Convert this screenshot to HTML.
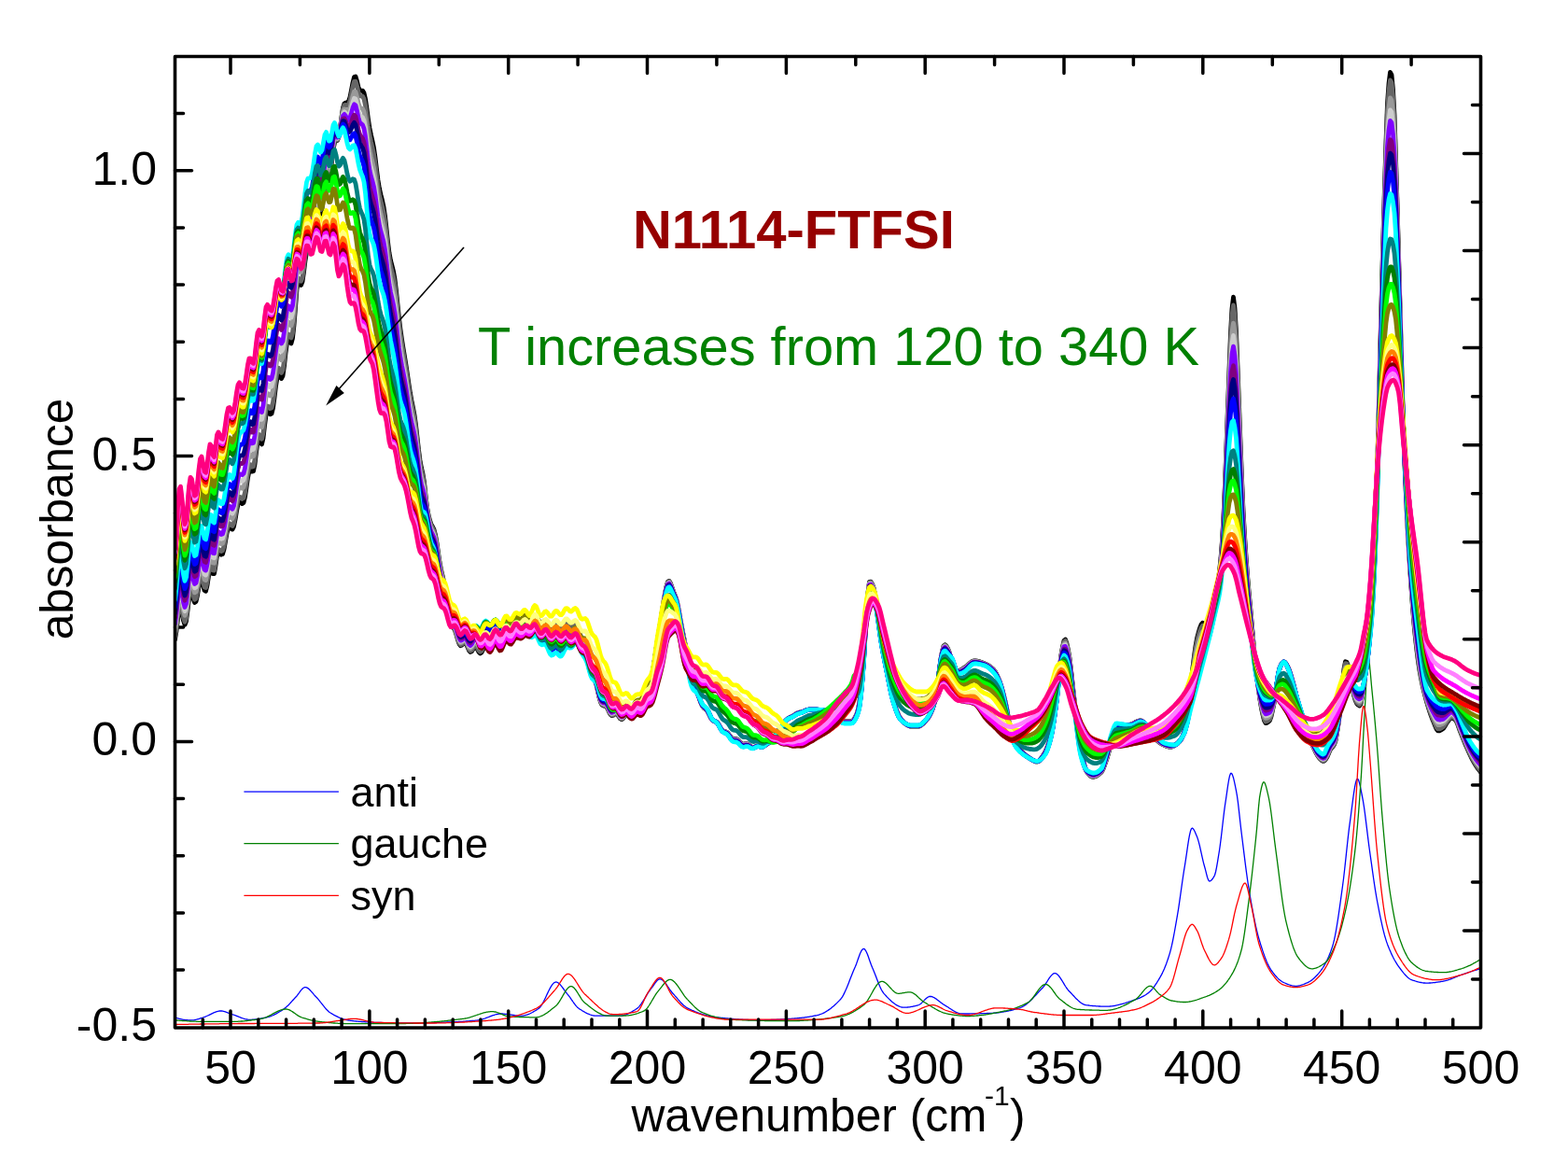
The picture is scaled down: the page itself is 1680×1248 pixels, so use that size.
<!DOCTYPE html>
<html><head><meta charset="utf-8"><title>N1114-FTFSI absorbance</title>
<style>
html,body{margin:0;padding:0;background:#fff;}
body{width:1680px;height:1248px;overflow:hidden;}
svg{display:block;}
text{font-family:'Liberation Sans', Arial, Helvetica, sans-serif;}
</style></head>
<body>
<svg width="1680" height="1248" viewBox="0 0 1680 1248">
<rect x="0" y="0" width="1680" height="1248" fill="#fff"/>
<defs><clipPath id="cp"><rect x="187.5" y="60.5" width="1399.0" height="1040.5"/></clipPath></defs>
<path d="M187.5,1039.0H196.5M187.5,977.9H196.5M187.5,916.7H196.5M187.5,855.6H196.5M187.5,794.4H205.5M187.5,733.2H196.5M187.5,672.1H196.5M187.5,610.9H196.5M187.5,549.8H196.5M187.5,488.6H205.5M187.5,427.4H196.5M187.5,366.3H196.5M187.5,305.1H196.5M187.5,244.0H196.5M187.5,182.8H205.5M187.5,121.6H196.5" fill="none" stroke="#000" stroke-width="3.5" stroke-linecap="round"/>
<g clip-path="url(#cp)">
<g fill="none" stroke-width="1.3" stroke-linejoin="round">
<polyline stroke="#0000ff" points="187.5,1089.8 188.5,1090.2 189.5,1090.6 190.5,1090.9 191.5,1091.2 192.5,1091.5 193.5,1091.7 194.5,1091.9 195.5,1092.1 196.5,1092.3 197.5,1092.4 198.5,1092.6 199.5,1092.7 200.5,1092.7 201.5,1092.8 202.5,1092.8 203.5,1092.9 204.5,1092.9 205.5,1092.9 206.5,1092.9 207.5,1092.8 208.5,1092.6 209.5,1092.4 210.5,1092.2 211.5,1091.9 212.5,1091.6 213.5,1091.3 214.5,1090.9 215.5,1090.6 216.5,1090.3 217.5,1090.0 218.5,1089.6 219.5,1089.3 220.5,1088.9 221.5,1088.5 222.5,1088.0 223.5,1087.6 224.5,1087.1 225.5,1086.6 226.5,1086.1 227.5,1085.6 228.5,1085.1 229.5,1084.7 230.5,1084.3 231.5,1083.9 232.5,1083.6 233.5,1083.4 234.5,1083.2 235.5,1083.0 236.5,1083.0 237.5,1083.0 238.5,1083.2 239.5,1083.4 240.5,1083.6 241.5,1083.9 242.5,1084.3 243.5,1084.7 244.5,1085.1 245.5,1085.4 246.5,1085.8 247.5,1086.2 248.5,1086.5 249.5,1086.9 250.5,1087.2 251.5,1087.5 252.5,1087.9 253.5,1088.3 254.5,1088.7 255.5,1089.1 256.5,1089.5 257.5,1089.9 258.5,1090.3 259.5,1090.7 260.5,1091.0 261.5,1091.3 262.5,1091.6 263.5,1091.8 264.5,1092.0 265.5,1092.2 266.5,1092.3 267.5,1092.3 268.5,1092.3 269.5,1092.3 270.5,1092.2 271.5,1092.1 272.5,1092.1 273.5,1092.0 274.5,1091.8 275.5,1091.7 276.5,1091.6 277.5,1091.4 278.5,1091.3 279.5,1091.1 280.5,1090.9 281.5,1090.7 282.5,1090.5 283.5,1090.3 284.5,1090.1 285.5,1089.9 286.5,1089.7 287.5,1089.4 288.5,1089.1 289.5,1088.8 290.5,1088.4 291.5,1088.0 292.5,1087.6 293.5,1087.1 294.5,1086.7 295.5,1086.1 296.5,1085.6 297.5,1085.0 298.5,1084.4 299.5,1083.8 300.5,1083.2 301.5,1082.6 302.5,1081.9 303.5,1081.2 304.5,1080.6 305.5,1079.8 306.5,1079.0 307.5,1078.1 308.5,1077.2 309.5,1076.2 310.5,1075.1 311.5,1074.0 312.5,1072.9 313.5,1071.8 314.5,1070.7 315.5,1069.6 316.5,1068.5 317.5,1067.5 318.5,1066.3 319.5,1064.9 320.5,1063.6 321.5,1062.2 322.5,1060.9 323.5,1059.7 324.5,1058.7 325.5,1058.0 326.5,1057.7 327.5,1057.6 328.5,1057.9 329.5,1058.4 330.5,1059.1 331.5,1060.0 332.5,1061.0 333.5,1062.1 334.5,1063.2 335.5,1064.4 336.5,1065.6 337.5,1066.7 338.5,1067.8 339.5,1068.8 340.5,1069.9 341.5,1071.1 342.5,1072.3 343.5,1073.6 344.5,1074.8 345.5,1076.1 346.5,1077.4 347.5,1078.6 348.5,1079.8 349.5,1081.0 350.5,1082.1 351.5,1083.0 352.5,1083.9 353.5,1084.7 354.5,1085.3 355.5,1085.9 356.5,1086.5 357.5,1087.1 358.5,1087.6 359.5,1088.2 360.5,1088.7 361.5,1089.2 362.5,1089.7 363.5,1090.1 364.5,1090.5 365.5,1090.9 366.5,1091.3 367.5,1091.6 368.5,1092.0 369.5,1092.2 370.5,1092.5 371.5,1092.7 372.5,1092.9 373.5,1093.0 374.5,1093.1 375.5,1093.3 376.5,1093.4 377.5,1093.5 378.5,1093.6 379.5,1093.8 380.5,1093.9 381.5,1094.0 382.5,1094.1 383.5,1094.2 384.5,1094.3 385.5,1094.4 386.5,1094.4 387.5,1094.5 388.5,1094.6 389.5,1094.7 390.5,1094.7 391.5,1094.8 392.5,1094.9 393.5,1094.9 394.5,1095.0 395.5,1095.1 396.5,1095.1 397.5,1095.2 398.5,1095.2 399.5,1095.2 400.5,1095.3 401.5,1095.3 402.5,1095.4 403.5,1095.4 404.5,1095.4 405.5,1095.5 406.5,1095.5 407.5,1095.5 408.5,1095.5 409.5,1095.6 410.5,1095.6 411.5,1095.6 412.5,1095.7 413.5,1095.7 414.5,1095.7 415.5,1095.7 416.5,1095.8 417.5,1095.8 418.5,1095.8 419.5,1095.8 420.5,1095.8 421.5,1095.9 422.5,1095.9 423.5,1095.9 424.5,1095.9 425.5,1095.9 426.5,1095.9 427.5,1096.0 428.5,1096.0 429.5,1096.0 430.5,1096.0 431.5,1096.0 432.5,1096.0 433.5,1096.0 434.5,1096.0 435.5,1096.0 436.5,1096.0 437.5,1096.0 438.5,1096.0 439.5,1096.0 440.5,1096.0 441.5,1096.0 442.5,1096.0 443.5,1095.9 444.5,1095.9 445.5,1095.9 446.5,1095.9 447.5,1095.9 448.5,1095.9 449.5,1095.9 450.5,1095.8 451.5,1095.8 452.5,1095.8 453.5,1095.8 454.5,1095.8 455.5,1095.7 456.5,1095.7 457.5,1095.7 458.5,1095.7 459.5,1095.6 460.5,1095.6 461.5,1095.6 462.5,1095.6 463.5,1095.5 464.5,1095.5 465.5,1095.5 466.5,1095.4 467.5,1095.4 468.5,1095.4 469.5,1095.3 470.5,1095.3 471.5,1095.3 472.5,1095.3 473.5,1095.2 474.5,1095.2 475.5,1095.2 476.5,1095.1 477.5,1095.1 478.5,1095.1 479.5,1095.0 480.5,1095.0 481.5,1094.9 482.5,1094.9 483.5,1094.9 484.5,1094.8 485.5,1094.8 486.5,1094.7 487.5,1094.7 488.5,1094.7 489.5,1094.6 490.5,1094.6 491.5,1094.5 492.5,1094.5 493.5,1094.4 494.5,1094.3 495.5,1094.3 496.5,1094.2 497.5,1094.2 498.5,1094.1 499.5,1094.0 500.5,1093.9 501.5,1093.9 502.5,1093.8 503.5,1093.7 504.5,1093.6 505.5,1093.5 506.5,1093.4 507.5,1093.4 508.5,1093.3 509.5,1093.2 510.5,1093.1 511.5,1093.0 512.5,1092.8 513.5,1092.7 514.5,1092.5 515.5,1092.2 516.5,1092.0 517.5,1091.7 518.5,1091.3 519.5,1091.0 520.5,1090.6 521.5,1090.2 522.5,1089.9 523.5,1089.5 524.5,1089.1 525.5,1088.7 526.5,1088.3 527.5,1087.9 528.5,1087.6 529.5,1087.3 530.5,1087.0 531.5,1086.7 532.5,1086.5 533.5,1086.3 534.5,1086.1 535.5,1086.0 536.5,1086.0 537.5,1086.0 538.5,1086.0 539.5,1086.1 540.5,1086.2 541.5,1086.3 542.5,1086.4 543.5,1086.5 544.5,1086.6 545.5,1086.8 546.5,1086.9 547.5,1087.1 548.5,1087.2 549.5,1087.4 550.5,1087.5 551.5,1087.7 552.5,1087.8 553.5,1087.9 554.5,1088.0 555.5,1088.1 556.5,1088.1 557.5,1088.2 558.5,1088.2 559.5,1088.2 560.5,1088.1 561.5,1087.9 562.5,1087.7 563.5,1087.5 564.5,1087.2 565.5,1086.8 566.5,1086.4 567.5,1086.0 568.5,1085.5 569.5,1085.0 570.5,1084.5 571.5,1083.9 572.5,1083.3 573.5,1082.7 574.5,1082.1 575.5,1081.5 576.5,1080.8 577.5,1080.1 578.5,1079.2 579.5,1077.9 580.5,1076.4 581.5,1074.6 582.5,1072.8 583.5,1070.8 584.5,1068.7 585.5,1066.5 586.5,1064.4 587.5,1062.3 588.5,1060.3 589.5,1058.4 590.5,1056.7 591.5,1055.2 592.5,1053.9 593.5,1052.9 594.5,1052.3 595.5,1052.0 596.5,1052.1 597.5,1052.5 598.5,1053.2 599.5,1054.0 600.5,1055.1 601.5,1056.3 602.5,1057.6 603.5,1059.0 604.5,1060.4 605.5,1061.8 606.5,1063.1 607.5,1064.4 608.5,1065.6 609.5,1066.9 610.5,1068.2 611.5,1069.6 612.5,1071.1 613.5,1072.5 614.5,1074.0 615.5,1075.3 616.5,1076.6 617.5,1077.9 618.5,1078.9 619.5,1079.8 620.5,1080.6 621.5,1081.2 622.5,1081.8 623.5,1082.5 624.5,1083.1 625.5,1083.6 626.5,1084.2 627.5,1084.8 628.5,1085.3 629.5,1085.8 630.5,1086.2 631.5,1086.6 632.5,1087.0 633.5,1087.3 634.5,1087.6 635.5,1087.8 636.5,1088.0 637.5,1088.1 638.5,1088.2 639.5,1088.2 640.5,1088.2 641.5,1088.2 642.5,1088.2 643.5,1088.2 644.5,1088.2 645.5,1088.2 646.5,1088.2 647.5,1088.2 648.5,1088.2 649.5,1088.2 650.5,1088.2 651.5,1088.2 652.5,1088.2 653.5,1088.2 654.5,1088.2 655.5,1088.2 656.5,1088.2 657.5,1088.2 658.5,1088.2 659.5,1088.2 660.5,1088.2 661.5,1088.2 662.5,1088.2 663.5,1088.2 664.5,1088.2 665.5,1088.1 666.5,1088.0 667.5,1087.8 668.5,1087.5 669.5,1087.2 670.5,1086.9 671.5,1086.5 672.5,1086.1 673.5,1085.6 674.5,1085.2 675.5,1084.6 676.5,1084.1 677.5,1083.5 678.5,1082.9 679.5,1082.3 680.5,1081.7 681.5,1081.0 682.5,1080.4 683.5,1079.6 684.5,1078.6 685.5,1077.4 686.5,1076.1 687.5,1074.7 688.5,1073.2 689.5,1071.6 690.5,1070.0 691.5,1068.3 692.5,1066.7 693.5,1065.0 694.5,1063.4 695.5,1061.9 696.5,1060.5 697.5,1059.2 698.5,1057.9 699.5,1056.5 700.5,1055.1 701.5,1053.6 702.5,1052.3 703.5,1051.0 704.5,1050.0 705.5,1049.3 706.5,1048.9 707.5,1048.8 708.5,1049.1 709.5,1049.7 710.5,1050.5 711.5,1051.5 712.5,1052.7 713.5,1054.0 714.5,1055.4 715.5,1056.9 716.5,1058.3 717.5,1059.8 718.5,1061.2 719.5,1062.5 720.5,1063.8 721.5,1064.8 722.5,1065.9 723.5,1067.1 724.5,1068.2 725.5,1069.4 726.5,1070.6 727.5,1071.7 728.5,1072.9 729.5,1074.0 730.5,1075.0 731.5,1076.0 732.5,1077.0 733.5,1077.8 734.5,1078.6 735.5,1079.3 736.5,1079.9 737.5,1080.4 738.5,1080.9 739.5,1081.3 740.5,1081.8 741.5,1082.3 742.5,1082.7 743.5,1083.1 744.5,1083.6 745.5,1084.0 746.5,1084.4 747.5,1084.8 748.5,1085.1 749.5,1085.5 750.5,1085.8 751.5,1086.2 752.5,1086.5 753.5,1086.8 754.5,1087.1 755.5,1087.4 756.5,1087.6 757.5,1087.9 758.5,1088.1 759.5,1088.4 760.5,1088.6 761.5,1088.8 762.5,1089.0 763.5,1089.1 764.5,1089.3 765.5,1089.5 766.5,1089.6 767.5,1089.7 768.5,1089.8 769.5,1089.9 770.5,1090.1 771.5,1090.2 772.5,1090.3 773.5,1090.4 774.5,1090.5 775.5,1090.6 776.5,1090.7 777.5,1090.8 778.5,1090.9 779.5,1091.0 780.5,1091.1 781.5,1091.2 782.5,1091.3 783.5,1091.4 784.5,1091.4 785.5,1091.5 786.5,1091.6 787.5,1091.7 788.5,1091.8 789.5,1091.8 790.5,1091.9 791.5,1092.0 792.5,1092.1 793.5,1092.1 794.5,1092.2 795.5,1092.2 796.5,1092.3 797.5,1092.4 798.5,1092.4 799.5,1092.5 800.5,1092.5 801.5,1092.5 802.5,1092.6 803.5,1092.6 804.5,1092.6 805.5,1092.7 806.5,1092.7 807.5,1092.7 808.5,1092.7 809.5,1092.8 810.5,1092.8 811.5,1092.8 812.5,1092.8 813.5,1092.8 814.5,1092.8 815.5,1092.8 816.5,1092.8 817.5,1092.8 818.5,1092.8 819.5,1092.7 820.5,1092.7 821.5,1092.7 822.5,1092.7 823.5,1092.6 824.5,1092.6 825.5,1092.6 826.5,1092.5 827.5,1092.5 828.5,1092.4 829.5,1092.4 830.5,1092.3 831.5,1092.3 832.5,1092.2 833.5,1092.2 834.5,1092.1 835.5,1092.1 836.5,1092.0 837.5,1092.0 838.5,1091.9 839.5,1091.8 840.5,1091.8 841.5,1091.7 842.5,1091.6 843.5,1091.6 844.5,1091.5 845.5,1091.5 846.5,1091.4 847.5,1091.3 848.5,1091.2 849.5,1091.2 850.5,1091.1 851.5,1091.0 852.5,1090.9 853.5,1090.8 854.5,1090.7 855.5,1090.6 856.5,1090.5 857.5,1090.4 858.5,1090.3 859.5,1090.2 860.5,1090.1 861.5,1090.0 862.5,1089.8 863.5,1089.7 864.5,1089.6 865.5,1089.4 866.5,1089.3 867.5,1089.1 868.5,1088.9 869.5,1088.8 870.5,1088.6 871.5,1088.4 872.5,1088.2 873.5,1088.0 874.5,1087.8 875.5,1087.6 876.5,1087.3 877.5,1087.1 878.5,1086.7 879.5,1086.4 880.5,1086.0 881.5,1085.6 882.5,1085.1 883.5,1084.6 884.5,1084.0 885.5,1083.4 886.5,1082.8 887.5,1082.1 888.5,1081.4 889.5,1080.7 890.5,1079.9 891.5,1079.1 892.5,1078.3 893.5,1077.4 894.5,1076.5 895.5,1075.6 896.5,1074.6 897.5,1073.6 898.5,1072.6 899.5,1071.6 900.5,1070.5 901.5,1069.3 902.5,1067.8 903.5,1066.1 904.5,1064.1 905.5,1062.0 906.5,1059.8 907.5,1057.4 908.5,1054.9 909.5,1052.4 910.5,1049.8 911.5,1047.3 912.5,1044.7 913.5,1042.2 914.5,1039.8 915.5,1037.5 916.5,1035.3 917.5,1032.7 918.5,1029.9 919.5,1027.0 920.5,1024.2 921.5,1021.6 922.5,1019.4 923.5,1017.7 924.5,1016.6 925.5,1016.3 926.5,1016.9 927.5,1018.3 928.5,1020.2 929.5,1022.6 930.5,1025.3 931.5,1028.2 932.5,1031.0 933.5,1033.7 934.5,1036.2 935.5,1038.5 936.5,1040.9 937.5,1043.4 938.5,1046.0 939.5,1048.7 940.5,1051.3 941.5,1053.8 942.5,1056.2 943.5,1058.4 944.5,1060.5 945.5,1062.2 946.5,1063.7 947.5,1064.9 948.5,1065.9 949.5,1067.0 950.5,1068.1 951.5,1069.1 952.5,1070.1 953.5,1071.1 954.5,1072.0 955.5,1072.9 956.5,1073.7 957.5,1074.5 958.5,1075.3 959.5,1076.0 960.5,1076.6 961.5,1077.2 962.5,1077.7 963.5,1078.1 964.5,1078.5 965.5,1078.8 966.5,1079.0 967.5,1079.1 968.5,1079.2 969.5,1079.2 970.5,1079.2 971.5,1079.1 972.5,1079.0 973.5,1078.9 974.5,1078.8 975.5,1078.6 976.5,1078.4 977.5,1078.3 978.5,1078.0 979.5,1077.8 980.5,1077.6 981.5,1077.4 982.5,1077.1 983.5,1076.8 984.5,1076.5 985.5,1076.0 986.5,1075.3 987.5,1074.4 988.5,1073.4 989.5,1072.4 990.5,1071.4 991.5,1070.3 992.5,1069.4 993.5,1068.6 994.5,1068.0 995.5,1067.5 996.5,1067.4 997.5,1067.5 998.5,1067.7 999.5,1068.1 1000.5,1068.5 1001.5,1069.1 1002.5,1069.7 1003.5,1070.4 1004.5,1071.2 1005.5,1072.0 1006.5,1072.8 1007.5,1073.6 1008.5,1074.3 1009.5,1075.1 1010.5,1075.8 1011.5,1076.4 1012.5,1077.0 1013.5,1077.6 1014.5,1078.2 1015.5,1078.8 1016.5,1079.5 1017.5,1080.2 1018.5,1080.8 1019.5,1081.5 1020.5,1082.1 1021.5,1082.7 1022.5,1083.3 1023.5,1083.9 1024.5,1084.4 1025.5,1084.8 1026.5,1085.2 1027.5,1085.5 1028.5,1085.8 1029.5,1085.9 1030.5,1086.0 1031.5,1086.0 1032.5,1086.0 1033.5,1086.0 1034.5,1086.0 1035.5,1086.0 1036.5,1086.0 1037.5,1086.0 1038.5,1086.0 1039.5,1085.9 1040.5,1085.9 1041.5,1085.9 1042.5,1085.9 1043.5,1085.9 1044.5,1085.9 1045.5,1085.8 1046.5,1085.8 1047.5,1085.8 1048.5,1085.8 1049.5,1085.8 1050.5,1085.7 1051.5,1085.7 1052.5,1085.7 1053.5,1085.7 1054.5,1085.6 1055.5,1085.6 1056.5,1085.6 1057.5,1085.5 1058.5,1085.5 1059.5,1085.5 1060.5,1085.4 1061.5,1085.4 1062.5,1085.4 1063.5,1085.3 1064.5,1085.2 1065.5,1085.2 1066.5,1085.1 1067.5,1085.0 1068.5,1084.9 1069.5,1084.8 1070.5,1084.7 1071.5,1084.5 1072.5,1084.4 1073.5,1084.2 1074.5,1084.1 1075.5,1083.9 1076.5,1083.7 1077.5,1083.6 1078.5,1083.4 1079.5,1083.2 1080.5,1083.0 1081.5,1082.7 1082.5,1082.5 1083.5,1082.3 1084.5,1082.0 1085.5,1081.8 1086.5,1081.5 1087.5,1081.2 1088.5,1081.0 1089.5,1080.7 1090.5,1080.4 1091.5,1080.1 1092.5,1079.8 1093.5,1079.5 1094.5,1079.0 1095.5,1078.5 1096.5,1078.0 1097.5,1077.3 1098.5,1076.6 1099.5,1075.9 1100.5,1075.1 1101.5,1074.2 1102.5,1073.4 1103.5,1072.4 1104.5,1071.5 1105.5,1070.5 1106.5,1069.5 1107.5,1068.4 1108.5,1067.3 1109.5,1066.3 1110.5,1065.2 1111.5,1064.1 1112.5,1063.0 1113.5,1061.9 1114.5,1060.8 1115.5,1059.8 1116.5,1058.7 1117.5,1057.7 1118.5,1056.5 1119.5,1055.1 1120.5,1053.6 1121.5,1052.1 1122.5,1050.5 1123.5,1048.9 1124.5,1047.4 1125.5,1046.1 1126.5,1044.9 1127.5,1043.9 1128.5,1043.1 1129.5,1042.7 1130.5,1042.6 1131.5,1042.9 1132.5,1043.5 1133.5,1044.4 1134.5,1045.5 1135.5,1046.8 1136.5,1048.3 1137.5,1049.9 1138.5,1051.5 1139.5,1053.2 1140.5,1054.9 1141.5,1056.5 1142.5,1058.0 1143.5,1059.4 1144.5,1060.7 1145.5,1061.7 1146.5,1062.7 1147.5,1063.8 1148.5,1064.9 1149.5,1066.0 1150.5,1067.0 1151.5,1068.1 1152.5,1069.2 1153.5,1070.2 1154.5,1071.1 1155.5,1072.1 1156.5,1072.9 1157.5,1073.7 1158.5,1074.5 1159.5,1075.1 1160.5,1075.7 1161.5,1076.1 1162.5,1076.5 1163.5,1076.7 1164.5,1076.8 1165.5,1076.9 1166.5,1077.0 1167.5,1077.2 1168.5,1077.3 1169.5,1077.4 1170.5,1077.5 1171.5,1077.6 1172.5,1077.6 1173.5,1077.7 1174.5,1077.8 1175.5,1077.9 1176.5,1077.9 1177.5,1078.0 1178.5,1078.0 1179.5,1078.1 1180.5,1078.1 1181.5,1078.1 1182.5,1078.2 1183.5,1078.2 1184.5,1078.2 1185.5,1078.2 1186.5,1078.2 1187.5,1078.1 1188.5,1078.1 1189.5,1078.0 1190.5,1077.9 1191.5,1077.8 1192.5,1077.6 1193.5,1077.5 1194.5,1077.3 1195.5,1077.1 1196.5,1076.9 1197.5,1076.7 1198.5,1076.4 1199.5,1076.2 1200.5,1075.9 1201.5,1075.6 1202.5,1075.4 1203.5,1075.1 1204.5,1074.8 1205.5,1074.5 1206.5,1074.1 1207.5,1073.8 1208.5,1073.5 1209.5,1073.1 1210.5,1072.8 1211.5,1072.5 1212.5,1072.1 1213.5,1071.8 1214.5,1071.4 1215.5,1071.1 1216.5,1070.8 1217.5,1070.4 1218.5,1070.1 1219.5,1069.7 1220.5,1069.3 1221.5,1068.8 1222.5,1068.4 1223.5,1067.9 1224.5,1067.4 1225.5,1066.9 1226.5,1066.3 1227.5,1065.7 1228.5,1065.0 1229.5,1064.3 1230.5,1063.6 1231.5,1062.7 1232.5,1061.8 1233.5,1060.7 1234.5,1059.6 1235.5,1058.3 1236.5,1057.0 1237.5,1055.6 1238.5,1054.1 1239.5,1052.6 1240.5,1051.0 1241.5,1049.4 1242.5,1047.7 1243.5,1045.9 1244.5,1044.1 1245.5,1042.1 1246.5,1039.9 1247.5,1037.7 1248.5,1035.2 1249.5,1032.7 1250.5,1029.9 1251.5,1027.0 1252.5,1023.9 1253.5,1020.6 1254.5,1016.9 1255.5,1012.7 1256.5,1008.0 1257.5,1002.9 1258.5,997.5 1259.5,991.9 1260.5,986.2 1261.5,980.4 1262.5,974.3 1263.5,967.7 1264.5,960.7 1265.5,953.5 1266.5,946.4 1267.5,939.5 1268.5,932.9 1269.5,926.8 1270.5,920.4 1271.5,913.6 1272.5,906.7 1273.5,900.2 1274.5,894.6 1275.5,890.3 1276.5,887.7 1277.5,887.1 1278.5,887.9 1279.5,889.5 1280.5,891.5 1281.5,893.9 1282.5,896.3 1283.5,899.1 1284.5,902.6 1285.5,906.7 1286.5,911.1 1287.5,915.6 1288.5,920.1 1289.5,924.3 1290.5,928.0 1291.5,931.7 1292.5,935.7 1293.5,939.5 1294.5,942.4 1295.5,943.9 1296.5,943.9 1297.5,943.3 1298.5,942.3 1299.5,941.0 1300.5,939.4 1301.5,937.5 1302.5,934.0 1303.5,929.1 1304.5,923.3 1305.5,917.1 1306.5,911.0 1307.5,903.9 1308.5,895.9 1309.5,887.2 1310.5,878.5 1311.5,870.1 1312.5,862.6 1313.5,856.1 1314.5,849.2 1315.5,842.2 1316.5,836.0 1317.5,831.2 1318.5,828.5 1319.5,828.3 1320.5,830.1 1321.5,833.2 1322.5,837.4 1323.5,842.2 1324.5,847.2 1325.5,852.8 1326.5,860.2 1327.5,868.9 1328.5,878.0 1329.5,886.9 1330.5,895.0 1331.5,903.0 1332.5,911.1 1333.5,919.2 1334.5,927.1 1335.5,934.7 1336.5,942.0 1337.5,948.7 1338.5,954.8 1339.5,960.8 1340.5,966.6 1341.5,972.2 1342.5,977.6 1343.5,982.7 1344.5,987.7 1345.5,992.3 1346.5,996.7 1347.5,1000.7 1348.5,1004.4 1349.5,1007.8 1350.5,1011.1 1351.5,1014.3 1352.5,1017.4 1353.5,1020.4 1354.5,1023.3 1355.5,1026.0 1356.5,1028.5 1357.5,1030.9 1358.5,1033.1 1359.5,1035.1 1360.5,1036.9 1361.5,1038.6 1362.5,1040.0 1363.5,1041.4 1364.5,1042.7 1365.5,1044.0 1366.5,1045.2 1367.5,1046.3 1368.5,1047.4 1369.5,1048.4 1370.5,1049.3 1371.5,1050.1 1372.5,1050.8 1373.5,1051.5 1374.5,1052.1 1375.5,1052.5 1376.5,1053.0 1377.5,1053.4 1378.5,1053.9 1379.5,1054.3 1380.5,1054.7 1381.5,1055.0 1382.5,1055.3 1383.5,1055.6 1384.5,1055.9 1385.5,1056.1 1386.5,1056.2 1387.5,1056.3 1388.5,1056.3 1389.5,1056.3 1390.5,1056.1 1391.5,1056.0 1392.5,1055.8 1393.5,1055.5 1394.5,1055.2 1395.5,1054.8 1396.5,1054.5 1397.5,1054.1 1398.5,1053.6 1399.5,1053.2 1400.5,1052.8 1401.5,1052.3 1402.5,1051.8 1403.5,1051.2 1404.5,1050.6 1405.5,1049.9 1406.5,1049.1 1407.5,1048.2 1408.5,1047.3 1409.5,1046.3 1410.5,1045.3 1411.5,1044.2 1412.5,1043.1 1413.5,1041.9 1414.5,1040.7 1415.5,1039.4 1416.5,1038.0 1417.5,1036.5 1418.5,1034.9 1419.5,1033.2 1420.5,1031.3 1421.5,1029.4 1422.5,1027.2 1423.5,1025.0 1424.5,1022.5 1425.5,1019.9 1426.5,1017.1 1427.5,1014.2 1428.5,1010.9 1429.5,1006.9 1430.5,1002.2 1431.5,996.8 1432.5,990.9 1433.5,984.6 1434.5,977.8 1435.5,970.8 1436.5,963.7 1437.5,956.4 1438.5,949.2 1439.5,941.5 1440.5,932.8 1441.5,923.6 1442.5,914.1 1443.5,904.7 1444.5,895.6 1445.5,887.2 1446.5,879.8 1447.5,872.4 1448.5,864.7 1449.5,856.9 1450.5,849.7 1451.5,843.4 1452.5,838.4 1453.5,835.2 1454.5,834.2 1455.5,835.5 1456.5,838.6 1457.5,842.9 1458.5,847.9 1459.5,853.0 1460.5,858.3 1461.5,864.7 1462.5,871.9 1463.5,879.8 1464.5,887.9 1465.5,896.1 1466.5,904.1 1467.5,911.5 1468.5,918.6 1469.5,925.7 1470.5,932.9 1471.5,940.0 1472.5,946.8 1473.5,953.3 1474.5,959.4 1475.5,965.0 1476.5,970.2 1477.5,975.3 1478.5,980.3 1479.5,985.1 1480.5,989.7 1481.5,994.1 1482.5,998.2 1483.5,1002.0 1484.5,1005.4 1485.5,1008.6 1486.5,1011.4 1487.5,1014.0 1488.5,1016.5 1489.5,1018.8 1490.5,1021.1 1491.5,1023.2 1492.5,1025.3 1493.5,1027.2 1494.5,1029.0 1495.5,1030.7 1496.5,1032.3 1497.5,1033.9 1498.5,1035.3 1499.5,1036.7 1500.5,1038.0 1501.5,1039.3 1502.5,1040.6 1503.5,1041.9 1504.5,1043.1 1505.5,1044.2 1506.5,1045.3 1507.5,1046.3 1508.5,1047.2 1509.5,1048.0 1510.5,1048.7 1511.5,1049.3 1512.5,1049.7 1513.5,1050.1 1514.5,1050.4 1515.5,1050.7 1516.5,1051.0 1517.5,1051.3 1518.5,1051.6 1519.5,1051.9 1520.5,1052.1 1521.5,1052.3 1522.5,1052.5 1523.5,1052.7 1524.5,1052.8 1525.5,1053.0 1526.5,1053.0 1527.5,1053.1 1528.5,1053.1 1529.5,1053.1 1530.5,1053.1 1531.5,1053.0 1532.5,1053.0 1533.5,1052.9 1534.5,1052.8 1535.5,1052.7 1536.5,1052.6 1537.5,1052.5 1538.5,1052.3 1539.5,1052.2 1540.5,1052.1 1541.5,1051.9 1542.5,1051.8 1543.5,1051.6 1544.5,1051.4 1545.5,1051.3 1546.5,1051.1 1547.5,1050.9 1548.5,1050.7 1549.5,1050.4 1550.5,1050.2 1551.5,1049.9 1552.5,1049.5 1553.5,1049.2 1554.5,1048.8 1555.5,1048.4 1556.5,1048.0 1557.5,1047.6 1558.5,1047.1 1559.5,1046.7 1560.5,1046.3 1561.5,1045.9 1562.5,1045.5 1563.5,1045.1 1564.5,1044.7 1565.5,1044.4 1566.5,1044.0 1567.5,1043.7 1568.5,1043.3 1569.5,1043.0 1570.5,1042.7 1571.5,1042.3 1572.5,1042.0 1573.5,1041.7 1574.5,1041.3 1575.5,1041.0 1576.5,1040.7 1577.5,1040.4 1578.5,1040.0 1579.5,1039.7 1580.5,1039.4 1581.5,1039.1 1582.5,1038.8 1583.5,1038.4 1584.5,1038.1 1585.5,1037.8 1586.5,1037.5"/>
<polyline stroke="#008000" points="187.5,1092.9 188.5,1093.0 189.5,1093.0 190.5,1093.1 191.5,1093.2 192.5,1093.3 193.5,1093.3 194.5,1093.4 195.5,1093.5 196.5,1093.5 197.5,1093.6 198.5,1093.7 199.5,1093.7 200.5,1093.8 201.5,1093.9 202.5,1093.9 203.5,1094.0 204.5,1094.0 205.5,1094.1 206.5,1094.1 207.5,1094.2 208.5,1094.2 209.5,1094.2 210.5,1094.3 211.5,1094.3 212.5,1094.3 213.5,1094.4 214.5,1094.4 215.5,1094.4 216.5,1094.4 217.5,1094.4 218.5,1094.4 219.5,1094.4 220.5,1094.4 221.5,1094.4 222.5,1094.4 223.5,1094.4 224.5,1094.4 225.5,1094.4 226.5,1094.4 227.5,1094.4 228.5,1094.4 229.5,1094.4 230.5,1094.4 231.5,1094.4 232.5,1094.4 233.5,1094.4 234.5,1094.4 235.5,1094.4 236.5,1094.4 237.5,1094.4 238.5,1094.4 239.5,1094.4 240.5,1094.4 241.5,1094.4 242.5,1094.4 243.5,1094.4 244.5,1094.4 245.5,1094.4 246.5,1094.4 247.5,1094.4 248.5,1094.4 249.5,1094.4 250.5,1094.4 251.5,1094.4 252.5,1094.3 253.5,1094.3 254.5,1094.3 255.5,1094.2 256.5,1094.2 257.5,1094.1 258.5,1094.0 259.5,1094.0 260.5,1093.9 261.5,1093.8 262.5,1093.7 263.5,1093.6 264.5,1093.5 265.5,1093.4 266.5,1093.2 267.5,1093.1 268.5,1093.0 269.5,1092.9 270.5,1092.7 271.5,1092.6 272.5,1092.5 273.5,1092.3 274.5,1092.2 275.5,1092.0 276.5,1091.9 277.5,1091.7 278.5,1091.5 279.5,1091.4 280.5,1091.2 281.5,1091.0 282.5,1090.7 283.5,1090.4 284.5,1090.0 285.5,1089.6 286.5,1089.1 287.5,1088.6 288.5,1088.1 289.5,1087.6 290.5,1087.1 291.5,1086.5 292.5,1085.9 293.5,1085.4 294.5,1084.9 295.5,1084.3 296.5,1083.8 297.5,1083.3 298.5,1082.9 299.5,1082.5 300.5,1082.1 301.5,1081.8 302.5,1081.5 303.5,1081.3 304.5,1081.1 305.5,1081.0 306.5,1081.0 307.5,1081.1 308.5,1081.4 309.5,1081.7 310.5,1082.2 311.5,1082.7 312.5,1083.3 313.5,1083.9 314.5,1084.6 315.5,1085.3 316.5,1086.0 317.5,1086.8 318.5,1087.4 319.5,1088.1 320.5,1088.7 321.5,1089.2 322.5,1089.6 323.5,1090.0 324.5,1090.3 325.5,1090.6 326.5,1090.9 327.5,1091.2 328.5,1091.5 329.5,1091.8 330.5,1092.1 331.5,1092.4 332.5,1092.6 333.5,1092.9 334.5,1093.1 335.5,1093.3 336.5,1093.6 337.5,1093.7 338.5,1093.9 339.5,1094.1 340.5,1094.2 341.5,1094.4 342.5,1094.5 343.5,1094.6 344.5,1094.7 345.5,1094.8 346.5,1094.9 347.5,1095.0 348.5,1095.1 349.5,1095.2 350.5,1095.3 351.5,1095.4 352.5,1095.5 353.5,1095.6 354.5,1095.7 355.5,1095.8 356.5,1095.9 357.5,1096.0 358.5,1096.0 359.5,1096.1 360.5,1096.2 361.5,1096.2 362.5,1096.3 363.5,1096.3 364.5,1096.4 365.5,1096.4 366.5,1096.5 367.5,1096.5 368.5,1096.5 369.5,1096.6 370.5,1096.6 371.5,1096.6 372.5,1096.6 373.5,1096.6 374.5,1096.6 375.5,1096.6 376.5,1096.6 377.5,1096.6 378.5,1096.6 379.5,1096.6 380.5,1096.6 381.5,1096.6 382.5,1096.6 383.5,1096.6 384.5,1096.6 385.5,1096.6 386.5,1096.6 387.5,1096.6 388.5,1096.6 389.5,1096.6 390.5,1096.6 391.5,1096.6 392.5,1096.6 393.5,1096.6 394.5,1096.6 395.5,1096.6 396.5,1096.6 397.5,1096.6 398.5,1096.6 399.5,1096.6 400.5,1096.6 401.5,1096.6 402.5,1096.6 403.5,1096.6 404.5,1096.6 405.5,1096.6 406.5,1096.6 407.5,1096.6 408.5,1096.6 409.5,1096.6 410.5,1096.6 411.5,1096.6 412.5,1096.6 413.5,1096.5 414.5,1096.5 415.5,1096.5 416.5,1096.5 417.5,1096.5 418.5,1096.5 419.5,1096.5 420.5,1096.5 421.5,1096.5 422.5,1096.5 423.5,1096.5 424.5,1096.5 425.5,1096.5 426.5,1096.5 427.5,1096.5 428.5,1096.5 429.5,1096.5 430.5,1096.5 431.5,1096.5 432.5,1096.5 433.5,1096.5 434.5,1096.5 435.5,1096.4 436.5,1096.4 437.5,1096.4 438.5,1096.4 439.5,1096.3 440.5,1096.3 441.5,1096.3 442.5,1096.2 443.5,1096.2 444.5,1096.2 445.5,1096.1 446.5,1096.1 447.5,1096.0 448.5,1096.0 449.5,1095.9 450.5,1095.8 451.5,1095.8 452.5,1095.7 453.5,1095.7 454.5,1095.6 455.5,1095.5 456.5,1095.5 457.5,1095.4 458.5,1095.3 459.5,1095.2 460.5,1095.2 461.5,1095.1 462.5,1095.0 463.5,1094.9 464.5,1094.8 465.5,1094.7 466.5,1094.6 467.5,1094.6 468.5,1094.5 469.5,1094.4 470.5,1094.3 471.5,1094.2 472.5,1094.1 473.5,1094.0 474.5,1093.9 475.5,1093.8 476.5,1093.7 477.5,1093.6 478.5,1093.5 479.5,1093.3 480.5,1093.2 481.5,1093.1 482.5,1093.0 483.5,1092.9 484.5,1092.8 485.5,1092.7 486.5,1092.5 487.5,1092.4 488.5,1092.3 489.5,1092.2 490.5,1092.1 491.5,1091.9 492.5,1091.8 493.5,1091.7 494.5,1091.6 495.5,1091.4 496.5,1091.3 497.5,1091.2 498.5,1091.0 499.5,1090.8 500.5,1090.6 501.5,1090.3 502.5,1090.1 503.5,1089.8 504.5,1089.5 505.5,1089.2 506.5,1088.9 507.5,1088.5 508.5,1088.2 509.5,1087.8 510.5,1087.5 511.5,1087.1 512.5,1086.8 513.5,1086.5 514.5,1086.1 515.5,1085.8 516.5,1085.5 517.5,1085.2 518.5,1084.9 519.5,1084.7 520.5,1084.5 521.5,1084.2 522.5,1084.1 523.5,1083.9 524.5,1083.8 525.5,1083.7 526.5,1083.6 527.5,1083.6 528.5,1083.6 529.5,1083.8 530.5,1084.0 531.5,1084.2 532.5,1084.5 533.5,1084.9 534.5,1085.2 535.5,1085.6 536.5,1086.1 537.5,1086.5 538.5,1086.9 539.5,1087.3 540.5,1087.7 541.5,1088.1 542.5,1088.4 543.5,1088.6 544.5,1088.8 545.5,1089.0 546.5,1089.0 547.5,1089.1 548.5,1089.1 549.5,1089.2 550.5,1089.2 551.5,1089.3 552.5,1089.3 553.5,1089.4 554.5,1089.4 555.5,1089.4 556.5,1089.5 557.5,1089.5 558.5,1089.5 559.5,1089.6 560.5,1089.6 561.5,1089.6 562.5,1089.7 563.5,1089.7 564.5,1089.7 565.5,1089.7 566.5,1089.7 567.5,1089.8 568.5,1089.8 569.5,1089.8 570.5,1089.8 571.5,1089.8 572.5,1089.8 573.5,1089.8 574.5,1089.8 575.5,1089.7 576.5,1089.6 577.5,1089.3 578.5,1089.0 579.5,1088.7 580.5,1088.2 581.5,1087.8 582.5,1087.2 583.5,1086.6 584.5,1086.0 585.5,1085.4 586.5,1084.7 587.5,1083.9 588.5,1083.2 589.5,1082.4 590.5,1081.6 591.5,1080.8 592.5,1080.0 593.5,1079.2 594.5,1078.4 595.5,1077.6 596.5,1076.7 597.5,1075.5 598.5,1074.2 599.5,1072.7 600.5,1071.0 601.5,1069.3 602.5,1067.6 603.5,1065.8 604.5,1064.1 605.5,1062.4 606.5,1060.9 607.5,1059.6 608.5,1058.4 609.5,1057.5 610.5,1056.9 611.5,1056.6 612.5,1056.7 613.5,1057.1 614.5,1057.8 615.5,1058.8 616.5,1060.0 617.5,1061.4 618.5,1062.9 619.5,1064.5 620.5,1066.1 621.5,1067.7 622.5,1069.3 623.5,1070.8 624.5,1072.1 625.5,1073.3 626.5,1074.2 627.5,1075.0 628.5,1075.8 629.5,1076.6 630.5,1077.4 631.5,1078.2 632.5,1079.0 633.5,1079.8 634.5,1080.5 635.5,1081.3 636.5,1082.0 637.5,1082.7 638.5,1083.4 639.5,1084.0 640.5,1084.6 641.5,1085.2 642.5,1085.7 643.5,1086.2 644.5,1086.7 645.5,1087.1 646.5,1087.4 647.5,1087.7 648.5,1087.9 649.5,1088.1 650.5,1088.2 651.5,1088.2 652.5,1088.2 653.5,1088.2 654.5,1088.2 655.5,1088.2 656.5,1088.2 657.5,1088.2 658.5,1088.2 659.5,1088.2 660.5,1088.1 661.5,1088.1 662.5,1088.1 663.5,1088.1 664.5,1088.1 665.5,1088.1 666.5,1088.1 667.5,1088.0 668.5,1088.0 669.5,1088.0 670.5,1088.0 671.5,1087.9 672.5,1087.9 673.5,1087.8 674.5,1087.6 675.5,1087.5 676.5,1087.3 677.5,1087.1 678.5,1086.9 679.5,1086.6 680.5,1086.4 681.5,1086.1 682.5,1085.8 683.5,1085.5 684.5,1085.1 685.5,1084.7 686.5,1084.4 687.5,1084.0 688.5,1083.6 689.5,1083.1 690.5,1082.6 691.5,1081.9 692.5,1081.0 693.5,1079.8 694.5,1078.5 695.5,1077.0 696.5,1075.4 697.5,1073.8 698.5,1072.0 699.5,1070.3 700.5,1068.6 701.5,1067.0 702.5,1065.4 703.5,1063.9 704.5,1062.6 705.5,1061.4 706.5,1060.2 707.5,1058.9 708.5,1057.6 709.5,1056.3 710.5,1055.0 711.5,1053.8 712.5,1052.7 713.5,1051.7 714.5,1050.8 715.5,1050.1 716.5,1049.7 717.5,1049.4 718.5,1049.4 719.5,1049.7 720.5,1050.2 721.5,1050.9 722.5,1051.8 723.5,1052.9 724.5,1054.0 725.5,1055.3 726.5,1056.7 727.5,1058.2 728.5,1059.7 729.5,1061.2 730.5,1062.7 731.5,1064.2 732.5,1065.7 733.5,1067.1 734.5,1068.4 735.5,1069.5 736.5,1070.6 737.5,1071.6 738.5,1072.7 739.5,1073.7 740.5,1074.8 741.5,1075.8 742.5,1076.9 743.5,1077.9 744.5,1078.9 745.5,1079.8 746.5,1080.7 747.5,1081.6 748.5,1082.3 749.5,1083.0 750.5,1083.7 751.5,1084.2 752.5,1084.6 753.5,1085.0 754.5,1085.4 755.5,1085.8 756.5,1086.2 757.5,1086.6 758.5,1086.9 759.5,1087.3 760.5,1087.6 761.5,1088.0 762.5,1088.3 763.5,1088.6 764.5,1088.9 765.5,1089.2 766.5,1089.5 767.5,1089.7 768.5,1090.0 769.5,1090.2 770.5,1090.5 771.5,1090.7 772.5,1090.9 773.5,1091.1 774.5,1091.3 775.5,1091.4 776.5,1091.6 777.5,1091.7 778.5,1091.8 779.5,1091.9 780.5,1092.0 781.5,1092.1 782.5,1092.2 783.5,1092.2 784.5,1092.3 785.5,1092.3 786.5,1092.4 787.5,1092.4 788.5,1092.5 789.5,1092.5 790.5,1092.5 791.5,1092.6 792.5,1092.6 793.5,1092.7 794.5,1092.7 795.5,1092.8 796.5,1092.8 797.5,1092.8 798.5,1092.9 799.5,1092.9 800.5,1092.9 801.5,1093.0 802.5,1093.0 803.5,1093.0 804.5,1093.1 805.5,1093.1 806.5,1093.1 807.5,1093.2 808.5,1093.2 809.5,1093.2 810.5,1093.2 811.5,1093.3 812.5,1093.3 813.5,1093.3 814.5,1093.3 815.5,1093.4 816.5,1093.4 817.5,1093.4 818.5,1093.4 819.5,1093.5 820.5,1093.5 821.5,1093.5 822.5,1093.5 823.5,1093.5 824.5,1093.5 825.5,1093.6 826.5,1093.6 827.5,1093.6 828.5,1093.6 829.5,1093.6 830.5,1093.6 831.5,1093.6 832.5,1093.6 833.5,1093.7 834.5,1093.7 835.5,1093.7 836.5,1093.7 837.5,1093.7 838.5,1093.7 839.5,1093.7 840.5,1093.7 841.5,1093.7 842.5,1093.7 843.5,1093.7 844.5,1093.7 845.5,1093.7 846.5,1093.7 847.5,1093.7 848.5,1093.7 849.5,1093.7 850.5,1093.6 851.5,1093.6 852.5,1093.6 853.5,1093.6 854.5,1093.5 855.5,1093.5 856.5,1093.5 857.5,1093.4 858.5,1093.4 859.5,1093.3 860.5,1093.3 861.5,1093.2 862.5,1093.2 863.5,1093.1 864.5,1093.1 865.5,1093.0 866.5,1092.9 867.5,1092.9 868.5,1092.8 869.5,1092.7 870.5,1092.6 871.5,1092.6 872.5,1092.5 873.5,1092.4 874.5,1092.3 875.5,1092.2 876.5,1092.1 877.5,1092.0 878.5,1091.9 879.5,1091.8 880.5,1091.7 881.5,1091.6 882.5,1091.5 883.5,1091.3 884.5,1091.2 885.5,1091.1 886.5,1091.0 887.5,1090.9 888.5,1090.7 889.5,1090.6 890.5,1090.5 891.5,1090.3 892.5,1090.2 893.5,1090.1 894.5,1089.9 895.5,1089.8 896.5,1089.6 897.5,1089.5 898.5,1089.3 899.5,1089.2 900.5,1089.0 901.5,1088.8 902.5,1088.6 903.5,1088.4 904.5,1088.1 905.5,1087.8 906.5,1087.4 907.5,1087.1 908.5,1086.7 909.5,1086.3 910.5,1085.8 911.5,1085.3 912.5,1084.8 913.5,1084.3 914.5,1083.8 915.5,1083.2 916.5,1082.6 917.5,1082.0 918.5,1081.4 919.5,1080.7 920.5,1080.1 921.5,1079.4 922.5,1078.7 923.5,1078.0 924.5,1077.3 925.5,1076.5 926.5,1075.7 927.5,1074.5 928.5,1073.2 929.5,1071.8 930.5,1070.2 931.5,1068.5 932.5,1066.8 933.5,1065.0 934.5,1063.2 935.5,1061.4 936.5,1059.7 937.5,1058.1 938.5,1056.5 939.5,1055.1 940.5,1053.9 941.5,1052.9 942.5,1052.1 943.5,1051.6 944.5,1051.3 945.5,1051.4 946.5,1051.6 947.5,1052.1 948.5,1052.8 949.5,1053.6 950.5,1054.5 951.5,1055.5 952.5,1056.6 953.5,1057.7 954.5,1058.8 955.5,1059.9 956.5,1060.9 957.5,1061.8 958.5,1062.7 959.5,1063.4 960.5,1063.9 961.5,1064.2 962.5,1064.3 963.5,1064.3 964.5,1064.2 965.5,1064.1 966.5,1063.9 967.5,1063.7 968.5,1063.6 969.5,1063.4 970.5,1063.2 971.5,1063.1 972.5,1062.9 973.5,1062.8 974.5,1062.8 975.5,1062.8 976.5,1063.1 977.5,1063.4 978.5,1064.0 979.5,1064.6 980.5,1065.3 981.5,1066.1 982.5,1067.0 983.5,1067.9 984.5,1068.9 985.5,1069.8 986.5,1070.7 987.5,1071.6 988.5,1072.4 989.5,1073.1 990.5,1073.7 991.5,1074.3 992.5,1074.9 993.5,1075.5 994.5,1076.2 995.5,1076.8 996.5,1077.4 997.5,1078.0 998.5,1078.6 999.5,1079.2 1000.5,1079.8 1001.5,1080.4 1002.5,1081.0 1003.5,1081.5 1004.5,1082.1 1005.5,1082.6 1006.5,1083.1 1007.5,1083.5 1008.5,1084.0 1009.5,1084.4 1010.5,1084.8 1011.5,1085.1 1012.5,1085.4 1013.5,1085.7 1014.5,1085.9 1015.5,1086.1 1016.5,1086.3 1017.5,1086.5 1018.5,1086.6 1019.5,1086.8 1020.5,1087.0 1021.5,1087.1 1022.5,1087.3 1023.5,1087.4 1024.5,1087.6 1025.5,1087.7 1026.5,1087.8 1027.5,1087.9 1028.5,1088.1 1029.5,1088.2 1030.5,1088.2 1031.5,1088.3 1032.5,1088.4 1033.5,1088.4 1034.5,1088.5 1035.5,1088.5 1036.5,1088.5 1037.5,1088.5 1038.5,1088.5 1039.5,1088.5 1040.5,1088.4 1041.5,1088.4 1042.5,1088.3 1043.5,1088.3 1044.5,1088.2 1045.5,1088.1 1046.5,1088.0 1047.5,1088.0 1048.5,1087.9 1049.5,1087.7 1050.5,1087.6 1051.5,1087.5 1052.5,1087.4 1053.5,1087.3 1054.5,1087.1 1055.5,1087.0 1056.5,1086.8 1057.5,1086.7 1058.5,1086.5 1059.5,1086.3 1060.5,1086.2 1061.5,1086.0 1062.5,1085.8 1063.5,1085.6 1064.5,1085.4 1065.5,1085.2 1066.5,1085.1 1067.5,1084.9 1068.5,1084.7 1069.5,1084.5 1070.5,1084.3 1071.5,1084.0 1072.5,1083.8 1073.5,1083.6 1074.5,1083.4 1075.5,1083.2 1076.5,1083.0 1077.5,1082.8 1078.5,1082.6 1079.5,1082.3 1080.5,1082.1 1081.5,1081.8 1082.5,1081.6 1083.5,1081.3 1084.5,1081.0 1085.5,1080.7 1086.5,1080.4 1087.5,1080.0 1088.5,1079.7 1089.5,1079.3 1090.5,1078.9 1091.5,1078.5 1092.5,1078.1 1093.5,1077.7 1094.5,1077.3 1095.5,1076.8 1096.5,1076.4 1097.5,1075.9 1098.5,1075.4 1099.5,1074.9 1100.5,1074.3 1101.5,1073.8 1102.5,1073.2 1103.5,1072.4 1104.5,1071.4 1105.5,1070.3 1106.5,1069.0 1107.5,1067.7 1108.5,1066.3 1109.5,1064.9 1110.5,1063.5 1111.5,1062.1 1112.5,1060.7 1113.5,1059.4 1114.5,1058.2 1115.5,1057.1 1116.5,1056.1 1117.5,1055.4 1118.5,1054.8 1119.5,1054.5 1120.5,1054.4 1121.5,1054.6 1122.5,1055.1 1123.5,1055.8 1124.5,1056.7 1125.5,1057.7 1126.5,1058.9 1127.5,1060.2 1128.5,1061.6 1129.5,1063.0 1130.5,1064.4 1131.5,1065.8 1132.5,1067.1 1133.5,1068.3 1134.5,1069.4 1135.5,1070.3 1136.5,1071.0 1137.5,1071.8 1138.5,1072.6 1139.5,1073.4 1140.5,1074.1 1141.5,1074.9 1142.5,1075.7 1143.5,1076.4 1144.5,1077.1 1145.5,1077.8 1146.5,1078.4 1147.5,1079.0 1148.5,1079.5 1149.5,1080.0 1150.5,1080.4 1151.5,1080.7 1152.5,1081.0 1153.5,1081.2 1154.5,1081.3 1155.5,1081.4 1156.5,1081.4 1157.5,1081.5 1158.5,1081.6 1159.5,1081.6 1160.5,1081.7 1161.5,1081.7 1162.5,1081.8 1163.5,1081.8 1164.5,1081.9 1165.5,1081.9 1166.5,1081.9 1167.5,1082.0 1168.5,1082.0 1169.5,1082.0 1170.5,1082.1 1171.5,1082.1 1172.5,1082.1 1173.5,1082.2 1174.5,1082.2 1175.5,1082.2 1176.5,1082.2 1177.5,1082.2 1178.5,1082.3 1179.5,1082.3 1180.5,1082.3 1181.5,1082.3 1182.5,1082.3 1183.5,1082.3 1184.5,1082.3 1185.5,1082.3 1186.5,1082.3 1187.5,1082.2 1188.5,1082.1 1189.5,1082.0 1190.5,1081.9 1191.5,1081.7 1192.5,1081.5 1193.5,1081.2 1194.5,1081.0 1195.5,1080.7 1196.5,1080.3 1197.5,1080.0 1198.5,1079.6 1199.5,1079.3 1200.5,1078.9 1201.5,1078.4 1202.5,1078.0 1203.5,1077.5 1204.5,1077.1 1205.5,1076.6 1206.5,1076.1 1207.5,1075.6 1208.5,1075.1 1209.5,1074.6 1210.5,1074.0 1211.5,1073.5 1212.5,1072.9 1213.5,1072.4 1214.5,1071.8 1215.5,1071.3 1216.5,1070.7 1217.5,1070.1 1218.5,1069.2 1219.5,1068.3 1220.5,1067.2 1221.5,1066.0 1222.5,1064.8 1223.5,1063.5 1224.5,1062.3 1225.5,1061.1 1226.5,1059.9 1227.5,1058.9 1228.5,1058.0 1229.5,1057.3 1230.5,1056.7 1231.5,1056.4 1232.5,1056.3 1233.5,1056.5 1234.5,1057.1 1235.5,1057.9 1236.5,1058.8 1237.5,1059.9 1238.5,1061.1 1239.5,1062.3 1240.5,1063.4 1241.5,1064.4 1242.5,1065.2 1243.5,1065.9 1244.5,1066.5 1245.5,1067.2 1246.5,1067.8 1247.5,1068.4 1248.5,1069.0 1249.5,1069.6 1250.5,1070.1 1251.5,1070.6 1252.5,1071.1 1253.5,1071.4 1254.5,1071.8 1255.5,1072.0 1256.5,1072.2 1257.5,1072.4 1258.5,1072.5 1259.5,1072.7 1260.5,1072.8 1261.5,1073.0 1262.5,1073.1 1263.5,1073.2 1264.5,1073.3 1265.5,1073.4 1266.5,1073.4 1267.5,1073.5 1268.5,1073.5 1269.5,1073.5 1270.5,1073.5 1271.5,1073.4 1272.5,1073.3 1273.5,1073.2 1274.5,1073.0 1275.5,1072.8 1276.5,1072.6 1277.5,1072.4 1278.5,1072.1 1279.5,1071.9 1280.5,1071.6 1281.5,1071.3 1282.5,1071.0 1283.5,1070.6 1284.5,1070.3 1285.5,1069.9 1286.5,1069.6 1287.5,1069.2 1288.5,1068.9 1289.5,1068.5 1290.5,1068.2 1291.5,1067.9 1292.5,1067.5 1293.5,1067.1 1294.5,1066.7 1295.5,1066.3 1296.5,1065.8 1297.5,1065.4 1298.5,1064.9 1299.5,1064.4 1300.5,1063.9 1301.5,1063.3 1302.5,1062.7 1303.5,1062.1 1304.5,1061.4 1305.5,1060.8 1306.5,1060.1 1307.5,1059.3 1308.5,1058.4 1309.5,1057.5 1310.5,1056.5 1311.5,1055.4 1312.5,1054.3 1313.5,1053.1 1314.5,1051.8 1315.5,1050.5 1316.5,1049.0 1317.5,1047.6 1318.5,1046.0 1319.5,1044.4 1320.5,1042.7 1321.5,1040.9 1322.5,1038.9 1323.5,1036.8 1324.5,1034.5 1325.5,1032.0 1326.5,1029.4 1327.5,1026.4 1328.5,1023.3 1329.5,1019.8 1330.5,1016.0 1331.5,1011.2 1332.5,1005.4 1333.5,998.9 1334.5,991.8 1335.5,984.3 1336.5,976.6 1337.5,968.8 1338.5,961.1 1339.5,953.1 1340.5,944.7 1341.5,936.0 1342.5,927.0 1343.5,917.7 1344.5,908.2 1345.5,898.6 1346.5,888.4 1347.5,876.4 1348.5,864.4 1349.5,854.7 1350.5,848.8 1351.5,844.0 1352.5,840.1 1353.5,837.9 1354.5,837.8 1355.5,839.6 1356.5,842.6 1357.5,846.6 1358.5,850.9 1359.5,855.4 1360.5,860.8 1361.5,867.5 1362.5,875.0 1363.5,883.1 1364.5,891.5 1365.5,899.8 1366.5,907.7 1367.5,915.1 1368.5,922.6 1369.5,930.4 1370.5,938.3 1371.5,946.1 1372.5,953.8 1373.5,961.3 1374.5,968.3 1375.5,974.7 1376.5,980.4 1377.5,985.3 1378.5,989.6 1379.5,993.6 1380.5,997.5 1381.5,1001.3 1382.5,1004.9 1383.5,1008.2 1384.5,1011.4 1385.5,1014.4 1386.5,1017.1 1387.5,1019.5 1388.5,1021.7 1389.5,1023.6 1390.5,1025.2 1391.5,1026.5 1392.5,1027.8 1393.5,1029.1 1394.5,1030.3 1395.5,1031.4 1396.5,1032.5 1397.5,1033.5 1398.5,1034.4 1399.5,1035.3 1400.5,1036.0 1401.5,1036.6 1402.5,1037.1 1403.5,1037.5 1404.5,1037.7 1405.5,1037.8 1406.5,1037.8 1407.5,1037.6 1408.5,1037.4 1409.5,1037.2 1410.5,1036.8 1411.5,1036.4 1412.5,1036.0 1413.5,1035.5 1414.5,1034.9 1415.5,1034.3 1416.5,1033.7 1417.5,1033.0 1418.5,1032.3 1419.5,1031.6 1420.5,1030.8 1421.5,1029.8 1422.5,1028.5 1423.5,1027.1 1424.5,1025.4 1425.5,1023.6 1426.5,1021.6 1427.5,1019.5 1428.5,1017.3 1429.5,1015.1 1430.5,1012.8 1431.5,1010.5 1432.5,1007.9 1433.5,1005.1 1434.5,1002.2 1435.5,999.0 1436.5,995.7 1437.5,992.2 1438.5,988.4 1439.5,984.5 1440.5,980.4 1441.5,976.1 1442.5,971.5 1443.5,966.6 1444.5,961.4 1445.5,955.8 1446.5,949.8 1447.5,943.4 1448.5,936.7 1449.5,929.5 1450.5,921.9 1451.5,913.9 1452.5,905.1 1453.5,895.0 1454.5,883.8 1455.5,871.6 1456.5,858.4 1457.5,844.5 1458.5,829.9 1459.5,812.6 1460.5,793.3 1461.5,774.1 1462.5,756.6 1463.5,737.4 1464.5,718.9 1465.5,706.8 1466.5,706.0 1467.5,712.7 1468.5,723.3 1469.5,734.8 1470.5,744.9 1471.5,755.0 1472.5,765.6 1473.5,776.6 1474.5,788.1 1475.5,800.0 1476.5,813.0 1477.5,827.1 1478.5,841.6 1479.5,855.8 1480.5,868.9 1481.5,880.7 1482.5,892.2 1483.5,903.5 1484.5,914.4 1485.5,924.7 1486.5,934.2 1487.5,942.8 1488.5,950.4 1489.5,957.1 1490.5,963.5 1491.5,969.6 1492.5,975.4 1493.5,980.8 1494.5,985.9 1495.5,990.6 1496.5,994.9 1497.5,998.8 1498.5,1002.2 1499.5,1005.3 1500.5,1008.1 1501.5,1010.8 1502.5,1013.4 1503.5,1015.9 1504.5,1018.2 1505.5,1020.4 1506.5,1022.4 1507.5,1024.3 1508.5,1026.1 1509.5,1027.6 1510.5,1029.0 1511.5,1030.2 1512.5,1031.2 1513.5,1032.1 1514.5,1033.0 1515.5,1033.8 1516.5,1034.6 1517.5,1035.4 1518.5,1036.1 1519.5,1036.8 1520.5,1037.4 1521.5,1038.0 1522.5,1038.5 1523.5,1039.0 1524.5,1039.4 1525.5,1039.7 1526.5,1040.0 1527.5,1040.3 1528.5,1040.4 1529.5,1040.5 1530.5,1040.7 1531.5,1040.8 1532.5,1040.9 1533.5,1041.0 1534.5,1041.1 1535.5,1041.2 1536.5,1041.3 1537.5,1041.3 1538.5,1041.4 1539.5,1041.5 1540.5,1041.5 1541.5,1041.6 1542.5,1041.6 1543.5,1041.6 1544.5,1041.7 1545.5,1041.7 1546.5,1041.7 1547.5,1041.7 1548.5,1041.7 1549.5,1041.6 1550.5,1041.5 1551.5,1041.4 1552.5,1041.2 1553.5,1041.0 1554.5,1040.8 1555.5,1040.6 1556.5,1040.3 1557.5,1040.1 1558.5,1039.8 1559.5,1039.5 1560.5,1039.3 1561.5,1039.0 1562.5,1038.7 1563.5,1038.4 1564.5,1038.1 1565.5,1037.8 1566.5,1037.5 1567.5,1037.1 1568.5,1036.8 1569.5,1036.4 1570.5,1036.0 1571.5,1035.6 1572.5,1035.2 1573.5,1034.7 1574.5,1034.3 1575.5,1033.8 1576.5,1033.3 1577.5,1032.8 1578.5,1032.2 1579.5,1031.7 1580.5,1031.1 1581.5,1030.5 1582.5,1030.0 1583.5,1029.4 1584.5,1028.8 1585.5,1028.1 1586.5,1027.5"/>
<polyline stroke="#ff0000" points="187.5,1097.5 188.5,1097.5 189.5,1097.5 190.5,1097.4 191.5,1097.4 192.5,1097.4 193.5,1097.4 194.5,1097.4 195.5,1097.4 196.5,1097.3 197.5,1097.3 198.5,1097.3 199.5,1097.3 200.5,1097.3 201.5,1097.3 202.5,1097.2 203.5,1097.2 204.5,1097.2 205.5,1097.2 206.5,1097.2 207.5,1097.2 208.5,1097.1 209.5,1097.1 210.5,1097.1 211.5,1097.1 212.5,1097.1 213.5,1097.1 214.5,1097.0 215.5,1097.0 216.5,1097.0 217.5,1097.0 218.5,1097.0 219.5,1097.0 220.5,1096.9 221.5,1096.9 222.5,1096.9 223.5,1096.9 224.5,1096.9 225.5,1096.9 226.5,1096.9 227.5,1096.8 228.5,1096.8 229.5,1096.8 230.5,1096.8 231.5,1096.8 232.5,1096.8 233.5,1096.8 234.5,1096.8 235.5,1096.7 236.5,1096.7 237.5,1096.7 238.5,1096.7 239.5,1096.7 240.5,1096.7 241.5,1096.7 242.5,1096.7 243.5,1096.7 244.5,1096.6 245.5,1096.6 246.5,1096.6 247.5,1096.6 248.5,1096.6 249.5,1096.6 250.5,1096.6 251.5,1096.6 252.5,1096.6 253.5,1096.6 254.5,1096.6 255.5,1096.5 256.5,1096.5 257.5,1096.5 258.5,1096.5 259.5,1096.5 260.5,1096.5 261.5,1096.5 262.5,1096.5 263.5,1096.5 264.5,1096.5 265.5,1096.5 266.5,1096.5 267.5,1096.5 268.5,1096.5 269.5,1096.5 270.5,1096.5 271.5,1096.5 272.5,1096.5 273.5,1096.4 274.5,1096.4 275.5,1096.4 276.5,1096.4 277.5,1096.4 278.5,1096.4 279.5,1096.4 280.5,1096.4 281.5,1096.4 282.5,1096.4 283.5,1096.4 284.5,1096.4 285.5,1096.4 286.5,1096.4 287.5,1096.4 288.5,1096.4 289.5,1096.4 290.5,1096.4 291.5,1096.4 292.5,1096.4 293.5,1096.4 294.5,1096.4 295.5,1096.4 296.5,1096.4 297.5,1096.4 298.5,1096.4 299.5,1096.4 300.5,1096.4 301.5,1096.3 302.5,1096.3 303.5,1096.3 304.5,1096.3 305.5,1096.3 306.5,1096.3 307.5,1096.3 308.5,1096.3 309.5,1096.3 310.5,1096.3 311.5,1096.3 312.5,1096.3 313.5,1096.3 314.5,1096.3 315.5,1096.3 316.5,1096.3 317.5,1096.3 318.5,1096.3 319.5,1096.2 320.5,1096.2 321.5,1096.2 322.5,1096.2 323.5,1096.2 324.5,1096.2 325.5,1096.2 326.5,1096.2 327.5,1096.2 328.5,1096.2 329.5,1096.2 330.5,1096.1 331.5,1096.1 332.5,1096.1 333.5,1096.1 334.5,1096.1 335.5,1096.1 336.5,1096.1 337.5,1096.1 338.5,1096.0 339.5,1096.0 340.5,1096.0 341.5,1096.0 342.5,1096.0 343.5,1095.9 344.5,1095.9 345.5,1095.8 346.5,1095.7 347.5,1095.6 348.5,1095.5 349.5,1095.4 350.5,1095.2 351.5,1095.1 352.5,1094.9 353.5,1094.8 354.5,1094.6 355.5,1094.5 356.5,1094.3 357.5,1094.1 358.5,1094.0 359.5,1093.8 360.5,1093.7 361.5,1093.6 362.5,1093.4 363.5,1093.3 364.5,1093.1 365.5,1093.0 366.5,1092.8 367.5,1092.6 368.5,1092.5 369.5,1092.3 370.5,1092.1 371.5,1092.0 372.5,1091.8 373.5,1091.7 374.5,1091.6 375.5,1091.5 376.5,1091.4 377.5,1091.3 378.5,1091.3 379.5,1091.3 380.5,1091.3 381.5,1091.4 382.5,1091.5 383.5,1091.6 384.5,1091.8 385.5,1092.0 386.5,1092.2 387.5,1092.4 388.5,1092.6 389.5,1092.8 390.5,1093.1 391.5,1093.3 392.5,1093.6 393.5,1093.8 394.5,1094.0 395.5,1094.3 396.5,1094.5 397.5,1094.7 398.5,1094.9 399.5,1095.0 400.5,1095.2 401.5,1095.3 402.5,1095.3 403.5,1095.4 404.5,1095.4 405.5,1095.4 406.5,1095.5 407.5,1095.5 408.5,1095.5 409.5,1095.5 410.5,1095.5 411.5,1095.6 412.5,1095.6 413.5,1095.6 414.5,1095.6 415.5,1095.6 416.5,1095.7 417.5,1095.7 418.5,1095.7 419.5,1095.7 420.5,1095.7 421.5,1095.7 422.5,1095.7 423.5,1095.8 424.5,1095.8 425.5,1095.8 426.5,1095.8 427.5,1095.8 428.5,1095.8 429.5,1095.8 430.5,1095.8 431.5,1095.9 432.5,1095.9 433.5,1095.9 434.5,1095.9 435.5,1095.9 436.5,1095.9 437.5,1095.9 438.5,1095.9 439.5,1095.9 440.5,1095.9 441.5,1095.9 442.5,1095.9 443.5,1096.0 444.5,1096.0 445.5,1096.0 446.5,1096.0 447.5,1096.0 448.5,1096.0 449.5,1096.0 450.5,1096.0 451.5,1096.0 452.5,1096.0 453.5,1096.0 454.5,1096.0 455.5,1096.0 456.5,1096.0 457.5,1096.0 458.5,1096.0 459.5,1096.0 460.5,1096.0 461.5,1096.0 462.5,1096.0 463.5,1096.0 464.5,1096.0 465.5,1096.0 466.5,1096.0 467.5,1096.0 468.5,1095.9 469.5,1095.9 470.5,1095.9 471.5,1095.9 472.5,1095.9 473.5,1095.9 474.5,1095.8 475.5,1095.8 476.5,1095.8 477.5,1095.8 478.5,1095.7 479.5,1095.7 480.5,1095.7 481.5,1095.6 482.5,1095.6 483.5,1095.6 484.5,1095.5 485.5,1095.5 486.5,1095.5 487.5,1095.4 488.5,1095.4 489.5,1095.3 490.5,1095.3 491.5,1095.2 492.5,1095.2 493.5,1095.2 494.5,1095.1 495.5,1095.1 496.5,1095.0 497.5,1095.0 498.5,1094.9 499.5,1094.8 500.5,1094.8 501.5,1094.7 502.5,1094.7 503.5,1094.6 504.5,1094.6 505.5,1094.5 506.5,1094.4 507.5,1094.4 508.5,1094.3 509.5,1094.2 510.5,1094.2 511.5,1094.1 512.5,1094.0 513.5,1094.0 514.5,1093.9 515.5,1093.8 516.5,1093.8 517.5,1093.7 518.5,1093.6 519.5,1093.5 520.5,1093.5 521.5,1093.4 522.5,1093.3 523.5,1093.2 524.5,1093.1 525.5,1093.1 526.5,1093.0 527.5,1092.9 528.5,1092.8 529.5,1092.7 530.5,1092.6 531.5,1092.5 532.5,1092.4 533.5,1092.3 534.5,1092.1 535.5,1092.0 536.5,1091.8 537.5,1091.7 538.5,1091.5 539.5,1091.3 540.5,1091.2 541.5,1091.0 542.5,1090.8 543.5,1090.6 544.5,1090.4 545.5,1090.1 546.5,1089.9 547.5,1089.7 548.5,1089.4 549.5,1089.2 550.5,1088.9 551.5,1088.6 552.5,1088.4 553.5,1088.1 554.5,1087.8 555.5,1087.5 556.5,1087.2 557.5,1086.9 558.5,1086.5 559.5,1086.2 560.5,1085.9 561.5,1085.5 562.5,1085.2 563.5,1084.8 564.5,1084.4 565.5,1084.0 566.5,1083.7 567.5,1083.3 568.5,1082.9 569.5,1082.5 570.5,1082.0 571.5,1081.6 572.5,1081.2 573.5,1080.7 574.5,1080.3 575.5,1079.7 576.5,1079.1 577.5,1078.4 578.5,1077.7 579.5,1076.8 580.5,1075.9 581.5,1075.0 582.5,1074.0 583.5,1073.0 584.5,1071.9 585.5,1070.9 586.5,1069.7 587.5,1068.6 588.5,1067.4 589.5,1066.3 590.5,1065.1 591.5,1064.0 592.5,1062.8 593.5,1061.7 594.5,1060.6 595.5,1059.4 596.5,1058.1 597.5,1056.7 598.5,1055.1 599.5,1053.5 600.5,1051.9 601.5,1050.3 602.5,1048.7 603.5,1047.3 604.5,1046.0 605.5,1044.9 606.5,1044.1 607.5,1043.5 608.5,1043.3 609.5,1043.4 610.5,1043.8 611.5,1044.5 612.5,1045.3 613.5,1046.4 614.5,1047.6 615.5,1048.9 616.5,1050.4 617.5,1052.0 618.5,1053.5 619.5,1055.2 620.5,1056.8 621.5,1058.4 622.5,1059.9 623.5,1061.4 624.5,1062.7 625.5,1063.9 626.5,1064.9 627.5,1065.8 628.5,1066.8 629.5,1067.7 630.5,1068.6 631.5,1069.6 632.5,1070.6 633.5,1071.5 634.5,1072.5 635.5,1073.4 636.5,1074.4 637.5,1075.3 638.5,1076.2 639.5,1077.1 640.5,1078.0 641.5,1078.9 642.5,1079.7 643.5,1080.5 644.5,1081.2 645.5,1082.0 646.5,1082.7 647.5,1083.3 648.5,1083.9 649.5,1084.4 650.5,1084.9 651.5,1085.4 652.5,1085.8 653.5,1086.1 654.5,1086.3 655.5,1086.5 656.5,1086.7 657.5,1086.7 658.5,1086.7 659.5,1086.7 660.5,1086.7 661.5,1086.6 662.5,1086.6 663.5,1086.5 664.5,1086.5 665.5,1086.4 666.5,1086.3 667.5,1086.2 668.5,1086.1 669.5,1086.0 670.5,1085.9 671.5,1085.7 672.5,1085.6 673.5,1085.4 674.5,1085.3 675.5,1085.1 676.5,1084.9 677.5,1084.7 678.5,1084.5 679.5,1084.3 680.5,1084.0 681.5,1083.8 682.5,1083.5 683.5,1083.0 684.5,1081.9 685.5,1080.6 686.5,1078.9 687.5,1077.0 688.5,1075.0 689.5,1072.8 690.5,1070.6 691.5,1068.4 692.5,1066.4 693.5,1064.5 694.5,1062.7 695.5,1061.3 696.5,1059.7 697.5,1058.1 698.5,1056.5 699.5,1054.8 700.5,1053.3 701.5,1051.8 702.5,1050.5 703.5,1049.3 704.5,1048.4 705.5,1047.7 706.5,1047.3 707.5,1047.4 708.5,1047.8 709.5,1048.6 710.5,1049.7 711.5,1051.1 712.5,1052.7 713.5,1054.5 714.5,1056.3 715.5,1058.3 716.5,1060.2 717.5,1062.1 718.5,1063.8 719.5,1065.4 720.5,1066.8 721.5,1068.0 722.5,1069.1 723.5,1070.2 724.5,1071.3 725.5,1072.4 726.5,1073.5 727.5,1074.5 728.5,1075.5 729.5,1076.5 730.5,1077.4 731.5,1078.2 732.5,1079.0 733.5,1079.7 734.5,1080.3 735.5,1080.9 736.5,1081.3 737.5,1081.8 738.5,1082.2 739.5,1082.6 740.5,1082.9 741.5,1083.3 742.5,1083.7 743.5,1084.1 744.5,1084.5 745.5,1084.8 746.5,1085.2 747.5,1085.5 748.5,1085.9 749.5,1086.2 750.5,1086.5 751.5,1086.8 752.5,1087.2 753.5,1087.5 754.5,1087.8 755.5,1088.0 756.5,1088.3 757.5,1088.6 758.5,1088.9 759.5,1089.1 760.5,1089.4 761.5,1089.6 762.5,1089.8 763.5,1090.0 764.5,1090.2 765.5,1090.4 766.5,1090.6 767.5,1090.8 768.5,1091.0 769.5,1091.1 770.5,1091.3 771.5,1091.4 772.5,1091.6 773.5,1091.7 774.5,1091.8 775.5,1091.9 776.5,1092.0 777.5,1092.0 778.5,1092.1 779.5,1092.1 780.5,1092.2 781.5,1092.2 782.5,1092.2 783.5,1092.2 784.5,1092.2 785.5,1092.2 786.5,1092.2 787.5,1092.2 788.5,1092.2 789.5,1092.2 790.5,1092.2 791.5,1092.2 792.5,1092.2 793.5,1092.2 794.5,1092.2 795.5,1092.2 796.5,1092.2 797.5,1092.2 798.5,1092.2 799.5,1092.2 800.5,1092.2 801.5,1092.2 802.5,1092.2 803.5,1092.2 804.5,1092.2 805.5,1092.2 806.5,1092.2 807.5,1092.2 808.5,1092.2 809.5,1092.2 810.5,1092.2 811.5,1092.2 812.5,1092.2 813.5,1092.2 814.5,1092.2 815.5,1092.2 816.5,1092.2 817.5,1092.2 818.5,1092.2 819.5,1092.2 820.5,1092.2 821.5,1092.2 822.5,1092.2 823.5,1092.2 824.5,1092.2 825.5,1092.2 826.5,1092.2 827.5,1092.2 828.5,1092.2 829.5,1092.2 830.5,1092.2 831.5,1092.2 832.5,1092.2 833.5,1092.2 834.5,1092.2 835.5,1092.2 836.5,1092.2 837.5,1092.2 838.5,1092.2 839.5,1092.2 840.5,1092.2 841.5,1092.2 842.5,1092.2 843.5,1092.2 844.5,1092.2 845.5,1092.2 846.5,1092.2 847.5,1092.2 848.5,1092.2 849.5,1092.2 850.5,1092.2 851.5,1092.2 852.5,1092.2 853.5,1092.2 854.5,1092.2 855.5,1092.2 856.5,1092.2 857.5,1092.2 858.5,1092.2 859.5,1092.2 860.5,1092.2 861.5,1092.2 862.5,1092.2 863.5,1092.2 864.5,1092.2 865.5,1092.2 866.5,1092.2 867.5,1092.2 868.5,1092.2 869.5,1092.2 870.5,1092.2 871.5,1092.2 872.5,1092.2 873.5,1092.2 874.5,1092.2 875.5,1092.2 876.5,1092.2 877.5,1092.2 878.5,1092.1 879.5,1092.1 880.5,1092.0 881.5,1091.9 882.5,1091.8 883.5,1091.6 884.5,1091.5 885.5,1091.3 886.5,1091.2 887.5,1091.0 888.5,1090.8 889.5,1090.6 890.5,1090.4 891.5,1090.1 892.5,1089.9 893.5,1089.7 894.5,1089.4 895.5,1089.1 896.5,1088.9 897.5,1088.6 898.5,1088.3 899.5,1088.1 900.5,1087.8 901.5,1087.5 902.5,1087.2 903.5,1086.9 904.5,1086.6 905.5,1086.3 906.5,1086.1 907.5,1085.8 908.5,1085.4 909.5,1085.0 910.5,1084.6 911.5,1084.1 912.5,1083.5 913.5,1083.0 914.5,1082.4 915.5,1081.8 916.5,1081.2 917.5,1080.5 918.5,1079.9 919.5,1079.2 920.5,1078.6 921.5,1077.9 922.5,1077.3 923.5,1076.6 924.5,1076.0 925.5,1075.4 926.5,1074.8 927.5,1074.2 928.5,1073.7 929.5,1073.2 930.5,1072.8 931.5,1072.4 932.5,1072.0 933.5,1071.7 934.5,1071.5 935.5,1071.3 936.5,1071.2 937.5,1071.1 938.5,1071.1 939.5,1071.2 940.5,1071.4 941.5,1071.7 942.5,1072.0 943.5,1072.3 944.5,1072.7 945.5,1073.1 946.5,1073.6 947.5,1074.1 948.5,1074.5 949.5,1075.0 950.5,1075.5 951.5,1076.0 952.5,1076.4 953.5,1076.8 954.5,1077.3 955.5,1077.8 956.5,1078.3 957.5,1078.9 958.5,1079.5 959.5,1080.2 960.5,1080.8 961.5,1081.4 962.5,1082.0 963.5,1082.6 964.5,1083.2 965.5,1083.7 966.5,1084.2 967.5,1084.6 968.5,1084.9 969.5,1085.2 970.5,1085.3 971.5,1085.4 972.5,1085.4 973.5,1085.3 974.5,1085.2 975.5,1085.0 976.5,1084.7 977.5,1084.4 978.5,1084.1 979.5,1083.7 980.5,1083.3 981.5,1082.9 982.5,1082.5 983.5,1082.0 984.5,1081.6 985.5,1081.1 986.5,1080.7 987.5,1080.2 988.5,1079.7 989.5,1079.3 990.5,1078.9 991.5,1078.5 992.5,1078.1 993.5,1077.8 994.5,1077.5 995.5,1077.2 996.5,1077.0 997.5,1076.8 998.5,1076.7 999.5,1076.7 1000.5,1076.7 1001.5,1076.9 1002.5,1077.2 1003.5,1077.5 1004.5,1077.9 1005.5,1078.3 1006.5,1078.8 1007.5,1079.4 1008.5,1079.9 1009.5,1080.4 1010.5,1081.0 1011.5,1081.5 1012.5,1082.0 1013.5,1082.4 1014.5,1082.7 1015.5,1083.0 1016.5,1083.3 1017.5,1083.6 1018.5,1083.9 1019.5,1084.2 1020.5,1084.5 1021.5,1084.8 1022.5,1085.1 1023.5,1085.4 1024.5,1085.6 1025.5,1085.9 1026.5,1086.1 1027.5,1086.4 1028.5,1086.6 1029.5,1086.8 1030.5,1086.9 1031.5,1087.1 1032.5,1087.2 1033.5,1087.3 1034.5,1087.4 1035.5,1087.5 1036.5,1087.5 1037.5,1087.5 1038.5,1087.4 1039.5,1087.3 1040.5,1087.2 1041.5,1087.0 1042.5,1086.8 1043.5,1086.6 1044.5,1086.3 1045.5,1086.0 1046.5,1085.7 1047.5,1085.3 1048.5,1085.0 1049.5,1084.6 1050.5,1084.3 1051.5,1083.9 1052.5,1083.5 1053.5,1083.2 1054.5,1082.8 1055.5,1082.4 1056.5,1082.1 1057.5,1081.8 1058.5,1081.4 1059.5,1081.1 1060.5,1080.9 1061.5,1080.6 1062.5,1080.4 1063.5,1080.2 1064.5,1080.0 1065.5,1079.9 1066.5,1079.8 1067.5,1079.8 1068.5,1079.8 1069.5,1079.8 1070.5,1079.8 1071.5,1079.8 1072.5,1079.9 1073.5,1079.9 1074.5,1079.9 1075.5,1080.0 1076.5,1080.0 1077.5,1080.1 1078.5,1080.1 1079.5,1080.2 1080.5,1080.3 1081.5,1080.3 1082.5,1080.4 1083.5,1080.5 1084.5,1080.6 1085.5,1080.7 1086.5,1080.7 1087.5,1080.8 1088.5,1080.9 1089.5,1081.0 1090.5,1081.1 1091.5,1081.2 1092.5,1081.3 1093.5,1081.4 1094.5,1081.6 1095.5,1081.7 1096.5,1081.9 1097.5,1082.1 1098.5,1082.4 1099.5,1082.6 1100.5,1082.8 1101.5,1083.1 1102.5,1083.3 1103.5,1083.5 1104.5,1083.8 1105.5,1084.0 1106.5,1084.2 1107.5,1084.3 1108.5,1084.5 1109.5,1084.6 1110.5,1084.7 1111.5,1084.9 1112.5,1085.0 1113.5,1085.2 1114.5,1085.3 1115.5,1085.5 1116.5,1085.6 1117.5,1085.7 1118.5,1085.9 1119.5,1086.0 1120.5,1086.1 1121.5,1086.2 1122.5,1086.4 1123.5,1086.5 1124.5,1086.6 1125.5,1086.7 1126.5,1086.8 1127.5,1086.9 1128.5,1087.0 1129.5,1087.1 1130.5,1087.2 1131.5,1087.2 1132.5,1087.3 1133.5,1087.4 1134.5,1087.4 1135.5,1087.4 1136.5,1087.5 1137.5,1087.5 1138.5,1087.5 1139.5,1087.5 1140.5,1087.5 1141.5,1087.5 1142.5,1087.5 1143.5,1087.5 1144.5,1087.5 1145.5,1087.5 1146.5,1087.5 1147.5,1087.5 1148.5,1087.5 1149.5,1087.5 1150.5,1087.5 1151.5,1087.5 1152.5,1087.5 1153.5,1087.5 1154.5,1087.5 1155.5,1087.5 1156.5,1087.5 1157.5,1087.5 1158.5,1087.5 1159.5,1087.5 1160.5,1087.5 1161.5,1087.5 1162.5,1087.5 1163.5,1087.5 1164.5,1087.5 1165.5,1087.5 1166.5,1087.5 1167.5,1087.5 1168.5,1087.5 1169.5,1087.5 1170.5,1087.5 1171.5,1087.5 1172.5,1087.4 1173.5,1087.4 1174.5,1087.3 1175.5,1087.2 1176.5,1087.2 1177.5,1087.1 1178.5,1086.9 1179.5,1086.8 1180.5,1086.7 1181.5,1086.6 1182.5,1086.4 1183.5,1086.3 1184.5,1086.1 1185.5,1086.0 1186.5,1085.9 1187.5,1085.7 1188.5,1085.6 1189.5,1085.5 1190.5,1085.3 1191.5,1085.2 1192.5,1085.1 1193.5,1085.0 1194.5,1084.9 1195.5,1084.7 1196.5,1084.6 1197.5,1084.5 1198.5,1084.4 1199.5,1084.2 1200.5,1084.1 1201.5,1084.0 1202.5,1083.9 1203.5,1083.7 1204.5,1083.6 1205.5,1083.4 1206.5,1083.3 1207.5,1083.1 1208.5,1083.0 1209.5,1082.8 1210.5,1082.6 1211.5,1082.4 1212.5,1082.2 1213.5,1082.0 1214.5,1081.8 1215.5,1081.6 1216.5,1081.4 1217.5,1081.1 1218.5,1080.8 1219.5,1080.5 1220.5,1080.2 1221.5,1079.8 1222.5,1079.4 1223.5,1079.0 1224.5,1078.5 1225.5,1078.1 1226.5,1077.6 1227.5,1077.2 1228.5,1076.7 1229.5,1076.2 1230.5,1075.7 1231.5,1075.2 1232.5,1074.7 1233.5,1074.2 1234.5,1073.6 1235.5,1073.1 1236.5,1072.5 1237.5,1071.9 1238.5,1071.3 1239.5,1070.6 1240.5,1069.9 1241.5,1069.2 1242.5,1068.5 1243.5,1067.7 1244.5,1067.0 1245.5,1066.2 1246.5,1065.4 1247.5,1064.6 1248.5,1063.6 1249.5,1062.7 1250.5,1061.6 1251.5,1060.4 1252.5,1059.1 1253.5,1057.6 1254.5,1055.8 1255.5,1053.3 1256.5,1050.4 1257.5,1047.2 1258.5,1043.6 1259.5,1039.9 1260.5,1036.0 1261.5,1032.2 1262.5,1028.4 1263.5,1024.9 1264.5,1021.5 1265.5,1017.9 1266.5,1014.1 1267.5,1010.4 1268.5,1006.7 1269.5,1003.3 1270.5,1000.2 1271.5,997.8 1272.5,995.9 1273.5,994.1 1274.5,992.5 1275.5,991.2 1276.5,990.4 1277.5,990.2 1278.5,990.8 1279.5,991.9 1280.5,993.4 1281.5,995.1 1282.5,996.8 1283.5,998.8 1284.5,1001.2 1285.5,1004.1 1286.5,1007.1 1287.5,1010.2 1288.5,1013.1 1289.5,1015.8 1290.5,1018.0 1291.5,1020.0 1292.5,1022.0 1293.5,1024.1 1294.5,1026.1 1295.5,1028.0 1296.5,1029.7 1297.5,1031.2 1298.5,1032.4 1299.5,1033.3 1300.5,1033.7 1301.5,1033.8 1302.5,1033.4 1303.5,1032.7 1304.5,1031.8 1305.5,1030.7 1306.5,1029.4 1307.5,1028.1 1308.5,1026.6 1309.5,1025.1 1310.5,1023.3 1311.5,1021.1 1312.5,1018.5 1313.5,1015.8 1314.5,1012.8 1315.5,1009.6 1316.5,1006.4 1317.5,1002.9 1318.5,998.9 1319.5,994.3 1320.5,989.5 1321.5,984.5 1322.5,979.7 1323.5,975.3 1324.5,971.3 1325.5,967.9 1326.5,964.4 1327.5,960.8 1328.5,957.3 1329.5,954.0 1330.5,951.1 1331.5,948.8 1332.5,947.0 1333.5,946.1 1334.5,946.2 1335.5,948.0 1336.5,951.2 1337.5,955.3 1338.5,960.0 1339.5,964.8 1340.5,969.4 1341.5,973.9 1342.5,979.0 1343.5,984.5 1344.5,990.1 1345.5,995.7 1346.5,1001.0 1347.5,1005.7 1348.5,1009.7 1349.5,1013.0 1350.5,1016.1 1351.5,1019.1 1352.5,1022.0 1353.5,1024.7 1354.5,1027.3 1355.5,1029.8 1356.5,1032.0 1357.5,1034.2 1358.5,1036.2 1359.5,1038.0 1360.5,1039.7 1361.5,1041.3 1362.5,1042.7 1363.5,1044.1 1364.5,1045.4 1365.5,1046.7 1366.5,1048.0 1367.5,1049.2 1368.5,1050.3 1369.5,1051.3 1370.5,1052.2 1371.5,1053.0 1372.5,1053.8 1373.5,1054.4 1374.5,1054.8 1375.5,1055.2 1376.5,1055.5 1377.5,1055.8 1378.5,1056.1 1379.5,1056.3 1380.5,1056.6 1381.5,1056.8 1382.5,1057.0 1383.5,1057.2 1384.5,1057.3 1385.5,1057.5 1386.5,1057.5 1387.5,1057.6 1388.5,1057.6 1389.5,1057.6 1390.5,1057.5 1391.5,1057.4 1392.5,1057.3 1393.5,1057.1 1394.5,1056.9 1395.5,1056.7 1396.5,1056.4 1397.5,1056.2 1398.5,1055.9 1399.5,1055.6 1400.5,1055.3 1401.5,1055.0 1402.5,1054.6 1403.5,1054.2 1404.5,1053.6 1405.5,1053.0 1406.5,1052.3 1407.5,1051.5 1408.5,1050.7 1409.5,1049.8 1410.5,1048.8 1411.5,1047.8 1412.5,1046.8 1413.5,1045.7 1414.5,1044.6 1415.5,1043.5 1416.5,1042.2 1417.5,1040.9 1418.5,1039.4 1419.5,1037.9 1420.5,1036.2 1421.5,1034.5 1422.5,1032.6 1423.5,1030.6 1424.5,1028.6 1425.5,1026.4 1426.5,1024.2 1427.5,1021.8 1428.5,1019.4 1429.5,1016.7 1430.5,1013.9 1431.5,1010.8 1432.5,1007.6 1433.5,1004.1 1434.5,1000.4 1435.5,996.5 1436.5,992.3 1437.5,987.9 1438.5,983.2 1439.5,978.2 1440.5,973.0 1441.5,967.4 1442.5,961.1 1443.5,954.0 1444.5,946.2 1445.5,937.6 1446.5,928.5 1447.5,918.7 1448.5,908.5 1449.5,897.7 1450.5,886.5 1451.5,874.9 1452.5,861.7 1453.5,845.5 1454.5,827.9 1455.5,810.8 1456.5,796.0 1457.5,784.4 1458.5,772.9 1459.5,762.9 1460.5,756.9 1461.5,756.6 1462.5,760.8 1463.5,767.7 1464.5,775.9 1465.5,784.6 1466.5,796.2 1467.5,808.8 1468.5,821.3 1469.5,834.8 1470.5,848.7 1471.5,862.8 1472.5,876.6 1473.5,889.7 1474.5,901.7 1475.5,912.2 1476.5,921.8 1477.5,931.2 1478.5,940.3 1479.5,949.1 1480.5,957.4 1481.5,965.2 1482.5,972.3 1483.5,978.8 1484.5,984.6 1485.5,989.4 1486.5,993.4 1487.5,997.1 1488.5,1000.5 1489.5,1003.8 1490.5,1006.8 1491.5,1009.5 1492.5,1012.2 1493.5,1014.6 1494.5,1016.9 1495.5,1019.0 1496.5,1021.0 1497.5,1022.8 1498.5,1024.6 1499.5,1026.2 1500.5,1027.8 1501.5,1029.4 1502.5,1031.0 1503.5,1032.5 1504.5,1033.9 1505.5,1035.3 1506.5,1036.6 1507.5,1037.9 1508.5,1039.1 1509.5,1040.2 1510.5,1041.2 1511.5,1042.1 1512.5,1042.9 1513.5,1043.5 1514.5,1044.1 1515.5,1044.5 1516.5,1044.9 1517.5,1045.3 1518.5,1045.6 1519.5,1046.0 1520.5,1046.3 1521.5,1046.7 1522.5,1047.0 1523.5,1047.3 1524.5,1047.5 1525.5,1047.8 1526.5,1048.1 1527.5,1048.3 1528.5,1048.5 1529.5,1048.7 1530.5,1048.9 1531.5,1049.1 1532.5,1049.2 1533.5,1049.4 1534.5,1049.5 1535.5,1049.6 1536.5,1049.6 1537.5,1049.7 1538.5,1049.7 1539.5,1049.7 1540.5,1049.7 1541.5,1049.6 1542.5,1049.6 1543.5,1049.5 1544.5,1049.4 1545.5,1049.2 1546.5,1049.1 1547.5,1048.9 1548.5,1048.7 1549.5,1048.5 1550.5,1048.3 1551.5,1048.1 1552.5,1047.9 1553.5,1047.6 1554.5,1047.4 1555.5,1047.1 1556.5,1046.9 1557.5,1046.6 1558.5,1046.3 1559.5,1046.0 1560.5,1045.8 1561.5,1045.5 1562.5,1045.2 1563.5,1044.9 1564.5,1044.6 1565.5,1044.4 1566.5,1044.1 1567.5,1043.8 1568.5,1043.5 1569.5,1043.2 1570.5,1042.8 1571.5,1042.5 1572.5,1042.1 1573.5,1041.7 1574.5,1041.3 1575.5,1041.0 1576.5,1040.5 1577.5,1040.1 1578.5,1039.7 1579.5,1039.3 1580.5,1038.8 1581.5,1038.4 1582.5,1037.9 1583.5,1037.4 1584.5,1037.0 1585.5,1036.5 1586.5,1036.0"/>
</g>
<g fill="none" stroke-width="4.8" stroke-linejoin="round" stroke-linecap="round">
<polyline stroke="#000000" points="187.5,685.2 189.0,676.0 190.5,663.1 192.0,653.1 193.5,650.8 195.0,656.3 196.5,664.8 198.0,669.3 199.5,665.5 201.0,654.1 202.5,641.6 204.0,634.7 205.5,635.7 207.0,641.2 208.5,645.5 210.0,644.5 211.5,637.9 213.0,628.8 214.5,622.3 216.0,621.5 217.5,626.6 219.0,632.5 220.5,633.3 222.0,627.1 223.5,617.4 225.0,610.0 226.5,609.6 228.0,614.6 229.5,614.7 231.0,606.0 232.5,595.7 234.0,592.2 235.5,592.7 237.0,594.2 238.5,593.5 240.0,588.6 241.5,580.2 243.0,571.5 244.5,565.8 246.0,564.6 247.5,566.2 249.0,567.1 250.5,564.1 252.0,556.8 253.5,547.5 255.0,540.0 256.5,537.0 258.0,537.8 259.5,539.6 261.0,538.5 262.5,532.5 264.0,522.6 265.5,512.0 267.0,504.5 268.5,502.9 270.0,505.2 271.5,504.8 273.0,497.4 274.5,484.9 276.0,474.2 277.5,470.9 279.0,474.2 280.5,476.0 282.0,469.5 283.5,456.3 285.0,444.9 286.5,441.1 288.0,441.8 289.5,443.8 291.0,443.1 292.5,437.1 294.0,426.3 295.5,414.0 297.0,404.4 298.5,400.6 300.0,402.9 301.5,405.6 303.0,402.7 304.5,392.2 306.0,378.5 307.5,367.7 309.0,364.1 310.5,366.3 312.0,367.9 313.5,362.3 315.0,348.4 316.5,330.1 318.0,309.7 319.5,302.1 321.0,303.7 322.5,305.5 324.0,301.9 325.5,291.7 327.0,279.3 328.5,270.3 330.0,267.4 331.5,268.9 333.0,270.0 334.5,266.1 336.0,256.4 337.5,244.0 339.0,233.6 340.5,228.9 342.0,229.5 343.5,229.4 345.0,223.0 346.5,210.5 348.0,197.6 349.5,190.2 351.0,189.6 352.5,190.3 354.0,185.2 355.5,173.3 357.0,160.3 358.5,152.7 360.0,150.8 361.5,150.4 363.0,146.5 364.5,137.0 366.0,125.0 367.5,115.3 369.0,110.8 370.5,110.0 372.0,110.3 373.5,108.8 375.0,104.0 376.5,96.4 378.0,88.5 379.5,82.6 381.0,82.0 382.5,87.0 384.0,93.3 385.5,97.0 387.0,97.1 388.5,97.1 390.0,99.6 391.5,106.1 393.0,116.4 394.5,127.6 396.0,137.2 397.5,144.6 399.0,151.1 400.5,158.3 402.0,168.6 403.5,181.2 405.0,193.1 406.5,202.1 408.0,208.6 409.5,214.4 411.0,221.4 412.5,231.1 414.0,244.3 415.5,258.7 417.0,270.7 418.5,278.9 420.0,284.7 421.5,290.6 423.0,299.0 424.5,311.2 426.0,325.9 427.5,340.4 429.0,352.8 430.5,363.4 432.0,372.8 433.5,381.8 435.0,391.1 436.5,401.2 438.0,411.4 439.5,421.0 441.0,429.3 442.5,436.4 444.0,444.4 445.5,455.1 447.0,468.2 448.5,481.8 450.0,493.1 451.5,501.1 453.0,507.6 454.5,516.4 456.0,530.6 457.5,543.1 459.0,551.4 460.5,557.4 462.0,561.7 463.5,564.3 465.0,567.4 466.5,573.0 468.0,581.6 469.5,592.1 471.0,602.0 472.5,610.0 474.0,616.3 475.5,622.9 477.0,631.7 478.5,642.8 480.0,655.6 481.5,665.4 483.0,670.3 484.5,672.0 486.0,672.8 487.5,675.3 489.0,680.1 490.5,685.4 492.0,689.7 493.5,691.7 495.0,691.0 496.5,689.2 498.0,688.3 499.5,689.8 501.0,693.3 502.5,696.9 504.0,698.5 505.5,697.6 507.0,695.3 508.5,693.4 510.0,693.5 511.5,695.7 513.0,698.5 514.5,700.0 516.0,699.0 517.5,695.9 519.0,692.6 520.5,691.2 522.0,692.3 523.5,694.6 525.0,696.0 526.5,695.3 528.0,692.6 529.5,689.6 531.0,688.1 532.5,688.9 534.0,690.9 535.5,692.3 537.0,691.7 538.5,689.0 540.0,685.6 541.5,683.5 543.0,683.4 544.5,684.9 546.0,686.2 547.5,685.7 549.0,682.9 550.5,679.2 552.0,676.3 553.5,675.4 555.0,676.2 556.5,677.3 558.0,676.8 559.5,674.1 561.0,670.0 562.5,666.2 564.0,664.3 565.5,664.7 567.0,666.0 568.5,666.1 570.0,664.4 571.5,661.5 573.0,659.4 574.5,659.5 576.0,661.9 577.5,665.3 579.0,667.8 580.5,668.1 582.0,666.5 583.5,664.6 585.0,664.2 586.5,665.7 588.0,668.3 589.5,670.4 591.0,670.6 592.5,669.0 594.0,666.8 595.5,665.8 597.0,666.6 598.5,668.9 600.0,671.1 601.5,671.5 603.0,669.9 604.5,667.3 606.0,665.6 607.5,665.9 609.0,668.0 610.5,670.5 612.0,671.7 613.5,671.0 615.0,669.4 616.5,668.7 618.0,670.0 619.5,673.5 621.0,677.9 622.5,682.2 624.0,685.3 625.5,687.4 627.0,689.8 628.5,694.3 630.0,701.0 631.5,708.6 633.0,715.4 634.5,720.6 636.0,724.4 637.5,728.0 639.0,733.3 640.5,740.2 642.0,747.0 643.5,752.1 645.0,755.1 646.5,756.1 648.0,756.2 649.5,757.0 651.0,759.3 652.5,762.6 654.0,765.5 655.5,766.7 657.0,766.3 658.5,765.1 660.0,764.5 661.5,765.5 663.0,767.6 664.5,769.8 666.0,770.7 667.5,769.7 669.0,767.8 670.5,766.2 672.0,766.0 673.5,767.2 675.0,768.7 676.5,769.4 678.0,768.4 679.5,766.3 681.0,764.1 682.5,762.5 684.0,761.9 685.5,761.5 687.0,760.1 688.5,757.0 690.0,752.5 691.5,747.5 693.0,742.7 694.5,738.7 696.0,734.9 697.5,730.2 699.0,723.7 700.5,714.3 702.0,703.1 703.5,691.8 705.0,682.0 706.5,673.5 708.0,664.0 709.5,654.0 711.0,644.6 712.5,635.9 714.0,628.2 715.5,623.3 717.0,622.4 718.5,625.0 720.0,629.2 721.5,633.5 723.0,637.4 724.5,641.4 726.0,647.4 727.5,655.2 729.0,663.8 730.5,671.9 732.0,679.5 733.5,686.9 735.0,694.5 736.5,702.4 738.0,710.1 739.5,717.7 741.0,724.7 742.5,730.1 744.0,734.1 745.5,737.5 747.0,741.1 748.5,745.5 750.0,750.2 751.5,754.4 753.0,757.2 754.5,758.8 756.0,759.8 757.5,761.3 759.0,763.7 760.5,766.8 762.0,769.6 763.5,771.6 765.0,772.4 766.5,772.8 768.0,773.6 769.5,775.3 771.0,777.9 772.5,780.5 774.0,782.4 775.5,783.3 777.0,783.7 778.5,784.2 780.0,785.4 781.5,787.4 783.0,789.5 784.5,791.0 786.0,791.7 787.5,791.7 789.0,791.7 790.5,792.4 792.0,793.8 793.5,795.4 795.0,796.7 796.5,797.2 798.0,797.0 799.5,796.8 801.0,797.0 802.5,798.0 804.0,799.3 805.5,800.3 807.0,800.6 808.5,800.2 810.0,799.5 811.5,799.0 813.0,799.1 814.5,799.5 816.0,799.9 817.5,799.7 819.0,798.9 820.5,797.9 822.0,796.9 823.5,796.0 825.0,795.1 826.5,794.0 828.0,792.4 829.5,790.2 831.0,787.9 832.5,785.5 834.0,783.1 835.5,780.8 837.0,778.7 838.5,776.6 840.0,774.4 841.5,772.5 843.0,770.9 844.5,769.6 846.0,768.7 847.5,768.0 849.0,767.2 850.5,766.3 852.0,765.3 853.5,764.3 855.0,763.6 856.5,763.2 858.0,762.9 859.5,762.5 861.0,762.0 862.5,761.3 864.0,760.7 865.5,760.3 867.0,760.1 868.5,760.1 870.0,760.1 871.5,760.1 873.0,760.2 874.5,760.2 876.0,760.4 877.5,760.6 879.0,760.9 880.5,761.1 882.0,761.5 883.5,762.0 885.0,762.7 886.5,763.4 888.0,764.1 889.5,764.9 891.0,765.7 892.5,766.4 894.0,767.4 895.5,768.5 897.0,769.6 898.5,770.7 900.0,771.6 901.5,772.4 903.0,772.8 904.5,772.9 906.0,772.9 907.5,772.9 909.0,772.9 910.5,772.9 912.0,772.9 913.5,772.2 915.0,770.5 916.5,767.9 918.0,764.8 919.5,759.6 921.0,751.2 922.5,740.8 924.0,724.8 925.5,704.0 927.0,675.6 928.5,653.3 930.0,634.9 931.5,623.4 933.0,623.1 934.5,625.7 936.0,629.6 937.5,636.7 939.0,647.4 940.5,658.2 942.0,669.9 943.5,681.4 945.0,690.9 946.5,699.4 948.0,707.3 949.5,714.9 951.0,722.4 952.5,730.0 954.0,737.4 955.5,744.2 957.0,749.9 958.5,754.7 960.0,759.2 961.5,763.3 963.0,766.7 964.5,769.3 966.0,771.1 967.5,772.8 969.0,774.3 970.5,775.6 972.0,776.7 973.5,777.5 975.0,778.0 976.5,778.1 978.0,778.1 979.5,778.1 981.0,778.1 982.5,778.1 984.0,778.1 985.5,777.8 987.0,776.9 988.5,775.7 990.0,774.2 991.5,772.6 993.0,770.9 994.5,768.9 996.0,766.4 997.5,763.4 999.0,759.8 1000.5,755.4 1002.0,748.6 1003.5,739.8 1005.0,730.0 1006.5,717.4 1008.0,705.9 1009.5,697.9 1011.0,692.0 1012.5,690.7 1014.0,692.2 1015.5,694.7 1017.0,698.3 1018.5,703.6 1020.0,707.8 1021.5,711.8 1023.0,715.4 1024.5,717.9 1026.0,718.8 1027.5,718.5 1029.0,717.9 1030.5,717.0 1032.0,716.0 1033.5,715.0 1035.0,714.0 1036.5,712.8 1038.0,711.4 1039.5,710.1 1041.0,708.9 1042.5,708.1 1044.0,707.8 1045.5,707.9 1047.0,708.1 1048.5,708.5 1050.0,708.9 1051.5,709.5 1053.0,710.1 1054.5,710.7 1056.0,711.3 1057.5,712.0 1059.0,712.8 1060.5,713.8 1062.0,715.0 1063.5,716.3 1065.0,717.8 1066.5,719.9 1068.0,722.7 1069.5,726.1 1071.0,729.9 1072.5,734.3 1074.0,739.4 1075.5,745.2 1077.0,751.4 1078.5,758.1 1080.0,766.8 1081.5,776.3 1083.0,784.3 1084.5,789.1 1086.0,792.4 1087.5,795.2 1089.0,797.6 1090.5,799.6 1092.0,801.5 1093.5,803.3 1095.0,805.0 1096.5,806.6 1098.0,808.0 1099.5,809.4 1101.0,810.6 1102.5,811.6 1104.0,812.6 1105.5,813.7 1107.0,814.7 1108.5,815.4 1110.0,815.9 1111.5,816.0 1113.0,815.2 1114.5,813.7 1116.0,811.6 1117.5,809.3 1119.0,806.8 1120.5,804.0 1122.0,800.5 1123.5,796.4 1125.0,791.5 1126.5,785.8 1128.0,778.0 1129.5,768.4 1131.0,757.5 1132.5,745.6 1134.0,729.9 1135.5,713.5 1137.0,701.3 1138.5,692.8 1140.0,686.4 1141.5,685.1 1143.0,689.4 1144.5,696.5 1146.0,705.0 1147.5,717.3 1149.0,731.5 1150.5,745.3 1152.0,757.1 1153.5,768.8 1155.0,779.9 1156.5,790.3 1158.0,799.3 1159.5,807.7 1161.0,815.7 1162.5,822.2 1164.0,826.1 1165.5,828.2 1167.0,830.0 1168.5,831.4 1170.0,832.1 1171.5,832.3 1173.0,832.0 1174.5,831.4 1176.0,830.5 1177.5,829.4 1179.0,828.2 1180.5,826.7 1182.0,823.7 1183.5,819.7 1185.0,815.5 1186.5,810.9 1188.0,805.7 1189.5,800.4 1191.0,795.6 1192.5,791.0 1194.0,786.4 1195.5,782.5 1197.0,780.4 1198.5,779.6 1200.0,778.9 1201.5,778.4 1203.0,778.0 1204.5,777.7 1206.0,777.4 1207.5,777.1 1209.0,776.8 1210.5,776.4 1212.0,775.9 1213.5,775.3 1215.0,774.5 1216.5,773.7 1218.0,773.0 1219.5,772.4 1221.0,772.0 1222.5,772.0 1224.0,772.7 1225.5,774.2 1227.0,776.1 1228.5,778.5 1230.0,781.0 1231.5,783.5 1233.0,785.8 1234.5,787.8 1236.0,789.4 1237.5,791.0 1239.0,792.5 1240.5,794.0 1242.0,795.3 1243.5,796.3 1245.0,797.2 1246.5,797.9 1248.0,798.6 1249.5,799.2 1251.0,799.7 1252.5,800.1 1254.0,800.2 1255.5,800.0 1257.0,799.4 1258.5,798.6 1260.0,797.6 1261.5,796.4 1263.0,795.0 1264.5,793.5 1266.0,791.1 1267.5,787.7 1269.0,783.3 1270.5,778.0 1272.0,771.8 1273.5,760.5 1275.0,743.8 1276.5,727.3 1278.0,714.7 1279.5,702.6 1281.0,691.9 1282.5,683.6 1284.0,678.0 1285.5,672.9 1287.0,669.1 1288.5,667.2 1290.0,667.9 1291.5,670.3 1293.0,673.0 1294.5,675.0 1296.0,674.3 1297.5,668.9 1299.0,660.7 1300.5,651.9 1302.0,643.7 1303.5,634.2 1305.0,623.6 1306.5,612.2 1308.0,598.1 1309.5,578.4 1311.0,552.7 1312.5,517.1 1314.0,476.5 1315.5,436.2 1317.0,396.7 1318.5,356.9 1320.0,330.5 1321.5,318.2 1323.0,330.1 1324.5,355.6 1326.0,393.4 1327.5,432.8 1329.0,473.0 1330.5,512.2 1332.0,546.8 1333.5,573.5 1335.0,596.3 1336.5,616.2 1338.0,633.1 1339.5,649.0 1341.0,665.8 1342.5,683.2 1344.0,699.2 1345.5,713.6 1347.0,727.1 1348.5,738.9 1350.0,749.7 1351.5,758.7 1353.0,765.7 1354.5,771.9 1356.0,774.6 1357.5,774.3 1359.0,773.3 1360.5,771.8 1362.0,767.4 1363.5,760.8 1365.0,753.6 1366.5,744.3 1368.0,733.0 1369.5,722.5 1371.0,716.0 1372.5,712.6 1374.0,710.1 1375.5,709.0 1377.0,709.9 1378.5,712.1 1380.0,714.9 1381.5,718.4 1383.0,723.0 1384.5,728.2 1386.0,733.6 1387.5,739.9 1389.0,746.2 1390.5,751.9 1392.0,757.2 1393.5,762.3 1395.0,767.2 1396.5,771.9 1398.0,776.5 1399.5,780.8 1401.0,785.0 1402.5,789.0 1404.0,792.9 1405.5,796.6 1407.0,800.1 1408.5,803.3 1410.0,806.4 1411.5,809.2 1413.0,811.4 1414.5,813.1 1416.0,814.6 1417.5,815.4 1419.0,815.1 1420.5,813.2 1422.0,810.7 1423.5,807.2 1425.0,803.6 1426.5,801.5 1428.0,799.9 1429.5,797.7 1431.0,793.4 1432.5,785.2 1434.0,775.4 1435.5,763.6 1437.0,749.6 1438.5,731.5 1440.0,716.3 1441.5,708.8 1443.0,709.2 1444.5,713.3 1446.0,719.2 1447.5,728.4 1449.0,737.9 1450.5,744.6 1452.0,749.8 1453.5,753.4 1455.0,755.1 1456.5,756.1 1458.0,754.3 1459.5,746.0 1461.0,735.0 1462.5,724.8 1464.0,714.5 1465.5,702.5 1467.0,686.8 1468.5,666.4 1470.0,644.3 1471.5,618.9 1473.0,584.5 1474.5,538.8 1476.0,487.9 1477.5,430.0 1479.0,366.2 1480.5,307.5 1482.0,251.8 1483.5,200.2 1485.0,152.6 1486.5,110.6 1488.0,89.6 1489.5,77.3 1491.0,80.1 1492.5,95.7 1494.0,122.7 1495.5,169.1 1497.0,217.7 1498.5,272.4 1500.0,327.5 1501.5,383.7 1503.0,439.0 1504.5,483.7 1506.0,520.7 1507.5,553.1 1509.0,581.0 1510.5,606.1 1512.0,629.2 1513.5,650.2 1515.0,668.5 1516.5,683.8 1518.0,697.1 1519.5,708.6 1521.0,718.4 1522.5,726.5 1524.0,733.7 1525.5,740.1 1527.0,746.0 1528.5,751.5 1530.0,756.7 1531.5,761.5 1533.0,766.0 1534.5,770.0 1536.0,773.6 1537.5,777.3 1539.0,780.8 1540.5,782.9 1542.0,782.9 1543.5,782.3 1545.0,781.4 1546.5,780.3 1548.0,778.2 1549.5,775.5 1551.0,773.2 1552.5,771.2 1554.0,769.4 1555.5,769.0 1557.0,769.6 1558.5,770.5 1560.0,772.1 1561.5,775.3 1563.0,779.5 1564.5,783.7 1566.0,787.3 1567.5,791.0 1569.0,794.8 1570.5,798.5 1572.0,801.9 1573.5,805.2 1575.0,808.5 1576.5,811.6 1578.0,814.6 1579.5,817.3 1581.0,819.7 1582.5,822.0 1584.0,824.1 1586.5,827.3"/>
<polyline stroke="#666666" points="187.5,682.4 189.0,672.8 190.5,659.6 192.0,649.4 193.5,647.1 195.0,652.8 196.5,661.5 198.0,666.2 199.5,662.3 201.0,650.8 202.5,638.1 204.0,631.1 205.5,632.2 207.0,637.8 208.5,642.2 210.0,641.2 211.5,634.4 213.0,625.2 214.5,618.5 216.0,617.6 217.5,622.8 219.0,628.8 220.5,629.6 222.0,623.3 223.5,613.5 225.0,606.1 226.5,605.7 228.0,610.9 229.5,611.1 231.0,602.3 232.5,592.0 234.0,588.4 235.5,589.0 237.0,590.6 238.5,589.9 240.0,585.0 241.5,576.6 243.0,567.8 244.5,562.1 246.0,560.8 247.5,562.5 249.0,563.4 250.5,560.4 252.0,552.8 253.5,543.2 255.0,535.4 256.5,532.2 258.0,532.8 259.5,534.4 261.0,533.3 262.5,527.3 264.0,517.4 265.5,506.8 267.0,499.3 268.5,497.8 270.0,500.2 271.5,499.8 273.0,492.2 274.5,479.6 276.0,468.8 277.5,465.4 279.0,468.6 280.5,470.3 282.0,463.6 283.5,450.3 285.0,438.8 286.5,434.9 288.0,435.6 289.5,437.6 291.0,436.8 292.5,430.8 294.0,420.0 295.5,407.7 297.0,398.1 298.5,394.3 300.0,396.6 301.5,399.4 303.0,396.4 304.5,386.0 306.0,372.3 307.5,361.6 309.0,358.0 310.5,360.3 312.0,361.9 313.5,356.5 315.0,342.7 316.5,324.8 318.0,305.1 319.5,297.8 321.0,299.4 322.5,301.1 324.0,297.3 325.5,286.9 327.0,274.4 328.5,265.3 330.0,262.4 331.5,263.7 333.0,264.7 334.5,260.8 336.0,251.0 337.5,238.7 339.0,228.5 340.5,223.9 342.0,224.8 343.5,224.9 345.0,218.8 346.5,206.6 348.0,194.0 349.5,186.9 351.0,186.7 352.5,187.6 354.0,182.9 355.5,171.3 357.0,158.5 358.5,151.3 360.0,149.8 361.5,149.9 363.0,146.4 364.5,137.5 366.0,125.9 367.5,116.7 369.0,112.7 370.5,112.4 372.0,113.2 373.5,112.1 375.0,107.7 376.5,100.6 378.0,93.0 379.5,87.4 381.0,87.1 382.5,92.3 384.0,98.8 385.5,102.6 387.0,103.0 388.5,103.2 390.0,106.0 391.5,112.9 393.0,123.5 394.5,135.1 396.0,144.8 397.5,152.0 399.0,158.3 400.5,165.3 402.0,175.3 403.5,187.8 405.0,199.7 406.5,208.7 408.0,215.2 409.5,220.9 411.0,227.7 412.5,237.2 414.0,250.2 415.5,264.4 417.0,276.3 418.5,284.6 420.0,290.5 421.5,296.5 423.0,305.0 424.5,317.0 426.0,331.6 427.5,345.8 429.0,357.9 430.5,368.1 432.0,377.1 433.5,385.9 435.0,395.2 436.5,405.3 438.0,415.5 439.5,425.0 441.0,433.1 442.5,440.1 444.0,447.9 445.5,458.3 447.0,471.3 448.5,484.8 450.0,496.2 451.5,504.1 453.0,510.3 454.5,518.5 456.0,532.1 457.5,544.3 459.0,552.6 460.5,558.7 462.0,563.0 463.5,565.7 465.0,568.8 466.5,574.4 468.0,583.0 469.5,593.5 471.0,603.5 472.5,611.3 474.0,617.4 475.5,623.7 477.0,632.3 478.5,643.0 480.0,655.3 481.5,664.9 483.0,669.7 484.5,671.4 486.0,672.1 487.5,674.5 489.0,679.2 490.5,684.5 492.0,688.8 493.5,690.7 495.0,690.1 496.5,688.3 498.0,687.5 499.5,688.9 501.0,692.3 502.5,695.8 504.0,697.3 505.5,696.4 507.0,693.9 508.5,691.9 510.0,692.0 511.5,694.1 513.0,696.8 514.5,698.3 516.0,697.3 517.5,694.1 519.0,690.9 520.5,689.5 522.0,690.5 523.5,692.8 525.0,694.3 526.5,693.6 528.0,690.9 529.5,688.0 531.0,686.5 532.5,687.3 534.0,689.3 535.5,690.8 537.0,690.3 538.5,687.6 540.0,684.3 541.5,682.2 543.0,682.2 544.5,683.7 546.0,685.1 547.5,684.7 549.0,682.1 550.5,678.4 552.0,675.7 553.5,674.9 555.0,675.9 556.5,677.1 558.0,676.8 559.5,674.2 561.0,670.3 562.5,666.7 564.0,665.0 565.5,665.5 567.0,666.9 568.5,667.2 570.0,665.6 571.5,662.9 573.0,660.8 574.5,660.9 576.0,663.3 577.5,666.8 579.0,669.3 580.5,669.6 582.0,668.1 583.5,666.3 585.0,665.9 586.5,667.5 588.0,670.3 589.5,672.4 591.0,672.7 592.5,671.2 594.0,669.0 595.5,668.0 597.0,668.9 598.5,671.1 600.0,673.2 601.5,673.6 603.0,671.9 604.5,669.3 606.0,667.6 607.5,667.8 609.0,669.7 610.5,672.0 612.0,673.2 613.5,672.5 615.0,670.8 616.5,670.0 618.0,671.3 619.5,674.6 621.0,678.9 622.5,683.2 624.0,686.4 625.5,688.5 627.0,690.8 628.5,695.3 630.0,701.8 631.5,709.3 633.0,716.0 634.5,721.0 636.0,724.7 637.5,728.1 639.0,733.2 640.5,740.0 642.0,746.6 643.5,751.6 645.0,754.6 646.5,755.6 648.0,755.7 649.5,756.5 651.0,758.8 652.5,762.1 654.0,764.9 655.5,766.2 657.0,765.8 658.5,764.6 660.0,764.0 661.5,764.9 663.0,767.1 664.5,769.3 666.0,770.2 667.5,769.4 669.0,767.4 670.5,765.8 672.0,765.6 673.5,766.8 675.0,768.4 676.5,769.1 678.0,768.1 679.5,766.0 681.0,763.8 682.5,762.3 684.0,761.6 685.5,761.2 687.0,759.8 688.5,756.7 690.0,752.2 691.5,747.2 693.0,742.4 694.5,738.4 696.0,734.6 697.5,730.0 699.0,723.5 700.5,714.2 702.0,703.0 703.5,691.9 705.0,682.2 706.5,673.7 708.0,664.3 709.5,654.2 711.0,644.9 712.5,636.3 714.0,628.6 715.5,623.8 717.0,622.8 718.5,625.4 720.0,629.6 721.5,633.8 723.0,637.6 724.5,641.6 726.0,647.7 727.5,655.5 729.0,664.1 730.5,672.2 732.0,679.9 733.5,687.4 735.0,695.1 736.5,703.1 738.0,710.9 739.5,718.6 741.0,725.4 742.5,730.7 744.0,734.5 745.5,737.7 747.0,741.2 748.5,745.5 750.0,750.2 751.5,754.3 753.0,757.1 754.5,758.6 756.0,759.7 757.5,761.2 759.0,763.6 760.5,766.7 762.0,769.6 763.5,771.5 765.0,772.4 766.5,772.8 768.0,773.6 769.5,775.4 771.0,777.9 772.5,780.6 774.0,782.5 775.5,783.4 777.0,783.8 778.5,784.3 780.0,785.6 781.5,787.6 783.0,789.7 784.5,791.2 786.0,791.9 787.5,791.9 789.0,791.9 790.5,792.6 792.0,794.0 793.5,795.7 795.0,797.0 796.5,797.4 798.0,797.2 799.5,797.0 801.0,797.2 802.5,798.1 804.0,799.4 805.5,800.4 807.0,800.7 808.5,800.2 810.0,799.5 811.5,799.0 813.0,799.1 814.5,799.6 816.0,799.9 817.5,799.7 819.0,798.9 820.5,797.8 822.0,796.9 823.5,796.0 825.0,795.1 826.5,794.0 828.0,792.4 829.5,790.2 831.0,787.9 832.5,785.4 834.0,783.0 835.5,780.9 837.0,778.7 838.5,776.6 840.0,774.4 841.5,772.5 843.0,770.9 844.5,769.6 846.0,768.7 847.5,768.0 849.0,767.3 850.5,766.4 852.0,765.3 853.5,764.4 855.0,763.7 856.5,763.3 858.0,762.9 859.5,762.5 861.0,762.0 862.5,761.4 864.0,760.8 865.5,760.3 867.0,760.1 868.5,760.1 870.0,760.1 871.5,760.1 873.0,760.2 874.5,760.2 876.0,760.4 877.5,760.6 879.0,760.8 880.5,761.1 882.0,761.5 883.5,762.0 885.0,762.6 886.5,763.2 888.0,764.0 889.5,764.7 891.0,765.5 892.5,766.3 894.0,767.2 895.5,768.3 897.0,769.5 898.5,770.6 900.0,771.6 901.5,772.4 903.0,772.9 904.5,773.0 906.0,773.0 907.5,773.0 909.0,773.0 910.5,773.0 912.0,773.0 913.5,772.4 915.0,770.6 916.5,768.1 918.0,765.0 919.5,759.8 921.0,751.7 922.5,741.1 924.0,725.0 925.5,704.3 927.0,675.9 928.5,653.7 930.0,635.4 931.5,623.9 933.0,623.6 934.5,626.2 936.0,630.0 937.5,637.1 939.0,647.8 940.5,658.6 942.0,670.2 943.5,681.7 945.0,691.1 946.5,699.6 948.0,707.5 949.5,715.0 951.0,722.5 952.5,730.1 954.0,737.6 955.5,744.4 957.0,750.0 958.5,754.8 960.0,759.4 961.5,763.4 963.0,766.8 964.5,769.4 966.0,771.1 967.5,772.8 969.0,774.3 970.5,775.6 972.0,776.7 973.5,777.5 975.0,777.9 976.5,778.0 978.0,778.0 979.5,778.0 981.0,778.0 982.5,778.0 984.0,778.0 985.5,777.7 987.0,776.9 988.5,775.6 990.0,774.1 991.5,772.5 993.0,770.9 994.5,768.8 996.0,766.3 997.5,763.3 999.0,759.7 1000.5,755.4 1002.0,748.6 1003.5,739.7 1005.0,730.0 1006.5,717.5 1008.0,706.0 1009.5,698.2 1011.0,692.4 1012.5,691.1 1014.0,692.6 1015.5,695.1 1017.0,698.6 1018.5,703.6 1020.0,707.6 1021.5,711.6 1023.0,715.3 1024.5,718.0 1026.0,719.0 1027.5,718.8 1029.0,718.1 1030.5,717.3 1032.0,716.3 1033.5,715.3 1035.0,714.3 1036.5,713.1 1038.0,711.7 1039.5,710.3 1041.0,709.1 1042.5,708.3 1044.0,708.0 1045.5,708.1 1047.0,708.3 1048.5,708.7 1050.0,709.1 1051.5,709.6 1053.0,710.2 1054.5,710.8 1056.0,711.4 1057.5,712.1 1059.0,713.0 1060.5,714.0 1062.0,715.1 1063.5,716.5 1065.0,718.0 1066.5,720.1 1068.0,722.9 1069.5,726.3 1071.0,730.0 1072.5,734.3 1074.0,739.5 1075.5,745.4 1077.0,751.6 1078.5,758.4 1080.0,767.1 1081.5,776.4 1083.0,784.5 1084.5,789.3 1086.0,792.6 1087.5,795.4 1089.0,797.8 1090.5,799.9 1092.0,801.7 1093.5,803.4 1095.0,805.1 1096.5,806.7 1098.0,808.1 1099.5,809.4 1101.0,810.6 1102.5,811.7 1104.0,812.7 1105.5,813.7 1107.0,814.6 1108.5,815.4 1110.0,815.9 1111.5,815.9 1113.0,815.2 1114.5,813.7 1116.0,811.7 1117.5,809.4 1119.0,807.0 1120.5,804.2 1122.0,800.8 1123.5,796.6 1125.0,791.7 1126.5,785.9 1128.0,778.1 1129.5,768.5 1131.0,757.6 1132.5,745.8 1134.0,730.2 1135.5,714.0 1137.0,702.0 1138.5,693.7 1140.0,687.5 1141.5,686.3 1143.0,690.6 1144.5,697.6 1146.0,706.0 1147.5,718.2 1149.0,732.3 1150.5,746.0 1152.0,757.8 1153.5,769.5 1155.0,780.7 1156.5,791.1 1158.0,800.0 1159.5,808.2 1161.0,815.9 1162.5,822.2 1164.0,826.0 1165.5,828.1 1167.0,829.8 1168.5,831.1 1170.0,831.8 1171.5,832.0 1173.0,831.7 1174.5,831.1 1176.0,830.3 1177.5,829.2 1179.0,827.9 1180.5,826.4 1182.0,823.4 1183.5,819.3 1185.0,815.0 1186.5,810.3 1188.0,805.1 1189.5,799.8 1191.0,795.0 1192.5,790.4 1194.0,785.8 1195.5,782.0 1197.0,780.0 1198.5,779.3 1200.0,778.7 1201.5,778.2 1203.0,777.9 1204.5,777.6 1206.0,777.3 1207.5,777.1 1209.0,776.8 1210.5,776.4 1212.0,776.0 1213.5,775.4 1215.0,774.7 1216.5,773.9 1218.0,773.1 1219.5,772.5 1221.0,772.1 1222.5,772.1 1224.0,772.8 1225.5,774.1 1227.0,776.1 1228.5,778.3 1230.0,780.8 1231.5,783.2 1233.0,785.5 1234.5,787.5 1236.0,789.0 1237.5,790.6 1239.0,792.2 1240.5,793.7 1242.0,795.0 1243.5,796.1 1245.0,797.0 1246.5,797.7 1248.0,798.4 1249.5,799.0 1251.0,799.5 1252.5,799.9 1254.0,800.0 1255.5,799.8 1257.0,799.3 1258.5,798.6 1260.0,797.6 1261.5,796.4 1263.0,795.0 1264.5,793.4 1266.0,791.1 1267.5,787.8 1269.0,783.5 1270.5,778.2 1272.0,772.0 1273.5,761.1 1275.0,745.1 1276.5,729.3 1278.0,717.1 1279.5,705.5 1281.0,695.1 1282.5,687.0 1284.0,681.4 1285.5,676.3 1287.0,672.3 1288.5,670.2 1290.0,670.4 1291.5,672.3 1293.0,674.4 1294.5,675.9 1296.0,674.8 1297.5,669.4 1299.0,661.3 1300.5,652.7 1302.0,644.5 1303.5,635.3 1305.0,625.0 1306.5,613.8 1308.0,600.0 1309.5,580.5 1311.0,555.0 1312.5,520.0 1314.0,480.0 1315.5,440.5 1317.0,402.0 1318.5,363.8 1320.0,338.6 1321.5,327.0 1323.0,338.6 1324.5,363.2 1326.0,400.0 1327.5,438.6 1329.0,478.0 1330.5,516.2 1332.0,550.0 1333.5,576.2 1335.0,598.6 1336.5,618.2 1338.0,634.9 1339.5,650.6 1341.0,667.2 1342.5,684.2 1344.0,700.0 1345.5,714.2 1347.0,727.3 1348.5,738.6 1350.0,749.0 1351.5,757.7 1353.0,764.4 1354.5,770.4 1356.0,773.0 1357.5,772.7 1359.0,771.8 1360.5,770.4 1362.0,766.2 1363.5,759.9 1365.0,753.0 1366.5,744.1 1368.0,732.9 1369.5,722.5 1371.0,716.0 1372.5,712.6 1374.0,710.1 1375.5,709.0 1377.0,709.9 1378.5,712.2 1380.0,715.0 1381.5,718.5 1383.0,723.1 1384.5,728.3 1386.0,733.7 1387.5,739.9 1389.0,746.2 1390.5,751.8 1392.0,757.1 1393.5,762.1 1395.0,767.0 1396.5,771.8 1398.0,776.3 1399.5,780.6 1401.0,784.7 1402.5,788.8 1404.0,792.6 1405.5,796.3 1407.0,799.8 1408.5,803.0 1410.0,806.0 1411.5,808.8 1413.0,811.0 1414.5,812.7 1416.0,814.1 1417.5,814.9 1419.0,814.5 1420.5,812.5 1422.0,810.0 1423.5,806.6 1425.0,803.0 1426.5,800.9 1428.0,799.2 1429.5,797.0 1431.0,792.7 1432.5,784.7 1434.0,775.0 1435.5,763.6 1437.0,750.0 1438.5,732.6 1440.0,718.0 1441.5,710.7 1443.0,710.9 1444.5,714.6 1446.0,719.9 1447.5,728.5 1449.0,737.5 1450.5,743.8 1452.0,748.8 1453.5,752.3 1455.0,754.0 1456.5,754.9 1458.0,753.2 1459.5,745.4 1461.0,734.9 1462.5,724.8 1464.0,714.6 1465.5,702.6 1467.0,687.1 1468.5,667.2 1470.0,645.3 1471.5,620.0 1473.0,585.8 1474.5,540.6 1476.0,490.0 1477.5,432.4 1479.0,369.6 1480.5,311.3 1482.0,256.4 1483.5,205.5 1485.0,158.7 1486.5,118.2 1488.0,97.9 1489.5,86.0 1491.0,88.7 1492.5,103.7 1494.0,129.7 1495.5,174.5 1497.0,222.2 1498.5,275.8 1500.0,330.0 1501.5,385.2 1503.0,439.4 1504.5,483.3 1506.0,520.1 1507.5,552.1 1509.0,580.0 1510.5,605.0 1512.0,627.9 1513.5,648.6 1515.0,666.6 1516.5,681.8 1518.0,695.0 1519.5,706.6 1521.0,716.5 1522.5,724.9 1524.0,732.4 1525.5,739.1 1527.0,745.1 1528.5,750.6 1530.0,755.7 1531.5,760.4 1533.0,764.6 1534.5,768.5 1536.0,772.0 1537.5,775.5 1539.0,778.9 1540.5,780.8 1542.0,780.9 1543.5,780.4 1545.0,779.6 1546.5,778.6 1548.0,776.6 1549.5,774.2 1551.0,772.0 1552.5,770.1 1554.0,768.4 1555.5,768.0 1557.0,768.6 1558.5,769.6 1560.0,771.3 1561.5,774.5 1563.0,778.6 1564.5,782.8 1566.0,786.4 1567.5,790.1 1569.0,793.9 1570.5,797.5 1572.0,801.0 1573.5,804.3 1575.0,807.5 1576.5,810.6 1578.0,813.5 1579.5,816.2 1581.0,818.6 1582.5,820.8 1584.0,822.9 1586.5,826.0"/>
<polyline stroke="#999999" points="187.5,676.3 189.0,666.1 190.5,652.1 192.0,641.2 193.5,638.9 195.0,645.0 196.5,654.3 198.0,659.4 199.5,655.5 201.0,643.6 202.5,630.5 204.0,623.3 205.5,624.4 207.0,630.3 208.5,634.9 210.0,634.0 211.5,626.9 213.0,617.2 214.5,610.2 216.0,609.3 217.5,614.5 219.0,620.8 220.5,621.6 222.0,615.2 223.5,605.1 225.0,597.6 226.5,597.4 228.0,602.9 229.5,603.2 231.0,594.2 232.5,583.8 234.0,580.2 235.5,581.0 237.0,582.7 238.5,582.2 240.0,577.2 241.5,568.7 243.0,559.7 244.5,554.0 246.0,552.8 247.5,554.5 249.0,555.6 250.5,552.3 252.0,544.1 253.5,533.9 255.0,525.6 256.5,521.8 258.0,522.0 259.5,523.2 261.0,522.0 262.5,516.1 264.0,506.2 265.5,495.6 267.0,488.2 268.5,486.7 270.0,489.2 271.5,488.8 273.0,481.1 274.5,468.3 276.0,457.1 277.5,453.4 279.0,456.4 280.5,457.8 282.0,450.9 283.5,437.2 285.0,425.5 286.5,421.5 288.0,422.2 289.5,424.1 291.0,423.3 292.5,417.2 294.0,406.3 295.5,394.0 297.0,384.5 298.5,380.7 300.0,383.0 301.5,385.8 303.0,382.9 304.5,372.7 306.0,359.1 307.5,348.4 309.0,344.8 310.5,347.2 312.0,349.0 313.5,343.8 315.0,330.4 316.5,313.2 318.0,295.1 319.5,288.6 321.0,290.1 322.5,291.4 324.0,287.3 325.5,276.6 327.0,263.8 328.5,254.5 330.0,251.3 331.5,252.5 333.0,253.2 334.5,249.1 336.0,239.4 337.5,227.2 339.0,217.3 340.5,213.3 342.0,214.7 343.5,215.4 345.0,209.8 346.5,198.3 348.0,186.3 349.5,179.9 351.0,180.4 352.5,182.0 354.0,177.8 355.5,166.8 357.0,154.7 358.5,148.2 360.0,147.7 361.5,148.8 363.0,146.4 364.5,138.5 366.0,128.0 367.5,119.8 369.0,116.9 370.5,117.7 372.0,119.4 373.5,119.3 375.0,115.8 376.5,109.5 378.0,102.7 379.5,98.0 381.0,98.3 382.5,103.8 384.0,110.6 385.5,114.9 387.0,115.8 388.5,116.5 390.0,119.8 391.5,127.4 393.0,139.1 394.5,151.4 396.0,161.1 397.5,168.1 399.0,173.8 400.5,180.3 402.0,190.0 403.5,202.1 405.0,213.9 406.5,223.1 408.0,229.5 409.5,235.0 411.0,241.4 412.5,250.4 414.0,262.9 415.5,276.7 417.0,288.5 418.5,297.0 420.0,303.1 421.5,309.4 423.0,317.9 424.5,329.7 426.0,343.9 427.5,357.6 429.0,369.0 430.5,378.4 432.0,386.6 433.5,394.9 435.0,404.0 436.5,414.3 438.0,424.5 439.5,433.8 441.0,441.5 442.5,448.1 444.0,455.4 445.5,465.4 447.0,478.0 448.5,491.3 450.0,502.9 451.5,510.7 453.0,516.1 454.5,523.2 456.0,535.2 457.5,546.7 459.0,555.1 460.5,561.5 462.0,565.9 463.5,568.6 465.0,571.8 466.5,577.4 468.0,586.2 469.5,596.7 471.0,606.6 472.5,614.1 474.0,619.9 475.5,625.6 477.0,633.4 478.5,643.3 480.0,654.8 481.5,663.8 483.0,668.4 484.5,669.9 486.0,670.5 487.5,672.7 489.0,677.1 490.5,682.3 492.0,686.7 493.5,688.7 495.0,688.2 496.5,686.4 498.0,685.6 499.5,686.9 501.0,690.2 502.5,693.4 504.0,694.8 505.5,693.6 507.0,690.9 508.5,688.7 510.0,688.6 511.5,690.5 513.0,693.2 514.5,694.5 516.0,693.4 517.5,690.3 519.0,687.0 520.5,685.7 522.0,686.8 523.5,689.1 525.0,690.6 526.5,689.9 528.0,687.3 529.5,684.4 531.0,683.0 532.5,683.8 534.0,686.0 535.5,687.6 537.0,687.1 538.5,684.6 540.0,681.3 541.5,679.3 543.0,679.5 544.5,681.2 546.0,682.7 547.5,682.5 549.0,680.1 550.5,676.8 552.0,674.3 553.5,673.9 555.0,675.2 556.5,676.8 558.0,676.8 559.5,674.6 561.0,671.0 562.5,667.8 564.0,666.5 565.5,667.3 567.0,669.0 568.5,669.6 570.0,668.3 571.5,665.7 573.0,663.8 574.5,664.0 576.0,666.4 577.5,669.9 579.0,672.5 580.5,672.9 582.0,671.6 583.5,670.0 585.0,669.8 586.5,671.6 588.0,674.5 589.5,676.8 591.0,677.3 592.5,675.9 594.0,673.8 595.5,672.8 597.0,673.7 598.5,675.9 600.0,677.8 601.5,678.1 603.0,676.3 604.5,673.6 606.0,671.8 607.5,671.7 609.0,673.4 610.5,675.5 612.0,676.4 613.5,675.6 615.0,673.8 616.5,672.9 618.0,674.1 619.5,677.2 621.0,681.3 622.5,685.5 624.0,688.6 625.5,690.7 627.0,693.1 628.5,697.3 630.0,703.6 631.5,710.8 633.0,717.2 634.5,722.0 636.0,725.3 637.5,728.4 639.0,733.0 640.5,739.3 642.0,745.7 643.5,750.6 645.0,753.6 646.5,754.5 648.0,754.6 649.5,755.3 651.0,757.6 652.5,760.9 654.0,763.7 655.5,765.0 657.0,764.6 658.5,763.4 660.0,762.8 661.5,763.8 663.0,766.0 664.5,768.3 666.0,769.3 667.5,768.5 669.0,766.6 670.5,765.1 672.0,764.9 673.5,766.1 675.0,767.7 676.5,768.4 678.0,767.5 679.5,765.4 681.0,763.2 682.5,761.7 684.0,761.0 685.5,760.6 687.0,759.2 688.5,756.1 690.0,751.6 691.5,746.6 693.0,741.8 694.5,737.8 696.0,734.1 697.5,729.4 699.0,723.0 700.5,713.9 702.0,703.0 703.5,692.1 705.0,682.6 706.5,674.2 708.0,664.8 709.5,654.8 711.0,645.5 712.5,637.0 714.0,629.4 715.5,624.7 717.0,623.8 718.5,626.3 720.0,630.3 721.5,634.4 723.0,638.1 724.5,642.1 726.0,648.2 727.5,656.1 729.0,664.8 730.5,673.0 732.0,680.7 733.5,688.4 735.0,696.3 736.5,704.5 738.0,712.6 739.5,720.4 741.0,726.9 742.5,731.9 744.0,735.3 745.5,738.2 747.0,741.4 748.5,745.5 750.0,750.0 751.5,754.0 753.0,756.7 754.5,758.3 756.0,759.3 757.5,760.9 759.0,763.3 760.5,766.5 762.0,769.4 763.5,771.4 765.0,772.4 766.5,772.8 768.0,773.7 769.5,775.5 771.0,778.1 772.5,780.7 774.0,782.7 775.5,783.7 777.0,784.0 778.5,784.6 780.0,785.9 781.5,787.9 783.0,790.1 784.5,791.6 786.0,792.3 787.5,792.3 789.0,792.4 790.5,793.1 792.0,794.5 793.5,796.2 795.0,797.4 796.5,797.9 798.0,797.7 799.5,797.4 801.0,797.6 802.5,798.5 804.0,799.7 805.5,800.6 807.0,800.9 808.5,800.4 810.0,799.6 811.5,799.1 813.0,799.2 814.5,799.7 816.0,800.0 817.5,799.7 819.0,798.9 820.5,797.8 822.0,796.8 823.5,795.9 825.0,795.1 826.5,794.0 828.0,792.4 829.5,790.2 831.0,787.8 832.5,785.4 834.0,783.0 835.5,780.9 837.0,778.8 838.5,776.6 840.0,774.4 841.5,772.5 843.0,770.9 844.5,769.6 846.0,768.8 847.5,768.1 849.0,767.4 850.5,766.5 852.0,765.5 853.5,764.5 855.0,763.8 856.5,763.4 858.0,763.0 859.5,762.6 861.0,762.1 862.5,761.4 864.0,760.8 865.5,760.4 867.0,760.1 868.5,760.1 870.0,760.1 871.5,760.1 873.0,760.1 874.5,760.2 876.0,760.3 877.5,760.5 879.0,760.8 880.5,761.0 882.0,761.3 883.5,761.8 885.0,762.3 886.5,762.9 888.0,763.6 889.5,764.4 891.0,765.1 892.5,765.9 894.0,766.8 895.5,767.9 897.0,769.1 898.5,770.3 900.0,771.5 901.5,772.5 903.0,773.2 904.5,773.3 906.0,773.3 907.5,773.3 909.0,773.3 910.5,773.3 912.0,773.3 913.5,772.7 915.0,771.0 916.5,768.5 918.0,765.4 919.5,760.4 921.0,752.5 922.5,741.6 924.0,725.5 925.5,705.0 927.0,676.7 928.5,654.5 930.0,636.3 931.5,625.0 933.0,624.6 934.5,627.2 936.0,630.9 937.5,638.0 939.0,648.6 940.5,659.3 942.0,670.8 943.5,682.1 945.0,691.6 946.5,700.0 948.0,707.8 949.5,715.4 951.0,722.8 952.5,730.4 954.0,737.9 955.5,744.7 957.0,750.3 958.5,755.1 960.0,759.6 961.5,763.6 963.0,767.0 964.5,769.5 966.0,771.3 967.5,772.8 969.0,774.3 970.5,775.5 972.0,776.6 973.5,777.3 975.0,777.8 976.5,777.8 978.0,777.8 979.5,777.8 981.0,777.8 982.5,777.8 984.0,777.8 985.5,777.5 987.0,776.7 988.5,775.5 990.0,774.0 991.5,772.4 993.0,770.7 994.5,768.7 996.0,766.2 997.5,763.2 999.0,759.6 1000.5,755.2 1002.0,748.4 1003.5,739.7 1005.0,730.0 1006.5,717.6 1008.0,706.3 1009.5,698.8 1011.0,693.2 1012.5,692.0 1014.0,693.5 1015.5,695.9 1017.0,699.1 1018.5,703.5 1020.0,707.2 1021.5,711.2 1023.0,715.1 1024.5,718.1 1026.0,719.4 1027.5,719.3 1029.0,718.7 1030.5,717.8 1032.0,716.9 1033.5,716.0 1035.0,715.0 1036.5,713.7 1038.0,712.3 1039.5,710.9 1041.0,709.6 1042.5,708.8 1044.0,708.5 1045.5,708.5 1047.0,708.8 1048.5,709.1 1050.0,709.5 1051.5,710.0 1053.0,710.6 1054.5,711.1 1056.0,711.7 1057.5,712.5 1059.0,713.3 1060.5,714.4 1062.0,715.6 1063.5,716.9 1065.0,718.5 1066.5,720.5 1068.0,723.2 1069.5,726.5 1071.0,730.2 1072.5,734.5 1074.0,739.8 1075.5,745.8 1077.0,752.2 1078.5,759.0 1080.0,767.6 1081.5,776.8 1083.0,784.7 1084.5,789.6 1086.0,793.0 1087.5,795.9 1089.0,798.3 1090.5,800.3 1092.0,802.1 1093.5,803.8 1095.0,805.4 1096.5,806.9 1098.0,808.3 1099.5,809.6 1101.0,810.7 1102.5,811.7 1104.0,812.7 1105.5,813.7 1107.0,814.6 1108.5,815.3 1110.0,815.8 1111.5,815.9 1113.0,815.2 1114.5,813.8 1116.0,811.9 1117.5,809.7 1119.0,807.4 1120.5,804.7 1122.0,801.3 1123.5,797.0 1125.0,792.1 1126.5,786.3 1128.0,778.5 1129.5,768.7 1131.0,757.9 1132.5,746.2 1134.0,731.0 1135.5,715.2 1137.0,703.5 1138.5,695.5 1140.0,689.7 1141.5,689.0 1143.0,693.2 1144.5,699.8 1146.0,708.1 1147.5,720.2 1149.0,734.0 1150.5,747.5 1152.0,759.2 1153.5,771.0 1155.0,782.4 1156.5,792.8 1158.0,801.5 1159.5,809.2 1161.0,816.5 1162.5,822.3 1164.0,825.8 1165.5,827.7 1167.0,829.3 1168.5,830.5 1170.0,831.2 1171.5,831.4 1173.0,831.1 1174.5,830.6 1176.0,829.7 1177.5,828.7 1179.0,827.4 1180.5,825.8 1182.0,822.7 1183.5,818.4 1185.0,813.9 1186.5,809.1 1188.0,803.7 1189.5,798.4 1191.0,793.6 1192.5,789.0 1194.0,784.5 1195.5,780.9 1197.0,779.2 1198.5,778.6 1200.0,778.2 1201.5,777.8 1203.0,777.6 1204.5,777.4 1206.0,777.2 1207.5,777.0 1209.0,776.8 1210.5,776.5 1212.0,776.2 1213.5,775.6 1215.0,774.9 1216.5,774.1 1218.0,773.3 1219.5,772.7 1221.0,772.3 1222.5,772.2 1224.0,772.8 1225.5,774.1 1227.0,775.9 1228.5,778.0 1230.0,780.3 1231.5,782.6 1233.0,784.8 1234.5,786.7 1236.0,788.3 1237.5,789.9 1239.0,791.5 1240.5,793.0 1242.0,794.4 1243.5,795.7 1245.0,796.6 1246.5,797.4 1248.0,798.1 1249.5,798.7 1251.0,799.2 1252.5,799.5 1254.0,799.6 1255.5,799.5 1257.0,799.1 1258.5,798.5 1260.0,797.5 1261.5,796.4 1263.0,795.0 1264.5,793.4 1266.0,791.0 1267.5,787.8 1269.0,783.8 1270.5,778.6 1272.0,772.5 1273.5,762.3 1275.0,747.8 1276.5,733.5 1278.0,722.4 1279.5,711.7 1281.0,702.1 1282.5,694.4 1284.0,688.7 1285.5,683.5 1287.0,679.3 1288.5,676.6 1290.0,675.9 1291.5,676.5 1293.0,677.5 1294.5,677.8 1296.0,675.9 1297.5,670.4 1299.0,662.6 1300.5,654.3 1302.0,646.4 1303.5,637.7 1305.0,628.0 1306.5,617.4 1308.0,604.2 1309.5,585.1 1311.0,559.9 1312.5,526.4 1314.0,487.7 1315.5,449.9 1317.0,413.5 1318.5,378.9 1320.0,356.2 1321.5,346.1 1323.0,357.1 1324.5,379.7 1326.0,414.3 1327.5,451.0 1329.0,488.7 1330.5,525.0 1332.0,556.9 1333.5,582.1 1335.0,603.7 1336.5,622.5 1338.0,638.8 1339.5,654.2 1341.0,670.3 1342.5,686.5 1344.0,701.8 1345.5,715.5 1347.0,727.6 1348.5,738.1 1350.0,747.6 1351.5,755.4 1353.0,761.6 1354.5,767.1 1356.0,769.4 1357.5,769.2 1359.0,768.4 1360.5,767.2 1362.0,763.6 1363.5,758.0 1365.0,751.7 1366.5,743.5 1368.0,732.8 1369.5,722.5 1371.0,716.0 1372.5,712.6 1374.0,710.1 1375.5,709.0 1377.0,709.9 1378.5,712.3 1380.0,715.2 1381.5,718.7 1383.0,723.4 1384.5,728.5 1386.0,733.9 1387.5,739.9 1389.0,746.0 1390.5,751.5 1392.0,756.7 1393.5,761.8 1395.0,766.7 1396.5,771.4 1398.0,775.9 1399.5,780.2 1401.0,784.2 1402.5,788.2 1404.0,792.0 1405.5,795.7 1407.0,799.1 1408.5,802.2 1410.0,805.2 1411.5,808.0 1413.0,810.1 1414.5,811.7 1416.0,813.1 1417.5,813.9 1419.0,813.4 1420.5,811.2 1422.0,808.5 1423.5,805.1 1425.0,801.8 1426.5,799.7 1428.0,797.9 1429.5,795.5 1431.0,791.2 1432.5,783.4 1434.0,774.2 1435.5,763.4 1437.0,750.8 1438.5,735.0 1440.0,721.7 1441.5,714.9 1443.0,714.6 1444.5,717.3 1446.0,721.6 1447.5,728.8 1449.0,736.5 1450.5,742.1 1452.0,746.6 1453.5,749.9 1455.0,751.5 1456.5,752.3 1458.0,750.8 1459.5,744.2 1461.0,734.5 1462.5,724.8 1464.0,714.8 1465.5,702.8 1467.0,687.8 1468.5,668.8 1470.0,647.6 1471.5,622.4 1473.0,588.6 1474.5,544.7 1476.0,494.5 1477.5,437.7 1479.0,376.8 1480.5,319.7 1482.0,266.2 1483.5,216.9 1485.0,171.9 1486.5,134.8 1488.0,115.8 1489.5,104.8 1491.0,107.2 1492.5,121.2 1494.0,144.9 1495.5,186.3 1497.0,232.0 1498.5,283.0 1500.0,335.3 1501.5,388.6 1503.0,440.1 1504.5,482.6 1506.0,518.6 1507.5,550.1 1509.0,577.8 1510.5,602.6 1512.0,625.2 1513.5,645.1 1515.0,662.5 1516.5,677.3 1518.0,690.4 1519.5,702.0 1521.0,712.4 1522.5,721.5 1524.0,729.6 1525.5,736.8 1527.0,743.2 1528.5,748.7 1530.0,753.4 1531.5,757.8 1533.0,761.7 1534.5,765.3 1536.0,768.5 1537.5,771.7 1539.0,774.6 1540.5,776.5 1542.0,776.6 1543.5,776.3 1545.0,775.8 1546.5,775.0 1548.0,773.3 1549.5,771.2 1551.0,769.3 1552.5,767.6 1554.0,766.2 1555.5,765.9 1557.0,766.5 1558.5,767.7 1560.0,769.5 1561.5,772.7 1563.0,776.7 1564.5,780.8 1566.0,784.5 1567.5,788.2 1569.0,791.9 1570.5,795.6 1572.0,799.0 1573.5,802.3 1575.0,805.5 1576.5,808.5 1578.0,811.3 1579.5,813.8 1581.0,816.1 1582.5,818.3 1584.0,820.3 1586.5,823.2"/>
<polyline stroke="#cccccc" points="187.5,672.1 189.0,661.4 190.5,646.9 192.0,635.5 193.5,633.2 195.0,639.7 196.5,649.4 198.0,654.7 199.5,650.8 201.0,638.6 202.5,625.2 204.0,617.9 205.5,619.1 207.0,625.1 208.5,629.9 210.0,629.0 211.5,621.7 213.0,611.7 214.5,604.5 216.0,603.5 217.5,608.8 219.0,615.2 220.5,616.1 222.0,609.5 223.5,599.3 225.0,591.8 226.5,591.6 228.0,597.3 229.5,597.7 231.0,588.7 232.5,578.1 234.0,574.6 235.5,575.4 237.0,577.3 238.5,576.8 240.0,571.8 241.5,563.2 243.0,554.2 244.5,548.3 246.0,547.2 247.5,549.0 249.0,550.1 250.5,546.8 252.0,538.1 253.5,527.4 255.0,518.7 256.5,514.6 258.0,514.6 259.5,515.5 261.0,514.2 262.5,508.4 264.0,498.4 265.5,487.9 267.0,480.5 268.5,479.1 270.0,481.6 271.5,481.3 273.0,473.5 274.5,460.4 276.0,449.0 277.5,445.1 279.0,447.9 280.5,449.2 282.0,442.0 283.5,428.2 285.0,416.4 286.5,412.3 288.0,412.8 289.5,414.7 291.0,413.9 292.5,407.8 294.0,396.9 295.5,384.6 297.0,375.0 298.5,371.2 300.0,373.6 301.5,376.4 303.0,373.6 304.5,363.4 306.0,349.9 307.5,339.2 309.0,335.7 310.5,338.1 312.0,340.0 313.5,335.0 315.0,321.9 316.5,305.2 318.0,288.2 319.5,282.2 321.0,283.7 322.5,284.8 324.0,280.3 325.5,269.4 327.0,256.4 328.5,247.0 330.0,243.7 331.5,244.6 333.0,245.2 334.5,241.0 336.0,231.3 337.5,219.2 339.0,209.6 340.5,205.9 342.0,207.6 343.5,208.7 345.0,203.6 346.5,192.5 348.0,181.0 349.5,175.1 351.0,176.0 352.5,178.1 354.0,174.3 355.5,163.8 357.0,152.1 358.5,146.1 360.0,146.2 361.5,148.0 363.0,146.3 364.5,139.2 366.0,129.4 367.5,122.0 369.0,119.8 370.5,121.3 372.0,123.8 373.5,124.3 375.0,121.4 376.5,115.7 378.0,109.5 379.5,105.3 381.0,106.0 382.5,111.8 384.0,118.8 385.5,123.4 387.0,124.7 388.5,125.7 390.0,129.3 391.5,137.5 393.0,149.8 394.5,162.6 396.0,172.5 397.5,179.2 399.0,184.5 400.5,190.8 402.0,200.1 403.5,212.0 405.0,223.8 406.5,233.0 408.0,239.4 409.5,244.7 411.0,250.8 412.5,259.5 414.0,271.7 415.5,285.2 417.0,297.0 418.5,305.6 420.0,311.8 421.5,318.3 423.0,326.8 424.5,338.5 426.0,352.4 427.5,365.8 429.0,376.7 430.5,385.4 432.0,393.1 433.5,401.1 435.0,410.2 436.5,420.5 438.0,430.8 439.5,440.0 441.0,447.4 442.5,453.6 444.0,460.6 445.5,470.3 447.0,482.6 448.5,495.8 450.0,507.5 451.5,515.2 453.0,520.1 454.5,526.4 456.0,537.4 457.5,548.4 459.0,556.9 460.5,563.4 462.0,567.9 463.5,570.7 465.0,573.9 466.5,579.6 468.0,588.3 469.5,598.9 471.0,608.7 472.5,616.1 474.0,621.6 475.5,626.9 477.0,634.2 478.5,643.6 480.0,654.5 481.5,663.0 483.0,667.5 484.5,668.9 486.0,669.4 487.5,671.5 489.0,675.8 490.5,680.9 492.0,685.2 493.5,687.3 495.0,686.8 496.5,685.1 498.0,684.2 499.5,685.6 501.0,688.7 502.5,691.8 504.0,693.0 505.5,691.7 507.0,688.9 508.5,686.5 510.0,686.2 511.5,688.1 513.0,690.7 514.5,691.9 516.0,690.8 517.5,687.6 519.0,684.4 520.5,683.1 522.0,684.2 523.5,686.5 525.0,688.0 526.5,687.3 528.0,684.7 529.5,681.9 531.0,680.6 532.5,681.5 534.0,683.7 535.5,685.3 537.0,684.9 538.5,682.4 540.0,679.3 541.5,677.4 543.0,677.6 544.5,679.4 546.0,681.1 547.5,681.0 549.0,678.8 550.5,675.7 552.0,673.4 553.5,673.2 555.0,674.8 556.5,676.5 558.0,676.8 559.5,674.8 561.0,671.5 562.5,668.5 564.0,667.5 565.5,668.6 567.0,670.5 568.5,671.3 570.0,670.1 571.5,667.7 573.0,665.9 574.5,666.1 576.0,668.6 577.5,672.1 579.0,674.7 580.5,675.2 582.0,674.0 583.5,672.5 585.0,672.5 586.5,674.4 588.0,677.4 589.5,679.9 591.0,680.4 592.5,679.1 594.0,677.1 595.5,676.2 597.0,677.0 598.5,679.1 600.0,681.0 601.5,681.2 603.0,679.4 604.5,676.6 606.0,674.7 607.5,674.5 609.0,676.0 610.5,677.8 612.0,678.6 613.5,677.7 615.0,675.9 616.5,675.0 618.0,676.0 619.5,679.0 621.0,682.9 622.5,687.1 624.0,690.2 625.5,692.3 627.0,694.7 628.5,698.8 630.0,704.8 631.5,711.8 633.0,718.0 634.5,722.6 636.0,725.7 637.5,728.5 639.0,732.9 640.5,738.9 642.0,745.0 643.5,750.0 645.0,752.9 646.5,753.8 648.0,753.9 649.5,754.6 651.0,756.8 652.5,760.0 654.0,762.9 655.5,764.2 657.0,763.8 658.5,762.6 660.0,762.0 661.5,763.0 663.0,765.3 664.5,767.6 666.0,768.7 667.5,767.9 669.0,766.1 670.5,764.6 672.0,764.4 673.5,765.6 675.0,767.2 676.5,767.9 678.0,767.0 679.5,765.0 681.0,762.8 682.5,761.2 684.0,760.6 685.5,760.2 687.0,758.7 688.5,755.7 690.0,751.2 691.5,746.1 693.0,741.4 694.5,737.4 696.0,733.7 697.5,729.1 699.0,722.7 700.5,713.7 702.0,702.9 703.5,692.2 705.0,682.9 706.5,674.6 708.0,665.2 709.5,655.2 711.0,645.9 712.5,637.5 714.0,630.0 715.5,625.4 717.0,624.4 718.5,626.9 720.0,630.8 721.5,634.8 723.0,638.4 724.5,642.4 726.0,648.5 727.5,656.5 729.0,665.3 730.5,673.5 732.0,681.3 733.5,689.1 735.0,697.2 736.5,705.5 738.0,713.8 739.5,721.6 741.0,728.0 742.5,732.7 744.0,735.9 745.5,738.6 747.0,741.6 748.5,745.5 750.0,749.8 751.5,753.8 753.0,756.5 754.5,758.0 756.0,759.1 757.5,760.7 759.0,763.2 760.5,766.3 762.0,769.3 763.5,771.4 765.0,772.3 766.5,772.8 768.0,773.7 769.5,775.6 771.0,778.2 772.5,780.9 774.0,782.8 775.5,783.8 777.0,784.2 778.5,784.8 780.0,786.1 781.5,788.2 783.0,790.3 784.5,791.9 786.0,792.6 787.5,792.6 789.0,792.7 790.5,793.4 792.0,794.9 793.5,796.5 795.0,797.8 796.5,798.2 798.0,797.9 799.5,797.6 801.0,797.8 802.5,798.7 804.0,799.9 805.5,800.8 807.0,801.0 808.5,800.5 810.0,799.7 811.5,799.2 813.0,799.3 814.5,799.7 816.0,800.0 817.5,799.8 819.0,798.9 820.5,797.8 822.0,796.8 823.5,795.9 825.0,795.1 826.5,794.0 828.0,792.4 829.5,790.3 831.0,787.8 832.5,785.4 834.0,783.0 835.5,780.9 837.0,778.8 838.5,776.6 840.0,774.4 841.5,772.5 843.0,770.9 844.5,769.7 846.0,768.8 847.5,768.2 849.0,767.5 850.5,766.6 852.0,765.6 853.5,764.7 855.0,763.9 856.5,763.5 858.0,763.1 859.5,762.7 861.0,762.1 862.5,761.5 864.0,760.8 865.5,760.4 867.0,760.1 868.5,760.1 870.0,760.1 871.5,760.1 873.0,760.1 874.5,760.2 876.0,760.3 877.5,760.5 879.0,760.7 880.5,760.9 882.0,761.2 883.5,761.7 885.0,762.2 886.5,762.7 888.0,763.4 889.5,764.1 891.0,764.9 892.5,765.6 894.0,766.5 895.5,767.6 897.0,768.8 898.5,770.1 900.0,771.5 901.5,772.6 903.0,773.4 904.5,773.5 906.0,773.5 907.5,773.5 909.0,773.5 910.5,773.5 912.0,773.5 913.5,772.9 915.0,771.2 916.5,768.7 918.0,765.6 919.5,760.8 921.0,753.1 922.5,742.0 924.0,725.8 925.5,705.5 927.0,677.2 928.5,655.1 930.0,637.0 931.5,625.7 933.0,625.4 934.5,627.9 936.0,631.6 937.5,638.6 939.0,649.2 940.5,659.8 942.0,671.3 943.5,682.5 945.0,691.8 946.5,700.3 948.0,708.1 949.5,715.6 951.0,723.0 952.5,730.7 954.0,738.1 955.5,744.9 957.0,750.5 958.5,755.3 960.0,759.8 961.5,763.8 963.0,767.2 964.5,769.7 966.0,771.3 967.5,772.9 969.0,774.3 970.5,775.5 972.0,776.5 973.5,777.2 975.0,777.7 976.5,777.7 978.0,777.7 979.5,777.7 981.0,777.7 982.5,777.7 984.0,777.7 985.5,777.4 987.0,776.6 988.5,775.4 990.0,773.9 991.5,772.3 993.0,770.6 994.5,768.5 996.0,766.0 997.5,763.0 999.0,759.5 1000.5,755.1 1002.0,748.3 1003.5,739.6 1005.0,730.0 1006.5,717.7 1008.0,706.5 1009.5,699.2 1011.0,693.8 1012.5,692.7 1014.0,694.1 1015.5,696.5 1017.0,699.5 1018.5,703.5 1020.0,706.9 1021.5,710.8 1023.0,714.9 1024.5,718.2 1026.0,719.7 1027.5,719.6 1029.0,719.0 1030.5,718.2 1032.0,717.3 1033.5,716.4 1035.0,715.4 1036.5,714.1 1038.0,712.7 1039.5,711.2 1041.0,710.0 1042.5,709.1 1044.0,708.8 1045.5,708.9 1047.0,709.1 1048.5,709.4 1050.0,709.8 1051.5,710.3 1053.0,710.8 1054.5,711.3 1056.0,711.9 1057.5,712.7 1059.0,713.6 1060.5,714.6 1062.0,715.8 1063.5,717.2 1065.0,718.8 1066.5,720.8 1068.0,723.5 1069.5,726.7 1071.0,730.3 1072.5,734.7 1074.0,740.0 1075.5,746.1 1077.0,752.6 1078.5,759.4 1080.0,768.0 1081.5,777.1 1083.0,784.9 1084.5,789.8 1086.0,793.3 1087.5,796.2 1089.0,798.6 1090.5,800.6 1092.0,802.4 1093.5,804.1 1095.0,805.7 1096.5,807.1 1098.0,808.4 1099.5,809.7 1101.0,810.8 1102.5,811.8 1104.0,812.7 1105.5,813.7 1107.0,814.6 1108.5,815.3 1110.0,815.7 1111.5,815.8 1113.0,815.2 1114.5,813.8 1116.0,812.0 1117.5,809.9 1119.0,807.7 1120.5,805.0 1122.0,801.6 1123.5,797.4 1125.0,792.4 1126.5,786.6 1128.0,778.7 1129.5,768.9 1131.0,758.0 1132.5,746.4 1134.0,731.5 1135.5,716.1 1137.0,704.6 1138.5,696.7 1140.0,691.3 1141.5,690.8 1143.0,694.9 1144.5,701.3 1146.0,709.6 1147.5,721.5 1149.0,735.2 1150.5,748.5 1152.0,760.2 1153.5,772.1 1155.0,783.6 1156.5,794.1 1158.0,802.6 1159.5,810.0 1161.0,816.8 1162.5,822.4 1164.0,825.7 1165.5,827.5 1167.0,829.0 1168.5,830.1 1170.0,830.8 1171.5,830.9 1173.0,830.7 1174.5,830.2 1176.0,829.3 1177.5,828.3 1179.0,827.0 1180.5,825.5 1182.0,822.2 1183.5,817.8 1185.0,813.2 1186.5,808.3 1188.0,802.8 1189.5,797.4 1191.0,792.6 1192.5,788.1 1194.0,783.6 1195.5,780.2 1197.0,778.7 1198.5,778.2 1200.0,777.8 1201.5,777.5 1203.0,777.3 1204.5,777.2 1206.0,777.1 1207.5,776.9 1209.0,776.8 1210.5,776.6 1212.0,776.3 1213.5,775.8 1215.0,775.1 1216.5,774.3 1218.0,773.5 1219.5,772.8 1221.0,772.4 1222.5,772.3 1224.0,772.9 1225.5,774.1 1227.0,775.8 1228.5,777.8 1230.0,780.0 1231.5,782.2 1233.0,784.3 1234.5,786.2 1236.0,787.7 1237.5,789.3 1239.0,791.0 1240.5,792.6 1242.0,794.0 1243.5,795.3 1245.0,796.3 1246.5,797.2 1248.0,797.8 1249.5,798.4 1251.0,798.9 1252.5,799.2 1254.0,799.4 1255.5,799.3 1257.0,799.0 1258.5,798.4 1260.0,797.5 1261.5,796.4 1263.0,794.9 1264.5,793.3 1266.0,791.0 1267.5,787.9 1269.0,784.0 1270.5,778.9 1272.0,772.9 1273.5,763.2 1275.0,749.7 1276.5,736.5 1278.0,726.0 1279.5,716.0 1281.0,706.9 1282.5,699.4 1284.0,693.8 1285.5,688.5 1287.0,684.1 1288.5,681.0 1290.0,679.7 1291.5,679.5 1293.0,679.6 1294.5,679.1 1296.0,676.7 1297.5,671.1 1299.0,663.5 1300.5,655.5 1302.0,647.7 1303.5,639.3 1305.0,630.0 1306.5,619.8 1308.0,607.1 1309.5,588.3 1311.0,563.4 1312.5,530.7 1314.0,493.0 1315.5,456.4 1317.0,421.4 1318.5,389.3 1320.0,368.4 1321.5,359.4 1323.0,369.8 1324.5,391.1 1326.0,424.3 1327.5,459.5 1329.0,496.2 1330.5,531.0 1332.0,561.7 1333.5,586.2 1335.0,607.1 1336.5,625.5 1338.0,641.5 1339.5,656.7 1341.0,672.3 1342.5,688.1 1344.0,703.1 1345.5,716.3 1347.0,727.8 1348.5,737.7 1350.0,746.5 1351.5,753.9 1353.0,759.7 1354.5,764.8 1356.0,767.0 1357.5,766.7 1359.0,766.1 1360.5,765.0 1362.0,761.9 1363.5,756.7 1365.0,750.7 1366.5,743.1 1368.0,732.7 1369.5,722.5 1371.0,716.0 1372.5,712.6 1374.0,710.1 1375.5,709.0 1377.0,709.9 1378.5,712.3 1380.0,715.3 1381.5,718.9 1383.0,723.5 1384.5,728.7 1386.0,734.0 1387.5,739.9 1389.0,745.9 1390.5,751.4 1392.0,756.5 1393.5,761.5 1395.0,766.4 1396.5,771.1 1398.0,775.6 1399.5,779.8 1401.0,783.9 1402.5,787.8 1404.0,791.6 1405.5,795.2 1407.0,798.6 1408.5,801.7 1410.0,804.6 1411.5,807.4 1413.0,809.4 1414.5,811.0 1416.0,812.4 1417.5,813.1 1419.0,812.6 1420.5,810.2 1422.0,807.4 1423.5,804.2 1425.0,800.9 1426.5,798.8 1428.0,796.9 1429.5,794.5 1431.0,790.1 1432.5,782.6 1434.0,773.6 1435.5,763.3 1437.0,751.4 1438.5,736.6 1440.0,724.3 1441.5,717.8 1443.0,717.1 1444.5,719.2 1446.0,722.7 1447.5,728.9 1449.0,735.8 1450.5,740.9 1452.0,745.0 1453.5,748.3 1455.0,749.8 1456.5,750.5 1458.0,749.2 1459.5,743.4 1461.0,734.3 1462.5,724.8 1464.0,714.9 1465.5,703.0 1467.0,688.3 1468.5,669.9 1470.0,649.2 1471.5,624.1 1473.0,590.5 1474.5,547.5 1476.0,497.6 1477.5,441.4 1479.0,381.8 1480.5,325.5 1482.0,273.0 1483.5,224.8 1485.0,181.1 1486.5,146.3 1488.0,128.3 1489.5,117.8 1491.0,120.1 1492.5,133.3 1494.0,155.4 1495.5,194.4 1497.0,238.8 1498.5,288.0 1500.0,339.0 1501.5,391.0 1503.0,440.6 1504.5,482.1 1506.0,517.6 1507.5,548.8 1509.0,576.3 1510.5,601.0 1512.0,623.2 1513.5,642.7 1515.0,659.7 1516.5,674.2 1518.0,687.1 1519.5,698.9 1521.0,709.5 1522.5,719.1 1524.0,727.6 1525.5,735.3 1527.0,741.9 1528.5,747.3 1530.0,751.9 1531.5,756.0 1533.0,759.7 1534.5,763.1 1536.0,766.0 1537.5,769.0 1539.0,771.7 1540.5,773.4 1542.0,773.7 1543.5,773.5 1545.0,773.1 1546.5,772.4 1548.0,771.0 1549.5,769.1 1551.0,767.4 1552.5,765.9 1554.0,764.6 1555.5,764.4 1557.0,765.1 1558.5,766.4 1560.0,768.3 1561.5,771.4 1563.0,775.3 1564.5,779.4 1566.0,783.1 1567.5,786.9 1569.0,790.5 1570.5,794.2 1572.0,797.7 1573.5,800.9 1575.0,804.0 1576.5,807.0 1578.0,809.7 1579.5,812.2 1581.0,814.5 1582.5,816.6 1584.0,818.5 1586.5,821.3"/>
<polyline stroke="#8000ff" points="187.5,668.3 189.0,657.2 190.5,642.2 192.0,630.5 193.5,628.2 195.0,634.9 196.5,645.0 198.0,650.5 199.5,646.6 201.0,634.2 202.5,620.5 204.0,613.1 205.5,614.3 207.0,620.5 208.5,625.5 210.0,624.5 211.5,617.0 213.0,606.8 214.5,599.4 216.0,598.3 217.5,603.8 219.0,610.2 220.5,611.1 222.0,604.5 223.5,594.2 225.0,586.6 226.5,586.5 228.0,592.4 229.5,592.8 231.0,583.7 232.5,573.1 234.0,569.6 235.5,570.5 237.0,572.5 238.5,572.0 240.0,567.0 241.5,558.3 243.0,549.2 244.5,543.3 246.0,542.2 247.5,544.1 249.0,545.3 250.5,541.8 252.0,532.8 253.5,521.7 255.0,512.7 256.5,508.3 258.0,507.9 259.5,508.6 261.0,507.3 262.5,501.4 264.0,491.5 265.5,481.0 267.0,473.6 268.5,472.2 270.0,474.9 271.5,474.5 273.0,466.6 274.5,453.4 276.0,441.8 277.5,437.7 279.0,440.4 280.5,441.5 282.0,434.2 283.5,420.2 285.0,408.2 286.5,404.0 288.0,404.6 289.5,406.4 291.0,405.5 292.5,399.4 294.0,388.5 295.5,376.2 297.0,366.6 298.5,362.8 300.0,365.2 301.5,368.0 303.0,365.3 304.5,355.2 306.0,341.7 307.5,331.1 309.0,327.6 310.5,330.1 312.0,332.1 313.5,327.2 315.0,314.4 316.5,298.0 318.0,282.1 319.5,276.6 321.0,278.0 322.5,278.9 324.0,274.1 325.5,263.0 327.0,249.9 328.5,240.3 330.0,236.9 331.5,237.7 333.0,238.1 334.5,233.8 336.0,224.1 337.5,212.2 339.0,202.8 340.5,199.3 342.0,201.4 343.5,202.8 345.0,198.1 346.5,187.4 348.0,176.3 349.5,170.7 351.0,172.1 352.5,174.6 354.0,171.2 355.5,161.0 357.0,149.8 358.5,144.3 360.0,144.8 361.5,147.2 363.0,146.3 364.5,139.9 366.0,130.7 367.5,123.9 369.0,122.4 370.5,124.5 372.0,127.6 373.5,128.7 375.0,126.3 376.5,121.2 378.0,115.5 379.5,111.8 381.0,112.9 382.5,118.9 384.0,126.1 385.5,130.9 387.0,132.6 388.5,133.9 390.0,137.8 391.5,146.5 393.0,159.4 394.5,172.6 396.0,182.5 397.5,189.0 399.0,194.1 400.5,200.0 402.0,209.1 403.5,220.9 405.0,232.6 406.5,241.8 408.0,248.2 409.5,253.3 411.0,259.2 412.5,267.7 414.0,279.5 415.5,292.7 417.0,304.5 418.5,313.2 420.0,319.6 421.5,326.2 423.0,334.8 424.5,346.4 426.0,360.0 427.5,373.0 429.0,383.5 430.5,391.7 432.0,398.9 433.5,406.6 435.0,415.6 436.5,426.0 438.0,436.3 439.5,445.4 441.0,452.5 442.5,458.5 444.0,465.2 445.5,474.6 447.0,486.7 448.5,499.8 450.0,511.7 451.5,519.3 453.0,523.7 454.5,529.3 456.0,539.4 457.5,549.9 459.0,558.4 460.5,565.1 462.0,569.7 463.5,572.5 465.0,575.7 466.5,581.4 468.0,590.2 469.5,600.9 471.0,610.6 472.5,617.8 474.0,623.1 475.5,628.1 477.0,634.9 478.5,643.8 480.0,654.2 481.5,662.4 483.0,666.7 484.5,668.0 486.0,668.5 487.5,670.4 489.0,674.5 490.5,679.6 492.0,683.9 493.5,686.1 495.0,685.6 496.5,683.9 498.0,683.1 499.5,684.4 501.0,687.4 502.5,690.4 504.0,691.5 505.5,690.0 507.0,687.0 508.5,684.6 510.0,684.2 511.5,685.9 513.0,688.4 514.5,689.6 516.0,688.4 517.5,685.2 519.0,682.0 520.5,680.7 522.0,681.8 523.5,684.2 525.0,685.7 526.5,685.0 528.0,682.5 529.5,679.7 531.0,678.4 532.5,679.4 534.0,681.6 535.5,683.3 537.0,683.0 538.5,680.6 540.0,677.5 541.5,675.6 543.0,675.9 544.5,677.8 546.0,679.6 547.5,679.7 549.0,677.6 550.5,674.6 552.0,672.6 553.5,672.5 555.0,674.3 556.5,676.3 558.0,676.8 559.5,675.1 561.0,672.0 562.5,669.2 564.0,668.4 565.5,669.7 567.0,671.8 568.5,672.7 570.0,671.7 571.5,669.5 573.0,667.7 574.5,668.0 576.0,670.5 577.5,674.0 579.0,676.6 580.5,677.2 582.0,676.1 583.5,674.8 585.0,674.9 586.5,677.0 588.0,680.0 589.5,682.6 591.0,683.2 592.5,682.0 594.0,680.1 595.5,679.1 597.0,680.0 598.5,682.0 600.0,683.9 601.5,684.0 603.0,682.1 604.5,679.3 606.0,677.2 607.5,676.9 609.0,678.2 610.5,679.9 612.0,680.6 613.5,679.6 615.0,677.8 616.5,676.8 618.0,677.7 619.5,680.5 621.0,684.4 622.5,688.5 624.0,691.6 625.5,693.7 627.0,696.1 628.5,700.0 630.0,705.9 631.5,712.8 633.0,718.8 634.5,723.2 636.0,726.1 637.5,728.7 639.0,732.8 640.5,738.5 642.0,744.5 643.5,749.3 645.0,752.2 646.5,753.1 648.0,753.2 649.5,753.9 651.0,756.1 652.5,759.3 654.0,762.1 655.5,763.4 657.0,763.0 658.5,761.8 660.0,761.3 661.5,762.3 663.0,764.6 664.5,767.0 666.0,768.1 667.5,767.4 669.0,765.6 670.5,764.1 672.0,763.9 673.5,765.2 675.0,766.8 676.5,767.5 678.0,766.6 679.5,764.6 681.0,762.4 682.5,760.9 684.0,760.2 685.5,759.8 687.0,758.4 688.5,755.3 690.0,750.8 691.5,745.8 693.0,741.0 694.5,737.0 696.0,733.3 697.5,728.8 699.0,722.4 700.5,713.5 702.0,702.9 703.5,692.4 705.0,683.1 706.5,674.9 708.0,665.6 709.5,655.5 711.0,646.3 712.5,638.0 714.0,630.6 715.5,625.9 717.0,625.0 718.5,627.4 720.0,631.3 721.5,635.2 723.0,638.7 724.5,642.6 726.0,648.8 727.5,656.9 729.0,665.7 730.5,674.0 732.0,681.9 733.5,689.8 735.0,697.9 736.5,706.4 738.0,714.9 739.5,722.7 741.0,728.9 742.5,733.4 744.0,736.5 745.5,738.9 747.0,741.7 748.5,745.5 750.0,749.7 751.5,753.6 753.0,756.3 754.5,757.8 756.0,758.9 757.5,760.5 759.0,763.0 760.5,766.2 762.0,769.2 763.5,771.3 765.0,772.3 766.5,772.8 768.0,773.8 769.5,775.6 771.0,778.3 772.5,781.0 774.0,782.9 775.5,783.9 777.0,784.4 778.5,785.0 780.0,786.3 781.5,788.4 783.0,790.6 784.5,792.2 786.0,792.9 787.5,792.9 789.0,793.0 790.5,793.8 792.0,795.2 793.5,796.8 795.0,798.0 796.5,798.5 798.0,798.2 799.5,797.9 801.0,798.1 802.5,798.9 804.0,800.0 805.5,800.9 807.0,801.1 808.5,800.6 810.0,799.8 811.5,799.3 813.0,799.3 814.5,799.8 816.0,800.1 817.5,799.8 819.0,798.9 820.5,797.8 822.0,796.7 823.5,795.8 825.0,795.1 826.5,794.1 828.0,792.5 829.5,790.3 831.0,787.8 832.5,785.3 834.0,783.0 835.5,780.9 837.0,778.8 838.5,776.6 840.0,774.4 841.5,772.5 843.0,770.9 844.5,769.7 846.0,768.9 847.5,768.3 849.0,767.6 850.5,766.7 852.0,765.7 853.5,764.7 855.0,764.0 856.5,763.6 858.0,763.2 859.5,762.8 861.0,762.2 862.5,761.5 864.0,760.9 865.5,760.4 867.0,760.1 868.5,760.1 870.0,760.1 871.5,760.1 873.0,760.1 874.5,760.2 876.0,760.3 877.5,760.5 879.0,760.7 880.5,760.9 882.0,761.2 883.5,761.6 885.0,762.0 886.5,762.5 888.0,763.2 889.5,763.9 891.0,764.6 892.5,765.4 894.0,766.3 895.5,767.4 897.0,768.5 898.5,770.0 900.0,771.5 901.5,772.7 903.0,773.5 904.5,773.7 906.0,773.7 907.5,773.7 909.0,773.7 910.5,773.7 912.0,773.7 913.5,773.1 915.0,771.5 916.5,769.0 918.0,765.8 919.5,761.1 921.0,753.7 922.5,742.4 924.0,726.1 925.5,705.9 927.0,677.6 928.5,655.6 930.0,637.6 931.5,626.4 933.0,626.0 934.5,628.5 936.0,632.1 937.5,639.1 939.0,649.7 940.5,660.3 942.0,671.7 943.5,682.8 945.0,692.1 946.5,700.5 948.0,708.3 949.5,715.8 951.0,723.2 952.5,730.8 954.0,738.3 955.5,745.1 957.0,750.7 958.5,755.5 960.0,760.0 961.5,764.0 963.0,767.3 964.5,769.8 966.0,771.4 967.5,772.9 969.0,774.3 970.5,775.5 972.0,776.4 973.5,777.2 975.0,777.6 976.5,777.6 978.0,777.6 979.5,777.6 981.0,777.6 982.5,777.6 984.0,777.6 985.5,777.3 987.0,776.5 988.5,775.3 990.0,773.8 991.5,772.2 993.0,770.5 994.5,768.4 996.0,766.0 997.5,762.9 999.0,759.4 1000.5,755.0 1002.0,748.3 1003.5,739.6 1005.0,730.0 1006.5,717.8 1008.0,706.7 1009.5,699.6 1011.0,694.4 1012.5,693.3 1014.0,694.7 1015.5,697.0 1017.0,699.8 1018.5,703.5 1020.0,706.7 1021.5,710.5 1023.0,714.8 1024.5,718.3 1026.0,720.0 1027.5,719.9 1029.0,719.4 1030.5,718.6 1032.0,717.7 1033.5,716.8 1035.0,715.8 1036.5,714.5 1038.0,713.0 1039.5,711.5 1041.0,710.3 1042.5,709.4 1044.0,709.1 1045.5,709.1 1047.0,709.3 1048.5,709.6 1050.0,710.0 1051.5,710.5 1053.0,711.0 1054.5,711.5 1056.0,712.1 1057.5,712.9 1059.0,713.8 1060.5,714.9 1062.0,716.1 1063.5,717.5 1065.0,719.1 1066.5,721.1 1068.0,723.7 1069.5,726.9 1071.0,730.5 1072.5,734.8 1074.0,740.2 1075.5,746.4 1077.0,753.0 1078.5,759.8 1080.0,768.3 1081.5,777.3 1083.0,785.1 1084.5,790.0 1086.0,793.6 1087.5,796.6 1089.0,798.9 1090.5,800.9 1092.0,802.7 1093.5,804.3 1095.0,805.9 1096.5,807.3 1098.0,808.6 1099.5,809.7 1101.0,810.8 1102.5,811.8 1104.0,812.8 1105.5,813.7 1107.0,814.6 1108.5,815.3 1110.0,815.7 1111.5,815.7 1113.0,815.1 1114.5,813.9 1116.0,812.1 1117.5,810.1 1119.0,807.9 1120.5,805.3 1122.0,801.9 1123.5,797.6 1125.0,792.7 1126.5,786.8 1128.0,778.8 1129.5,769.1 1131.0,758.2 1132.5,746.7 1134.0,731.9 1135.5,716.8 1137.0,705.6 1138.5,697.8 1140.0,692.7 1141.5,692.5 1143.0,696.5 1144.5,702.6 1146.0,710.9 1147.5,722.7 1149.0,736.2 1150.5,749.5 1152.0,761.1 1153.5,773.0 1155.0,784.7 1156.5,795.1 1158.0,803.5 1159.5,810.6 1161.0,817.2 1162.5,822.4 1164.0,825.6 1165.5,827.3 1167.0,828.7 1168.5,829.7 1170.0,830.4 1171.5,830.6 1173.0,830.3 1174.5,829.8 1176.0,829.0 1177.5,828.0 1179.0,826.7 1180.5,825.1 1182.0,821.8 1183.5,817.2 1185.0,812.5 1186.5,807.5 1188.0,802.0 1189.5,796.6 1191.0,791.8 1192.5,787.3 1194.0,782.8 1195.5,779.6 1197.0,778.2 1198.5,777.8 1200.0,777.5 1201.5,777.3 1203.0,777.1 1204.5,777.1 1206.0,777.0 1207.5,776.9 1209.0,776.8 1210.5,776.6 1212.0,776.4 1213.5,775.9 1215.0,775.2 1216.5,774.4 1218.0,773.6 1219.5,772.9 1221.0,772.5 1222.5,772.4 1224.0,772.9 1225.5,774.1 1227.0,775.7 1228.5,777.6 1230.0,779.7 1231.5,781.9 1233.0,783.9 1234.5,785.7 1236.0,787.2 1237.5,788.9 1239.0,790.5 1240.5,792.2 1242.0,793.7 1243.5,795.0 1245.0,796.1 1246.5,797.0 1248.0,797.6 1249.5,798.2 1251.0,798.6 1252.5,799.0 1254.0,799.2 1255.5,799.1 1257.0,798.9 1258.5,798.4 1260.0,797.5 1261.5,796.4 1263.0,794.9 1264.5,793.2 1266.0,791.0 1267.5,788.0 1269.0,784.2 1270.5,779.2 1272.0,773.2 1273.5,763.9 1275.0,751.4 1276.5,739.1 1278.0,729.3 1279.5,719.8 1281.0,711.2 1282.5,704.0 1284.0,698.3 1285.5,693.0 1287.0,688.4 1288.5,685.0 1290.0,683.1 1291.5,682.1 1293.0,681.4 1294.5,680.2 1296.0,677.4 1297.5,671.7 1299.0,664.3 1300.5,656.5 1302.0,648.9 1303.5,640.7 1305.0,631.9 1306.5,622.0 1308.0,609.6 1309.5,591.2 1311.0,566.4 1312.5,534.6 1314.0,497.7 1315.5,462.2 1317.0,428.5 1318.5,398.6 1320.0,379.2 1321.5,371.1 1323.0,381.2 1324.5,401.3 1326.0,433.1 1327.5,467.2 1329.0,502.8 1330.5,536.4 1332.0,565.9 1333.5,589.8 1335.0,610.2 1336.5,628.1 1338.0,643.9 1339.5,658.9 1341.0,674.2 1342.5,689.6 1344.0,704.2 1345.5,717.1 1347.0,728.0 1348.5,737.4 1350.0,745.6 1351.5,752.5 1353.0,758.0 1354.5,762.7 1356.0,764.8 1357.5,764.6 1359.0,764.0 1360.5,763.1 1362.0,760.3 1363.5,755.5 1365.0,749.9 1366.5,742.8 1368.0,732.7 1369.5,722.5 1371.0,716.0 1372.5,712.6 1374.0,710.1 1375.5,709.0 1377.0,709.9 1378.5,712.4 1380.0,715.4 1381.5,719.0 1383.0,723.7 1384.5,728.8 1386.0,734.2 1387.5,739.9 1389.0,745.8 1390.5,751.2 1392.0,756.3 1393.5,761.3 1395.0,766.1 1396.5,770.8 1398.0,775.3 1399.5,779.6 1401.0,783.6 1402.5,787.5 1404.0,791.2 1405.5,794.8 1407.0,798.2 1408.5,801.2 1410.0,804.1 1411.5,806.8 1413.0,808.9 1414.5,810.4 1416.0,811.7 1417.5,812.4 1419.0,811.9 1420.5,809.4 1422.0,806.4 1423.5,803.3 1425.0,800.2 1426.5,798.0 1428.0,796.1 1429.5,793.5 1431.0,789.2 1432.5,781.8 1434.0,773.1 1435.5,763.3 1437.0,751.8 1438.5,738.0 1440.0,726.6 1441.5,720.4 1443.0,719.4 1444.5,720.9 1446.0,723.7 1447.5,729.1 1449.0,735.2 1450.5,739.9 1452.0,743.7 1453.5,746.8 1455.0,748.3 1456.5,748.9 1458.0,747.8 1459.5,742.6 1461.0,734.1 1462.5,724.8 1464.0,715.0 1465.5,703.2 1467.0,688.7 1468.5,670.9 1470.0,650.6 1471.5,625.6 1473.0,592.3 1474.5,549.9 1476.0,500.3 1477.5,444.6 1479.0,386.3 1480.5,330.6 1482.0,279.1 1483.5,231.8 1485.0,189.3 1486.5,156.6 1488.0,139.3 1489.5,129.4 1491.0,131.5 1492.5,144.0 1494.0,164.8 1495.5,201.7 1497.0,244.8 1498.5,292.4 1500.0,342.3 1501.5,393.1 1503.0,441.1 1504.5,481.7 1506.0,516.7 1507.5,547.5 1509.0,574.9 1510.5,599.6 1512.0,621.5 1513.5,640.6 1515.0,657.2 1516.5,671.5 1518.0,684.3 1519.5,696.1 1521.0,707.0 1522.5,716.9 1524.0,725.9 1525.5,733.9 1527.0,740.7 1528.5,746.1 1530.0,750.5 1531.5,754.4 1533.0,757.9 1534.5,761.1 1536.0,763.8 1537.5,766.6 1539.0,769.1 1540.5,770.7 1542.0,771.0 1543.5,771.0 1545.0,770.7 1546.5,770.2 1548.0,769.0 1549.5,767.3 1551.0,765.8 1552.5,764.4 1554.0,763.2 1555.5,763.0 1557.0,763.8 1558.5,765.3 1560.0,767.2 1561.5,770.3 1563.0,774.1 1564.5,778.1 1566.0,781.9 1567.5,785.7 1569.0,789.3 1570.5,793.0 1572.0,796.5 1573.5,799.7 1575.0,802.8 1576.5,805.6 1578.0,808.3 1579.5,810.7 1581.0,813.0 1582.5,815.0 1584.0,816.9 1586.5,819.6"/>
<polyline stroke="#800080" points="187.5,661.7 189.0,649.9 190.5,634.1 192.0,621.7 193.5,619.4 195.0,626.6 196.5,637.3 198.0,643.2 199.5,639.2 201.0,626.4 202.5,612.3 204.0,604.7 205.5,606.0 207.0,612.5 208.5,617.7 210.0,616.7 211.5,608.9 213.0,598.3 214.5,590.6 216.0,589.3 217.5,594.9 219.0,601.6 220.5,602.5 222.0,595.7 223.5,585.2 225.0,577.4 226.5,577.5 228.0,583.7 229.5,584.3 231.0,575.1 232.5,564.2 234.0,560.8 235.5,561.9 237.0,564.0 238.5,563.6 240.0,558.6 241.5,549.7 243.0,540.5 244.5,534.6 246.0,533.5 247.5,535.5 249.0,536.8 250.5,533.2 252.0,523.5 253.5,511.7 255.0,502.0 256.5,497.1 258.0,496.3 259.5,496.5 261.0,495.1 262.5,489.4 264.0,479.5 265.5,468.9 267.0,461.6 268.5,460.3 270.0,463.1 271.5,462.7 273.0,454.7 274.5,441.1 276.0,429.2 277.5,424.9 279.0,427.2 280.5,428.1 282.0,420.4 283.5,406.1 285.0,393.9 286.5,389.6 288.0,390.1 289.5,391.9 291.0,390.9 292.5,384.8 294.0,373.8 295.5,361.5 297.0,351.9 298.5,348.1 300.0,350.5 301.5,353.4 303.0,350.8 304.5,340.8 306.0,327.4 307.5,316.8 309.0,313.4 310.5,316.0 312.0,318.1 313.5,313.5 315.0,301.2 316.5,285.6 318.0,271.4 319.5,266.6 321.0,268.0 322.5,268.5 324.0,263.3 325.5,251.9 327.0,238.5 328.5,228.7 330.0,225.0 331.5,225.6 333.0,225.7 334.5,221.3 336.0,211.5 337.5,199.8 339.0,190.8 340.5,187.8 342.0,190.5 343.5,192.5 345.0,188.4 346.5,178.4 348.0,168.0 349.5,163.2 351.0,165.3 352.5,168.5 354.0,165.8 355.5,156.3 357.0,145.7 358.5,141.0 360.0,142.5 361.5,146.0 363.0,146.2 364.5,141.0 366.0,132.9 367.5,127.2 369.0,126.9 370.5,130.1 372.0,134.3 373.5,136.4 375.0,135.0 376.5,130.8 378.0,126.0 379.5,123.2 381.0,124.9 382.5,131.3 384.0,138.8 385.5,144.1 387.0,146.4 388.5,148.3 390.0,152.6 391.5,162.1 393.0,176.1 394.5,190.1 396.0,200.1 397.5,206.3 399.0,210.8 400.5,216.2 402.0,224.9 403.5,236.3 405.0,247.9 406.5,257.2 408.0,263.6 409.5,268.5 411.0,273.9 412.5,281.9 414.0,293.1 415.5,306.0 417.0,317.7 418.5,326.6 420.0,333.2 421.5,340.0 423.0,348.6 424.5,360.0 426.0,373.2 427.5,385.7 429.0,395.4 430.5,402.7 432.0,409.0 433.5,416.2 435.0,425.2 436.5,435.6 438.0,446.0 439.5,454.9 441.0,461.6 442.5,467.0 444.0,473.3 445.5,482.3 447.0,493.9 448.5,506.8 450.0,518.9 451.5,526.3 453.0,530.0 454.5,534.3 456.0,542.8 457.5,552.5 459.0,561.1 460.5,568.0 462.0,572.8 463.5,575.7 465.0,579.0 466.5,584.7 468.0,593.6 469.5,604.3 471.0,613.9 472.5,620.9 474.0,625.7 475.5,630.1 477.0,636.1 478.5,644.2 480.0,653.6 481.5,661.2 483.0,665.3 484.5,666.5 486.0,666.8 487.5,668.5 489.0,672.4 490.5,677.3 492.0,681.7 493.5,683.9 495.0,683.5 496.5,681.9 498.0,681.0 499.5,682.2 501.0,685.1 502.5,687.9 504.0,688.7 505.5,687.0 507.0,683.8 508.5,681.1 510.0,680.5 511.5,682.1 513.0,684.5 514.5,685.6 516.0,684.3 517.5,681.1 519.0,677.9 520.5,676.6 522.0,677.8 523.5,680.1 525.0,681.6 526.5,681.1 528.0,678.6 529.5,675.8 531.0,674.6 532.5,675.7 534.0,678.0 535.5,679.8 537.0,679.6 538.5,677.3 540.0,674.3 541.5,672.6 543.0,673.0 544.5,675.1 546.0,677.0 547.5,677.3 549.0,675.6 550.5,672.9 552.0,671.1 553.5,671.4 555.0,673.6 556.5,676.0 558.0,676.8 559.5,675.4 561.0,672.7 562.5,670.4 564.0,670.0 565.5,671.6 567.0,674.0 568.5,675.3 570.0,674.6 571.5,672.6 573.0,671.0 574.5,671.3 576.0,673.8 577.5,677.3 579.0,680.0 580.5,680.7 582.0,679.8 583.5,678.8 585.0,679.1 586.5,681.4 588.0,684.6 589.5,687.3 591.0,688.1 592.5,687.0 594.0,685.2 595.5,684.3 597.0,685.1 598.5,687.1 600.0,688.9 601.5,688.9 603.0,686.9 604.5,683.9 606.0,681.7 607.5,681.2 609.0,682.2 610.5,683.6 612.0,684.0 613.5,683.0 615.0,681.1 616.5,679.9 618.0,680.6 619.5,683.3 621.0,686.9 622.5,690.9 624.0,694.0 625.5,696.2 627.0,698.5 628.5,702.3 630.0,707.9 631.5,714.4 633.0,720.1 634.5,724.2 636.0,726.7 637.5,729.0 639.0,732.5 640.5,737.8 642.0,743.5 643.5,748.3 645.0,751.1 646.5,752.0 648.0,752.0 649.5,752.7 651.0,754.8 652.5,758.0 654.0,760.8 655.5,762.1 657.0,761.7 658.5,760.5 660.0,760.0 661.5,761.0 663.0,763.4 664.5,765.9 666.0,767.1 667.5,766.5 669.0,764.8 670.5,763.3 672.0,763.2 673.5,764.4 675.0,766.1 676.5,766.8 678.0,765.9 679.5,763.9 681.0,761.8 682.5,760.2 684.0,759.6 685.5,759.1 687.0,757.7 688.5,754.6 690.0,750.1 691.5,745.1 693.0,740.3 694.5,736.4 696.0,732.7 697.5,728.2 699.0,722.0 700.5,713.2 702.0,702.8 703.5,692.6 705.0,683.5 706.5,675.5 708.0,666.2 709.5,656.1 711.0,647.0 712.5,638.7 714.0,631.5 715.5,627.0 717.0,626.0 718.5,628.3 720.0,632.0 721.5,635.8 723.0,639.2 724.5,643.1 726.0,649.3 727.5,657.5 729.0,666.5 730.5,674.9 732.0,682.8 733.5,690.8 735.0,699.2 736.5,708.0 738.0,716.7 739.5,724.6 741.0,730.6 742.5,734.7 744.0,737.4 745.5,739.4 747.0,742.0 748.5,745.5 750.0,749.5 751.5,753.3 753.0,755.9 754.5,757.4 756.0,758.5 757.5,760.1 759.0,762.7 760.5,766.0 762.0,769.1 763.5,771.2 765.0,772.3 766.5,772.9 768.0,773.8 769.5,775.7 771.0,778.4 772.5,781.1 774.0,783.2 775.5,784.2 777.0,784.6 778.5,785.3 780.0,786.7 781.5,788.8 783.0,791.0 784.5,792.6 786.0,793.3 787.5,793.4 789.0,793.6 790.5,794.3 792.0,795.7 793.5,797.4 795.0,798.6 796.5,798.9 798.0,798.7 799.5,798.3 801.0,798.5 802.5,799.2 804.0,800.3 805.5,801.2 807.0,801.3 808.5,800.7 810.0,799.9 811.5,799.4 813.0,799.4 814.5,799.9 816.0,800.2 817.5,799.9 819.0,799.0 820.5,797.7 822.0,796.6 823.5,795.7 825.0,795.0 826.5,794.1 828.0,792.5 829.5,790.3 831.0,787.8 832.5,785.3 834.0,783.0 835.5,780.9 837.0,778.8 838.5,776.6 840.0,774.4 841.5,772.5 843.0,770.9 844.5,769.8 846.0,769.0 847.5,768.4 849.0,767.7 850.5,766.9 852.0,765.9 853.5,764.9 855.0,764.2 856.5,763.7 858.0,763.3 859.5,762.9 861.0,762.3 862.5,761.6 864.0,760.9 865.5,760.4 867.0,760.2 868.5,760.1 870.0,760.1 871.5,760.1 873.0,760.1 874.5,760.1 876.0,760.2 877.5,760.4 879.0,760.6 880.5,760.8 882.0,761.0 883.5,761.4 885.0,761.7 886.5,762.2 888.0,762.8 889.5,763.5 891.0,764.2 892.5,765.0 894.0,765.9 895.5,766.9 897.0,768.1 898.5,769.7 900.0,771.4 901.5,772.9 903.0,773.8 904.5,774.0 906.0,774.0 907.5,774.0 909.0,774.0 910.5,774.0 912.0,774.0 913.5,773.5 915.0,771.8 916.5,769.4 918.0,766.2 919.5,761.7 921.0,754.6 922.5,743.0 924.0,726.6 925.5,706.7 927.0,678.4 928.5,656.5 930.0,638.7 931.5,627.6 933.0,627.2 934.5,629.6 936.0,633.1 937.5,640.1 939.0,650.5 940.5,661.1 942.0,672.3 943.5,683.3 945.0,692.6 946.5,700.9 948.0,708.7 949.5,716.1 951.0,723.5 952.5,731.2 954.0,738.7 955.5,745.4 957.0,751.0 958.5,755.8 960.0,760.3 961.5,764.2 963.0,767.5 964.5,769.9 966.0,771.5 967.5,773.0 969.0,774.3 970.5,775.4 972.0,776.3 973.5,777.0 975.0,777.4 976.5,777.5 978.0,777.5 979.5,777.5 981.0,777.5 982.5,777.5 984.0,777.5 985.5,777.2 987.0,776.3 988.5,775.1 990.0,773.6 991.5,772.0 993.0,770.3 994.5,768.3 996.0,765.8 997.5,762.8 999.0,759.2 1000.5,754.9 1002.0,748.1 1003.5,739.5 1005.0,730.0 1006.5,717.9 1008.0,707.0 1009.5,700.3 1011.0,695.3 1012.5,694.3 1014.0,695.7 1015.5,697.9 1017.0,700.3 1018.5,703.4 1020.0,706.2 1021.5,710.0 1023.0,714.6 1024.5,718.5 1026.0,720.5 1027.5,720.4 1029.0,719.9 1030.5,719.2 1032.0,718.4 1033.5,717.6 1035.0,716.5 1036.5,715.1 1038.0,713.6 1039.5,712.1 1041.0,710.8 1042.5,709.9 1044.0,709.6 1045.5,709.6 1047.0,709.8 1048.5,710.1 1050.0,710.5 1051.5,710.9 1053.0,711.4 1054.5,711.9 1056.0,712.4 1057.5,713.2 1059.0,714.1 1060.5,715.3 1062.0,716.5 1063.5,718.0 1065.0,719.6 1066.5,721.5 1068.0,724.1 1069.5,727.2 1071.0,730.7 1072.5,735.0 1074.0,740.5 1075.5,746.8 1077.0,753.6 1078.5,760.5 1080.0,768.9 1081.5,777.7 1083.0,785.4 1084.5,790.4 1086.0,794.1 1087.5,797.1 1089.0,799.5 1090.5,801.4 1092.0,803.2 1093.5,804.8 1095.0,806.2 1096.5,807.6 1098.0,808.8 1099.5,809.9 1101.0,810.9 1102.5,811.9 1104.0,812.8 1105.5,813.7 1107.0,814.5 1108.5,815.2 1110.0,815.6 1111.5,815.7 1113.0,815.1 1114.5,813.9 1116.0,812.3 1117.5,810.4 1119.0,808.3 1120.5,805.8 1122.0,802.4 1123.5,798.1 1125.0,793.1 1126.5,787.2 1128.0,779.2 1129.5,769.3 1131.0,758.5 1132.5,747.1 1134.0,732.7 1135.5,718.1 1137.0,707.2 1138.5,699.8 1140.0,695.1 1141.5,695.3 1143.0,699.2 1144.5,705.0 1146.0,713.2 1147.5,724.8 1149.0,738.1 1150.5,751.1 1152.0,762.7 1153.5,774.7 1155.0,786.5 1156.5,797.0 1158.0,805.1 1159.5,811.7 1161.0,817.8 1162.5,822.5 1164.0,825.4 1165.5,826.9 1167.0,828.2 1168.5,829.1 1170.0,829.7 1171.5,829.9 1173.0,829.7 1174.5,829.2 1176.0,828.4 1177.5,827.4 1179.0,826.1 1180.5,824.5 1182.0,821.1 1183.5,816.3 1185.0,811.3 1186.5,806.2 1188.0,800.6 1189.5,795.1 1191.0,790.3 1192.5,785.8 1194.0,781.5 1195.5,778.4 1197.0,777.4 1198.5,777.1 1200.0,776.9 1201.5,776.8 1203.0,776.8 1204.5,776.8 1206.0,776.8 1207.5,776.8 1209.0,776.8 1210.5,776.7 1212.0,776.5 1213.5,776.1 1215.0,775.5 1216.5,774.7 1218.0,773.9 1219.5,773.2 1221.0,772.7 1222.5,772.5 1224.0,773.0 1225.5,774.0 1227.0,775.5 1228.5,777.3 1230.0,779.2 1231.5,781.2 1233.0,783.2 1234.5,784.9 1236.0,786.4 1237.5,788.0 1239.0,789.8 1240.5,791.5 1242.0,793.1 1243.5,794.5 1245.0,795.7 1246.5,796.6 1248.0,797.2 1249.5,797.8 1251.0,798.2 1252.5,798.6 1254.0,798.8 1255.5,798.8 1257.0,798.6 1258.5,798.3 1260.0,797.5 1261.5,796.4 1263.0,794.9 1264.5,793.2 1266.0,790.9 1267.5,788.1 1269.0,784.5 1270.5,779.7 1272.0,773.8 1273.5,765.3 1275.0,754.3 1276.5,743.7 1278.0,735.0 1279.5,726.5 1281.0,718.7 1282.5,711.9 1284.0,706.2 1285.5,700.8 1287.0,695.9 1288.5,691.9 1290.0,689.0 1291.5,686.8 1293.0,684.7 1294.5,682.2 1296.0,678.6 1297.5,672.8 1299.0,665.7 1300.5,658.3 1302.0,650.9 1303.5,643.3 1305.0,635.1 1306.5,625.9 1308.0,614.1 1309.5,596.2 1311.0,571.7 1312.5,541.4 1314.0,505.9 1315.5,472.3 1317.0,440.9 1318.5,414.9 1320.0,398.1 1321.5,391.7 1323.0,401.1 1324.5,419.0 1326.0,448.5 1327.5,480.5 1329.0,514.3 1330.5,545.9 1332.0,573.4 1333.5,596.1 1335.0,615.6 1336.5,632.7 1338.0,648.1 1339.5,662.7 1341.0,677.5 1342.5,692.0 1344.0,706.1 1345.5,718.5 1347.0,728.4 1348.5,736.8 1350.0,744.1 1351.5,750.0 1353.0,755.0 1354.5,759.2 1356.0,761.0 1357.5,760.8 1359.0,760.4 1360.5,759.7 1362.0,757.5 1363.5,753.4 1365.0,748.5 1366.5,742.1 1368.0,732.5 1369.5,722.5 1371.0,716.0 1372.5,712.6 1374.0,710.1 1375.5,709.0 1377.0,710.0 1378.5,712.5 1380.0,715.5 1381.5,719.2 1383.0,723.9 1384.5,729.1 1386.0,734.4 1387.5,739.9 1389.0,745.6 1390.5,750.9 1392.0,756.0 1393.5,760.9 1395.0,765.7 1396.5,770.4 1398.0,774.9 1399.5,779.1 1401.0,783.1 1402.5,786.9 1404.0,790.6 1405.5,794.1 1407.0,797.4 1408.5,800.4 1410.0,803.3 1411.5,805.9 1413.0,807.9 1414.5,809.3 1416.0,810.6 1417.5,811.3 1419.0,810.6 1420.5,807.9 1422.0,804.8 1423.5,801.8 1425.0,798.9 1426.5,796.7 1428.0,794.6 1429.5,791.9 1431.0,787.5 1432.5,780.5 1434.0,772.2 1435.5,763.1 1437.0,752.7 1438.5,740.6 1440.0,730.6 1441.5,724.9 1443.0,723.3 1444.5,723.9 1446.0,725.4 1447.5,729.3 1449.0,734.2 1450.5,738.1 1452.0,741.3 1453.5,744.2 1455.0,745.6 1456.5,746.1 1458.0,745.2 1459.5,741.3 1461.0,733.7 1462.5,724.8 1464.0,715.2 1465.5,703.4 1467.0,689.4 1468.5,672.6 1470.0,653.0 1471.5,628.2 1473.0,595.3 1474.5,554.3 1476.0,505.1 1477.5,450.4 1479.0,394.1 1480.5,339.6 1482.0,289.7 1483.5,244.1 1485.0,203.5 1486.5,174.4 1488.0,158.7 1489.5,149.6 1491.0,151.5 1492.5,162.8 1494.0,181.2 1495.5,214.4 1497.0,255.4 1498.5,300.2 1500.0,348.1 1501.5,396.7 1503.0,441.9 1504.5,480.9 1506.0,515.1 1507.5,545.4 1509.0,572.6 1510.5,597.1 1512.0,618.5 1513.5,636.9 1515.0,652.9 1516.5,666.7 1518.0,679.3 1519.5,691.2 1521.0,702.6 1522.5,713.2 1524.0,722.9 1525.5,731.4 1527.0,738.6 1528.5,744.0 1530.0,748.0 1531.5,751.6 1533.0,754.8 1534.5,757.6 1536.0,760.0 1537.5,762.4 1539.0,764.6 1540.5,766.0 1542.0,766.4 1543.5,766.6 1545.0,766.6 1546.5,766.3 1548.0,765.4 1549.5,764.1 1551.0,762.9 1552.5,761.7 1554.0,760.8 1555.5,760.7 1557.0,761.6 1558.5,763.3 1560.0,765.4 1561.5,768.3 1563.0,772.0 1564.5,776.0 1566.0,779.8 1567.5,783.6 1569.0,787.2 1570.5,790.8 1572.0,794.3 1573.5,797.6 1575.0,800.6 1576.5,803.3 1578.0,805.8 1579.5,808.2 1581.0,810.3 1582.5,812.3 1584.0,814.1 1586.5,816.6"/>
<polyline stroke="#000080" points="187.5,657.0 189.0,644.7 190.5,628.3 192.0,615.5 193.5,613.1 195.0,620.7 196.5,631.8 198.0,638.0 199.5,633.9 201.0,620.9 202.5,606.5 204.0,598.7 205.5,600.1 207.0,606.7 208.5,612.2 210.0,611.2 211.5,603.1 213.0,592.2 214.5,584.2 216.0,582.9 217.5,588.6 219.0,595.4 220.5,596.3 222.0,589.4 223.5,578.7 225.0,570.9 226.5,571.1 228.0,577.5 229.5,578.2 231.0,568.9 232.5,557.9 234.0,554.5 235.5,555.7 237.0,558.0 238.5,557.7 240.0,552.6 241.5,543.6 243.0,534.3 244.5,528.3 246.0,527.3 247.5,529.4 249.0,530.7 250.5,527.0 252.0,516.8 253.5,504.5 255.0,494.4 256.5,489.1 258.0,488.0 259.5,487.9 261.0,486.5 262.5,480.7 264.0,470.8 265.5,460.3 267.0,453.0 268.5,451.8 270.0,454.7 271.5,454.3 273.0,446.1 274.5,432.4 276.0,420.3 277.5,415.7 279.0,417.8 280.5,418.5 282.0,410.6 283.5,396.0 285.0,383.7 286.5,379.3 288.0,379.7 289.5,381.5 291.0,380.5 292.5,374.3 294.0,363.3 295.5,351.0 297.0,341.4 298.5,337.6 300.0,340.0 301.5,343.0 303.0,340.4 304.5,330.5 306.0,317.2 307.5,306.7 309.0,303.2 310.5,305.9 312.0,308.2 313.5,303.8 315.0,291.7 316.5,276.6 318.0,263.7 319.5,259.5 321.0,260.9 322.5,261.1 324.0,255.6 325.5,243.9 327.0,230.3 328.5,220.3 330.0,216.5 331.5,216.9 333.0,216.9 334.5,212.3 336.0,202.5 337.5,191.0 339.0,182.2 340.5,179.6 342.0,182.7 343.5,185.2 345.0,181.5 346.5,172.0 348.0,162.1 349.5,157.8 351.0,160.4 352.5,164.1 354.0,161.9 355.5,152.9 357.0,142.8 358.5,138.6 360.0,140.8 361.5,145.1 363.0,146.1 364.5,141.7 366.0,134.4 367.5,129.6 369.0,130.1 370.5,134.2 372.0,139.1 373.5,141.9 375.0,141.2 376.5,137.6 378.0,133.5 379.5,131.3 381.0,133.5 382.5,140.2 384.0,147.9 385.5,153.5 387.0,156.2 388.5,158.5 390.0,163.2 391.5,173.3 393.0,188.1 394.5,202.6 396.0,212.7 397.5,218.6 399.0,222.7 400.5,227.8 402.0,236.2 403.5,247.3 405.0,258.8 406.5,268.2 408.0,274.6 409.5,279.3 411.0,284.5 412.5,292.0 414.0,302.9 415.5,315.4 417.0,327.1 418.5,336.1 420.0,342.9 421.5,349.9 423.0,358.6 424.5,369.8 426.0,382.7 427.5,394.8 429.0,404.0 430.5,410.6 432.0,416.3 433.5,423.1 435.0,432.0 436.5,442.5 438.0,453.0 439.5,461.6 441.0,468.0 442.5,473.2 444.0,479.1 445.5,487.7 447.0,499.0 448.5,511.9 450.0,524.0 451.5,531.4 453.0,534.4 454.5,537.9 456.0,545.2 457.5,554.4 459.0,563.0 460.5,570.2 462.0,575.0 463.5,578.0 465.0,581.3 466.5,587.1 468.0,596.0 469.5,606.8 471.0,616.3 472.5,623.1 474.0,627.6 475.5,631.6 477.0,636.9 478.5,644.4 480.0,653.2 481.5,660.4 483.0,664.2 484.5,665.4 486.0,665.6 487.5,667.1 489.0,670.8 490.5,675.7 492.0,680.1 493.5,682.3 495.0,682.0 496.5,680.4 498.0,679.6 499.5,680.7 501.0,683.4 502.5,686.1 504.0,686.8 505.5,684.9 507.0,681.5 508.5,678.6 510.0,677.9 511.5,679.4 513.0,681.7 514.5,682.7 516.0,681.3 517.5,678.1 519.0,675.0 520.5,673.7 522.0,674.9 523.5,677.2 525.0,678.8 526.5,678.2 528.0,675.8 529.5,673.1 531.0,671.9 532.5,673.0 534.0,675.4 535.5,677.3 537.0,677.2 538.5,674.9 540.0,672.1 541.5,670.4 543.0,671.0 544.5,673.1 546.0,675.2 547.5,675.7 549.0,674.1 550.5,671.6 552.0,670.1 553.5,670.7 555.0,673.1 556.5,675.7 558.0,676.8 559.5,675.7 561.0,673.2 562.5,671.2 564.0,671.1 565.5,673.0 567.0,675.7 568.5,677.2 570.0,676.7 571.5,674.8 573.0,673.3 574.5,673.7 576.0,676.2 577.5,679.7 579.0,682.5 580.5,683.3 582.0,682.5 583.5,681.6 585.0,682.1 586.5,684.5 588.0,687.9 589.5,690.6 591.0,691.6 592.5,690.6 594.0,688.9 595.5,688.1 597.0,688.8 598.5,690.8 600.0,692.4 601.5,692.4 603.0,690.3 604.5,687.3 606.0,685.0 607.5,684.3 609.0,685.1 610.5,686.3 612.0,686.5 613.5,685.4 615.0,683.4 616.5,682.2 618.0,682.8 619.5,685.2 621.0,688.7 622.5,692.6 624.0,695.7 625.5,697.9 627.0,700.2 628.5,703.8 630.0,709.3 631.5,715.6 633.0,721.1 634.5,724.9 636.0,727.2 637.5,729.1 639.0,732.4 640.5,737.3 642.0,742.8 643.5,747.5 645.0,750.3 646.5,751.2 648.0,751.2 649.5,751.8 651.0,753.9 652.5,757.1 654.0,759.9 655.5,761.2 657.0,760.8 658.5,759.6 660.0,759.1 661.5,760.2 663.0,762.6 664.5,765.1 666.0,766.4 667.5,765.9 669.0,764.2 670.5,762.7 672.0,762.6 673.5,763.9 675.0,765.5 676.5,766.3 678.0,765.4 679.5,763.4 681.0,761.3 682.5,759.8 684.0,759.1 685.5,758.7 687.0,757.2 688.5,754.1 690.0,749.7 691.5,744.6 693.0,739.9 694.5,735.9 696.0,732.3 697.5,727.8 699.0,721.6 700.5,713.0 702.0,702.8 703.5,692.7 705.0,683.8 706.5,675.8 708.0,666.6 709.5,656.6 711.0,647.4 712.5,639.3 714.0,632.1 715.5,627.7 717.0,626.7 718.5,629.0 720.0,632.6 721.5,636.3 723.0,639.6 724.5,643.5 726.0,649.7 727.5,658.0 729.0,667.0 730.5,675.5 732.0,683.5 733.5,691.6 735.0,700.2 736.5,709.2 738.0,718.1 739.5,726.0 741.0,731.8 742.5,735.6 744.0,738.0 745.5,739.8 747.0,742.2 748.5,745.5 750.0,749.4 751.5,753.1 753.0,755.7 754.5,757.2 756.0,758.3 757.5,759.9 759.0,762.5 760.5,765.8 762.0,768.9 763.5,771.1 765.0,772.2 766.5,772.9 768.0,773.9 769.5,775.8 771.0,778.5 772.5,781.3 774.0,783.3 775.5,784.4 777.0,784.8 778.5,785.5 780.0,786.9 781.5,789.0 783.0,791.3 784.5,792.9 786.0,793.7 787.5,793.8 789.0,793.9 790.5,794.7 792.0,796.1 793.5,797.7 795.0,798.9 796.5,799.3 798.0,799.0 799.5,798.6 801.0,798.7 802.5,799.5 804.0,800.6 805.5,801.3 807.0,801.4 808.5,800.8 810.0,800.0 811.5,799.5 813.0,799.5 814.5,799.9 816.0,800.2 817.5,799.9 819.0,799.0 820.5,797.7 822.0,796.5 823.5,795.7 825.0,795.0 826.5,794.1 828.0,792.5 829.5,790.3 831.0,787.7 832.5,785.3 834.0,783.0 835.5,780.9 837.0,778.8 838.5,776.6 840.0,774.4 841.5,772.5 843.0,771.0 844.5,769.8 846.0,769.0 847.5,768.4 849.0,767.8 850.5,767.0 852.0,766.0 853.5,765.0 855.0,764.3 856.5,763.8 858.0,763.4 859.5,763.0 861.0,762.3 862.5,761.6 864.0,760.9 865.5,760.4 867.0,760.2 868.5,760.1 870.0,760.1 871.5,760.1 873.0,760.1 874.5,760.1 876.0,760.2 877.5,760.4 879.0,760.5 880.5,760.7 882.0,760.9 883.5,761.2 885.0,761.6 886.5,762.0 888.0,762.5 889.5,763.2 891.0,763.9 892.5,764.7 894.0,765.6 895.5,766.6 897.0,767.8 898.5,769.5 900.0,771.3 901.5,773.0 903.0,774.0 904.5,774.3 906.0,774.3 907.5,774.3 909.0,774.3 910.5,774.3 912.0,774.3 913.5,773.7 915.0,772.1 916.5,769.7 918.0,766.5 919.5,762.2 921.0,755.3 922.5,743.5 924.0,727.0 925.5,707.2 927.0,679.0 928.5,657.1 930.0,639.4 931.5,628.4 933.0,628.0 934.5,630.4 936.0,633.9 937.5,640.7 939.0,651.2 940.5,661.6 942.0,672.8 943.5,683.7 945.0,692.9 946.5,701.2 948.0,708.9 949.5,716.4 951.0,723.8 952.5,731.4 954.0,738.9 955.5,745.7 957.0,751.3 958.5,756.0 960.0,760.5 961.5,764.4 963.0,767.7 964.5,770.1 966.0,771.6 967.5,773.0 969.0,774.3 970.5,775.4 972.0,776.3 973.5,776.9 975.0,777.3 976.5,777.4 978.0,777.4 979.5,777.4 981.0,777.4 982.5,777.4 984.0,777.4 985.5,777.0 987.0,776.2 988.5,775.0 990.0,773.5 991.5,771.9 993.0,770.2 994.5,768.2 996.0,765.7 997.5,762.7 999.0,759.1 1000.5,754.7 1002.0,748.0 1003.5,739.4 1005.0,730.0 1006.5,718.0 1008.0,707.3 1009.5,700.7 1011.0,696.0 1012.5,695.0 1014.0,696.4 1015.5,698.5 1017.0,700.7 1018.5,703.4 1020.0,705.9 1021.5,709.7 1023.0,714.4 1024.5,718.6 1026.0,720.8 1027.5,720.8 1029.0,720.3 1030.5,719.7 1032.0,718.9 1033.5,718.1 1035.0,717.0 1036.5,715.6 1038.0,714.0 1039.5,712.5 1041.0,711.2 1042.5,710.3 1044.0,709.9 1045.5,710.0 1047.0,710.2 1048.5,710.4 1050.0,710.8 1051.5,711.2 1053.0,711.6 1054.5,712.1 1056.0,712.7 1057.5,713.4 1059.0,714.4 1060.5,715.5 1062.0,716.9 1063.5,718.3 1065.0,719.9 1066.5,721.9 1068.0,724.4 1069.5,727.4 1071.0,730.8 1072.5,735.1 1074.0,740.7 1075.5,747.2 1077.0,754.0 1078.5,761.0 1080.0,769.3 1081.5,778.0 1083.0,785.6 1084.5,790.7 1086.0,794.4 1087.5,797.5 1089.0,799.9 1090.5,801.8 1092.0,803.5 1093.5,805.1 1095.0,806.5 1096.5,807.8 1098.0,808.9 1099.5,810.0 1101.0,811.0 1102.5,811.9 1104.0,812.8 1105.5,813.7 1107.0,814.5 1108.5,815.1 1110.0,815.5 1111.5,815.6 1113.0,815.1 1114.5,814.0 1116.0,812.5 1117.5,810.6 1119.0,808.6 1120.5,806.2 1122.0,802.8 1123.5,798.5 1125.0,793.4 1126.5,787.5 1128.0,779.4 1129.5,769.5 1131.0,758.7 1132.5,747.3 1134.0,733.3 1135.5,719.0 1137.0,708.4 1138.5,701.1 1140.0,696.8 1141.5,697.4 1143.0,701.2 1144.5,706.7 1146.0,714.8 1147.5,726.3 1149.0,739.4 1150.5,752.3 1152.0,763.8 1153.5,775.8 1155.0,787.8 1156.5,798.4 1158.0,806.3 1159.5,812.5 1161.0,818.2 1162.5,822.6 1164.0,825.3 1165.5,826.6 1167.0,827.8 1168.5,828.7 1170.0,829.2 1171.5,829.4 1173.0,829.3 1174.5,828.8 1176.0,828.0 1177.5,827.0 1179.0,825.7 1180.5,824.1 1182.0,820.5 1183.5,815.6 1185.0,810.5 1186.5,805.3 1188.0,799.6 1189.5,794.0 1191.0,789.2 1192.5,784.8 1194.0,780.5 1195.5,777.6 1197.0,776.8 1198.5,776.6 1200.0,776.5 1201.5,776.5 1203.0,776.6 1204.5,776.6 1206.0,776.7 1207.5,776.8 1209.0,776.8 1210.5,776.8 1212.0,776.6 1213.5,776.3 1215.0,775.7 1216.5,774.9 1218.0,774.0 1219.5,773.3 1221.0,772.8 1222.5,772.7 1224.0,773.1 1225.5,774.0 1227.0,775.4 1228.5,777.1 1230.0,778.9 1231.5,780.8 1233.0,782.6 1234.5,784.3 1236.0,785.8 1237.5,787.4 1239.0,789.2 1240.5,791.0 1242.0,792.6 1243.5,794.2 1245.0,795.4 1246.5,796.3 1248.0,797.0 1249.5,797.5 1251.0,797.9 1252.5,798.3 1254.0,798.5 1255.5,798.6 1257.0,798.5 1258.5,798.2 1260.0,797.5 1261.5,796.4 1263.0,794.9 1264.5,793.1 1266.0,790.8 1267.5,788.1 1269.0,784.7 1270.5,780.0 1272.0,774.2 1273.5,766.2 1275.0,756.4 1276.5,746.9 1278.0,739.0 1279.5,731.3 1281.0,724.0 1282.5,717.5 1284.0,711.9 1285.5,706.4 1287.0,701.3 1288.5,696.8 1290.0,693.2 1291.5,690.1 1293.0,687.0 1294.5,683.7 1296.0,679.4 1297.5,673.6 1299.0,666.7 1300.5,659.5 1302.0,652.3 1303.5,645.1 1305.0,637.4 1306.5,628.6 1308.0,617.4 1309.5,599.7 1311.0,575.5 1312.5,546.3 1314.0,511.8 1315.5,479.6 1317.0,449.7 1318.5,426.5 1320.0,411.6 1321.5,406.5 1323.0,415.2 1324.5,431.7 1326.0,459.6 1327.5,490.1 1329.0,522.6 1330.5,552.6 1332.0,578.7 1333.5,600.6 1335.0,619.5 1336.5,636.0 1338.0,651.0 1339.5,665.5 1341.0,679.8 1342.5,693.8 1344.0,707.5 1345.5,719.4 1347.0,728.7 1348.5,736.4 1350.0,743.0 1351.5,748.3 1353.0,752.8 1354.5,756.6 1356.0,758.2 1357.5,758.1 1359.0,757.8 1360.5,757.3 1362.0,755.5 1363.5,752.0 1365.0,747.5 1366.5,741.7 1368.0,732.5 1369.5,722.5 1371.0,716.0 1372.5,712.7 1374.0,710.1 1375.5,709.0 1377.0,710.0 1378.5,712.5 1380.0,715.6 1381.5,719.4 1383.0,724.1 1384.5,729.3 1386.0,734.5 1387.5,739.9 1389.0,745.5 1390.5,750.7 1392.0,755.7 1393.5,760.6 1395.0,765.4 1396.5,770.1 1398.0,774.5 1399.5,778.7 1401.0,782.7 1402.5,786.5 1404.0,790.1 1405.5,793.6 1407.0,796.9 1408.5,799.9 1410.0,802.6 1411.5,805.2 1413.0,807.1 1414.5,808.6 1416.0,809.8 1417.5,810.4 1419.0,809.8 1420.5,806.8 1422.0,803.6 1423.5,800.7 1425.0,798.0 1426.5,795.8 1428.0,793.5 1429.5,790.7 1431.0,786.4 1432.5,779.5 1434.0,771.5 1435.5,763.0 1437.0,753.3 1438.5,742.4 1440.0,733.4 1441.5,728.2 1443.0,726.2 1444.5,726.0 1446.0,726.7 1447.5,729.5 1449.0,733.4 1450.5,736.8 1452.0,739.7 1453.5,742.3 1455.0,743.7 1456.5,744.0 1458.0,743.4 1459.5,740.4 1461.0,733.4 1462.5,724.7 1464.0,715.4 1465.5,703.6 1467.0,689.9 1468.5,673.8 1470.0,654.8 1471.5,630.0 1473.0,597.4 1474.5,557.4 1476.0,508.6 1477.5,454.4 1479.0,399.7 1480.5,346.0 1482.0,297.3 1483.5,252.9 1485.0,213.7 1486.5,187.2 1488.0,172.5 1489.5,164.1 1491.0,165.8 1492.5,176.2 1494.0,192.9 1495.5,223.4 1497.0,262.9 1498.5,305.7 1500.0,352.2 1501.5,399.3 1503.0,442.5 1504.5,480.4 1506.0,514.0 1507.5,543.8 1509.0,570.9 1510.5,595.3 1512.0,616.4 1513.5,634.2 1515.0,649.7 1516.5,663.3 1518.0,675.7 1519.5,687.7 1521.0,699.5 1522.5,710.5 1524.0,720.7 1525.5,729.7 1527.0,737.1 1528.5,742.6 1530.0,746.3 1531.5,749.6 1533.0,752.5 1534.5,755.1 1536.0,757.3 1537.5,759.4 1539.0,761.3 1540.5,762.6 1542.0,763.2 1543.5,763.5 1545.0,763.6 1546.5,763.5 1548.0,762.9 1549.5,761.8 1551.0,760.8 1552.5,759.8 1554.0,759.0 1555.5,759.0 1557.0,760.0 1558.5,761.8 1560.0,764.0 1561.5,766.9 1563.0,770.5 1564.5,774.4 1566.0,778.3 1567.5,782.1 1569.0,785.7 1570.5,789.3 1572.0,792.8 1573.5,796.1 1575.0,799.0 1576.5,801.6 1578.0,804.1 1579.5,806.4 1581.0,808.5 1582.5,810.4 1584.0,812.1 1586.5,814.4"/>
<polyline stroke="#0000ff" points="187.5,650.4 189.0,637.5 190.5,620.2 192.0,606.7 193.5,604.3 195.0,612.4 196.5,624.1 198.0,630.6 199.5,626.6 201.0,613.1 202.5,598.3 204.0,590.3 205.5,591.8 207.0,598.7 208.5,604.4 210.0,603.4 211.5,595.0 213.0,583.6 214.5,575.3 216.0,573.9 217.5,579.7 219.0,586.7 220.5,587.7 222.0,580.6 223.5,569.7 225.0,561.8 226.5,562.1 228.0,568.9 229.5,569.7 231.0,560.2 232.5,549.1 234.0,545.7 235.5,547.1 237.0,549.5 238.5,549.3 240.0,544.1 241.5,535.1 243.0,525.6 244.5,519.6 246.0,518.6 247.5,520.8 249.0,522.3 250.5,518.3 252.0,507.5 253.5,494.5 255.0,483.8 256.5,478.0 258.0,476.4 259.5,475.9 261.0,474.3 262.5,468.6 264.0,458.7 265.5,448.2 267.0,441.0 268.5,439.9 270.0,442.9 271.5,442.5 273.0,434.2 274.5,420.1 276.0,407.7 277.5,402.8 279.0,404.7 280.5,405.0 282.0,396.9 283.5,382.0 285.0,369.4 286.5,364.9 288.0,365.2 289.5,366.9 291.0,365.9 292.5,359.7 294.0,348.7 295.5,336.3 297.0,326.6 298.5,322.9 300.0,325.3 301.5,328.3 303.0,325.8 304.5,316.1 306.0,302.9 307.5,292.4 309.0,289.1 310.5,291.8 312.0,294.2 313.5,290.1 315.0,278.5 316.5,264.2 318.0,253.0 319.5,249.6 321.0,250.9 322.5,250.7 324.0,244.8 325.5,232.7 327.0,218.8 328.5,208.7 330.0,204.7 331.5,204.8 333.0,204.5 334.5,199.7 336.0,190.0 337.5,178.6 339.0,170.3 340.5,168.1 342.0,171.7 343.5,174.9 345.0,171.9 346.5,163.0 348.0,153.8 349.5,150.2 351.0,153.6 352.5,158.0 354.0,156.5 355.5,148.1 357.0,138.8 358.5,135.4 360.0,138.5 361.5,143.9 363.0,146.1 364.5,142.8 366.0,136.7 367.5,132.9 369.0,134.6 370.5,139.8 372.0,145.8 373.5,149.7 375.0,149.9 376.5,147.2 378.0,144.0 379.5,142.7 381.0,145.5 382.5,152.6 384.0,160.6 385.5,166.7 387.0,170.0 388.5,172.8 390.0,178.0 391.5,189.0 393.0,204.8 394.5,220.1 396.0,230.3 397.5,235.9 399.0,239.4 400.5,244.0 402.0,251.9 403.5,262.8 405.0,274.2 406.5,283.6 408.0,290.0 409.5,294.4 411.0,299.2 412.5,306.2 414.0,316.5 415.5,328.6 417.0,340.2 418.5,349.5 420.0,356.5 421.5,363.7 423.0,372.5 424.5,383.5 426.0,396.0 427.5,407.5 429.0,415.9 430.5,421.6 432.0,426.4 433.5,432.8 435.0,441.5 436.5,452.2 438.0,462.7 439.5,471.1 441.0,477.1 442.5,481.7 444.0,487.2 445.5,495.3 447.0,506.2 448.5,518.9 450.0,531.3 451.5,538.4 453.0,540.7 454.5,543.0 456.0,548.6 457.5,557.0 459.0,565.7 460.5,573.1 462.0,578.1 463.5,581.2 465.0,584.6 466.5,590.4 468.0,599.4 469.5,610.2 471.0,619.7 472.5,626.1 474.0,630.2 475.5,633.6 477.0,638.2 478.5,644.8 480.0,652.7 481.5,659.2 483.0,662.8 484.5,663.8 486.0,663.9 487.5,665.2 489.0,668.7 490.5,673.4 492.0,677.8 493.5,680.1 495.0,679.9 496.5,678.4 498.0,677.5 499.5,678.6 501.0,681.1 502.5,683.6 504.0,684.1 505.5,681.9 507.0,678.3 508.5,675.2 510.0,674.3 511.5,675.6 513.0,677.8 514.5,678.7 516.0,677.2 517.5,673.9 519.0,670.8 520.5,669.6 522.0,670.8 523.5,673.2 525.0,674.7 526.5,674.2 528.0,671.9 529.5,669.2 531.0,668.1 532.5,669.3 534.0,671.8 535.5,673.8 537.0,673.8 538.5,671.7 540.0,668.9 541.5,667.4 543.0,668.1 544.5,670.3 546.0,672.6 547.5,673.3 549.0,672.0 550.5,669.8 552.0,668.6 553.5,669.6 555.0,672.3 556.5,675.3 558.0,676.8 559.5,676.1 561.0,674.0 562.5,672.4 564.0,672.7 565.5,675.0 567.0,677.9 568.5,679.7 570.0,679.5 571.5,677.9 573.0,676.5 574.5,677.0 576.0,679.5 577.5,683.1 579.0,685.9 580.5,686.8 582.0,686.2 583.5,685.6 585.0,686.3 586.5,688.9 588.0,692.4 589.5,695.4 591.0,696.5 592.5,695.7 594.0,694.1 595.5,693.3 597.0,694.0 598.5,695.9 600.0,697.4 601.5,697.2 603.0,695.0 604.5,691.9 606.0,689.5 607.5,688.5 609.0,689.0 610.5,689.9 612.0,690.0 613.5,688.8 615.0,686.7 616.5,685.3 618.0,685.7 619.5,688.0 621.0,691.3 622.5,695.1 624.0,698.1 625.5,700.4 627.0,702.7 628.5,706.1 630.0,711.2 631.5,717.2 633.0,722.4 634.5,725.9 636.0,727.8 637.5,729.4 639.0,732.1 640.5,736.6 642.0,741.9 643.5,746.4 645.0,749.2 646.5,750.0 648.0,750.1 649.5,750.7 651.0,752.7 652.5,755.8 654.0,758.6 655.5,759.9 657.0,759.5 658.5,758.3 660.0,757.8 661.5,758.9 663.0,761.4 664.5,764.0 666.0,765.4 667.5,765.0 669.0,763.4 670.5,761.9 672.0,761.8 673.5,763.1 675.0,764.8 676.5,765.6 678.0,764.7 679.5,762.7 681.0,760.6 682.5,759.1 684.0,758.5 685.5,758.0 687.0,756.6 688.5,753.5 690.0,749.0 691.5,744.0 693.0,739.2 694.5,735.3 696.0,731.7 697.5,727.2 699.0,721.1 700.5,712.7 702.0,702.7 703.5,692.9 705.0,684.2 706.5,676.4 708.0,667.2 709.5,657.2 711.0,648.1 712.5,640.1 714.0,633.1 715.5,628.7 717.0,627.7 718.5,629.9 720.0,633.4 721.5,636.9 723.0,640.1 724.5,643.9 726.0,650.2 727.5,658.6 729.0,667.8 730.5,676.3 732.0,684.4 733.5,692.7 735.0,701.5 736.5,710.7 738.0,720.0 739.5,728.0 741.0,733.4 742.5,736.9 744.0,738.9 745.5,740.4 747.0,742.4 748.5,745.5 750.0,749.2 751.5,752.7 753.0,755.3 754.5,756.8 756.0,757.9 757.5,759.6 759.0,762.2 760.5,765.6 762.0,768.8 763.5,771.0 765.0,772.2 766.5,772.9 768.0,774.0 769.5,776.0 771.0,778.7 772.5,781.5 774.0,783.5 775.5,784.6 777.0,785.1 778.5,785.8 780.0,787.2 781.5,789.4 783.0,791.7 784.5,793.4 786.0,794.1 787.5,794.3 789.0,794.4 790.5,795.2 792.0,796.6 793.5,798.3 795.0,799.4 796.5,799.8 798.0,799.5 799.5,799.1 801.0,799.1 802.5,799.8 804.0,800.9 805.5,801.6 807.0,801.6 808.5,800.9 810.0,800.1 811.5,799.6 813.0,799.6 814.5,800.0 816.0,800.3 817.5,800.0 819.0,799.0 820.5,797.7 822.0,796.5 823.5,795.6 825.0,795.0 826.5,794.1 828.0,792.6 829.5,790.3 831.0,787.7 832.5,785.2 834.0,783.0 835.5,780.9 837.0,778.8 838.5,776.6 840.0,774.4 841.5,772.5 843.0,771.0 844.5,769.8 846.0,769.1 847.5,768.5 849.0,767.9 850.5,767.1 852.0,766.1 853.5,765.2 855.0,764.5 856.5,764.0 858.0,763.6 859.5,763.1 861.0,762.4 862.5,761.7 864.0,761.0 865.5,760.5 867.0,760.2 868.5,760.1 870.0,760.1 871.5,760.1 873.0,760.1 874.5,760.1 876.0,760.2 877.5,760.3 879.0,760.5 880.5,760.6 882.0,760.8 883.5,761.0 885.0,761.3 886.5,761.6 888.0,762.1 889.5,762.8 891.0,763.5 892.5,764.3 894.0,765.2 895.5,766.2 897.0,767.4 898.5,769.2 900.0,771.2 901.5,773.1 903.0,774.3 904.5,774.6 906.0,774.6 907.5,774.6 909.0,774.6 910.5,774.6 912.0,774.6 913.5,774.1 915.0,772.5 916.5,770.1 918.0,766.9 919.5,762.7 921.0,756.2 922.5,744.1 924.0,727.5 925.5,707.9 927.0,679.8 928.5,658.0 930.0,640.4 931.5,629.5 933.0,629.2 934.5,631.5 936.0,634.9 937.5,641.7 939.0,652.1 940.5,662.4 942.0,673.4 943.5,684.2 945.0,693.3 946.5,701.6 948.0,709.3 949.5,716.7 951.0,724.1 952.5,731.7 954.0,739.2 955.5,746.0 957.0,751.6 958.5,756.3 960.0,760.8 961.5,764.7 963.0,767.9 964.5,770.3 966.0,771.8 967.5,773.1 969.0,774.3 970.5,775.3 972.0,776.2 973.5,776.8 975.0,777.1 976.5,777.2 978.0,777.2 979.5,777.2 981.0,777.2 982.5,777.2 984.0,777.2 985.5,776.9 987.0,776.0 988.5,774.8 990.0,773.3 991.5,771.7 993.0,770.0 994.5,768.0 996.0,765.5 997.5,762.5 999.0,758.9 1000.5,754.6 1002.0,747.9 1003.5,739.3 1005.0,730.0 1006.5,718.1 1008.0,707.6 1009.5,701.4 1011.0,696.9 1012.5,696.0 1014.0,697.4 1015.5,699.4 1017.0,701.3 1018.5,703.3 1020.0,705.5 1021.5,709.2 1023.0,714.2 1024.5,718.8 1026.0,721.3 1027.5,721.3 1029.0,720.9 1030.5,720.3 1032.0,719.6 1033.5,718.8 1035.0,717.7 1036.5,716.2 1038.0,714.6 1039.5,713.1 1041.0,711.7 1042.5,710.8 1044.0,710.4 1045.5,710.5 1047.0,710.6 1048.5,710.9 1050.0,711.2 1051.5,711.6 1053.0,712.0 1054.5,712.5 1056.0,713.0 1057.5,713.8 1059.0,714.8 1060.5,715.9 1062.0,717.3 1063.5,718.8 1065.0,720.4 1066.5,722.4 1068.0,724.8 1069.5,727.7 1071.0,731.0 1072.5,735.3 1074.0,741.0 1075.5,747.6 1077.0,754.6 1078.5,761.6 1080.0,769.8 1081.5,778.4 1083.0,786.0 1084.5,791.0 1086.0,794.9 1087.5,798.0 1089.0,800.4 1090.5,802.3 1092.0,804.0 1093.5,805.5 1095.0,806.8 1096.5,808.1 1098.0,809.1 1099.5,810.1 1101.0,811.1 1102.5,812.0 1104.0,812.9 1105.5,813.7 1107.0,814.5 1108.5,815.0 1110.0,815.4 1111.5,815.5 1113.0,815.1 1114.5,814.1 1116.0,812.7 1117.5,810.9 1119.0,809.0 1120.5,806.7 1122.0,803.3 1123.5,799.0 1125.0,793.9 1126.5,787.9 1128.0,779.7 1129.5,769.8 1131.0,758.9 1132.5,747.7 1134.0,734.1 1135.5,720.3 1137.0,710.1 1138.5,703.1 1140.0,699.2 1141.5,700.2 1143.0,703.9 1144.5,709.0 1146.0,717.1 1147.5,728.4 1149.0,741.2 1150.5,753.9 1152.0,765.3 1153.5,777.5 1155.0,789.7 1156.5,800.3 1158.0,807.9 1159.5,813.7 1161.0,818.8 1162.5,822.7 1164.0,825.1 1165.5,826.3 1167.0,827.3 1168.5,828.0 1170.0,828.5 1171.5,828.7 1173.0,828.6 1174.5,828.2 1176.0,827.4 1177.5,826.4 1179.0,825.1 1180.5,823.5 1182.0,819.8 1183.5,814.6 1185.0,809.3 1186.5,804.0 1188.0,798.2 1189.5,792.5 1191.0,787.7 1192.5,783.3 1194.0,779.1 1195.5,776.5 1197.0,776.0 1198.5,775.9 1200.0,776.0 1201.5,776.1 1203.0,776.2 1204.5,776.4 1206.0,776.5 1207.5,776.7 1209.0,776.8 1210.5,776.9 1212.0,776.8 1213.5,776.5 1215.0,775.9 1216.5,775.1 1218.0,774.3 1219.5,773.5 1221.0,773.0 1222.5,772.8 1224.0,773.2 1225.5,774.0 1227.0,775.2 1228.5,776.7 1230.0,778.4 1231.5,780.2 1233.0,781.9 1234.5,783.5 1236.0,784.9 1237.5,786.6 1239.0,788.4 1240.5,790.3 1242.0,792.0 1243.5,793.6 1245.0,795.0 1246.5,796.0 1248.0,796.6 1249.5,797.1 1251.0,797.5 1252.5,797.8 1254.0,798.1 1255.5,798.2 1257.0,798.2 1258.5,798.1 1260.0,797.5 1261.5,796.4 1263.0,794.8 1264.5,793.0 1266.0,790.8 1267.5,788.2 1269.0,785.1 1270.5,780.5 1272.0,774.7 1273.5,767.6 1275.0,759.4 1276.5,751.5 1278.0,744.7 1279.5,738.0 1281.0,731.5 1282.5,725.4 1284.0,719.8 1285.5,714.2 1287.0,708.8 1288.5,703.7 1290.0,699.1 1291.5,694.7 1293.0,690.3 1294.5,685.7 1296.0,680.6 1297.5,674.7 1299.0,668.1 1300.5,661.3 1302.0,654.4 1303.5,647.6 1305.0,640.6 1306.5,632.4 1308.0,621.9 1309.5,604.7 1311.0,580.8 1312.5,553.1 1314.0,520.0 1315.5,489.7 1317.0,462.1 1318.5,442.7 1320.0,430.6 1321.5,427.0 1323.0,435.1 1324.5,449.5 1326.0,475.0 1327.5,503.4 1329.0,534.2 1330.5,562.0 1332.0,586.1 1333.5,606.9 1335.0,624.8 1336.5,640.7 1338.0,655.2 1339.5,669.3 1341.0,683.0 1342.5,696.3 1344.0,709.4 1345.5,720.8 1347.0,729.0 1348.5,735.8 1350.0,741.4 1351.5,745.9 1353.0,749.8 1354.5,753.0 1356.0,754.4 1357.5,754.3 1359.0,754.2 1360.5,753.9 1362.0,752.7 1363.5,749.9 1365.0,746.0 1366.5,741.1 1368.0,732.3 1369.5,722.6 1371.0,716.0 1372.5,712.7 1374.0,710.1 1375.5,709.0 1377.0,710.0 1378.5,712.6 1380.0,715.8 1381.5,719.6 1383.0,724.3 1384.5,729.6 1386.0,734.8 1387.5,740.0 1389.0,745.3 1390.5,750.4 1392.0,755.4 1393.5,760.2 1395.0,765.0 1396.5,769.6 1398.0,774.1 1399.5,778.3 1401.0,782.1 1402.5,785.9 1404.0,789.5 1405.5,792.9 1407.0,796.1 1408.5,799.0 1410.0,801.8 1411.5,804.3 1413.0,806.1 1414.5,807.5 1416.0,808.7 1417.5,809.3 1419.0,808.5 1420.5,805.3 1422.0,801.9 1423.5,799.2 1425.0,796.7 1426.5,794.4 1428.0,792.0 1429.5,789.1 1431.0,784.7 1432.5,778.2 1434.0,770.6 1435.5,762.9 1437.0,754.2 1438.5,744.9 1440.0,737.4 1441.5,732.7 1443.0,730.1 1444.5,728.9 1446.0,728.5 1447.5,729.8 1449.0,732.4 1450.5,735.0 1452.0,737.3 1453.5,739.8 1455.0,741.0 1456.5,741.2 1458.0,740.9 1459.5,739.1 1461.0,733.0 1462.5,724.7 1464.0,715.6 1465.5,703.9 1467.0,690.7 1468.5,675.5 1470.0,657.2 1471.5,632.6 1473.0,600.5 1474.5,561.7 1476.0,513.4 1477.5,460.1 1479.0,407.5 1480.5,355.0 1482.0,307.9 1483.5,265.1 1485.0,227.9 1486.5,205.1 1488.0,191.8 1489.5,184.3 1491.0,185.8 1492.5,195.0 1494.0,209.3 1495.5,236.1 1497.0,273.5 1498.5,313.5 1500.0,357.9 1501.5,403.0 1503.0,443.3 1504.5,479.6 1506.0,512.4 1507.5,541.7 1509.0,568.6 1510.5,592.8 1512.0,613.4 1513.5,630.5 1515.0,645.4 1516.5,658.5 1518.0,670.7 1519.5,682.9 1521.0,695.0 1522.5,706.8 1524.0,717.7 1525.5,727.2 1527.0,735.0 1528.5,740.5 1530.0,743.9 1531.5,746.8 1533.0,749.4 1534.5,751.6 1536.0,753.5 1537.5,755.2 1539.0,756.8 1540.5,757.9 1542.0,758.6 1543.5,759.1 1545.0,759.4 1546.5,759.6 1548.0,759.3 1549.5,758.6 1551.0,757.9 1552.5,757.2 1554.0,756.6 1555.5,756.6 1557.0,757.8 1558.5,759.8 1560.0,762.1 1561.5,764.9 1563.0,768.4 1564.5,772.3 1566.0,776.2 1567.5,780.0 1569.0,783.6 1570.5,787.2 1572.0,790.7 1573.5,793.9 1575.0,796.7 1576.5,799.2 1578.0,801.6 1579.5,803.8 1581.0,805.9 1582.5,807.7 1584.0,809.3 1586.5,811.4"/>
<polyline stroke="#00ffff" points="187.5,642.8 189.0,629.1 190.5,610.9 192.0,596.6 193.5,594.2 195.0,602.9 196.5,615.3 198.0,622.3 199.5,618.2 201.0,604.3 202.5,588.9 204.0,580.8 205.5,582.3 207.0,589.5 208.5,595.5 210.0,594.5 211.5,585.8 213.0,573.8 214.5,565.2 216.0,563.6 217.5,569.6 219.0,576.8 220.5,577.8 222.0,570.6 223.5,559.4 225.0,551.4 226.5,551.9 228.0,559.0 229.5,560.0 231.0,550.4 232.5,539.0 234.0,535.7 235.5,537.2 237.0,539.8 238.5,539.7 240.0,534.5 241.5,525.3 243.0,515.7 244.5,509.6 246.0,508.6 247.5,511.0 249.0,512.6 250.5,508.4 252.0,496.8 253.5,483.1 255.0,471.6 256.5,465.2 258.0,463.2 259.5,462.1 261.0,460.5 262.5,454.8 264.0,444.9 265.5,434.4 267.0,427.3 268.5,426.3 270.0,429.4 271.5,429.1 273.0,420.5 274.5,406.1 276.0,393.3 277.5,388.1 279.0,389.7 280.5,389.7 282.0,381.1 283.5,365.9 285.0,353.1 286.5,348.4 288.0,348.7 289.5,350.3 291.0,349.2 292.5,342.9 294.0,331.9 295.5,319.4 297.0,309.8 298.5,306.1 300.0,308.6 301.5,311.6 303.0,309.2 304.5,299.6 306.0,286.5 307.5,276.1 309.0,272.8 310.5,275.7 312.0,278.3 313.5,274.5 315.0,263.4 316.5,249.9 318.0,240.7 319.5,238.3 321.0,239.4 322.5,238.9 324.0,232.4 325.5,220.0 327.0,205.8 328.5,195.3 330.0,191.1 331.5,190.9 333.0,190.3 334.5,185.4 336.0,175.6 337.5,164.5 339.0,156.6 340.5,155.0 342.0,159.2 343.5,163.1 345.0,160.8 346.5,152.7 348.0,144.3 349.5,141.6 351.0,145.8 352.5,151.1 354.0,150.3 355.5,142.7 357.0,134.1 358.5,131.6 360.0,135.8 361.5,142.4 363.0,146.0 364.5,144.1 366.0,139.2 367.5,136.7 369.0,139.7 370.5,146.3 372.0,153.5 373.5,158.5 375.0,159.9 376.5,158.2 378.0,156.0 379.5,155.7 381.0,159.2 382.5,166.8 384.0,175.2 385.5,181.7 387.0,185.8 388.5,189.2 390.0,195.0 391.5,206.9 393.0,223.9 394.5,240.1 396.0,250.4 397.5,255.7 399.0,258.5 400.5,262.6 402.0,270.0 403.5,280.4 405.0,291.7 406.5,301.2 408.0,307.6 409.5,311.7 411.0,316.0 412.5,322.5 414.0,332.1 415.5,343.7 417.0,355.3 418.5,364.7 420.0,372.0 421.5,379.5 423.0,388.3 424.5,399.1 426.0,411.1 427.5,422.0 429.0,429.6 430.5,434.2 432.0,438.1 433.5,443.8 435.0,452.4 436.5,463.2 438.0,473.8 439.5,482.0 441.0,487.4 442.5,491.5 444.0,496.5 445.5,504.0 447.0,514.4 448.5,526.9 450.0,539.5 451.5,546.5 453.0,547.8 454.5,548.7 456.0,552.5 457.5,560.0 459.0,568.8 460.5,576.5 462.0,581.7 463.5,584.8 465.0,588.3 466.5,594.2 468.0,603.2 469.5,614.1 471.0,623.5 472.5,629.6 474.0,633.2 475.5,635.9 477.0,639.5 478.5,645.2 480.0,652.0 481.5,657.9 483.0,661.2 484.5,662.0 486.0,662.0 487.5,663.0 489.0,666.2 490.5,670.8 492.0,675.2 493.5,677.6 495.0,677.5 496.5,676.1 498.0,675.2 499.5,676.1 501.0,678.5 502.5,680.7 504.0,680.9 505.5,678.5 507.0,674.6 508.5,671.3 510.0,670.1 511.5,671.3 513.0,673.4 514.5,674.1 516.0,672.5 517.5,669.2 519.0,666.1 520.5,665.0 522.0,666.2 523.5,668.5 525.0,670.1 526.5,669.7 528.0,667.4 529.5,664.8 531.0,663.8 532.5,665.1 534.0,667.7 535.5,669.8 537.0,669.9 538.5,667.9 540.0,665.3 541.5,663.9 543.0,664.7 544.5,667.2 546.0,669.7 547.5,670.6 549.0,669.6 550.5,667.8 552.0,667.0 553.5,668.3 555.0,671.5 556.5,674.9 558.0,676.8 559.5,676.5 561.0,674.9 562.5,673.7 564.0,674.5 565.5,677.2 567.0,680.5 568.5,682.7 570.0,682.8 571.5,681.4 573.0,680.2 574.5,680.7 576.0,683.3 577.5,686.9 579.0,689.8 580.5,690.8 582.0,690.5 583.5,690.1 585.0,691.1 586.5,693.9 588.0,697.7 589.5,700.8 591.0,702.1 592.5,701.5 594.0,700.0 595.5,699.2 597.0,699.9 598.5,701.7 600.0,703.1 601.5,702.8 603.0,700.4 604.5,697.2 606.0,694.6 607.5,693.4 609.0,693.6 610.5,694.1 612.0,693.9 613.5,692.6 615.0,690.5 616.5,688.9 618.0,689.1 619.5,691.1 621.0,694.2 622.5,697.9 624.0,700.9 625.5,703.2 627.0,705.5 628.5,708.6 630.0,713.4 631.5,719.1 633.0,724.0 634.5,727.1 636.0,728.6 637.5,729.7 639.0,731.9 640.5,735.8 642.0,740.8 643.5,745.2 645.0,747.9 646.5,748.7 648.0,748.7 649.5,749.3 651.0,751.3 652.5,754.3 654.0,757.1 655.5,758.4 657.0,758.1 658.5,756.9 660.0,756.4 661.5,757.5 663.0,760.1 664.5,762.8 666.0,764.2 667.5,763.9 669.0,762.4 670.5,761.0 672.0,760.9 673.5,762.2 675.0,763.9 676.5,764.7 678.0,763.9 679.5,762.0 681.0,759.9 682.5,758.4 684.0,757.7 685.5,757.3 687.0,755.8 688.5,752.7 690.0,748.2 691.5,743.2 693.0,738.5 694.5,734.6 696.0,731.0 697.5,726.6 699.0,720.6 700.5,712.3 702.0,702.6 703.5,693.1 705.0,684.7 706.5,677.0 708.0,667.9 709.5,657.9 711.0,648.9 712.5,641.0 714.0,634.1 715.5,629.8 717.0,628.9 718.5,631.0 720.0,634.3 721.5,637.6 723.0,640.7 724.5,644.5 726.0,650.9 727.5,659.3 729.0,668.7 730.5,677.3 732.0,685.5 733.5,694.0 735.0,703.0 736.5,712.5 738.0,722.1 739.5,730.2 741.0,735.3 742.5,738.4 744.0,740.0 745.5,741.0 747.0,742.7 748.5,745.4 750.0,748.9 751.5,752.4 753.0,754.9 754.5,756.3 756.0,757.5 757.5,759.2 759.0,761.9 760.5,765.4 762.0,768.6 763.5,770.9 765.0,772.2 766.5,772.9 768.0,774.1 769.5,776.1 771.0,778.9 772.5,781.7 774.0,783.7 775.5,784.9 777.0,785.4 778.5,786.1 780.0,787.6 781.5,789.8 783.0,792.2 784.5,793.9 786.0,794.7 787.5,794.8 789.0,795.0 790.5,795.8 792.0,797.3 793.5,798.9 795.0,800.0 796.5,800.3 798.0,800.0 799.5,799.6 801.0,799.6 802.5,800.2 804.0,801.2 805.5,801.8 807.0,801.8 808.5,801.1 810.0,800.2 811.5,799.7 813.0,799.7 814.5,800.1 816.0,800.4 817.5,800.1 819.0,799.0 820.5,797.6 822.0,796.3 823.5,795.5 825.0,794.9 826.5,794.1 828.0,792.6 829.5,790.3 831.0,787.7 832.5,785.2 834.0,783.0 835.5,780.9 837.0,778.8 838.5,776.6 840.0,774.4 841.5,772.5 843.0,771.0 844.5,769.9 846.0,769.2 847.5,768.7 849.0,768.1 850.5,767.3 852.0,766.3 853.5,765.4 855.0,764.7 856.5,764.2 858.0,763.7 859.5,763.2 861.0,762.5 862.5,761.8 864.0,761.0 865.5,760.5 867.0,760.2 868.5,760.1 870.0,760.1 871.5,760.1 873.0,760.1 874.5,760.1 876.0,760.1 877.5,760.2 879.0,760.4 880.5,760.5 882.0,760.7 883.5,760.8 885.0,761.0 886.5,761.3 888.0,761.7 889.5,762.3 891.0,763.0 892.5,763.8 894.0,764.7 895.5,765.7 897.0,766.9 898.5,768.9 900.0,771.2 901.5,773.3 903.0,774.7 904.5,775.0 906.0,775.0 907.5,775.0 909.0,775.0 910.5,775.0 912.0,775.0 913.5,774.5 915.0,772.9 916.5,770.5 918.0,767.3 919.5,763.4 921.0,757.3 922.5,744.8 924.0,728.2 925.5,708.8 927.0,680.7 928.5,659.0 930.0,641.6 931.5,630.9 933.0,630.5 934.5,632.7 936.0,636.0 937.5,642.7 939.0,653.1 940.5,663.3 942.0,674.2 943.5,684.8 945.0,693.9 946.5,702.1 948.0,709.7 949.5,717.1 951.0,724.5 952.5,732.1 954.0,739.6 955.5,746.4 957.0,752.0 958.5,756.7 960.0,761.1 961.5,765.0 963.0,768.2 964.5,770.5 966.0,771.9 967.5,773.2 969.0,774.3 970.5,775.3 972.0,776.0 973.5,776.6 975.0,776.9 976.5,777.0 978.0,777.0 979.5,777.0 981.0,777.0 982.5,777.0 984.0,777.0 985.5,776.7 987.0,775.9 988.5,774.6 990.0,773.1 991.5,771.5 993.0,769.8 994.5,767.8 996.0,765.3 997.5,762.3 999.0,758.7 1000.5,754.4 1002.0,747.8 1003.5,739.3 1005.0,730.0 1006.5,718.2 1008.0,708.0 1009.5,702.1 1011.0,698.0 1012.5,697.1 1014.0,698.5 1015.5,700.4 1017.0,701.9 1018.5,703.3 1020.0,705.0 1021.5,708.6 1023.0,713.9 1024.5,719.0 1026.0,721.8 1027.5,721.9 1029.0,721.5 1030.5,721.0 1032.0,720.4 1033.5,719.6 1035.0,718.5 1036.5,717.0 1038.0,715.3 1039.5,713.7 1041.0,712.3 1042.5,711.4 1044.0,711.0 1045.5,711.0 1047.0,711.2 1048.5,711.4 1050.0,711.7 1051.5,712.0 1053.0,712.4 1054.5,712.9 1056.0,713.4 1057.5,714.1 1059.0,715.2 1060.5,716.4 1062.0,717.8 1063.5,719.3 1065.0,721.0 1066.5,722.9 1068.0,725.2 1069.5,728.0 1071.0,731.3 1072.5,735.6 1074.0,741.4 1075.5,748.2 1077.0,755.3 1078.5,762.4 1080.0,770.5 1081.5,778.9 1083.0,786.3 1084.5,791.5 1086.0,795.4 1087.5,798.6 1089.0,801.0 1090.5,802.9 1092.0,804.5 1093.5,806.0 1095.0,807.2 1096.5,808.4 1098.0,809.4 1099.5,810.3 1101.0,811.2 1102.5,812.1 1104.0,812.9 1105.5,813.7 1107.0,814.4 1108.5,815.0 1110.0,815.3 1111.5,815.4 1113.0,815.0 1114.5,814.2 1116.0,812.9 1117.5,811.3 1119.0,809.5 1120.5,807.3 1122.0,803.9 1123.5,799.6 1125.0,794.4 1126.5,788.4 1128.0,780.1 1129.5,770.1 1131.0,759.2 1132.5,748.2 1134.0,735.0 1135.5,721.7 1137.0,712.0 1138.5,705.3 1140.0,702.0 1141.5,703.5 1143.0,707.1 1144.5,711.7 1146.0,719.8 1147.5,730.8 1149.0,743.3 1150.5,755.8 1152.0,767.1 1153.5,779.4 1155.0,791.8 1156.5,802.5 1158.0,809.7 1159.5,815.0 1161.0,819.4 1162.5,822.8 1164.0,824.8 1165.5,825.8 1167.0,826.7 1168.5,827.3 1170.0,827.8 1171.5,828.0 1173.0,827.9 1174.5,827.5 1176.0,826.8 1177.5,825.7 1179.0,824.5 1180.5,822.8 1182.0,818.9 1183.5,813.5 1185.0,808.0 1186.5,802.5 1188.0,796.5 1189.5,790.8 1191.0,786.0 1192.5,781.6 1194.0,777.6 1195.5,775.2 1197.0,775.0 1198.5,775.1 1200.0,775.3 1201.5,775.5 1203.0,775.8 1204.5,776.1 1206.0,776.4 1207.5,776.6 1209.0,776.8 1210.5,777.0 1212.0,777.0 1213.5,776.8 1215.0,776.2 1216.5,775.4 1218.0,774.6 1219.5,773.8 1221.0,773.2 1222.5,773.0 1224.0,773.3 1225.5,774.0 1227.0,775.0 1228.5,776.3 1230.0,777.9 1231.5,779.4 1233.0,781.0 1234.5,782.5 1236.0,784.0 1237.5,785.7 1239.0,787.5 1240.5,789.5 1242.0,791.3 1243.5,793.1 1245.0,794.5 1246.5,795.6 1248.0,796.2 1249.5,796.6 1251.0,797.0 1252.5,797.4 1254.0,797.6 1255.5,797.9 1257.0,798.0 1258.5,798.0 1260.0,797.4 1261.5,796.4 1263.0,794.8 1264.5,792.9 1266.0,790.7 1267.5,788.3 1269.0,785.4 1270.5,781.0 1272.0,775.4 1273.5,769.1 1275.0,762.7 1276.5,756.7 1278.0,751.2 1279.5,745.7 1281.0,740.1 1282.5,734.5 1284.0,728.8 1285.5,723.1 1287.0,717.4 1288.5,711.6 1290.0,705.8 1291.5,700.0 1293.0,694.0 1294.5,688.0 1296.0,682.0 1297.5,675.9 1299.0,669.7 1300.5,663.3 1302.0,656.7 1303.5,650.5 1305.0,644.3 1306.5,636.8 1308.0,627.0 1309.5,610.4 1311.0,586.9 1312.5,560.9 1314.0,529.4 1315.5,501.2 1317.0,476.2 1318.5,461.3 1320.0,452.2 1321.5,450.6 1323.0,457.8 1324.5,469.8 1326.0,492.7 1327.5,518.7 1329.0,547.4 1330.5,572.8 1332.0,594.6 1333.5,614.1 1335.0,631.0 1336.5,645.9 1338.0,660.0 1339.5,673.7 1341.0,686.7 1342.5,699.1 1344.0,711.7 1345.5,722.3 1347.0,729.5 1348.5,735.1 1350.0,739.6 1351.5,743.1 1353.0,746.4 1354.5,749.0 1356.0,750.0 1357.5,750.0 1359.0,750.0 1360.5,750.0 1362.0,749.6 1363.5,747.5 1365.0,744.4 1366.5,740.4 1368.0,732.2 1369.5,722.6 1371.0,716.0 1372.5,712.7 1374.0,710.1 1375.5,709.0 1377.0,710.0 1378.5,712.8 1380.0,716.0 1381.5,719.8 1383.0,724.6 1384.5,729.9 1386.0,735.0 1387.5,740.0 1389.0,745.1 1390.5,750.1 1392.0,755.0 1393.5,759.8 1395.0,764.5 1396.5,769.1 1398.0,773.6 1399.5,777.7 1401.0,781.5 1402.5,785.2 1404.0,788.8 1405.5,792.1 1407.0,795.2 1408.5,798.1 1410.0,800.8 1411.5,803.2 1413.0,805.0 1414.5,806.3 1416.0,807.4 1417.5,808.0 1419.0,807.1 1420.5,803.6 1422.0,800.0 1423.5,797.4 1425.0,795.2 1426.5,792.9 1428.0,790.4 1429.5,787.2 1431.0,782.9 1432.5,776.6 1434.0,769.6 1435.5,762.7 1437.0,755.2 1438.5,747.8 1440.0,742.0 1441.5,737.9 1443.0,734.6 1444.5,732.3 1446.0,730.5 1447.5,730.1 1449.0,731.2 1450.5,732.9 1452.0,734.6 1453.5,736.8 1455.0,738.0 1456.5,738.0 1458.0,738.0 1459.5,737.6 1461.0,732.6 1462.5,724.7 1464.0,715.8 1465.5,704.2 1467.0,691.5 1468.5,677.5 1470.0,660.0 1471.5,635.6 1473.0,603.9 1474.5,566.7 1476.0,518.9 1477.5,466.7 1479.0,416.4 1480.5,365.3 1482.0,320.0 1483.5,279.2 1485.0,244.2 1486.5,225.5 1488.0,213.9 1489.5,207.5 1491.0,208.7 1492.5,216.5 1494.0,228.0 1495.5,250.6 1497.0,285.5 1498.5,322.4 1500.0,364.5 1501.5,407.2 1503.0,444.2 1504.5,478.8 1506.0,510.6 1507.5,539.2 1509.0,565.9 1510.5,589.9 1512.0,610.0 1513.5,626.3 1515.0,640.4 1516.5,653.0 1518.0,665.0 1519.5,677.3 1521.0,690.0 1522.5,702.5 1524.0,714.2 1525.5,724.4 1527.0,732.6 1528.5,738.1 1530.0,741.1 1531.5,743.6 1533.0,745.8 1534.5,747.6 1536.0,749.2 1537.5,750.5 1539.0,751.5 1540.5,752.5 1542.0,753.3 1543.5,754.1 1545.0,754.7 1546.5,755.1 1548.0,755.2 1549.5,755.0 1551.0,754.6 1552.5,754.1 1554.0,753.8 1555.5,754.0 1557.0,755.3 1558.5,757.5 1560.0,760.0 1561.5,762.6 1563.0,766.0 1564.5,769.8 1566.0,773.8 1567.5,777.6 1569.0,781.1 1570.5,784.8 1572.0,788.3 1573.5,791.5 1575.0,794.2 1576.5,796.5 1578.0,798.8 1579.5,800.9 1581.0,802.9 1582.5,804.6 1584.0,806.1 1586.5,808.0"/>
<polyline stroke="#008080" points="187.5,630.6 189.0,615.6 190.5,595.8 192.0,580.3 193.5,577.9 195.0,587.4 196.5,601.0 198.0,608.7 199.5,604.5 201.0,589.9 202.5,573.7 204.0,565.2 205.5,566.8 207.0,574.5 208.5,581.1 210.0,580.0 211.5,570.7 213.0,558.0 214.5,548.6 216.0,546.9 217.5,553.2 219.0,560.7 220.5,561.8 222.0,554.3 223.5,542.6 225.0,534.4 226.5,535.2 228.0,542.9 229.5,544.2 231.0,534.3 232.5,522.6 234.0,519.4 235.5,521.2 237.0,524.1 238.5,524.2 240.0,518.9 241.5,509.4 243.0,499.5 244.5,493.3 246.0,492.5 247.5,495.1 249.0,496.8 250.5,493.1 252.0,482.6 253.5,469.8 255.0,459.4 256.5,454.2 258.0,453.5 259.5,453.8 261.0,452.7 262.5,447.2 264.0,437.3 265.5,426.8 267.0,419.7 268.5,419.0 270.0,422.4 271.5,422.4 273.0,414.2 274.5,400.1 276.0,387.7 277.5,383.1 279.0,385.5 280.5,386.3 282.0,378.4 283.5,363.7 285.0,351.4 286.5,347.3 288.0,348.1 289.5,350.2 291.0,349.7 292.5,343.9 294.0,333.3 295.5,321.2 297.0,312.0 298.5,308.6 300.0,311.3 301.5,314.7 303.0,312.6 304.5,303.3 306.0,290.5 307.5,280.4 309.0,277.3 310.5,280.4 312.0,283.2 313.5,279.5 315.0,268.5 316.5,255.1 318.0,246.1 319.5,244.1 321.0,245.9 322.5,246.2 324.0,240.9 325.5,229.7 327.0,216.7 328.5,207.4 330.0,204.4 331.5,205.6 333.0,206.5 334.5,203.1 336.0,194.7 337.5,184.9 339.0,178.1 340.5,177.6 342.0,182.8 343.5,187.6 345.0,186.1 346.5,178.7 348.0,170.7 349.5,168.2 351.0,172.4 352.5,177.7 354.0,177.1 355.5,169.8 357.0,161.9 358.5,160.4 360.0,165.8 361.5,173.6 363.0,178.1 364.5,176.8 366.0,172.0 367.5,169.3 369.0,172.0 370.5,178.4 372.0,186.1 373.5,191.9 375.0,194.2 376.5,193.3 378.0,191.7 379.5,192.2 381.0,196.7 382.5,205.7 384.0,215.8 385.5,223.2 387.0,227.4 388.5,230.4 390.0,235.4 391.5,245.7 393.0,260.4 394.5,274.5 396.0,283.7 397.5,288.3 399.0,290.9 400.5,295.2 402.0,302.8 403.5,312.5 405.0,322.5 406.5,330.8 408.0,336.7 409.5,340.8 411.0,345.3 412.5,352.0 414.0,361.7 415.5,373.3 417.0,384.1 418.5,392.4 420.0,398.3 421.5,404.2 423.0,411.7 424.5,421.5 426.0,432.8 427.5,443.0 429.0,450.1 430.5,454.1 432.0,457.4 433.5,462.4 435.0,470.2 436.5,480.0 438.0,489.4 439.5,496.2 441.0,500.2 442.5,503.0 444.0,507.0 445.5,513.8 447.0,523.4 448.5,534.6 450.0,545.3 451.5,551.2 453.0,552.7 454.5,554.2 456.0,558.4 457.5,565.7 459.0,574.1 460.5,581.2 462.0,585.5 463.5,587.9 465.0,590.5 466.5,595.5 468.0,603.5 469.5,613.1 471.0,621.3 472.5,626.5 474.0,629.4 475.5,631.5 477.0,634.9 478.5,640.4 480.0,647.2 481.5,653.0 483.0,656.4 484.5,657.5 486.0,657.6 487.5,658.9 489.0,662.2 490.5,667.0 492.0,671.4 493.5,673.7 495.0,673.6 496.5,672.1 498.0,671.3 499.5,672.3 501.0,675.0 502.5,677.5 504.0,678.2 505.5,676.4 507.0,673.2 508.5,670.9 510.0,670.8 511.5,672.3 513.0,674.5 514.5,675.3 516.0,673.7 517.5,670.4 519.0,667.2 520.5,666.0 522.0,666.8 523.5,668.7 525.0,670.0 526.5,669.6 528.0,667.3 529.5,664.8 531.0,664.0 532.5,665.5 534.0,668.2 535.5,670.4 537.0,670.4 538.5,668.3 540.0,665.7 541.5,664.2 543.0,664.9 544.5,667.2 546.0,669.5 547.5,670.1 549.0,668.7 550.5,666.3 552.0,664.9 553.5,665.7 555.0,668.2 556.5,671.1 558.0,672.4 559.5,671.7 561.0,669.6 562.5,668.3 564.0,669.0 565.5,671.8 567.0,675.3 568.5,677.7 570.0,678.0 571.5,676.8 573.0,675.7 574.5,676.3 576.0,678.8 577.5,682.3 579.0,685.1 580.5,685.9 582.0,685.2 583.5,684.4 585.0,684.9 586.5,687.4 588.0,690.9 589.5,693.7 591.0,694.8 592.5,693.8 594.0,692.1 595.5,691.3 597.0,692.1 598.5,694.1 600.0,696.0 601.5,696.1 603.0,694.2 604.5,691.5 606.0,689.6 607.5,689.2 609.0,690.3 610.5,691.7 612.0,692.1 613.5,691.0 615.0,688.9 616.5,687.5 618.0,688.1 619.5,690.5 621.0,693.9 622.5,697.2 624.0,699.3 625.5,700.3 627.0,701.7 628.5,704.5 630.0,709.1 631.5,714.7 633.0,719.6 634.5,722.6 636.0,724.0 637.5,725.1 639.0,727.4 640.5,731.5 642.0,736.6 643.5,741.2 645.0,744.1 646.5,745.2 648.0,745.7 649.5,747.1 651.0,749.9 652.5,753.8 654.0,757.4 655.5,759.3 657.0,759.3 658.5,758.6 660.0,758.4 661.5,759.6 663.0,761.9 664.5,764.2 666.0,765.3 667.5,764.6 669.0,762.9 670.5,761.5 672.0,761.4 673.5,762.7 675.0,764.1 676.5,764.5 678.0,763.2 679.5,760.6 681.0,758.1 682.5,756.4 684.0,755.8 685.5,755.6 687.0,754.4 688.5,751.5 690.0,747.2 691.5,742.4 693.0,738.1 694.5,734.5 696.0,731.1 697.5,726.9 699.0,721.1 700.5,713.4 702.0,704.5 703.5,695.8 705.0,688.1 706.5,681.3 708.0,673.2 709.5,664.2 711.0,655.9 712.5,648.5 714.0,642.1 715.5,638.2 717.0,637.4 718.5,639.4 720.0,642.3 721.5,645.1 723.0,647.6 724.5,651.3 726.0,657.7 727.5,666.2 729.0,675.2 730.5,683.0 732.0,689.9 733.5,696.5 735.0,703.4 736.5,710.7 738.0,718.3 739.5,724.9 741.0,729.3 742.5,731.8 744.0,733.0 745.5,733.7 747.0,735.1 748.5,737.5 750.0,740.7 751.5,743.6 753.0,745.5 754.5,746.4 756.0,746.9 757.5,748.1 759.0,750.3 760.5,753.3 762.0,756.2 763.5,758.2 765.0,759.1 766.5,759.6 768.0,760.5 769.5,762.4 771.0,765.1 772.5,767.9 774.0,770.0 775.5,771.4 777.0,772.2 778.5,773.3 780.0,775.0 781.5,777.3 783.0,779.6 784.5,781.4 786.0,782.2 787.5,782.4 789.0,782.7 790.5,783.7 792.0,785.4 793.5,787.3 795.0,788.8 796.5,789.6 798.0,789.6 799.5,789.6 801.0,790.1 802.5,791.3 804.0,792.8 805.5,794.0 807.0,794.5 808.5,794.3 810.0,794.0 811.5,794.0 813.0,794.5 814.5,795.4 816.0,796.2 817.5,796.4 819.0,795.9 820.5,795.1 822.0,794.5 823.5,794.3 825.0,794.5 826.5,794.6 828.0,794.0 829.5,792.8 831.0,791.3 832.5,789.7 834.0,788.4 835.5,787.2 837.0,785.9 838.5,784.4 840.0,782.7 841.5,781.1 843.0,779.7 844.5,778.6 846.0,777.8 847.5,777.1 849.0,776.3 850.5,775.2 852.0,774.0 853.5,772.8 855.0,771.9 856.5,771.2 858.0,770.6 859.5,770.0 861.0,769.2 862.5,768.4 864.0,767.6 865.5,766.9 867.0,766.4 868.5,766.1 870.0,765.8 871.5,765.4 873.0,765.0 874.5,764.5 876.0,764.0 877.5,763.6 879.0,763.2 880.5,762.7 882.0,762.1 883.5,761.6 885.0,761.0 886.5,760.5 888.0,760.1 889.5,759.7 891.0,759.4 892.5,759.1 894.0,758.8 895.5,758.6 897.0,758.5 898.5,758.8 900.0,759.2 901.5,759.5 903.0,759.4 904.5,758.8 906.0,758.0 907.5,757.1 909.0,756.3 910.5,755.3 912.0,754.0 913.5,751.8 915.0,748.5 916.5,746.6 918.0,744.4 919.5,741.7 921.0,736.9 922.5,727.2 924.0,713.7 925.5,696.2 927.0,671.8 928.5,653.7 930.0,639.4 931.5,630.3 933.0,629.7 934.5,631.7 936.0,634.7 937.5,640.3 939.0,649.1 940.5,658.4 942.0,668.1 943.5,677.9 945.0,687.0 946.5,695.4 948.0,702.8 949.5,709.5 951.0,716.0 952.5,722.5 954.0,728.8 955.5,734.5 957.0,739.3 958.5,743.5 960.0,747.5 961.5,751.0 963.0,754.1 964.5,756.5 966.0,758.2 967.5,759.7 969.0,761.0 970.5,762.1 972.0,763.1 973.5,763.9 975.0,764.5 976.5,764.9 978.0,765.1 979.5,765.4 981.0,765.5 982.5,765.6 984.0,765.6 985.5,765.4 987.0,764.8 988.5,764.0 990.0,763.0 991.5,761.9 993.0,760.7 994.5,759.0 996.0,757.0 997.5,754.5 999.0,751.5 1000.5,748.1 1002.0,742.8 1003.5,736.2 1005.0,729.0 1006.5,720.1 1008.0,712.1 1009.5,707.1 1011.0,703.5 1012.5,702.8 1014.0,704.1 1015.5,706.1 1017.0,707.8 1018.5,709.4 1020.0,711.3 1021.5,714.6 1023.0,719.0 1024.5,723.2 1026.0,725.7 1027.5,726.2 1029.0,726.3 1030.5,726.2 1032.0,725.9 1033.5,725.4 1035.0,724.6 1036.5,723.3 1038.0,722.0 1039.5,720.6 1041.0,719.4 1042.5,718.6 1044.0,718.3 1045.5,718.5 1047.0,719.0 1048.5,719.7 1050.0,720.4 1051.5,721.1 1053.0,721.7 1054.5,722.2 1056.0,722.8 1057.5,723.5 1059.0,724.4 1060.5,725.5 1062.0,726.7 1063.5,728.2 1065.0,729.8 1066.5,731.7 1068.0,733.9 1069.5,736.5 1071.0,739.4 1072.5,743.1 1074.0,747.9 1075.5,753.4 1077.0,759.2 1078.5,764.8 1080.0,771.1 1081.5,777.6 1083.0,783.3 1084.5,787.5 1086.0,790.7 1087.5,793.1 1089.0,794.9 1090.5,796.3 1092.0,797.5 1093.5,798.6 1095.0,799.5 1096.5,800.3 1098.0,801.0 1099.5,801.5 1101.0,801.9 1102.5,802.3 1104.0,802.5 1105.5,802.7 1107.0,802.9 1108.5,802.8 1110.0,802.6 1111.5,802.1 1113.0,801.1 1114.5,799.8 1116.0,798.1 1117.5,795.9 1119.0,793.4 1120.5,790.5 1122.0,786.8 1123.5,782.2 1125.0,776.9 1126.5,770.9 1128.0,763.6 1129.5,755.1 1131.0,746.0 1132.5,737.3 1134.0,727.7 1135.5,718.2 1137.0,711.4 1138.5,707.2 1140.0,705.8 1141.5,707.8 1143.0,711.9 1144.5,717.2 1146.0,725.0 1147.5,734.7 1149.0,745.0 1150.5,755.4 1152.0,765.0 1153.5,775.1 1155.0,785.0 1156.5,793.5 1158.0,799.5 1159.5,803.9 1161.0,807.8 1162.5,810.8 1164.0,812.8 1165.5,814.1 1167.0,815.2 1168.5,816.2 1170.0,816.9 1171.5,817.4 1173.0,817.7 1174.5,817.6 1176.0,817.3 1177.5,816.8 1179.0,816.1 1180.5,814.9 1182.0,812.3 1183.5,808.5 1185.0,804.7 1186.5,800.9 1188.0,796.8 1189.5,792.8 1191.0,789.4 1192.5,786.3 1194.0,783.4 1195.5,781.6 1197.0,781.3 1198.5,781.1 1200.0,781.0 1201.5,780.9 1203.0,780.9 1204.5,780.8 1206.0,780.7 1207.5,780.6 1209.0,780.5 1210.5,780.4 1212.0,780.2 1213.5,779.7 1215.0,779.1 1216.5,778.3 1218.0,777.4 1219.5,776.7 1221.0,776.1 1222.5,775.8 1224.0,775.9 1225.5,776.3 1227.0,776.9 1228.5,777.8 1230.0,778.7 1231.5,779.8 1233.0,780.8 1234.5,781.8 1236.0,782.7 1237.5,783.8 1239.0,785.0 1240.5,786.3 1242.0,787.5 1243.5,788.6 1245.0,789.4 1246.5,790.0 1248.0,790.3 1249.5,790.3 1251.0,790.3 1252.5,790.1 1254.0,789.8 1255.5,789.3 1257.0,788.8 1258.5,788.2 1260.0,787.2 1261.5,785.7 1263.0,783.7 1264.5,781.3 1266.0,778.7 1267.5,775.8 1269.0,772.6 1270.5,768.2 1272.0,763.0 1273.5,757.4 1275.0,751.6 1276.5,745.9 1278.0,740.5 1279.5,735.1 1281.0,729.6 1282.5,724.1 1284.0,718.6 1285.5,713.0 1287.0,707.4 1288.5,701.8 1290.0,696.1 1291.5,690.4 1293.0,684.7 1294.5,678.9 1296.0,673.2 1297.5,667.4 1299.0,661.5 1300.5,655.3 1302.0,648.9 1303.5,642.7 1305.0,636.4 1306.5,629.2 1308.0,620.2 1309.5,606.4 1311.0,587.5 1312.5,566.6 1314.0,542.3 1315.5,520.7 1317.0,501.6 1318.5,490.5 1320.0,483.9 1321.5,482.8 1323.0,488.3 1324.5,497.5 1326.0,515.1 1327.5,535.6 1329.0,558.2 1330.5,579.3 1332.0,598.3 1333.5,615.7 1335.0,631.7 1336.5,646.4 1338.0,660.0 1339.5,673.0 1341.0,685.3 1342.5,696.8 1344.0,708.0 1345.5,717.5 1347.0,724.3 1348.5,729.9 1350.0,734.3 1351.5,737.9 1353.0,741.1 1354.5,743.8 1356.0,745.2 1357.5,745.9 1359.0,746.6 1360.5,747.2 1362.0,747.3 1363.5,746.2 1365.0,744.1 1366.5,741.5 1368.0,736.0 1369.5,729.5 1371.0,725.1 1372.5,723.0 1374.0,721.5 1375.5,721.2 1377.0,722.3 1378.5,724.7 1380.0,727.4 1381.5,730.5 1383.0,734.4 1384.5,738.6 1386.0,742.8 1387.5,746.8 1389.0,751.0 1390.5,755.0 1392.0,759.0 1393.5,763.0 1395.0,766.9 1396.5,770.7 1398.0,774.4 1399.5,777.7 1401.0,780.7 1402.5,783.6 1404.0,786.3 1405.5,788.8 1407.0,791.0 1408.5,793.0 1410.0,794.7 1411.5,796.2 1413.0,797.2 1414.5,797.9 1416.0,798.2 1417.5,798.1 1419.0,796.8 1420.5,793.7 1422.0,790.5 1423.5,787.9 1425.0,785.4 1426.5,782.7 1428.0,779.8 1429.5,776.5 1431.0,772.2 1432.5,766.4 1434.0,760.0 1435.5,753.7 1437.0,747.2 1438.5,740.8 1440.0,735.4 1441.5,731.4 1443.0,728.4 1444.5,726.7 1446.0,725.4 1447.5,725.1 1449.0,725.8 1450.5,726.8 1452.0,727.6 1453.5,728.5 1455.0,728.5 1456.5,727.4 1458.0,725.9 1459.5,723.8 1461.0,718.4 1462.5,710.7 1464.0,701.9 1465.5,690.5 1467.0,677.5 1468.5,662.5 1470.0,644.1 1471.5,619.0 1473.0,587.2 1474.5,551.8 1476.0,508.9 1477.5,464.0 1479.0,422.4 1480.5,381.2 1482.0,345.1 1483.5,313.0 1485.0,285.6 1486.5,270.2 1488.0,261.1 1489.5,256.0 1491.0,256.5 1492.5,262.2 1494.0,271.0 1495.5,287.7 1497.0,314.6 1498.5,343.9 1500.0,377.5 1501.5,412.8 1503.0,444.9 1504.5,474.9 1506.0,503.3 1507.5,529.4 1509.0,553.8 1510.5,575.9 1512.0,594.7 1513.5,610.5 1515.0,624.7 1516.5,637.7 1518.0,650.0 1519.5,662.5 1521.0,675.0 1522.5,687.0 1524.0,698.4 1525.5,708.6 1527.0,717.3 1528.5,723.7 1530.0,728.1 1531.5,731.6 1533.0,734.7 1534.5,737.4 1536.0,739.9 1537.5,742.3 1539.0,744.8 1540.5,747.2 1542.0,749.2 1543.5,750.3 1545.0,750.9 1546.5,751.3 1548.0,751.4 1549.5,751.3 1551.0,751.2 1552.5,751.1 1554.0,751.2 1555.5,751.6 1557.0,752.8 1558.5,754.6 1560.0,756.6 1561.5,758.7 1563.0,761.2 1564.5,764.0 1566.0,767.0 1567.5,769.7 1569.0,772.3 1570.5,775.0 1572.0,777.5 1573.5,779.8 1575.0,781.8 1576.5,783.6 1578.0,785.2 1579.5,786.8 1581.0,788.3 1582.5,789.6 1584.0,790.7 1586.5,792.1"/>
<polyline stroke="#008000" points="187.5,623.1 189.0,607.3 190.5,586.6 192.0,570.3 193.5,567.8 195.0,577.9 196.5,592.2 198.0,600.3 199.5,596.1 201.0,581.1 202.5,564.3 204.0,555.6 205.5,557.3 207.0,565.3 208.5,572.2 210.0,571.1 211.5,561.4 213.0,548.2 214.5,538.5 216.0,536.7 217.5,543.0 219.0,550.8 220.5,551.9 222.0,544.2 223.5,532.3 225.0,524.0 226.5,525.0 228.0,533.1 229.5,534.5 231.0,524.4 232.5,512.6 234.0,509.3 235.5,511.3 237.0,514.5 238.5,514.6 240.0,509.3 241.5,499.7 243.0,489.6 244.5,483.3 246.0,482.5 247.5,485.2 249.0,487.1 250.5,483.7 252.0,473.8 253.5,461.7 255.0,451.9 256.5,447.5 258.0,447.5 259.5,448.7 261.0,448.0 262.5,442.5 264.0,432.6 265.5,422.1 267.0,415.0 268.5,414.5 270.0,418.1 271.5,418.3 273.0,410.3 274.5,396.4 276.0,384.3 277.5,380.1 279.0,382.9 280.5,384.2 282.0,376.6 283.5,362.3 285.0,350.3 286.5,346.6 288.0,347.7 289.5,350.2 291.0,350.0 292.5,344.4 294.0,334.1 295.5,322.3 297.0,313.3 298.5,310.2 300.0,313.0 301.5,316.6 303.0,314.7 304.5,305.6 306.0,292.9 307.5,283.0 309.0,280.1 310.5,283.3 312.0,286.2 313.5,282.6 315.0,271.6 316.5,258.3 318.0,249.5 319.5,247.6 321.0,249.8 322.5,250.7 324.0,246.1 325.5,235.7 327.0,223.5 328.5,214.9 330.0,212.6 331.5,214.6 333.0,216.4 334.5,213.9 336.0,206.5 337.5,197.4 339.0,191.4 340.5,191.5 342.0,197.4 343.5,202.7 345.0,201.7 346.5,194.7 348.0,187.0 349.5,184.6 351.0,188.8 352.5,194.1 354.0,193.6 355.5,186.6 357.0,179.0 358.5,178.2 360.0,184.3 361.5,192.7 363.0,197.8 364.5,197.0 366.0,192.3 367.5,189.4 369.0,191.8 370.5,198.2 372.0,206.2 373.5,212.5 375.0,215.3 376.5,215.0 378.0,213.7 379.5,214.7 381.0,219.8 382.5,229.7 384.0,240.7 385.5,248.7 387.0,253.0 388.5,255.8 390.0,260.3 391.5,269.6 393.0,282.8 394.5,295.7 396.0,304.1 397.5,308.4 399.0,310.9 400.5,315.3 402.0,323.1 403.5,332.3 405.0,341.4 406.5,348.9 408.0,354.5 409.5,358.7 411.0,363.4 412.5,370.1 414.0,380.0 415.5,391.4 417.0,401.9 418.5,409.5 420.0,414.5 421.5,419.4 423.0,426.1 424.5,435.3 426.0,446.1 427.5,455.9 429.0,462.7 430.5,466.4 432.0,469.3 433.5,473.9 435.0,481.2 436.5,490.4 438.0,499.0 439.5,505.0 441.0,508.1 442.5,510.0 444.0,513.4 445.5,519.8 447.0,529.0 448.5,539.4 450.0,548.9 451.5,554.1 453.0,555.8 454.5,557.6 456.0,562.0 457.5,569.3 459.0,577.4 460.5,584.0 462.0,587.9 463.5,589.8 465.0,591.9 466.5,596.3 468.0,603.7 469.5,612.5 471.0,620.0 472.5,624.7 474.0,627.0 475.5,628.8 477.0,632.0 478.5,637.5 480.0,644.2 481.5,650.0 483.0,653.5 484.5,654.6 486.0,654.9 487.5,656.3 489.0,659.8 490.5,664.6 492.0,669.0 493.5,671.4 495.0,671.1 496.5,669.6 498.0,668.8 499.5,670.0 501.0,672.8 502.5,675.6 504.0,676.6 505.5,675.1 507.0,672.4 508.5,670.7 510.0,671.2 511.5,672.9 513.0,675.2 514.5,676.0 516.0,674.4 517.5,671.1 519.0,667.9 520.5,666.6 522.0,667.2 523.5,668.9 525.0,670.0 526.5,669.5 528.0,667.2 529.5,664.8 531.0,664.1 532.5,665.7 534.0,668.6 535.5,670.7 537.0,670.7 538.5,668.6 540.0,666.0 541.5,664.4 543.0,665.0 544.5,667.2 546.0,669.4 547.5,669.8 549.0,668.1 550.5,665.4 552.0,663.6 553.5,664.0 555.0,666.2 556.5,668.7 558.0,669.7 559.5,668.7 561.0,666.4 562.5,664.9 564.0,665.6 565.5,668.5 567.0,672.1 568.5,674.6 570.0,675.0 571.5,674.0 573.0,673.0 574.5,673.6 576.0,676.1 577.5,679.5 579.0,682.2 580.5,682.9 582.0,682.0 583.5,680.9 585.0,681.1 586.5,683.4 588.0,686.7 589.5,689.4 591.0,690.2 592.5,689.1 594.0,687.3 595.5,686.4 597.0,687.3 598.5,689.5 600.0,691.5 601.5,691.9 603.0,690.4 604.5,688.1 606.0,686.4 607.5,686.6 609.0,688.3 610.5,690.2 612.0,691.0 613.5,690.0 615.0,688.0 616.5,686.7 618.0,687.4 619.5,690.2 621.0,693.8 622.5,696.8 624.0,698.3 625.5,698.6 627.0,699.4 628.5,701.9 630.0,706.5 631.5,712.0 633.0,716.8 634.5,719.8 636.0,721.1 637.5,722.3 639.0,724.6 640.5,728.8 642.0,734.0 643.5,738.7 645.0,741.7 646.5,743.1 648.0,743.9 649.5,745.7 651.0,749.1 652.5,753.5 654.0,757.5 655.5,759.8 657.0,760.1 658.5,759.6 660.0,759.6 661.5,760.9 663.0,763.0 664.5,765.0 666.0,765.9 667.5,765.1 669.0,763.3 670.5,761.8 672.0,761.7 673.5,762.9 675.0,764.2 676.5,764.4 678.0,762.7 679.5,759.8 681.0,756.9 682.5,755.2 684.0,754.7 685.5,754.5 687.0,753.5 688.5,750.8 690.0,746.6 691.5,741.9 693.0,737.8 694.5,734.4 696.0,731.2 697.5,727.2 699.0,721.5 700.5,714.1 702.0,705.7 703.5,697.4 705.0,690.2 706.5,683.9 708.0,676.5 709.5,668.0 711.0,660.2 712.5,653.1 714.0,647.0 715.5,643.3 717.0,642.6 718.5,644.5 720.0,647.3 721.5,649.8 723.0,651.9 724.5,655.5 726.0,661.9 727.5,670.4 729.0,679.2 730.5,686.5 732.0,692.6 733.5,698.1 735.0,703.6 736.5,709.6 738.0,716.0 739.5,721.7 741.0,725.6 742.5,727.8 744.0,728.7 745.5,729.2 747.0,730.4 748.5,732.6 750.0,735.6 751.5,738.2 753.0,739.8 754.5,740.3 756.0,740.4 757.5,741.3 759.0,743.2 760.5,745.9 762.0,748.6 763.5,750.3 765.0,751.1 766.5,751.4 768.0,752.2 769.5,754.0 771.0,756.6 772.5,759.4 774.0,761.6 775.5,763.0 777.0,764.1 778.5,765.4 780.0,767.2 781.5,769.5 783.0,771.9 784.5,773.7 786.0,774.5 787.5,774.8 789.0,775.2 790.5,776.3 792.0,778.1 793.5,780.2 795.0,781.9 796.5,782.9 798.0,783.3 799.5,783.5 801.0,784.3 802.5,785.8 804.0,787.6 805.5,789.1 807.0,790.0 808.5,790.2 810.0,790.1 811.5,790.4 813.0,791.3 814.5,792.5 816.0,793.6 817.5,794.1 819.0,794.0 820.5,793.6 822.0,793.4 823.5,793.6 825.0,794.3 826.5,794.8 828.0,794.9 829.5,794.4 831.0,793.5 832.5,792.5 834.0,791.7 835.5,791.0 837.0,790.3 838.5,789.2 840.0,787.8 841.5,786.3 843.0,785.0 844.5,783.9 846.0,783.1 847.5,782.3 849.0,781.4 850.5,780.1 852.0,778.8 853.5,777.4 855.0,776.3 856.5,775.5 858.0,774.8 859.5,774.2 861.0,773.4 862.5,772.5 864.0,771.6 865.5,770.9 867.0,770.3 868.5,769.8 870.0,769.3 871.5,768.7 873.0,768.0 874.5,767.2 876.0,766.4 877.5,765.7 879.0,764.9 880.5,764.0 882.0,763.0 883.5,762.1 885.0,761.1 886.5,760.1 888.0,759.1 889.5,758.1 891.0,757.1 892.5,756.1 894.0,755.2 895.5,754.3 897.0,753.4 898.5,752.6 900.0,751.9 901.5,751.0 903.0,750.1 904.5,748.8 906.0,747.5 907.5,746.2 909.0,744.8 910.5,743.1 912.0,741.1 913.5,737.9 915.0,733.4 916.5,731.9 918.0,730.3 919.5,728.3 921.0,724.3 922.5,716.3 924.0,704.8 925.5,688.5 927.0,666.4 928.5,650.4 930.0,638.0 931.5,630.0 933.0,629.3 934.5,631.1 936.0,634.0 937.5,638.9 939.0,646.7 940.5,655.3 942.0,664.4 943.5,673.7 945.0,682.8 946.5,691.3 948.0,698.6 949.5,704.9 951.0,710.8 952.5,716.6 954.0,722.1 955.5,727.2 957.0,731.5 958.5,735.4 960.0,739.1 961.5,742.5 963.0,745.4 964.5,747.8 966.0,749.7 967.5,751.4 969.0,752.8 970.5,754.0 972.0,755.1 973.5,756.0 975.0,756.8 976.5,757.4 978.0,757.9 979.5,758.2 981.0,758.5 982.5,758.6 984.0,758.6 985.5,758.4 987.0,758.0 988.5,757.4 990.0,756.7 991.5,755.9 993.0,755.0 994.5,753.6 996.0,751.9 997.5,749.7 999.0,747.1 1000.5,744.2 1002.0,739.8 1003.5,734.3 1005.0,728.3 1006.5,721.2 1008.0,714.6 1009.5,710.1 1011.0,706.9 1012.5,706.3 1014.0,707.6 1015.5,709.6 1017.0,711.5 1018.5,713.2 1020.0,715.2 1021.5,718.3 1023.0,722.1 1024.5,725.8 1026.0,728.1 1027.5,728.8 1029.0,729.2 1030.5,729.4 1032.0,729.3 1033.5,729.0 1035.0,728.3 1036.5,727.3 1038.0,726.1 1039.5,724.9 1041.0,723.8 1042.5,723.1 1044.0,722.8 1045.5,723.1 1047.0,723.8 1048.5,724.7 1050.0,725.8 1051.5,726.7 1053.0,727.4 1054.5,728.0 1056.0,728.5 1057.5,729.2 1059.0,730.1 1060.5,731.1 1062.0,732.2 1063.5,733.6 1065.0,735.3 1066.5,737.1 1068.0,739.3 1069.5,741.7 1071.0,744.5 1072.5,747.7 1074.0,751.9 1075.5,756.6 1077.0,761.5 1078.5,766.3 1080.0,771.5 1081.5,776.8 1083.0,781.5 1084.5,785.0 1086.0,787.7 1087.5,789.7 1089.0,791.1 1090.5,792.2 1092.0,793.2 1093.5,794.1 1095.0,794.8 1096.5,795.4 1098.0,795.8 1099.5,796.1 1101.0,796.2 1102.5,796.2 1104.0,796.1 1105.5,796.0 1107.0,795.8 1108.5,795.4 1110.0,794.7 1111.5,793.8 1113.0,792.6 1114.5,790.9 1116.0,788.9 1117.5,786.4 1119.0,783.5 1120.5,780.2 1122.0,776.3 1123.5,771.6 1125.0,766.1 1126.5,760.2 1128.0,753.4 1129.5,745.8 1131.0,737.9 1132.5,730.6 1134.0,723.1 1135.5,716.0 1137.0,711.0 1138.5,708.3 1140.0,708.1 1141.5,710.5 1143.0,714.9 1144.5,720.6 1146.0,728.2 1147.5,737.0 1149.0,746.1 1150.5,755.2 1152.0,763.7 1153.5,772.4 1155.0,780.8 1156.5,788.0 1158.0,793.1 1159.5,797.2 1161.0,800.6 1162.5,803.4 1164.0,805.5 1165.5,806.9 1167.0,808.2 1168.5,809.4 1170.0,810.3 1171.5,810.9 1173.0,811.3 1174.5,811.5 1176.0,811.5 1177.5,811.3 1179.0,810.9 1180.5,810.1 1182.0,808.2 1183.5,805.5 1185.0,802.7 1186.5,799.9 1188.0,796.9 1189.5,794.0 1191.0,791.5 1192.5,789.2 1194.0,787.0 1195.5,785.5 1197.0,785.1 1198.5,784.8 1200.0,784.5 1201.5,784.2 1203.0,784.0 1204.5,783.7 1206.0,783.4 1207.5,783.1 1209.0,782.8 1210.5,782.5 1212.0,782.1 1213.5,781.6 1215.0,780.8 1216.5,780.0 1218.0,779.2 1219.5,778.4 1221.0,777.9 1222.5,777.5 1224.0,777.5 1225.5,777.7 1227.0,778.1 1228.5,778.6 1230.0,779.3 1231.5,780.0 1233.0,780.6 1234.5,781.3 1236.0,781.9 1237.5,782.7 1239.0,783.5 1240.5,784.3 1242.0,785.1 1243.5,785.8 1245.0,786.3 1246.5,786.6 1248.0,786.7 1249.5,786.5 1251.0,786.1 1252.5,785.6 1254.0,784.9 1255.5,784.1 1257.0,783.2 1258.5,782.2 1260.0,780.8 1261.5,779.1 1263.0,776.8 1264.5,774.2 1266.0,771.3 1267.5,768.1 1269.0,764.6 1270.5,760.3 1272.0,755.4 1273.5,750.2 1275.0,744.7 1276.5,739.2 1278.0,733.9 1279.5,728.5 1281.0,723.1 1282.5,717.7 1284.0,712.3 1285.5,706.8 1287.0,701.2 1288.5,695.7 1290.0,690.1 1291.5,684.5 1293.0,678.9 1294.5,673.4 1296.0,667.8 1297.5,662.2 1299.0,656.4 1300.5,650.4 1302.0,644.1 1303.5,637.9 1305.0,631.6 1306.5,624.5 1308.0,616.0 1309.5,603.9 1311.0,587.9 1312.5,570.1 1314.0,550.2 1315.5,532.6 1317.0,517.2 1318.5,508.5 1320.0,503.5 1321.5,502.6 1323.0,507.1 1324.5,514.6 1326.0,529.0 1327.5,546.0 1329.0,564.9 1330.5,583.3 1332.0,600.6 1333.5,616.8 1335.0,632.2 1336.5,646.6 1338.0,660.0 1339.5,672.5 1341.0,684.4 1342.5,695.4 1344.0,705.7 1345.5,714.5 1347.0,721.1 1348.5,726.6 1350.0,731.1 1351.5,734.7 1353.0,737.9 1354.5,740.6 1356.0,742.3 1357.5,743.4 1359.0,744.5 1360.5,745.4 1362.0,745.9 1363.5,745.3 1365.0,744.0 1366.5,742.2 1368.0,738.3 1369.5,733.7 1371.0,730.7 1372.5,729.3 1374.0,728.5 1375.5,728.6 1377.0,729.9 1378.5,732.0 1380.0,734.4 1381.5,737.2 1383.0,740.4 1384.5,744.0 1386.0,747.6 1387.5,751.1 1389.0,754.6 1390.5,758.1 1392.0,761.5 1393.5,765.0 1395.0,768.4 1396.5,771.7 1398.0,774.8 1399.5,777.6 1401.0,780.1 1402.5,782.5 1404.0,784.8 1405.5,786.8 1407.0,788.5 1408.5,789.8 1410.0,790.9 1411.5,791.9 1413.0,792.4 1414.5,792.7 1416.0,792.6 1417.5,792.0 1419.0,790.5 1420.5,787.6 1422.0,784.6 1423.5,782.0 1425.0,779.3 1426.5,776.5 1428.0,773.4 1429.5,769.9 1431.0,765.6 1432.5,760.1 1434.0,754.1 1435.5,748.2 1437.0,742.3 1438.5,736.5 1440.0,731.4 1441.5,727.5 1443.0,724.6 1444.5,723.2 1446.0,722.2 1447.5,722.0 1449.0,722.5 1450.5,723.1 1452.0,723.3 1453.5,723.3 1455.0,722.6 1456.5,720.9 1458.0,718.4 1459.5,715.3 1461.0,709.7 1462.5,702.1 1464.0,693.3 1465.5,682.2 1467.0,668.9 1468.5,653.3 1470.0,634.4 1471.5,608.8 1473.0,576.8 1474.5,542.7 1476.0,502.8 1477.5,462.3 1479.0,426.1 1480.5,391.1 1482.0,360.5 1483.5,333.9 1485.0,311.0 1486.5,297.7 1488.0,290.2 1489.5,285.8 1491.0,285.9 1492.5,290.3 1494.0,297.4 1495.5,310.6 1497.0,332.5 1498.5,357.2 1500.0,385.5 1501.5,416.3 1503.0,445.3 1504.5,472.6 1506.0,498.7 1507.5,523.3 1509.0,546.4 1510.5,567.2 1512.0,585.2 1513.5,600.9 1515.0,615.0 1516.5,628.2 1518.0,640.8 1519.5,653.4 1521.0,665.7 1522.5,677.5 1524.0,688.6 1525.5,698.9 1527.0,707.8 1528.5,714.9 1530.0,720.0 1531.5,724.3 1533.0,727.9 1534.5,731.2 1536.0,734.2 1537.5,737.2 1539.0,740.7 1540.5,744.0 1542.0,746.7 1543.5,748.0 1545.0,748.6 1546.5,748.9 1548.0,749.0 1549.5,749.1 1551.0,749.1 1552.5,749.3 1554.0,749.6 1555.5,750.2 1557.0,751.3 1558.5,752.8 1560.0,754.5 1561.5,756.2 1563.0,758.2 1564.5,760.5 1566.0,762.8 1567.5,764.9 1569.0,766.9 1570.5,768.9 1572.0,770.9 1573.5,772.7 1575.0,774.2 1576.5,775.6 1578.0,776.9 1579.5,778.1 1581.0,779.3 1582.5,780.3 1584.0,781.2 1586.5,782.4"/>
<polyline stroke="#00ff00" points="187.5,618.3 189.0,602.1 190.5,580.8 192.0,564.0 193.5,561.5 195.0,572.0 196.5,586.7 198.0,595.1 199.5,590.9 201.0,575.5 202.5,558.5 204.0,549.6 205.5,551.4 207.0,559.6 208.5,566.6 210.0,565.5 211.5,555.6 213.0,542.1 214.5,532.1 216.0,530.2 217.5,536.7 219.0,544.6 220.5,545.8 222.0,537.9 223.5,525.9 225.0,517.5 226.5,518.5 228.0,526.9 229.5,528.4 231.0,518.2 232.5,506.3 234.0,503.0 235.5,505.1 237.0,508.4 238.5,508.6 240.0,503.3 241.5,493.6 243.0,483.4 244.5,477.1 246.0,476.3 247.5,479.1 249.0,481.1 250.5,477.8 252.0,468.3 253.5,456.6 255.0,447.2 256.5,443.2 258.0,443.8 259.5,445.5 261.0,445.0 262.5,439.5 264.0,429.6 265.5,419.1 267.0,412.1 268.5,411.7 270.0,415.4 271.5,415.7 273.0,407.8 274.5,394.1 276.0,382.1 277.5,378.2 279.0,381.3 280.5,382.9 282.0,375.6 283.5,361.4 285.0,349.6 286.5,346.1 288.0,347.5 289.5,350.2 291.0,350.1 292.5,344.8 294.0,334.6 295.5,323.0 297.0,314.2 298.5,311.2 300.0,314.1 301.5,317.8 303.0,316.0 304.5,307.0 306.0,294.4 307.5,284.6 309.0,281.8 310.5,285.1 312.0,288.1 313.5,284.5 315.0,273.6 316.5,260.3 318.0,251.6 319.5,249.9 321.0,252.3 322.5,253.6 324.0,249.4 325.5,239.4 327.0,227.7 328.5,219.5 330.0,217.7 331.5,220.3 333.0,222.7 334.5,220.7 336.0,213.8 337.5,205.3 339.0,199.6 340.5,200.2 342.0,206.5 343.5,212.1 345.0,211.4 346.5,204.7 348.0,197.2 349.5,194.8 351.0,199.0 352.5,204.3 354.0,203.9 355.5,197.0 357.0,189.7 358.5,189.3 360.0,195.8 361.5,204.7 363.0,210.2 364.5,209.6 366.0,204.9 367.5,202.0 369.0,204.2 370.5,210.6 372.0,218.7 373.5,225.3 375.0,228.6 376.5,228.5 378.0,227.5 379.5,228.7 381.0,234.2 382.5,244.7 384.0,256.4 385.5,264.7 387.0,269.0 388.5,271.6 390.0,275.9 391.5,284.5 393.0,296.8 394.5,308.9 396.0,316.9 397.5,321.0 399.0,323.3 400.5,327.9 402.0,335.7 403.5,344.7 405.0,353.2 406.5,360.3 408.0,365.7 409.5,369.9 411.0,374.6 412.5,381.4 414.0,391.3 415.5,402.8 417.0,413.0 418.5,420.2 420.0,424.6 421.5,428.9 423.0,435.0 424.5,443.9 426.0,454.4 427.5,464.0 429.0,470.5 430.5,474.1 432.0,476.7 433.5,481.0 435.0,488.0 436.5,496.9 438.0,505.1 439.5,510.5 441.0,513.0 442.5,514.4 444.0,517.5 445.5,523.6 447.0,532.4 448.5,542.4 450.0,551.1 451.5,555.9 453.0,557.6 454.5,559.7 456.0,564.2 457.5,571.5 459.0,579.5 460.5,585.8 462.0,589.4 463.5,591.0 465.0,592.8 466.5,596.9 468.0,603.8 469.5,612.1 471.0,619.2 472.5,623.5 474.0,625.6 475.5,627.1 477.0,630.2 478.5,635.6 480.0,642.3 481.5,648.2 483.0,651.7 484.5,652.9 486.0,653.2 487.5,654.7 489.0,658.3 490.5,663.1 492.0,667.5 493.5,669.9 495.0,669.6 496.5,668.1 498.0,667.3 499.5,668.5 501.0,671.4 502.5,674.4 504.0,675.5 505.5,674.3 507.0,671.8 508.5,670.6 510.0,671.5 511.5,673.3 513.0,675.6 514.5,676.5 516.0,674.9 517.5,671.6 519.0,668.4 520.5,666.9 522.0,667.4 523.5,668.9 525.0,669.9 526.5,669.4 528.0,667.2 529.5,664.8 531.0,664.2 532.5,665.9 534.0,668.8 535.5,670.9 537.0,670.9 538.5,668.8 540.0,666.2 541.5,664.5 543.0,665.1 544.5,667.3 546.0,669.3 547.5,669.6 549.0,667.7 550.5,664.8 552.0,662.9 553.5,663.0 555.0,665.0 556.5,667.2 558.0,668.1 559.5,666.8 561.0,664.4 562.5,662.9 564.0,663.5 565.5,666.4 567.0,670.1 568.5,672.7 570.0,673.2 571.5,672.2 573.0,671.3 574.5,671.9 576.0,674.3 577.5,677.7 579.0,680.4 580.5,681.0 582.0,680.0 583.5,678.7 585.0,678.8 586.5,680.9 588.0,684.1 589.5,686.7 591.0,687.4 592.5,686.2 594.0,684.3 595.5,683.3 597.0,684.3 598.5,686.6 600.0,688.8 601.5,689.4 603.0,688.0 604.5,685.9 606.0,684.5 607.5,685.0 609.0,687.0 610.5,689.3 612.0,690.3 613.5,689.4 615.0,687.4 616.5,686.1 618.0,687.0 619.5,689.9 621.0,693.7 622.5,696.5 624.0,697.6 625.5,697.5 627.0,697.9 628.5,700.3 630.0,704.8 631.5,710.3 633.0,715.1 634.5,718.1 636.0,719.4 637.5,720.5 639.0,722.9 640.5,727.1 642.0,732.4 643.5,737.1 645.0,740.3 646.5,741.7 648.0,742.8 649.5,744.8 651.0,748.6 652.5,753.3 654.0,757.6 655.5,760.1 657.0,760.5 658.5,760.2 660.0,760.4 661.5,761.7 663.0,763.7 664.5,765.6 666.0,766.3 667.5,765.4 669.0,763.5 670.5,762.0 672.0,761.9 673.5,763.1 675.0,764.3 676.5,764.3 678.0,762.4 679.5,759.3 681.0,756.2 682.5,754.4 684.0,753.9 685.5,753.9 687.0,752.9 688.5,750.3 690.0,746.2 691.5,741.6 693.0,737.7 694.5,734.4 696.0,731.3 697.5,727.3 699.0,721.7 700.5,714.6 702.0,706.4 703.5,698.4 705.0,691.5 706.5,685.5 708.0,678.5 709.5,670.5 711.0,662.9 712.5,656.0 714.0,650.0 715.5,646.5 717.0,645.9 718.5,647.8 720.0,650.4 721.5,652.6 723.0,654.6 724.5,658.1 726.0,664.6 727.5,673.1 729.0,681.7 730.5,688.7 732.0,694.3 733.5,699.1 735.0,703.7 736.5,708.9 738.0,714.6 739.5,719.7 741.0,723.3 742.5,725.3 744.0,726.0 745.5,726.4 747.0,727.5 748.5,729.6 750.0,732.4 751.5,734.8 753.0,736.2 754.5,736.4 756.0,736.4 757.5,737.0 759.0,738.8 760.5,741.3 762.0,743.8 763.5,745.4 765.0,746.1 766.5,746.3 768.0,747.0 769.5,748.7 771.0,751.3 772.5,754.1 774.0,756.3 775.5,757.8 777.0,759.1 778.5,760.5 780.0,762.4 781.5,764.7 783.0,767.1 784.5,768.9 786.0,769.8 787.5,770.1 789.0,770.5 790.5,771.6 792.0,773.5 793.5,775.8 795.0,777.6 796.5,778.8 798.0,779.3 799.5,779.7 801.0,780.7 802.5,782.3 804.0,784.3 805.5,786.1 807.0,787.2 808.5,787.6 810.0,787.7 811.5,788.2 813.0,789.3 814.5,790.7 816.0,792.0 817.5,792.7 819.0,792.8 820.5,792.6 822.0,792.7 823.5,793.2 825.0,794.1 826.5,795.0 828.0,795.4 829.5,795.3 831.0,794.9 832.5,794.3 834.0,793.8 835.5,793.5 837.0,793.0 838.5,792.2 840.0,791.0 841.5,789.6 843.0,788.3 844.5,787.2 846.0,786.4 847.5,785.5 849.0,784.5 850.5,783.2 852.0,781.7 853.5,780.3 855.0,779.0 856.5,778.1 858.0,777.5 859.5,776.8 861.0,775.9 862.5,775.0 864.0,774.1 865.5,773.3 867.0,772.7 868.5,772.1 870.0,771.5 871.5,770.7 873.0,769.8 874.5,768.9 876.0,768.0 877.5,767.0 879.0,765.9 880.5,764.8 882.0,763.6 883.5,762.4 885.0,761.1 886.5,759.8 888.0,758.4 889.5,757.1 891.0,755.7 892.5,754.3 894.0,752.9 895.5,751.5 897.0,750.1 898.5,748.7 900.0,747.3 901.5,745.8 903.0,744.2 904.5,742.6 906.0,740.9 907.5,739.3 909.0,737.6 910.5,735.5 912.0,733.0 913.5,729.2 915.0,724.0 916.5,722.6 918.0,721.5 919.5,719.9 921.0,716.5 922.5,709.5 924.0,699.2 925.5,683.7 927.0,663.0 928.5,648.4 930.0,637.1 931.5,629.8 933.0,629.0 934.5,630.7 936.0,633.5 937.5,637.9 939.0,645.1 940.5,653.4 942.0,662.0 943.5,671.1 945.0,680.2 946.5,688.8 948.0,695.9 949.5,701.9 951.0,707.5 952.5,712.9 954.0,718.0 955.5,722.6 957.0,726.6 958.5,730.3 960.0,733.8 961.5,737.1 963.0,740.0 964.5,742.5 966.0,744.4 967.5,746.2 969.0,747.7 970.5,748.9 972.0,750.1 973.5,751.1 975.0,752.0 976.5,752.7 978.0,753.3 979.5,753.8 981.0,754.1 982.5,754.2 984.0,754.2 985.5,754.1 987.0,753.8 988.5,753.3 990.0,752.8 991.5,752.2 993.0,751.5 994.5,750.3 996.0,748.7 997.5,746.7 999.0,744.4 1000.5,741.7 1002.0,737.9 1003.5,733.1 1005.0,727.9 1006.5,722.0 1008.0,716.2 1009.5,712.0 1011.0,709.1 1012.5,708.5 1014.0,709.8 1015.5,711.8 1017.0,713.8 1018.5,715.6 1020.0,717.6 1021.5,720.6 1023.0,724.1 1024.5,727.4 1026.0,729.6 1027.5,730.4 1029.0,731.0 1030.5,731.3 1032.0,731.5 1033.5,731.3 1035.0,730.6 1036.5,729.7 1038.0,728.6 1039.5,727.5 1041.0,726.5 1042.5,725.8 1044.0,725.6 1045.5,725.9 1047.0,726.8 1048.5,727.9 1050.0,729.1 1051.5,730.2 1053.0,730.9 1054.5,731.6 1056.0,732.2 1057.5,732.8 1059.0,733.6 1060.5,734.6 1062.0,735.7 1063.5,737.1 1065.0,738.7 1066.5,740.5 1068.0,742.7 1069.5,745.0 1071.0,747.6 1072.5,750.6 1074.0,754.4 1075.5,758.6 1077.0,763.0 1078.5,767.3 1080.0,771.8 1081.5,776.2 1083.0,780.3 1084.5,783.5 1086.0,785.9 1087.5,787.6 1089.0,788.7 1090.5,789.7 1092.0,790.5 1093.5,791.2 1095.0,791.8 1096.5,792.3 1098.0,792.6 1099.5,792.7 1101.0,792.6 1102.5,792.4 1104.0,792.1 1105.5,791.8 1107.0,791.3 1108.5,790.7 1110.0,789.9 1111.5,788.7 1113.0,787.2 1114.5,785.4 1116.0,783.2 1117.5,780.5 1119.0,777.4 1120.5,773.8 1122.0,769.7 1123.5,764.9 1125.0,759.4 1126.5,753.5 1128.0,747.1 1129.5,740.0 1131.0,732.8 1132.5,726.4 1134.0,720.3 1135.5,714.6 1137.0,710.7 1138.5,709.0 1140.0,709.5 1141.5,712.2 1143.0,716.8 1144.5,722.7 1146.0,730.2 1147.5,738.5 1149.0,746.8 1150.5,755.1 1152.0,762.9 1153.5,770.8 1155.0,778.2 1156.5,784.5 1158.0,789.2 1159.5,792.9 1161.0,796.1 1162.5,798.8 1164.0,800.8 1165.5,802.4 1167.0,803.8 1168.5,805.1 1170.0,806.1 1171.5,806.9 1173.0,807.4 1174.5,807.7 1176.0,807.9 1177.5,807.9 1179.0,807.6 1180.5,807.1 1182.0,805.6 1183.5,803.6 1185.0,801.5 1186.5,799.3 1188.0,797.0 1189.5,794.8 1191.0,792.9 1192.5,791.0 1194.0,789.2 1195.5,788.0 1197.0,787.5 1198.5,787.1 1200.0,786.7 1201.5,786.3 1203.0,785.9 1204.5,785.5 1206.0,785.0 1207.5,784.6 1209.0,784.2 1210.5,783.8 1212.0,783.3 1213.5,782.7 1215.0,781.9 1216.5,781.1 1218.0,780.3 1219.5,779.6 1221.0,779.0 1222.5,778.6 1224.0,778.5 1225.5,778.6 1227.0,778.8 1228.5,779.2 1230.0,779.6 1231.5,780.1 1233.0,780.6 1234.5,781.0 1236.0,781.4 1237.5,782.0 1239.0,782.5 1240.5,783.1 1242.0,783.6 1243.5,784.1 1245.0,784.4 1246.5,784.5 1248.0,784.4 1249.5,784.0 1251.0,783.5 1252.5,782.8 1254.0,781.9 1255.5,780.8 1257.0,779.7 1258.5,778.4 1260.0,776.9 1261.5,775.0 1263.0,772.6 1264.5,769.8 1266.0,766.7 1267.5,763.3 1269.0,759.7 1270.5,755.4 1272.0,750.7 1273.5,745.7 1275.0,740.4 1276.5,735.1 1278.0,729.8 1279.5,724.5 1281.0,719.1 1282.5,713.7 1284.0,708.3 1285.5,702.9 1287.0,697.4 1288.5,691.9 1290.0,686.3 1291.5,680.8 1293.0,675.3 1294.5,669.9 1296.0,664.4 1297.5,658.9 1299.0,653.3 1300.5,647.3 1302.0,641.1 1303.5,634.9 1305.0,628.6 1306.5,621.5 1308.0,613.4 1309.5,602.4 1311.0,588.2 1312.5,572.3 1314.0,555.2 1315.5,540.1 1317.0,526.9 1318.5,519.7 1320.0,515.7 1321.5,515.0 1323.0,518.8 1324.5,525.3 1326.0,537.6 1327.5,552.5 1329.0,569.1 1330.5,585.9 1332.0,602.1 1333.5,617.4 1335.0,632.4 1336.5,646.8 1338.0,660.0 1339.5,672.2 1341.0,683.8 1342.5,694.5 1344.0,704.3 1345.5,712.6 1347.0,719.1 1348.5,724.6 1350.0,729.1 1351.5,732.7 1353.0,735.9 1354.5,738.6 1356.0,740.5 1357.5,741.9 1359.0,743.2 1360.5,744.4 1362.0,745.1 1363.5,744.8 1365.0,743.9 1366.5,742.6 1368.0,739.8 1369.5,736.4 1371.0,734.2 1372.5,733.3 1374.0,732.9 1375.5,733.3 1377.0,734.6 1378.5,736.6 1380.0,738.8 1381.5,741.3 1383.0,744.2 1384.5,747.4 1386.0,750.6 1387.5,753.7 1389.0,756.9 1390.5,760.0 1392.0,763.1 1393.5,766.2 1395.0,769.4 1396.5,772.4 1398.0,775.2 1399.5,777.6 1401.0,779.8 1402.5,781.9 1404.0,783.8 1405.5,785.5 1407.0,786.8 1408.5,787.8 1410.0,788.6 1411.5,789.2 1413.0,789.4 1414.5,789.4 1416.0,789.1 1417.5,788.2 1419.0,786.6 1420.5,783.8 1422.0,781.0 1423.5,778.4 1425.0,775.6 1426.5,772.6 1428.0,769.3 1429.5,765.7 1431.0,761.5 1432.5,756.2 1434.0,750.4 1435.5,744.7 1437.0,739.2 1438.5,733.8 1440.0,728.9 1441.5,725.0 1443.0,722.2 1444.5,721.0 1446.0,720.3 1447.5,720.1 1449.0,720.4 1450.5,720.8 1452.0,720.6 1453.5,720.1 1455.0,719.0 1456.5,716.8 1458.0,713.7 1459.5,709.9 1461.0,704.2 1462.5,696.7 1464.0,687.9 1465.5,676.9 1467.0,663.5 1468.5,647.5 1470.0,628.3 1471.5,602.4 1473.0,570.4 1474.5,536.9 1476.0,499.0 1477.5,461.3 1479.0,428.4 1480.5,397.2 1482.0,370.1 1483.5,346.9 1485.0,326.9 1486.5,314.9 1488.0,308.4 1489.5,304.5 1491.0,304.3 1492.5,307.9 1494.0,313.9 1495.5,324.9 1497.0,343.7 1498.5,365.5 1500.0,390.5 1501.5,418.5 1503.0,445.5 1504.5,471.1 1506.0,495.9 1507.5,519.5 1509.0,541.8 1510.5,561.8 1512.0,579.4 1513.5,594.8 1515.0,609.0 1516.5,622.3 1518.0,635.1 1519.5,647.7 1521.0,659.9 1522.5,671.5 1524.0,682.6 1525.5,692.8 1527.0,701.9 1528.5,709.4 1530.0,715.0 1531.5,719.7 1533.0,723.7 1534.5,727.2 1536.0,730.6 1537.5,734.1 1539.0,738.1 1540.5,742.0 1542.0,745.1 1543.5,746.6 1545.0,747.1 1546.5,747.4 1548.0,747.6 1549.5,747.7 1551.0,747.8 1552.5,748.1 1554.0,748.6 1555.5,749.3 1557.0,750.4 1558.5,751.7 1560.0,753.2 1561.5,754.7 1563.0,756.4 1564.5,758.3 1566.0,760.1 1567.5,761.9 1569.0,763.5 1570.5,765.2 1572.0,766.7 1573.5,768.2 1575.0,769.5 1576.5,770.6 1578.0,771.7 1579.5,772.7 1581.0,773.6 1582.5,774.5 1584.0,775.3 1586.5,776.3"/>
<polyline stroke="#808000" points="187.5,612.7 189.0,595.8 190.5,573.8 192.0,556.5 193.5,554.0 195.0,564.9 196.5,580.1 198.0,588.8 199.5,584.5 201.0,568.9 202.5,551.5 204.0,542.4 205.5,544.2 207.0,552.7 208.5,560.0 210.0,558.8 211.5,548.7 213.0,534.7 214.5,524.5 216.0,522.5 217.5,529.1 219.0,537.1 220.5,538.4 222.0,530.4 223.5,518.2 225.0,509.7 226.5,510.9 228.0,519.5 229.5,521.1 231.0,510.8 232.5,498.7 234.0,495.5 235.5,497.7 237.0,501.2 238.5,501.5 240.0,496.1 241.5,486.3 243.0,476.0 244.5,469.6 246.0,468.8 247.5,471.8 249.0,473.8 250.5,470.8 252.0,461.8 253.5,450.5 255.0,441.6 256.5,438.2 258.0,439.4 259.5,441.7 261.0,441.5 262.5,436.0 264.0,426.1 265.5,415.6 267.0,408.6 268.5,408.3 270.0,412.2 271.5,412.7 273.0,404.9 274.5,391.3 276.0,379.6 277.5,375.9 279.0,379.4 280.5,381.3 282.0,374.3 283.5,360.4 285.0,348.8 286.5,345.6 288.0,347.2 289.5,350.1 291.0,350.4 292.5,345.2 294.0,335.3 295.5,323.9 297.0,315.2 298.5,312.3 300.0,315.3 301.5,319.2 303.0,317.6 304.5,308.7 306.0,296.3 307.5,286.6 309.0,283.9 310.5,287.3 312.0,290.4 313.5,286.9 315.0,275.9 316.5,262.7 318.0,254.1 319.5,252.6 321.0,255.3 322.5,257.0 324.0,253.3 325.5,243.9 327.0,232.7 328.5,225.1 330.0,223.8 331.5,227.0 333.0,230.1 334.5,228.9 336.0,222.6 337.5,214.7 339.0,209.6 340.5,210.6 342.0,217.4 343.5,223.4 345.0,223.1 346.5,216.6 348.0,209.4 349.5,207.1 351.0,211.3 352.5,216.6 354.0,216.3 355.5,209.6 357.0,202.5 358.5,202.6 360.0,209.7 361.5,219.1 363.0,225.0 364.5,224.7 366.0,220.1 367.5,217.0 369.0,219.1 370.5,225.4 372.0,233.7 373.5,240.8 375.0,244.4 376.5,244.7 378.0,244.0 379.5,245.5 381.0,251.5 382.5,262.6 384.0,275.1 385.5,283.8 387.0,288.2 388.5,290.6 390.0,294.5 391.5,302.5 393.0,313.7 394.5,324.8 396.0,332.3 397.5,336.0 399.0,338.3 400.5,343.0 402.0,350.9 403.5,359.5 405.0,367.4 406.5,373.9 408.0,379.1 409.5,383.4 411.0,388.2 412.5,395.0 414.0,405.0 415.5,416.4 417.0,426.3 418.5,432.9 420.0,436.8 421.5,440.3 423.0,445.8 424.5,454.3 426.0,464.4 427.5,473.7 429.0,480.0 430.5,483.3 432.0,485.7 433.5,489.6 435.0,496.3 436.5,504.6 438.0,512.3 439.5,517.1 441.0,518.9 442.5,519.7 444.0,522.3 445.5,528.1 447.0,536.6 448.5,546.0 450.0,553.8 451.5,558.0 453.0,559.9 454.5,562.2 456.0,566.9 457.5,574.2 459.0,581.9 460.5,587.9 462.0,591.2 463.5,592.4 465.0,593.8 466.5,597.5 468.0,603.9 469.5,611.6 471.0,618.2 472.5,622.1 474.0,623.8 475.5,625.1 477.0,628.1 478.5,633.4 480.0,640.1 481.5,645.9 483.0,649.5 484.5,650.8 486.0,651.2 487.5,652.8 489.0,656.4 490.5,661.3 492.0,665.8 493.5,668.1 495.0,667.8 496.5,666.3 498.0,665.5 499.5,666.8 501.0,669.8 502.5,672.9 504.0,674.3 505.5,673.4 507.0,671.2 508.5,670.4 510.0,671.8 511.5,673.8 513.0,676.1 514.5,677.0 516.0,675.4 517.5,672.1 519.0,668.9 520.5,667.4 522.0,667.7 523.5,669.0 525.0,669.9 526.5,669.4 528.0,667.2 529.5,664.8 531.0,664.1 532.5,665.7 534.0,668.5 535.5,670.6 537.0,670.4 538.5,667.9 540.0,664.8 541.5,662.8 543.0,663.0 544.5,665.1 546.0,667.1 547.5,667.3 549.0,665.4 550.5,662.5 552.0,660.4 553.5,660.3 555.0,661.9 556.5,663.5 558.0,663.9 559.5,662.4 561.0,660.2 562.5,659.1 564.0,660.1 565.5,662.9 567.0,665.9 568.5,666.9 570.0,665.8 571.5,663.5 573.0,662.2 574.5,663.0 576.0,665.9 577.5,669.6 579.0,672.1 580.5,672.4 582.0,671.0 583.5,669.4 585.0,669.2 586.5,670.9 588.0,673.8 589.5,676.1 591.0,676.5 592.5,675.0 594.0,672.9 595.5,671.7 597.0,672.5 598.5,674.6 600.0,676.7 601.5,677.1 603.0,675.6 604.5,673.1 606.0,671.5 607.5,671.6 609.0,673.4 610.5,675.4 612.0,676.2 613.5,675.2 615.0,673.3 616.5,672.3 618.0,673.3 619.5,676.4 621.0,680.2 622.5,682.9 624.0,683.9 625.5,683.6 627.0,683.8 628.5,685.8 630.0,689.9 631.5,695.1 633.0,699.7 634.5,702.6 636.0,704.0 637.5,705.2 639.0,707.8 640.5,712.3 642.0,718.0 643.5,723.1 645.0,726.6 646.5,728.2 648.0,729.5 649.5,731.8 651.0,735.7 652.5,740.6 654.0,745.1 655.5,747.8 657.0,748.6 658.5,748.5 660.0,748.9 661.5,750.7 663.0,753.4 664.5,756.0 666.0,757.3 667.5,756.9 669.0,755.4 670.5,754.2 672.0,754.3 673.5,755.7 675.0,757.3 676.5,757.8 678.0,756.5 679.5,754.0 681.0,751.6 682.5,750.2 684.0,749.8 685.5,749.8 687.0,748.9 688.5,746.3 690.0,742.3 691.5,738.0 693.0,734.3 694.5,731.5 696.0,729.0 697.5,725.5 699.0,720.4 700.5,712.8 702.0,703.5 703.5,694.1 705.0,686.2 706.5,679.3 708.0,671.4 709.5,662.9 711.0,655.7 712.5,650.1 714.0,645.5 715.5,643.1 717.0,643.1 718.5,645.0 720.0,647.6 721.5,649.8 723.0,651.8 724.5,655.3 726.0,661.8 727.5,670.0 729.0,678.2 730.5,685.2 732.0,690.8 733.5,695.3 735.0,699.2 736.5,703.3 738.0,707.8 739.5,712.1 741.0,715.1 742.5,716.7 744.0,717.2 745.5,717.4 747.0,718.3 748.5,720.3 750.0,723.0 751.5,725.3 753.0,726.5 754.5,726.7 756.0,726.6 757.5,727.1 759.0,728.8 760.5,731.3 762.0,733.7 763.5,735.2 765.0,735.8 766.5,735.9 768.0,736.4 769.5,738.0 771.0,740.3 772.5,742.8 774.0,744.6 775.5,745.7 777.0,746.4 778.5,747.2 780.0,748.7 781.5,750.8 783.0,753.0 784.5,754.7 786.0,755.4 787.5,755.6 789.0,755.9 790.5,756.9 792.0,758.6 793.5,760.7 795.0,762.5 796.5,763.6 798.0,764.1 799.5,764.4 801.0,765.4 802.5,767.0 804.0,769.0 805.5,770.7 807.0,771.8 808.5,772.3 810.0,772.5 811.5,773.1 813.0,774.3 814.5,775.9 816.0,777.3 817.5,778.3 819.0,778.6 820.5,778.6 822.0,778.9 823.5,779.7 825.0,780.9 826.5,782.1 828.0,782.9 829.5,783.2 831.0,783.2 832.5,783.3 834.0,783.7 835.5,784.3 837.0,784.9 838.5,785.1 840.0,784.9 841.5,784.3 843.0,783.8 844.5,783.6 846.0,783.6 847.5,783.5 849.0,783.2 850.5,782.4 852.0,781.4 853.5,780.4 855.0,779.6 856.5,779.0 858.0,778.6 859.5,778.2 861.0,777.6 862.5,776.8 864.0,776.1 865.5,775.4 867.0,774.8 868.5,774.3 870.0,773.7 871.5,773.1 873.0,772.3 874.5,771.5 876.0,770.6 877.5,769.8 879.0,768.9 880.5,768.0 882.0,767.0 883.5,765.9 885.0,764.8 886.5,763.7 888.0,762.5 889.5,761.3 891.0,760.1 892.5,758.8 894.0,757.5 895.5,756.3 897.0,755.0 898.5,753.7 900.0,752.4 901.5,751.0 903.0,749.7 904.5,748.3 906.0,746.9 907.5,745.5 909.0,743.8 910.5,741.9 912.0,739.3 913.5,735.6 915.0,730.8 916.5,727.9 918.0,724.9 919.5,720.7 921.0,714.2 922.5,705.0 924.0,693.5 925.5,677.9 927.0,658.9 928.5,645.9 930.0,636.1 931.5,629.6 933.0,628.6 934.5,630.2 936.0,632.9 937.5,636.8 939.0,643.3 940.5,651.1 942.0,659.2 943.5,667.9 945.0,677.0 946.5,685.7 948.0,692.8 949.5,698.4 951.0,703.6 952.5,708.5 954.0,713.0 955.5,717.1 957.0,720.8 958.5,724.2 960.0,727.5 961.5,730.7 963.0,733.5 964.5,736.0 966.0,738.1 967.5,740.0 969.0,741.5 970.5,742.8 972.0,744.1 973.5,745.2 975.0,746.2 976.5,747.1 978.0,747.8 979.5,748.4 981.0,748.8 982.5,748.9 984.0,748.9 985.5,748.8 987.0,748.7 988.5,748.4 990.0,748.1 991.5,747.7 993.0,747.2 994.5,746.2 996.0,744.8 997.5,743.0 999.0,741.0 1000.5,738.8 1002.0,735.6 1003.5,731.7 1005.0,727.5 1006.5,722.8 1008.0,718.1 1009.5,714.3 1011.0,711.7 1012.5,711.1 1014.0,712.3 1015.5,714.4 1017.0,716.5 1018.5,718.4 1020.0,720.6 1021.5,723.3 1023.0,726.4 1024.5,729.3 1026.0,731.4 1027.5,732.4 1029.0,733.2 1030.5,733.7 1032.0,734.0 1033.5,733.9 1035.0,733.4 1036.5,732.6 1038.0,731.7 1039.5,730.7 1041.0,729.8 1042.5,729.2 1044.0,729.0 1045.5,729.4 1047.0,730.4 1048.5,731.7 1050.0,733.1 1051.5,734.4 1053.0,735.2 1054.5,735.9 1056.0,736.5 1057.5,737.1 1059.0,737.9 1060.5,738.8 1062.0,739.8 1063.5,741.1 1065.0,742.7 1066.5,744.6 1068.0,746.7 1069.5,749.0 1071.0,751.4 1072.5,754.1 1074.0,757.4 1075.5,761.0 1077.0,764.8 1078.5,768.4 1080.0,772.1 1081.5,775.6 1083.0,778.9 1084.5,781.6 1086.0,783.7 1087.5,785.0 1089.0,785.9 1090.5,786.7 1092.0,787.3 1093.5,787.8 1095.0,788.2 1096.5,788.6 1098.0,788.7 1099.5,788.7 1101.0,788.4 1102.5,787.9 1104.0,787.3 1105.5,786.7 1107.0,786.0 1108.5,785.1 1110.0,784.0 1111.5,782.6 1113.0,780.8 1114.5,778.8 1116.0,776.4 1117.5,773.4 1119.0,769.9 1120.5,766.1 1122.0,761.8 1123.5,756.9 1125.0,751.3 1126.5,745.4 1128.0,739.4 1129.5,733.1 1131.0,726.7 1132.5,721.3 1134.0,716.9 1135.5,713.0 1137.0,710.4 1138.5,709.9 1140.0,711.3 1141.5,714.2 1143.0,719.0 1144.5,725.2 1146.0,732.6 1147.5,740.3 1149.0,747.6 1150.5,755.0 1152.0,761.9 1153.5,768.8 1155.0,775.1 1156.5,780.4 1158.0,784.4 1159.5,787.8 1161.0,790.8 1162.5,793.3 1164.0,795.3 1165.5,797.0 1167.0,798.5 1168.5,799.9 1170.0,801.1 1171.5,802.0 1173.0,802.7 1174.5,803.2 1176.0,803.6 1177.5,803.8 1179.0,803.8 1180.5,803.4 1182.0,802.6 1183.5,801.3 1185.0,800.0 1186.5,798.6 1188.0,797.1 1189.5,795.7 1191.0,794.4 1192.5,793.2 1194.0,791.9 1195.5,791.0 1197.0,790.4 1198.5,789.9 1200.0,789.4 1201.5,788.8 1203.0,788.2 1204.5,787.6 1206.0,787.1 1207.5,786.5 1209.0,785.9 1210.5,785.4 1212.0,784.8 1213.5,784.1 1215.0,783.3 1216.5,782.4 1218.0,781.6 1219.5,780.9 1221.0,780.3 1222.5,779.9 1224.0,779.7 1225.5,779.6 1227.0,779.7 1228.5,779.8 1230.0,780.0 1231.5,780.2 1233.0,780.4 1234.5,780.7 1236.0,780.9 1237.5,781.1 1239.0,781.4 1240.5,781.6 1242.0,781.8 1243.5,782.0 1245.0,782.0 1246.5,782.0 1248.0,781.7 1249.5,781.2 1251.0,780.4 1252.5,779.4 1254.0,778.2 1255.5,776.9 1257.0,775.4 1258.5,773.9 1260.0,772.1 1261.5,770.0 1263.0,767.4 1264.5,764.4 1266.0,761.1 1267.5,757.6 1269.0,753.7 1270.5,749.5 1272.0,745.0 1273.5,740.2 1275.0,735.2 1276.5,730.1 1278.0,724.9 1279.5,719.6 1281.0,714.2 1282.5,708.9 1284.0,703.6 1285.5,698.2 1287.0,692.8 1288.5,687.3 1290.0,681.9 1291.5,676.4 1293.0,671.0 1294.5,665.7 1296.0,660.4 1297.5,655.0 1299.0,649.4 1300.5,643.6 1302.0,637.5 1303.5,631.4 1305.0,624.9 1306.5,618.0 1308.0,610.2 1309.5,600.5 1311.0,588.5 1312.5,574.9 1314.0,561.1 1315.5,549.0 1317.0,538.6 1318.5,533.2 1320.0,530.3 1321.5,529.9 1323.0,532.9 1324.5,538.1 1326.0,548.0 1327.5,560.3 1329.0,574.1 1330.5,588.9 1332.0,603.8 1333.5,618.2 1335.0,632.8 1336.5,647.0 1338.0,660.0 1339.5,671.9 1341.0,683.1 1342.5,693.4 1344.0,702.6 1345.5,710.3 1347.0,716.8 1348.5,722.2 1350.0,726.6 1351.5,730.3 1353.0,733.5 1354.5,736.2 1356.0,738.3 1357.5,740.0 1359.0,741.7 1360.5,743.1 1362.0,744.0 1363.5,744.1 1365.0,743.8 1366.5,743.1 1368.0,741.5 1369.5,739.6 1371.0,738.4 1372.5,738.1 1374.0,738.2 1375.5,738.9 1377.0,740.3 1378.5,742.1 1380.0,744.1 1381.5,746.2 1383.0,748.7 1384.5,751.4 1386.0,754.2 1387.5,756.9 1389.0,759.6 1390.5,762.3 1392.0,765.0 1393.5,767.7 1395.0,770.5 1396.5,773.1 1398.0,775.5 1399.5,777.6 1401.0,779.4 1402.5,781.1 1404.0,782.7 1405.5,784.0 1407.0,784.9 1408.5,785.4 1410.0,785.8 1411.5,785.9 1413.0,785.8 1414.5,785.6 1416.0,784.9 1417.5,783.6 1419.0,781.8 1420.5,779.3 1422.0,776.6 1423.5,774.0 1425.0,771.1 1426.5,767.9 1428.0,764.5 1429.5,760.8 1431.0,756.6 1432.5,751.5 1434.0,745.9 1435.5,740.6 1437.0,735.5 1438.5,730.6 1440.0,725.9 1441.5,722.0 1443.0,719.4 1444.5,718.4 1446.0,717.9 1447.5,717.7 1449.0,717.9 1450.5,718.0 1452.0,717.4 1453.5,716.3 1455.0,714.6 1456.5,711.9 1458.0,708.1 1459.5,703.6 1461.0,697.6 1462.5,690.2 1464.0,681.5 1465.5,670.6 1467.0,657.0 1468.5,640.5 1470.0,621.0 1471.5,594.8 1473.0,562.7 1474.5,530.0 1476.0,494.4 1477.5,460.0 1479.0,431.2 1480.5,404.6 1482.0,381.7 1483.5,362.5 1485.0,346.0 1486.5,335.5 1488.0,330.2 1489.5,326.9 1491.0,326.4 1492.5,329.0 1494.0,333.7 1495.5,342.0 1497.0,357.1 1498.5,375.4 1500.0,396.5 1501.5,421.1 1503.0,445.8 1504.5,469.3 1506.0,492.5 1507.5,515.0 1509.0,536.3 1510.5,555.4 1512.0,572.3 1513.5,587.5 1515.0,601.7 1516.5,615.2 1518.0,628.2 1519.5,640.8 1521.0,653.0 1522.5,664.3 1524.0,675.3 1525.5,685.6 1527.0,694.8 1528.5,702.7 1530.0,709.0 1531.5,714.2 1533.0,718.6 1534.5,722.5 1536.0,726.3 1537.5,730.3 1539.0,735.0 1540.5,739.6 1542.0,743.3 1543.5,744.9 1545.0,745.3 1546.5,745.6 1548.0,745.8 1549.5,746.0 1551.0,746.2 1552.5,746.7 1554.0,747.4 1555.5,748.2 1557.0,749.3 1558.5,750.4 1560.0,751.6 1561.5,752.8 1563.0,754.2 1564.5,755.6 1566.0,757.0 1567.5,758.3 1569.0,759.5 1570.5,760.6 1572.0,761.8 1573.5,762.8 1575.0,763.8 1576.5,764.6 1578.0,765.4 1579.5,766.2 1581.0,766.9 1582.5,767.6 1584.0,768.2 1586.5,769.0"/>
<polyline stroke="#ffff00" points="187.5,604.2 189.0,586.5 190.5,563.4 192.0,545.2 193.5,542.6 195.0,554.2 196.5,570.2 198.0,579.4 199.5,575.1 201.0,559.0 202.5,540.9 204.0,531.6 205.5,533.5 207.0,542.3 208.5,550.0 210.0,548.8 211.5,538.2 213.0,523.7 214.5,513.1 216.0,511.0 217.5,517.7 219.0,526.0 220.5,527.3 222.0,519.1 223.5,506.6 225.0,497.9 226.5,499.3 228.0,508.3 229.5,510.2 231.0,499.7 232.5,487.3 234.0,484.2 235.5,486.6 237.0,490.3 238.5,490.7 240.0,485.3 241.5,475.3 243.0,464.8 244.5,458.3 246.0,457.6 247.5,460.7 249.0,462.9 250.5,460.2 252.0,451.9 253.5,441.3 255.0,433.1 256.5,430.5 258.0,432.7 259.5,436.0 261.0,436.1 262.5,430.7 264.0,420.8 265.5,410.3 267.0,403.4 268.5,403.2 270.0,407.4 271.5,408.1 273.0,400.5 274.5,387.1 276.0,375.7 277.5,372.5 279.0,376.5 280.5,378.9 282.0,372.4 283.5,358.8 285.0,347.6 286.5,344.8 288.0,346.8 289.5,350.1 291.0,350.7 292.5,345.9 294.0,336.2 295.5,325.1 297.0,316.7 298.5,314.1 300.0,317.3 301.5,321.4 303.0,320.0 304.5,311.3 306.0,299.0 307.5,289.5 309.0,287.0 310.5,290.6 312.0,293.8 313.5,290.3 315.0,279.5 316.5,266.3 318.0,257.8 319.5,256.6 321.0,259.7 322.5,262.0 324.0,259.2 325.5,250.7 327.0,240.3 328.5,233.5 330.0,233.0 331.5,237.2 333.0,241.3 334.5,241.1 336.0,235.9 337.5,228.8 339.0,224.5 340.5,226.3 342.0,233.7 343.5,240.4 345.0,240.7 346.5,234.6 348.0,227.7 349.5,225.5 351.0,229.8 352.5,235.1 354.0,234.9 355.5,228.4 357.0,221.8 358.5,222.5 360.0,230.4 361.5,240.6 363.0,247.3 364.5,247.3 366.0,242.9 367.5,239.6 369.0,241.5 370.5,247.7 372.0,256.3 373.5,263.9 375.0,268.2 376.5,269.0 378.0,268.8 379.5,270.8 381.0,277.4 382.5,289.6 384.0,303.2 385.5,312.6 387.0,317.0 388.5,319.2 390.0,322.5 391.5,329.3 393.0,338.9 394.5,348.6 396.0,355.3 397.5,358.6 399.0,360.7 400.5,365.6 402.0,373.6 403.5,381.7 405.0,388.7 406.5,394.4 408.0,399.3 409.5,403.5 411.0,408.5 412.5,415.4 414.0,425.5 415.5,436.8 417.0,446.3 418.5,452.1 420.0,455.0 421.5,457.4 423.0,462.0 424.5,469.8 426.0,479.4 427.5,488.3 429.0,494.2 430.5,497.1 432.0,499.1 433.5,502.5 435.0,508.6 436.5,516.3 438.0,523.1 439.5,526.9 441.0,527.7 442.5,527.7 444.0,529.6 445.5,534.8 447.0,542.9 448.5,551.3 450.0,557.8 451.5,561.3 453.0,563.3 454.5,566.0 456.0,571.0 457.5,578.2 459.0,585.6 460.5,591.2 462.0,593.8 463.5,594.5 465.0,595.3 466.5,598.4 468.0,604.1 469.5,610.9 471.0,616.7 472.5,620.0 474.0,621.1 475.5,622.1 477.0,624.8 478.5,630.1 480.0,636.7 481.5,642.6 483.0,646.2 484.5,647.6 486.0,648.2 487.5,649.9 489.0,653.7 490.5,658.7 492.0,663.1 493.5,665.4 495.0,665.1 496.5,663.5 498.0,662.8 499.5,664.1 501.0,667.3 502.5,670.7 504.0,672.4 505.5,671.9 507.0,670.2 508.5,670.2 510.0,672.3 511.5,674.5 513.0,676.9 514.5,677.8 516.0,676.3 517.5,672.9 519.0,669.7 520.5,668.1 522.0,668.1 523.5,669.2 525.0,669.8 526.5,669.3 528.0,667.1 529.5,664.8 531.0,664.0 532.5,665.5 534.0,668.2 535.5,670.2 537.0,669.6 538.5,666.6 540.0,662.7 541.5,660.1 543.0,660.0 544.5,661.9 546.0,663.7 547.5,663.9 549.0,662.0 550.5,659.0 552.0,656.8 553.5,656.4 555.0,657.1 556.5,658.0 558.0,657.6 559.5,655.8 561.0,653.9 562.5,653.4 564.0,654.9 565.5,657.7 567.0,659.5 568.5,658.4 570.0,654.7 571.5,650.5 573.0,648.5 574.5,649.7 576.0,653.3 577.5,657.5 579.0,659.7 580.5,659.5 582.0,657.7 583.5,655.5 585.0,654.8 586.5,656.0 588.0,658.4 589.5,660.2 591.0,660.2 592.5,658.3 594.0,655.7 595.5,654.3 597.0,654.8 598.5,656.7 600.0,658.5 601.5,658.7 603.0,656.9 604.5,654.0 606.0,651.9 607.5,651.6 609.0,652.9 610.5,654.6 612.0,655.1 613.5,653.9 615.0,652.2 616.5,651.5 618.0,652.8 619.5,656.1 621.0,659.9 622.5,662.6 624.0,663.3 625.5,662.8 627.0,662.5 628.5,663.9 630.0,667.4 631.5,672.1 633.0,676.5 634.5,679.4 636.0,680.9 637.5,682.3 639.0,685.2 640.5,690.2 642.0,696.3 643.5,702.1 645.0,706.0 646.5,708.1 648.0,709.6 649.5,712.2 651.0,716.3 652.5,721.5 654.0,726.4 655.5,729.5 657.0,730.6 658.5,730.8 660.0,731.8 661.5,734.2 663.0,737.9 664.5,741.5 666.0,743.8 667.5,744.2 669.0,743.3 670.5,742.5 672.0,742.9 673.5,744.7 675.0,746.8 676.5,748.1 678.0,747.7 679.5,746.1 681.0,744.6 682.5,743.8 684.0,743.7 685.5,743.8 687.0,742.9 688.5,740.3 690.0,736.5 691.5,732.6 693.0,729.4 694.5,727.3 696.0,725.6 697.5,722.9 699.0,718.3 700.5,710.2 702.0,699.1 703.5,687.7 705.0,678.3 706.5,670.0 708.0,660.8 709.5,651.7 711.0,644.9 712.5,641.3 714.0,638.7 715.5,637.9 717.0,638.8 718.5,640.8 720.0,643.4 721.5,645.6 723.0,647.6 724.5,651.2 726.0,657.7 727.5,665.5 729.0,672.9 730.5,679.9 732.0,685.5 733.5,689.6 735.0,692.5 736.5,694.8 738.0,697.6 739.5,700.6 741.0,702.9 742.5,703.9 744.0,703.9 745.5,703.9 747.0,704.6 748.5,706.4 750.0,708.8 751.5,711.0 753.0,712.0 754.5,712.1 756.0,711.9 757.5,712.4 759.0,713.9 760.5,716.3 762.0,718.6 763.5,720.0 765.0,720.3 766.5,720.3 768.0,720.6 769.5,721.8 771.0,723.8 772.5,725.8 774.0,727.1 775.5,727.5 777.0,727.3 778.5,727.4 780.0,728.3 781.5,730.0 783.0,731.9 784.5,733.3 786.0,733.9 787.5,733.9 789.0,734.0 790.5,734.7 792.0,736.3 793.5,738.2 795.0,739.9 796.5,740.8 798.0,741.2 799.5,741.5 801.0,742.4 802.5,744.0 804.0,745.9 805.5,747.7 807.0,748.8 808.5,749.3 810.0,749.7 811.5,750.5 813.0,751.8 814.5,753.6 816.0,755.3 817.5,756.5 819.0,757.2 820.5,757.6 822.0,758.3 823.5,759.5 825.0,761.0 826.5,762.7 828.0,764.0 829.5,765.0 831.0,765.8 832.5,766.9 834.0,768.5 835.5,770.5 837.0,772.6 838.5,774.4 840.0,775.6 841.5,776.3 843.0,777.1 844.5,778.2 846.0,779.4 847.5,780.6 849.0,781.3 850.5,781.3 852.0,781.0 853.5,780.6 855.0,780.4 856.5,780.3 858.0,780.4 859.5,780.3 861.0,780.0 862.5,779.5 864.0,779.0 865.5,778.4 867.0,777.9 868.5,777.5 870.0,777.1 871.5,776.6 873.0,775.9 874.5,775.3 876.0,774.7 877.5,774.1 879.0,773.4 880.5,772.7 882.0,772.0 883.5,771.3 885.0,770.5 886.5,769.6 888.0,768.7 889.5,767.7 891.0,766.6 892.5,765.6 894.0,764.5 895.5,763.4 897.0,762.2 898.5,761.1 900.0,760.0 901.5,758.9 903.0,758.0 904.5,757.0 906.0,755.9 907.5,754.7 909.0,753.2 910.5,751.3 912.0,748.7 913.5,745.2 915.0,740.9 916.5,735.8 918.0,730.0 919.5,721.9 921.0,710.9 922.5,698.2 924.0,685.0 925.5,669.2 927.0,652.7 928.5,642.2 930.0,634.5 931.5,629.2 933.0,628.1 934.5,629.5 936.0,632.0 937.5,635.2 939.0,640.6 940.5,647.6 942.0,655.0 943.5,663.1 945.0,672.3 946.5,681.1 948.0,688.0 949.5,693.2 951.0,697.7 952.5,701.8 954.0,705.5 955.5,708.8 957.0,712.0 958.5,715.1 960.0,718.1 961.5,721.0 963.0,723.7 964.5,726.3 966.0,728.6 967.5,730.6 969.0,732.3 970.5,733.7 972.0,735.1 973.5,736.4 975.0,737.6 976.5,738.7 978.0,739.6 979.5,740.3 981.0,740.8 982.5,741.0 984.0,741.0 985.5,741.0 987.0,741.0 988.5,741.0 990.0,741.0 991.5,741.0 993.0,740.9 994.5,740.2 996.0,739.1 997.5,737.6 999.0,736.1 1000.5,734.4 1002.0,732.2 1003.5,729.5 1005.0,726.8 1006.5,724.1 1008.0,720.9 1009.5,717.7 1011.0,715.5 1012.5,715.1 1014.0,716.2 1015.5,718.3 1017.0,720.6 1018.5,722.7 1020.0,724.9 1021.5,727.4 1023.0,730.0 1024.5,732.3 1026.0,734.1 1027.5,735.4 1029.0,736.4 1030.5,737.3 1032.0,737.9 1033.5,738.0 1035.0,737.7 1036.5,737.0 1038.0,736.3 1039.5,735.5 1041.0,734.7 1042.5,734.2 1044.0,734.0 1045.5,734.5 1047.0,735.8 1048.5,737.4 1050.0,739.2 1051.5,740.6 1053.0,741.6 1054.5,742.4 1056.0,743.0 1057.5,743.6 1059.0,744.3 1060.5,745.0 1062.0,746.0 1063.5,747.3 1065.0,748.9 1066.5,750.7 1068.0,752.7 1069.5,754.9 1071.0,757.0 1072.5,759.3 1074.0,761.9 1075.5,764.6 1077.0,767.4 1078.5,770.1 1080.0,772.5 1081.5,774.7 1083.0,776.9 1084.5,778.9 1086.0,780.4 1087.5,781.2 1089.0,781.7 1090.5,782.1 1092.0,782.5 1093.5,782.7 1095.0,782.9 1096.5,783.0 1098.0,782.9 1099.5,782.6 1101.0,781.9 1102.5,781.1 1104.0,780.1 1105.5,779.1 1107.0,778.0 1108.5,776.7 1110.0,775.2 1111.5,773.3 1113.0,771.2 1114.5,768.8 1116.0,766.1 1117.5,762.7 1119.0,758.8 1120.5,754.5 1122.0,750.0 1123.5,744.9 1125.0,739.2 1126.5,733.4 1128.0,728.0 1129.5,722.7 1131.0,717.5 1132.5,713.7 1134.0,711.9 1135.5,710.5 1137.0,710.0 1138.5,711.2 1140.0,713.9 1141.5,717.2 1143.0,722.4 1144.5,729.0 1146.0,736.2 1147.5,743.0 1149.0,748.9 1150.5,754.7 1152.0,760.5 1153.5,765.8 1155.0,770.4 1156.5,774.1 1158.0,777.3 1159.5,780.2 1161.0,782.7 1162.5,785.0 1164.0,787.0 1165.5,788.9 1167.0,790.6 1168.5,792.2 1170.0,793.6 1171.5,794.7 1173.0,795.5 1174.5,796.3 1176.0,797.0 1177.5,797.6 1179.0,797.9 1180.5,798.0 1182.0,797.9 1183.5,797.8 1185.0,797.7 1186.5,797.5 1188.0,797.3 1189.5,797.1 1191.0,796.8 1192.5,796.5 1194.0,796.0 1195.5,795.4 1197.0,794.8 1198.5,794.1 1200.0,793.3 1201.5,792.5 1203.0,791.7 1204.5,790.9 1206.0,790.1 1207.5,789.3 1209.0,788.5 1210.5,787.8 1212.0,787.0 1213.5,786.1 1215.0,785.2 1216.5,784.4 1218.0,783.6 1219.5,782.9 1221.0,782.3 1222.5,781.9 1224.0,781.5 1225.5,781.2 1227.0,781.0 1228.5,780.8 1230.0,780.6 1231.5,780.4 1233.0,780.3 1234.5,780.1 1236.0,780.0 1237.5,779.8 1239.0,779.6 1240.5,779.4 1242.0,779.2 1243.5,778.9 1245.0,778.5 1246.5,778.1 1248.0,777.6 1249.5,776.8 1251.0,775.7 1252.5,774.3 1254.0,772.8 1255.5,771.0 1257.0,769.1 1258.5,767.1 1260.0,765.0 1261.5,762.6 1263.0,759.7 1264.5,756.4 1266.0,752.8 1267.5,748.9 1269.0,744.8 1270.5,740.6 1272.0,736.4 1273.5,732.1 1275.0,727.5 1276.5,722.6 1278.0,717.5 1279.5,712.3 1281.0,707.0 1282.5,701.7 1284.0,696.5 1285.5,691.2 1287.0,685.9 1288.5,680.5 1290.0,675.1 1291.5,669.8 1293.0,664.5 1294.5,659.4 1296.0,654.3 1297.5,649.1 1299.0,643.7 1300.5,638.1 1302.0,632.2 1303.5,626.0 1305.0,619.5 1306.5,612.7 1308.0,605.5 1309.5,597.7 1311.0,588.9 1312.5,578.8 1314.0,570.0 1315.5,562.5 1317.0,556.2 1318.5,553.5 1320.0,552.3 1321.5,552.2 1323.0,554.1 1324.5,557.3 1326.0,563.6 1327.5,572.0 1329.0,581.6 1330.5,593.4 1332.0,606.4 1333.5,619.3 1335.0,633.2 1336.5,647.3 1338.0,660.0 1339.5,671.4 1341.0,682.1 1342.5,691.8 1344.0,700.0 1345.5,707.0 1347.0,713.2 1348.5,718.6 1350.0,723.0 1351.5,726.7 1353.0,729.9 1354.5,732.6 1356.0,735.0 1357.5,737.2 1359.0,739.3 1360.5,741.1 1362.0,742.5 1363.5,743.2 1365.0,743.6 1366.5,743.9 1368.0,744.1 1369.5,744.3 1371.0,744.7 1372.5,745.2 1374.0,746.1 1375.5,747.3 1377.0,748.8 1378.5,750.4 1380.0,752.0 1381.5,753.7 1383.0,755.5 1384.5,757.5 1386.0,759.5 1387.5,761.6 1389.0,763.7 1390.5,765.7 1392.0,767.8 1393.5,770.0 1395.0,772.2 1396.5,774.2 1398.0,776.1 1399.5,777.6 1401.0,778.8 1402.5,780.0 1404.0,781.0 1405.5,781.7 1407.0,782.0 1408.5,781.9 1410.0,781.5 1411.5,781.1 1413.0,780.4 1414.5,779.7 1416.0,778.5 1417.5,776.8 1419.0,774.7 1420.5,772.4 1422.0,770.0 1423.5,767.3 1425.0,764.3 1426.5,760.9 1428.0,757.2 1429.5,753.3 1431.0,749.2 1432.5,744.4 1434.0,739.3 1435.5,734.4 1437.0,730.0 1438.5,725.7 1440.0,721.3 1441.5,717.5 1443.0,715.1 1444.5,714.5 1446.0,714.4 1447.5,714.3 1449.0,714.1 1450.5,713.8 1452.0,712.6 1453.5,710.5 1455.0,708.0 1456.5,704.5 1458.0,699.7 1459.5,694.0 1461.0,687.8 1462.5,680.5 1464.0,671.8 1465.5,661.2 1467.0,647.3 1468.5,630.1 1470.0,610.0 1471.5,583.3 1473.0,551.1 1474.5,519.7 1476.0,487.6 1477.5,458.1 1479.0,435.4 1480.5,415.6 1482.0,399.0 1483.5,385.9 1485.0,374.6 1486.5,366.5 1488.0,362.9 1489.5,360.4 1491.0,359.5 1492.5,360.6 1494.0,363.5 1495.5,367.8 1497.0,377.2 1498.5,390.4 1500.0,405.6 1501.5,425.0 1503.0,446.3 1504.5,466.7 1506.0,487.4 1507.5,508.2 1509.0,528.0 1510.5,545.6 1512.0,561.7 1513.5,576.6 1515.0,590.8 1516.5,604.5 1518.0,617.8 1519.5,630.6 1521.0,642.6 1522.5,653.6 1524.0,664.3 1525.5,674.6 1527.0,684.2 1528.5,692.8 1530.0,700.0 1531.5,705.9 1533.0,710.9 1534.5,715.5 1536.0,719.9 1537.5,724.7 1539.0,730.3 1540.5,736.0 1542.0,740.4 1543.5,742.3 1545.0,742.7 1546.5,743.0 1548.0,743.2 1549.5,743.4 1551.0,743.9 1552.5,744.6 1554.0,745.6 1555.5,746.6 1557.0,747.6 1558.5,748.4 1560.0,749.3 1561.5,750.1 1563.0,750.9 1564.5,751.6 1566.0,752.2 1567.5,752.8 1569.0,753.4 1570.5,753.9 1572.0,754.3 1573.5,754.8 1575.0,755.2 1576.5,755.6 1578.0,756.0 1579.5,756.4 1581.0,756.8 1582.5,757.1 1584.0,757.5 1586.5,758.0"/>
<polyline stroke="#ffff80" points="187.5,600.9 189.0,582.8 190.5,559.3 192.0,540.8 193.5,538.2 195.0,550.0 196.5,566.3 198.0,575.7 199.5,571.4 201.0,555.1 202.5,536.9 204.0,527.4 205.5,529.4 207.0,538.3 208.5,546.1 210.0,544.9 211.5,534.2 213.0,519.5 214.5,508.6 216.0,506.5 217.5,513.3 219.0,521.6 220.5,523.0 222.0,514.7 223.5,502.1 225.0,493.4 226.5,494.8 228.0,504.0 229.5,505.9 231.0,495.4 232.5,482.9 234.0,479.8 235.5,482.3 237.0,486.1 238.5,486.5 240.0,481.1 241.5,471.0 243.0,460.5 244.5,453.9 246.0,453.3 247.5,456.4 249.0,458.7 250.5,456.0 252.0,447.7 253.5,437.0 255.0,428.8 256.5,426.3 258.0,428.4 259.5,431.8 261.0,432.0 262.5,426.6 264.0,416.7 265.5,406.2 267.0,399.4 268.5,399.2 270.0,403.4 271.5,404.2 273.0,396.6 274.5,383.2 276.0,371.8 277.5,368.6 279.0,372.6 280.5,375.1 282.0,368.5 283.5,355.0 285.0,343.8 286.5,341.0 288.0,343.1 289.5,346.4 291.0,347.0 292.5,342.2 294.0,332.6 295.5,321.6 297.0,313.4 298.5,311.1 300.0,314.7 301.5,319.2 303.0,318.3 304.5,310.2 306.0,298.5 307.5,289.4 309.0,287.4 310.5,291.6 312.0,295.3 313.5,292.4 315.0,282.2 316.5,269.7 318.0,261.8 319.5,261.1 321.0,264.7 322.5,267.4 324.0,264.7 325.5,256.4 327.0,246.2 328.5,239.6 330.0,239.3 331.5,243.6 333.0,247.7 334.5,247.5 336.0,242.1 337.5,235.0 339.0,230.6 340.5,232.4 342.0,239.7 343.5,246.3 345.0,246.6 346.5,240.7 348.0,234.0 349.5,232.2 351.0,236.9 352.5,242.6 354.0,242.7 355.5,236.4 357.0,229.8 358.5,231.0 360.0,239.8 361.5,250.7 363.0,257.3 364.5,256.8 366.0,252.0 367.5,248.7 369.0,250.5 370.5,257.4 372.0,266.7 373.5,274.8 375.0,279.6 376.5,280.6 378.0,280.3 379.5,282.0 381.0,288.0 382.5,299.4 384.0,312.0 385.5,320.7 387.0,324.7 388.5,326.4 390.0,329.3 391.5,335.8 393.0,345.1 394.5,354.5 396.0,361.2 397.5,364.5 399.0,366.8 400.5,372.0 402.0,380.6 403.5,389.3 405.0,397.2 406.5,403.5 408.0,408.2 409.5,411.6 411.0,415.5 412.5,421.5 414.0,430.9 415.5,442.0 417.0,451.8 418.5,457.5 420.0,460.0 421.5,461.8 423.0,466.0 424.5,473.5 426.0,483.1 427.5,491.9 429.0,497.8 430.5,500.8 432.0,502.8 433.5,506.2 435.0,512.1 436.5,519.6 438.0,526.6 439.5,531.4 441.0,533.4 442.5,534.0 444.0,536.4 445.5,541.9 447.0,550.0 448.5,558.4 450.0,564.6 451.5,567.8 453.0,569.5 454.5,571.9 456.0,576.6 457.5,583.5 459.0,590.8 460.5,596.3 462.0,599.0 463.5,599.7 465.0,600.8 466.5,604.1 468.0,609.9 469.5,616.9 471.0,622.7 472.5,626.1 474.0,627.2 475.5,628.2 477.0,630.8 478.5,635.9 480.0,642.4 481.5,648.1 483.0,651.5 484.5,652.5 486.0,652.7 487.5,654.0 489.0,657.5 490.5,662.2 492.0,666.4 493.5,668.5 495.0,668.0 496.5,666.3 498.0,665.4 499.5,666.6 501.0,669.8 502.5,673.1 504.0,674.9 505.5,674.6 507.0,673.4 508.5,673.5 510.0,675.7 511.5,678.6 513.0,682.0 514.5,684.0 516.0,683.2 517.5,680.5 519.0,678.0 520.5,677.3 522.0,678.3 523.5,679.9 525.0,680.7 526.5,679.8 528.0,677.1 529.5,674.4 531.0,673.6 532.5,675.3 534.0,678.4 535.5,680.6 537.0,680.1 538.5,677.0 540.0,673.1 541.5,670.4 543.0,670.1 544.5,671.8 546.0,673.7 547.5,673.9 549.0,672.0 550.5,669.2 552.0,667.1 553.5,666.6 555.0,667.1 556.5,667.7 558.0,667.4 559.5,666.0 561.0,664.2 562.5,663.5 564.0,664.6 565.5,666.7 567.0,668.0 568.5,666.9 570.0,663.7 571.5,660.1 573.0,658.2 574.5,659.0 576.0,662.1 577.5,665.8 579.0,668.0 580.5,667.9 582.0,666.1 583.5,664.1 585.0,663.5 586.5,664.8 588.0,667.3 589.5,669.3 591.0,669.5 592.5,667.7 594.0,665.4 595.5,664.1 597.0,664.8 598.5,666.9 600.0,668.8 601.5,669.1 603.0,667.5 604.5,664.9 606.0,663.0 607.5,663.0 609.0,664.7 610.5,666.6 612.0,667.4 613.5,666.6 615.0,665.1 616.5,664.4 618.0,665.8 619.5,669.0 621.0,672.7 622.5,675.4 624.0,676.3 625.5,676.0 627.0,676.0 628.5,677.6 630.0,681.2 631.5,686.0 633.0,690.3 634.5,693.1 636.0,694.6 637.5,695.9 639.0,698.6 640.5,703.3 642.0,709.1 643.5,714.5 645.0,718.1 646.5,720.0 648.0,721.4 649.5,723.6 651.0,727.4 652.5,732.3 654.0,736.9 655.5,739.8 657.0,740.8 658.5,740.9 660.0,741.6 661.5,743.7 663.0,747.0 664.5,750.4 666.0,752.5 667.5,752.7 669.0,751.7 670.5,750.8 672.0,751.2 673.5,753.0 675.0,755.2 676.5,756.4 678.0,756.0 679.5,754.4 681.0,752.8 682.5,752.0 684.0,752.1 685.5,752.5 687.0,751.9 688.5,749.7 690.0,746.3 691.5,742.7 693.0,739.9 694.5,738.2 696.0,737.0 697.5,735.0 699.0,731.1 700.5,724.4 702.0,715.4 703.5,705.9 705.0,697.7 706.5,690.3 708.0,682.2 709.5,673.9 711.0,666.7 712.5,661.2 714.0,656.7 715.5,654.3 717.0,654.1 718.5,654.8 720.0,655.9 721.5,657.0 723.0,658.0 724.5,660.4 726.0,665.2 727.5,671.4 729.0,678.7 730.5,686.5 732.0,693.2 733.5,698.4 735.0,702.0 736.5,704.3 738.0,707.1 739.5,710.2 741.0,712.5 742.5,713.5 744.0,713.4 745.5,713.3 747.0,713.9 748.5,715.6 750.0,717.9 751.5,719.9 753.0,720.9 754.5,720.8 756.0,720.4 757.5,720.6 759.0,722.0 760.5,724.1 762.0,726.2 763.5,727.4 765.0,727.6 766.5,727.4 768.0,727.6 769.5,728.9 771.0,730.9 772.5,733.0 774.0,734.5 775.5,735.0 777.0,735.0 778.5,735.2 780.0,736.2 781.5,738.0 783.0,740.0 784.5,741.5 786.0,742.2 787.5,742.2 789.0,742.4 790.5,743.2 792.0,744.9 793.5,746.8 795.0,748.5 796.5,749.5 798.0,750.0 799.5,750.4 801.0,751.3 802.5,753.0 804.0,755.1 805.5,757.0 807.0,758.4 808.5,759.1 810.0,759.6 811.5,760.6 813.0,762.1 814.5,763.9 816.0,765.7 817.5,767.0 819.0,767.7 820.5,768.1 822.0,768.7 823.5,769.9 825.0,771.4 826.5,773.0 828.0,774.2 829.5,775.0 831.0,775.6 832.5,776.5 834.0,777.8 835.5,779.4 837.0,781.2 838.5,782.5 840.0,783.4 841.5,783.9 843.0,784.5 844.5,785.3 846.0,786.3 847.5,787.3 849.0,788.0 850.5,788.1 852.0,787.9 853.5,787.6 855.0,787.5 856.5,787.5 858.0,787.6 859.5,787.5 861.0,787.2 862.5,786.7 864.0,786.0 865.5,785.4 867.0,784.8 868.5,784.3 870.0,783.7 871.5,783.0 873.0,782.3 874.5,781.5 876.0,780.8 877.5,780.2 879.0,779.5 880.5,778.7 882.0,778.0 883.5,777.2 885.0,776.4 886.5,775.5 888.0,774.5 889.5,773.5 891.0,772.5 892.5,771.4 894.0,770.3 895.5,769.1 897.0,767.9 898.5,766.5 900.0,765.2 901.5,763.8 903.0,762.4 904.5,761.1 906.0,759.7 907.5,758.2 909.0,756.6 910.5,754.6 912.0,752.0 913.5,748.8 915.0,744.8 916.5,739.7 918.0,733.5 919.5,725.7 921.0,715.6 922.5,704.0 924.0,691.8 925.5,677.7 927.0,663.0 928.5,651.7 930.0,643.4 931.5,638.1 933.0,635.9 934.5,636.0 936.0,637.8 937.5,640.4 939.0,644.9 940.5,650.6 942.0,657.3 943.5,665.0 945.0,673.5 946.5,681.4 948.0,687.9 949.5,693.3 951.0,698.2 952.5,702.7 954.0,706.9 955.5,710.8 957.0,714.6 958.5,718.2 960.0,721.6 961.5,724.7 963.0,727.7 964.5,730.4 966.0,733.0 967.5,735.2 969.0,737.2 970.5,739.0 972.0,740.7 973.5,742.3 975.0,743.8 976.5,745.2 978.0,746.4 979.5,747.4 981.0,748.2 982.5,748.8 984.0,749.2 985.5,749.4 987.0,749.4 988.5,749.2 990.0,748.9 991.5,748.6 993.0,748.1 994.5,747.3 996.0,746.1 997.5,744.6 999.0,743.0 1000.5,741.2 1002.0,738.9 1003.5,736.3 1005.0,733.5 1006.5,730.2 1008.0,726.2 1009.5,722.5 1011.0,720.6 1012.5,720.7 1014.0,722.2 1015.5,724.4 1017.0,726.7 1018.5,728.7 1020.0,731.0 1021.5,733.3 1023.0,735.7 1024.5,737.8 1026.0,739.5 1027.5,740.6 1029.0,741.4 1030.5,742.2 1032.0,742.7 1033.5,742.8 1035.0,742.7 1036.5,742.4 1038.0,742.0 1039.5,741.6 1041.0,741.2 1042.5,741.1 1044.0,741.1 1045.5,741.8 1047.0,743.3 1048.5,745.1 1050.0,747.1 1051.5,748.9 1053.0,750.5 1054.5,751.8 1056.0,753.0 1057.5,754.1 1059.0,755.1 1060.5,756.2 1062.0,757.3 1063.5,758.7 1065.0,760.2 1066.5,761.9 1068.0,763.8 1069.5,765.8 1071.0,767.8 1072.5,769.8 1074.0,772.0 1075.5,774.2 1077.0,776.4 1078.5,778.5 1080.0,780.4 1081.5,782.1 1083.0,783.6 1084.5,784.9 1086.0,785.8 1087.5,786.0 1089.0,786.0 1090.5,785.9 1092.0,785.8 1093.5,785.6 1095.0,785.2 1096.5,784.7 1098.0,784.1 1099.5,783.3 1101.0,782.3 1102.5,781.2 1104.0,780.1 1105.5,778.9 1107.0,777.7 1108.5,776.4 1110.0,774.9 1111.5,773.1 1113.0,771.1 1114.5,769.0 1116.0,766.5 1117.5,763.6 1119.0,760.2 1120.5,756.6 1122.0,752.7 1123.5,748.4 1125.0,743.6 1126.5,738.5 1128.0,733.5 1129.5,728.6 1131.0,723.8 1132.5,719.9 1134.0,717.4 1135.5,715.2 1137.0,714.2 1138.5,715.2 1140.0,717.6 1141.5,720.5 1143.0,724.9 1144.5,730.6 1146.0,736.7 1147.5,742.6 1149.0,747.9 1150.5,753.3 1152.0,758.7 1153.5,763.9 1155.0,768.6 1156.5,772.5 1158.0,775.8 1159.5,778.8 1161.0,781.5 1162.5,783.9 1164.0,786.1 1165.5,788.1 1167.0,789.8 1168.5,791.2 1170.0,792.4 1171.5,793.4 1173.0,794.1 1174.5,794.9 1176.0,795.5 1177.5,796.0 1179.0,796.4 1180.5,796.6 1182.0,796.8 1183.5,796.9 1185.0,797.0 1186.5,797.1 1188.0,797.2 1189.5,797.3 1191.0,797.3 1192.5,797.2 1194.0,797.1 1195.5,796.8 1197.0,796.5 1198.5,796.1 1200.0,795.6 1201.5,795.1 1203.0,794.6 1204.5,794.0 1206.0,793.4 1207.5,792.9 1209.0,792.3 1210.5,791.8 1212.0,791.2 1213.5,790.6 1215.0,789.9 1216.5,789.3 1218.0,788.7 1219.5,788.1 1221.0,787.7 1222.5,787.3 1224.0,787.0 1225.5,786.8 1227.0,786.5 1228.5,786.3 1230.0,786.1 1231.5,785.8 1233.0,785.6 1234.5,785.4 1236.0,785.2 1237.5,784.9 1239.0,784.7 1240.5,784.4 1242.0,784.0 1243.5,783.6 1245.0,783.2 1246.5,782.7 1248.0,782.0 1249.5,781.1 1251.0,779.9 1252.5,778.5 1254.0,776.9 1255.5,775.1 1257.0,773.3 1258.5,771.4 1260.0,769.4 1261.5,767.3 1263.0,764.8 1264.5,762.0 1266.0,759.0 1267.5,755.7 1269.0,752.3 1270.5,748.7 1272.0,745.1 1273.5,741.4 1275.0,737.5 1276.5,732.6 1278.0,726.9 1279.5,720.9 1281.0,714.7 1282.5,708.3 1284.0,701.8 1285.5,694.9 1287.0,689.5 1288.5,684.2 1290.0,678.8 1291.5,673.5 1293.0,668.1 1294.5,662.8 1296.0,657.4 1297.5,652.0 1299.0,646.2 1300.5,640.1 1302.0,633.8 1303.5,627.4 1305.0,621.0 1306.5,614.4 1308.0,607.6 1309.5,600.6 1311.0,593.1 1312.5,584.7 1314.0,577.4 1315.5,571.2 1317.0,566.3 1318.5,564.5 1320.0,564.0 1321.5,564.5 1323.0,566.7 1324.5,570.3 1326.0,576.7 1327.5,584.8 1329.0,593.6 1330.5,604.2 1332.0,615.8 1333.5,627.3 1335.0,639.6 1336.5,652.0 1338.0,663.3 1339.5,673.5 1341.0,683.3 1342.5,692.1 1344.0,699.8 1345.5,706.4 1347.0,712.3 1348.5,717.5 1350.0,721.9 1351.5,725.4 1353.0,728.4 1354.5,730.9 1356.0,733.2 1357.5,735.3 1359.0,737.3 1360.5,739.2 1362.0,740.9 1363.5,742.2 1365.0,743.3 1366.5,744.3 1368.0,745.3 1369.5,746.3 1371.0,747.3 1372.5,748.4 1374.0,749.8 1375.5,751.4 1377.0,753.2 1378.5,755.2 1380.0,757.2 1381.5,759.3 1383.0,761.7 1384.5,764.1 1386.0,766.5 1387.5,768.9 1389.0,771.1 1390.5,773.2 1392.0,775.2 1393.5,777.3 1395.0,779.4 1396.5,781.3 1398.0,782.9 1399.5,784.3 1401.0,785.3 1402.5,786.4 1404.0,787.3 1405.5,788.0 1407.0,788.3 1408.5,788.4 1410.0,788.3 1411.5,788.0 1413.0,787.6 1414.5,787.1 1416.0,786.1 1417.5,784.7 1419.0,783.1 1420.5,781.2 1422.0,779.3 1423.5,777.1 1425.0,774.5 1426.5,771.4 1428.0,767.9 1429.5,764.1 1431.0,760.0 1432.5,755.5 1434.0,750.8 1435.5,746.3 1437.0,742.1 1438.5,737.9 1440.0,733.6 1441.5,729.6 1443.0,726.7 1444.5,725.0 1446.0,723.7 1447.5,722.6 1449.0,721.7 1450.5,720.7 1452.0,719.1 1453.5,715.9 1455.0,712.2 1456.5,707.7 1458.0,701.8 1459.5,694.8 1461.0,687.0 1462.5,679.0 1464.0,670.4 1465.5,659.4 1467.0,645.2 1468.5,627.8 1470.0,607.1 1471.5,581.0 1473.0,550.1 1474.5,520.3 1476.0,490.2 1477.5,462.8 1479.0,441.4 1480.5,422.9 1482.0,407.5 1483.5,395.0 1485.0,384.2 1486.5,376.5 1488.0,373.0 1489.5,370.6 1491.0,369.4 1492.5,370.2 1494.0,372.6 1495.5,376.6 1497.0,384.9 1498.5,396.5 1500.0,411.1 1501.5,430.1 1503.0,450.7 1504.5,470.0 1506.0,489.6 1507.5,509.2 1509.0,528.0 1510.5,544.8 1512.0,560.1 1513.5,574.3 1515.0,587.7 1516.5,600.8 1518.0,613.6 1519.5,626.2 1521.0,638.7 1522.5,650.6 1524.0,662.1 1525.5,673.9 1527.0,685.5 1528.5,695.0 1530.0,702.6 1531.5,709.0 1533.0,714.5 1534.5,719.6 1536.0,723.6 1537.5,727.3 1539.0,731.6 1540.5,735.9 1542.0,739.3 1543.5,740.9 1545.0,741.7 1546.5,742.3 1548.0,742.8 1549.5,743.4 1551.0,744.0 1552.5,744.9 1554.0,745.8 1555.5,746.8 1557.0,747.8 1558.5,748.7 1560.0,749.5 1561.5,750.4 1563.0,751.2 1564.5,751.9 1566.0,752.7 1567.5,753.3 1569.0,753.9 1570.5,754.5 1572.0,755.1 1573.5,755.6 1575.0,756.2 1576.5,756.7 1578.0,757.2 1579.5,757.7 1581.0,758.2 1582.5,758.6 1584.0,759.1 1586.5,759.8"/>
<polyline stroke="#ff8000" points="187.5,598.5 189.0,580.2 190.5,556.4 192.0,537.7 193.5,535.1 195.0,547.1 196.5,563.6 198.0,573.1 199.5,568.8 201.0,552.3 202.5,533.9 204.0,524.5 205.5,526.4 207.0,535.4 208.5,543.3 210.0,542.1 211.5,531.3 213.0,516.4 214.5,505.5 216.0,503.3 217.5,510.1 219.0,518.5 220.5,519.9 222.0,511.6 223.5,498.8 225.0,490.1 226.5,491.6 228.0,500.9 229.5,502.9 231.0,492.3 232.5,479.8 234.0,476.7 235.5,479.2 237.0,483.0 238.5,483.5 240.0,478.1 241.5,467.9 243.0,457.3 244.5,450.8 246.0,450.2 247.5,453.4 249.0,455.6 250.5,452.9 252.0,444.6 253.5,433.9 255.0,425.7 256.5,423.2 258.0,425.4 259.5,428.8 261.0,429.1 262.5,423.7 264.0,413.8 265.5,403.3 267.0,396.5 268.5,396.4 270.0,400.6 271.5,401.4 273.0,393.8 274.5,380.4 276.0,369.0 277.5,365.8 279.0,369.9 280.5,372.3 282.0,365.8 283.5,352.2 285.0,341.1 286.5,338.3 288.0,340.4 289.5,343.8 291.0,344.4 292.5,339.6 294.0,330.1 295.5,319.2 297.0,311.1 298.5,309.0 300.0,312.9 301.5,317.7 303.0,317.2 304.5,309.4 306.0,298.1 307.5,289.4 309.0,287.8 310.5,292.2 312.0,296.3 313.5,293.9 315.0,284.1 316.5,272.1 318.0,264.6 319.5,264.3 321.0,268.3 322.5,271.2 324.0,268.7 325.5,260.5 327.0,250.5 328.5,244.0 330.0,243.7 331.5,248.1 333.0,252.3 334.5,252.0 336.0,246.5 337.5,239.4 339.0,235.0 340.5,236.7 342.0,243.9 343.5,250.5 345.0,250.8 346.5,245.0 348.0,238.5 349.5,237.0 351.0,242.1 352.5,248.0 354.0,248.3 355.5,242.1 357.0,235.5 358.5,237.1 360.0,246.5 361.5,257.9 363.0,264.4 364.5,263.6 366.0,258.6 367.5,255.1 369.0,257.0 370.5,264.3 372.0,274.2 373.5,282.6 375.0,287.8 376.5,288.9 378.0,288.5 379.5,289.9 381.0,295.6 382.5,306.4 384.0,318.4 385.5,326.6 387.0,330.2 388.5,331.5 390.0,334.1 391.5,340.3 393.0,349.5 394.5,358.8 396.0,365.3 397.5,368.7 399.0,371.0 400.5,376.5 402.0,385.5 403.5,394.7 405.0,403.2 406.5,409.9 408.0,414.5 409.5,417.4 411.0,420.6 412.5,425.9 414.0,434.7 415.5,445.7 417.0,455.7 418.5,461.4 420.0,463.5 421.5,465.0 423.0,468.8 424.5,476.2 426.0,485.7 427.5,494.5 429.0,500.4 430.5,503.4 432.0,505.5 433.5,508.9 435.0,514.6 436.5,521.9 438.0,529.1 439.5,534.6 441.0,537.4 442.5,538.6 444.0,541.3 445.5,547.0 447.0,555.1 448.5,563.4 450.0,569.5 451.5,572.5 453.0,573.9 454.5,576.0 456.0,580.5 457.5,587.3 459.0,594.5 460.5,600.0 462.0,602.7 463.5,603.5 465.0,604.6 466.5,608.1 468.0,614.1 469.5,621.1 471.0,627.0 472.5,630.4 474.0,631.6 475.5,632.5 477.0,635.1 478.5,640.1 480.0,646.4 481.5,652.0 483.0,655.2 484.5,656.0 486.0,655.9 487.5,657.0 489.0,660.1 490.5,664.7 492.0,668.8 493.5,670.7 495.0,670.1 496.5,668.3 498.0,667.3 499.5,668.4 501.0,671.5 502.5,674.9 504.0,676.7 505.5,676.5 507.0,675.7 508.5,675.9 510.0,678.1 511.5,681.5 513.0,685.5 514.5,688.4 516.0,688.2 517.5,685.9 519.0,684.0 520.5,683.9 522.0,685.5 523.5,687.6 525.0,688.5 526.5,687.2 528.0,684.2 529.5,681.2 531.0,680.4 532.5,682.3 534.0,685.6 535.5,688.0 537.0,687.5 538.5,684.5 540.0,680.5 541.5,677.7 543.0,677.3 544.5,678.9 546.0,680.8 547.5,681.1 549.0,679.3 550.5,676.4 552.0,674.4 553.5,674.0 555.0,674.3 556.5,674.7 558.0,674.5 559.5,673.3 561.0,671.6 562.5,670.7 564.0,671.5 565.5,673.2 567.0,674.1 568.5,672.9 570.0,670.1 571.5,667.1 573.0,665.2 574.5,665.6 576.0,668.3 577.5,671.8 579.0,673.9 580.5,673.9 582.0,672.2 583.5,670.2 585.0,669.7 586.5,671.1 588.0,673.7 589.5,675.8 591.0,676.1 592.5,674.5 594.0,672.3 595.5,671.1 597.0,671.9 598.5,674.1 600.0,676.1 601.5,676.6 603.0,675.1 604.5,672.6 606.0,671.0 607.5,671.2 609.0,673.0 610.5,675.2 612.0,676.3 613.5,675.7 615.0,674.3 616.5,673.7 618.0,675.0 619.5,678.1 621.0,681.8 622.5,684.6 624.0,685.7 625.5,685.5 627.0,685.6 628.5,687.4 630.0,691.1 631.5,695.8 633.0,700.2 634.5,702.9 636.0,704.3 637.5,705.6 639.0,708.2 640.5,712.6 642.0,718.2 643.5,723.3 645.0,726.8 646.5,728.6 648.0,729.7 649.5,731.7 651.0,735.3 652.5,740.0 654.0,744.4 655.5,747.2 657.0,748.1 658.5,748.1 660.0,748.6 661.5,750.4 663.0,753.6 664.5,756.8 666.0,758.7 667.5,758.7 669.0,757.6 670.5,756.7 672.0,757.1 673.5,758.9 675.0,761.1 676.5,762.4 678.0,762.0 679.5,760.4 681.0,758.7 682.5,757.9 684.0,758.1 685.5,758.7 687.0,758.4 688.5,756.5 690.0,753.3 691.5,749.9 693.0,747.4 694.5,746.0 696.0,745.2 697.5,743.6 699.0,740.3 700.5,734.5 702.0,727.0 703.5,718.9 705.0,711.5 706.5,704.8 708.0,697.5 709.5,689.8 711.0,682.3 712.5,675.4 714.0,669.5 715.5,666.0 717.0,665.0 718.5,664.8 720.0,664.9 721.5,665.1 723.0,665.4 724.5,666.9 726.0,670.5 727.5,675.7 729.0,682.9 730.5,691.1 732.0,698.7 733.5,704.7 735.0,708.8 736.5,711.1 738.0,714.0 739.5,717.0 741.0,719.3 742.5,720.3 744.0,720.2 745.5,720.0 747.0,720.5 748.5,722.1 750.0,724.3 751.5,726.3 753.0,727.2 754.5,727.0 756.0,726.5 757.5,726.6 759.0,727.7 760.5,729.7 762.0,731.6 763.5,732.7 765.0,732.8 766.5,732.5 768.0,732.7 769.5,733.9 771.0,736.0 772.5,738.2 774.0,739.8 775.5,740.4 777.0,740.4 778.5,740.7 780.0,741.8 781.5,743.7 783.0,745.8 784.5,747.3 786.0,748.1 787.5,748.2 789.0,748.4 790.5,749.3 792.0,751.0 793.5,753.0 795.0,754.7 796.5,755.8 798.0,756.2 799.5,756.7 801.0,757.7 802.5,759.5 804.0,761.7 805.5,763.7 807.0,765.2 808.5,766.0 810.0,766.7 811.5,767.8 813.0,769.4 814.5,771.3 816.0,773.2 817.5,774.5 819.0,775.1 820.5,775.5 822.0,776.2 823.5,777.3 825.0,778.8 826.5,780.3 828.0,781.5 829.5,782.2 831.0,782.7 832.5,783.4 834.0,784.4 835.5,785.8 837.0,787.2 838.5,788.4 840.0,789.0 841.5,789.4 843.0,789.7 844.5,790.4 846.0,791.3 847.5,792.2 849.0,792.8 850.5,792.9 852.0,792.8 853.5,792.6 855.0,792.5 856.5,792.6 858.0,792.8 859.5,792.7 861.0,792.4 862.5,791.8 864.0,791.0 865.5,790.3 867.0,789.7 868.5,789.1 870.0,788.4 871.5,787.7 873.0,786.8 874.5,786.0 876.0,785.2 877.5,784.5 879.0,783.8 880.5,783.0 882.0,782.2 883.5,781.4 885.0,780.6 886.5,779.7 888.0,778.7 889.5,777.7 891.0,776.7 892.5,775.5 894.0,774.4 895.5,773.2 897.0,771.9 898.5,770.4 900.0,768.9 901.5,767.3 903.0,765.6 904.5,764.0 906.0,762.4 907.5,760.7 909.0,759.0 910.5,757.0 912.0,754.5 913.5,751.3 915.0,747.5 916.5,742.4 918.0,736.1 919.5,728.3 921.0,719.0 922.5,708.2 924.0,696.6 925.5,683.8 927.0,670.3 928.5,658.4 930.0,649.8 931.5,644.5 933.0,641.5 934.5,640.7 936.0,641.9 937.5,644.2 939.0,648.0 940.5,652.8 942.0,658.9 943.5,666.4 945.0,674.3 946.5,681.6 948.0,687.9 949.5,693.3 951.0,698.5 952.5,703.3 954.0,707.8 955.5,712.2 957.0,716.4 958.5,720.4 960.0,724.0 961.5,727.4 963.0,730.5 964.5,733.4 966.0,736.1 967.5,738.5 969.0,740.8 970.5,742.8 972.0,744.7 973.5,746.5 975.0,748.3 976.5,749.9 978.0,751.3 979.5,752.5 981.0,753.5 982.5,754.3 984.0,755.0 985.5,755.4 987.0,755.3 988.5,755.1 990.0,754.6 991.5,754.0 993.0,753.3 994.5,752.3 996.0,751.1 997.5,749.6 999.0,747.9 1000.5,746.0 1002.0,743.7 1003.5,741.1 1005.0,738.3 1006.5,734.6 1008.0,729.9 1009.5,725.9 1011.0,724.2 1012.5,724.8 1014.0,726.5 1015.5,728.8 1017.0,731.0 1018.5,733.1 1020.0,735.2 1021.5,737.5 1023.0,739.8 1024.5,741.7 1026.0,743.3 1027.5,744.3 1029.0,745.0 1030.5,745.6 1032.0,746.1 1033.5,746.3 1035.0,746.3 1036.5,746.2 1038.0,746.1 1039.5,745.9 1041.0,745.9 1042.5,745.9 1044.0,746.2 1045.5,747.1 1047.0,748.6 1048.5,750.6 1050.0,752.7 1051.5,754.9 1053.0,756.8 1054.5,758.6 1056.0,760.2 1057.5,761.6 1059.0,762.9 1060.5,764.1 1062.0,765.4 1063.5,766.8 1065.0,768.3 1066.5,770.0 1068.0,771.7 1069.5,773.6 1071.0,775.4 1072.5,777.3 1074.0,779.3 1075.5,781.1 1077.0,782.8 1078.5,784.5 1080.0,786.0 1081.5,787.3 1083.0,788.4 1084.5,789.2 1086.0,789.6 1087.5,789.5 1089.0,789.1 1090.5,788.6 1092.0,788.2 1093.5,787.6 1095.0,786.8 1096.5,785.9 1098.0,784.9 1099.5,783.8 1101.0,782.6 1102.5,781.3 1104.0,780.0 1105.5,778.7 1107.0,777.5 1108.5,776.1 1110.0,774.6 1111.5,773.0 1113.0,771.1 1114.5,769.1 1116.0,766.8 1117.5,764.2 1119.0,761.2 1120.5,758.0 1122.0,754.6 1123.5,750.9 1125.0,746.7 1126.5,742.1 1128.0,737.5 1129.5,732.8 1131.0,728.2 1132.5,724.3 1134.0,721.4 1135.5,718.5 1137.0,717.2 1138.5,718.1 1140.0,720.3 1141.5,722.9 1143.0,726.8 1144.5,731.7 1146.0,737.1 1147.5,742.4 1149.0,747.2 1150.5,752.3 1152.0,757.5 1153.5,762.5 1155.0,767.2 1156.5,771.3 1158.0,774.7 1159.5,777.8 1161.0,780.6 1162.5,783.2 1164.0,785.5 1165.5,787.5 1167.0,789.1 1168.5,790.4 1170.0,791.5 1171.5,792.4 1173.0,793.1 1174.5,793.8 1176.0,794.4 1177.5,794.9 1179.0,795.3 1180.5,795.7 1182.0,796.0 1183.5,796.3 1185.0,796.6 1186.5,796.9 1188.0,797.1 1189.5,797.4 1191.0,797.6 1192.5,797.8 1194.0,797.9 1195.5,797.9 1197.0,797.8 1198.5,797.6 1200.0,797.3 1201.5,797.0 1203.0,796.6 1204.5,796.2 1206.0,795.8 1207.5,795.4 1209.0,795.0 1210.5,794.6 1212.0,794.2 1213.5,793.7 1215.0,793.2 1216.5,792.8 1218.0,792.3 1219.5,791.9 1221.0,791.6 1222.5,791.2 1224.0,791.0 1225.5,790.7 1227.0,790.4 1228.5,790.2 1230.0,789.9 1231.5,789.7 1233.0,789.4 1234.5,789.2 1236.0,788.9 1237.5,788.6 1239.0,788.3 1240.5,787.9 1242.0,787.5 1243.5,787.0 1245.0,786.5 1246.5,785.9 1248.0,785.2 1249.5,784.2 1251.0,782.9 1252.5,781.4 1254.0,779.8 1255.5,778.0 1257.0,776.2 1258.5,774.5 1260.0,772.6 1261.5,770.6 1263.0,768.4 1264.5,766.0 1266.0,763.4 1267.5,760.6 1269.0,757.6 1270.5,754.5 1272.0,751.3 1273.5,748.1 1275.0,744.6 1276.5,739.8 1278.0,733.6 1279.5,727.0 1281.0,720.2 1282.5,713.0 1284.0,705.5 1285.5,697.6 1287.0,692.0 1288.5,686.8 1290.0,681.5 1291.5,676.1 1293.0,670.7 1294.5,665.2 1296.0,659.7 1297.5,654.0 1299.0,648.0 1300.5,641.5 1302.0,634.9 1303.5,628.5 1305.0,622.1 1306.5,615.6 1308.0,609.1 1309.5,602.7 1311.0,596.2 1312.5,588.9 1314.0,582.7 1315.5,577.5 1317.0,573.5 1318.5,572.3 1320.0,572.4 1321.5,573.3 1323.0,575.7 1324.5,579.7 1326.0,586.0 1327.5,593.9 1329.0,602.2 1330.5,611.9 1332.0,622.5 1333.5,633.0 1335.0,644.2 1336.5,655.4 1338.0,665.6 1339.5,675.1 1341.0,684.1 1342.5,692.4 1344.0,699.6 1345.5,705.9 1347.0,711.6 1348.5,716.7 1350.0,721.1 1351.5,724.4 1353.0,727.3 1354.5,729.7 1356.0,731.9 1357.5,733.9 1359.0,735.9 1360.5,737.9 1362.0,739.8 1363.5,741.6 1365.0,743.1 1366.5,744.7 1368.0,746.2 1369.5,747.7 1371.0,749.2 1372.5,750.7 1374.0,752.5 1375.5,754.4 1377.0,756.4 1378.5,758.6 1380.0,760.9 1381.5,763.4 1383.0,766.1 1384.5,768.8 1386.0,771.5 1387.5,774.1 1389.0,776.5 1390.5,778.5 1392.0,780.6 1393.5,782.6 1395.0,784.5 1396.5,786.3 1398.0,787.8 1399.5,789.1 1401.0,790.0 1402.5,790.9 1404.0,791.8 1405.5,792.4 1407.0,792.9 1408.5,793.1 1410.0,793.1 1411.5,793.0 1413.0,792.7 1414.5,792.3 1416.0,791.5 1417.5,790.4 1419.0,789.0 1420.5,787.5 1422.0,785.9 1423.5,784.1 1425.0,781.8 1426.5,778.9 1428.0,775.5 1429.5,771.7 1431.0,767.7 1432.5,763.4 1434.0,759.0 1435.5,754.8 1437.0,750.7 1438.5,746.6 1440.0,742.3 1441.5,738.3 1443.0,734.9 1444.5,732.5 1446.0,730.4 1447.5,728.6 1449.0,727.1 1450.5,725.6 1452.0,723.7 1453.5,719.7 1455.0,715.2 1456.5,709.9 1458.0,703.4 1459.5,695.3 1461.0,686.4 1462.5,677.9 1464.0,669.4 1465.5,658.2 1467.0,643.6 1468.5,626.1 1470.0,605.1 1471.5,579.3 1473.0,549.3 1474.5,520.7 1476.0,492.1 1477.5,466.1 1479.0,445.7 1480.5,428.2 1482.0,413.5 1483.5,401.6 1485.0,391.1 1486.5,383.7 1488.0,380.2 1489.5,377.8 1491.0,376.5 1492.5,377.0 1494.0,379.1 1495.5,382.9 1497.0,390.5 1498.5,400.9 1500.0,415.1 1501.5,433.7 1503.0,453.8 1504.5,472.4 1506.0,491.2 1507.5,510.0 1509.0,528.0 1510.5,544.3 1512.0,559.0 1513.5,572.6 1515.0,585.5 1516.5,598.1 1518.0,610.6 1519.5,623.1 1521.0,635.9 1522.5,648.4 1524.0,660.6 1525.5,673.3 1527.0,686.4 1528.5,696.6 1530.0,704.5 1531.5,711.2 1533.0,717.1 1534.5,722.6 1536.0,726.3 1537.5,729.2 1539.0,732.5 1540.5,735.8 1542.0,738.4 1543.5,740.0 1545.0,740.9 1546.5,741.8 1548.0,742.6 1549.5,743.3 1551.0,744.1 1552.5,745.0 1554.0,746.0 1555.5,747.0 1557.0,747.9 1558.5,748.8 1560.0,749.7 1561.5,750.6 1563.0,751.4 1564.5,752.2 1566.0,753.0 1567.5,753.7 1569.0,754.4 1570.5,755.0 1572.0,755.7 1573.5,756.3 1575.0,756.9 1576.5,757.5 1578.0,758.0 1579.5,758.6 1581.0,759.2 1582.5,759.7 1584.0,760.2 1586.5,761.0"/>
<polyline stroke="#ff0000" points="187.5,596.2 189.0,577.6 190.5,553.5 192.0,534.5 193.5,531.9 195.0,544.1 196.5,560.8 198.0,570.5 199.5,566.2 201.0,549.6 202.5,531.0 204.0,521.5 205.5,523.4 207.0,532.5 208.5,540.5 210.0,539.4 211.5,528.4 213.0,513.3 214.5,502.3 216.0,500.0 217.5,507.0 219.0,515.4 220.5,516.8 222.0,508.4 223.5,495.6 225.0,486.9 226.5,488.4 228.0,497.8 229.5,499.9 231.0,489.2 232.5,476.6 234.0,473.5 235.5,476.2 237.0,480.0 238.5,480.5 240.0,475.1 241.5,464.9 243.0,454.2 244.5,447.7 246.0,447.1 247.5,450.3 249.0,452.6 250.5,449.9 252.0,441.6 253.5,430.8 255.0,422.7 256.5,420.1 258.0,422.4 259.5,425.9 261.0,426.2 262.5,420.8 264.0,410.9 265.5,400.4 267.0,393.6 268.5,393.5 270.0,397.9 271.5,398.7 273.0,391.1 274.5,377.6 276.0,366.1 277.5,363.0 279.0,367.1 280.5,369.6 282.0,363.0 283.5,349.5 285.0,338.3 286.5,335.6 288.0,337.7 289.5,341.1 291.0,341.8 292.5,337.1 294.0,327.5 295.5,316.7 297.0,308.8 298.5,306.8 300.0,311.1 301.5,316.2 303.0,316.0 304.5,308.6 306.0,297.7 307.5,289.4 309.0,288.1 310.5,292.9 312.0,297.4 313.5,295.4 315.0,286.1 316.5,274.5 318.0,267.5 319.5,267.6 321.0,271.9 322.5,275.0 324.0,272.7 325.5,264.7 327.0,254.7 328.5,248.3 330.0,248.2 331.5,252.6 333.0,256.9 334.5,256.5 336.0,250.9 337.5,243.8 339.0,239.4 340.5,241.0 342.0,248.2 343.5,254.7 345.0,255.1 346.5,249.4 348.0,243.0 349.5,241.8 351.0,247.2 352.5,253.4 354.0,253.9 355.5,247.8 357.0,241.2 358.5,243.1 360.0,253.2 361.5,265.1 363.0,271.6 364.5,270.3 366.0,265.2 367.5,261.6 369.0,263.4 370.5,271.2 372.0,281.6 373.5,290.4 375.0,295.9 376.5,297.2 378.0,296.7 379.5,297.9 381.0,303.2 382.5,313.3 384.0,324.7 385.5,332.4 387.0,335.7 388.5,336.6 390.0,338.9 391.5,344.9 393.0,353.9 394.5,363.0 396.0,369.5 397.5,372.9 399.0,375.3 400.5,381.1 402.0,390.4 403.5,400.2 405.0,409.3 406.5,416.4 408.0,420.9 409.5,423.2 411.0,425.6 412.5,430.3 414.0,438.5 415.5,449.3 417.0,459.6 418.5,465.3 420.0,467.1 421.5,468.2 423.0,471.6 424.5,478.8 426.0,488.3 427.5,497.1 429.0,503.0 430.5,506.1 432.0,508.2 433.5,511.5 435.0,517.0 436.5,524.3 438.0,531.7 439.5,537.8 441.0,541.4 442.5,543.1 444.0,546.2 445.5,552.1 447.0,560.2 448.5,568.4 450.0,574.3 451.5,577.2 453.0,578.4 454.5,580.2 456.0,584.5 457.5,591.1 459.0,598.2 460.5,603.7 462.0,606.4 463.5,607.3 465.0,608.5 466.5,612.1 468.0,618.2 469.5,625.4 471.0,631.3 472.5,634.8 474.0,636.0 475.5,636.9 477.0,639.3 478.5,644.2 480.0,650.4 481.5,655.9 483.0,659.0 484.5,659.5 486.0,659.1 487.5,659.9 489.0,662.8 490.5,667.2 492.0,671.1 493.5,672.9 495.0,672.2 496.5,670.2 498.0,669.1 499.5,670.2 501.0,673.3 502.5,676.6 504.0,678.4 505.5,678.4 507.0,677.9 508.5,678.3 510.0,680.6 511.5,684.4 513.0,689.1 514.5,692.8 516.0,693.2 517.5,691.4 519.0,690.0 520.5,690.4 522.0,692.7 523.5,695.3 525.0,696.3 526.5,694.7 528.0,691.3 529.5,688.1 531.0,687.3 532.5,689.4 534.0,692.9 535.5,695.4 537.0,695.0 538.5,692.0 540.0,687.9 541.5,685.0 543.0,684.5 544.5,686.0 546.0,687.9 547.5,688.2 549.0,686.5 550.5,683.7 552.0,681.8 553.5,681.3 555.0,681.4 556.5,681.6 558.0,681.5 559.5,680.6 561.0,679.0 562.5,678.0 564.0,678.5 565.5,679.7 567.0,680.1 568.5,679.0 570.0,676.6 571.5,674.0 573.0,672.1 574.5,672.2 576.0,674.5 577.5,677.7 579.0,679.9 580.5,679.9 582.0,678.3 583.5,676.4 585.0,675.9 586.5,677.4 588.0,680.1 589.5,682.4 591.0,682.7 592.5,681.2 594.0,679.2 595.5,678.1 597.0,679.0 598.5,681.3 600.0,683.5 601.5,684.0 603.0,682.6 604.5,680.4 606.0,678.9 607.5,679.3 609.0,681.4 610.5,683.8 612.0,685.1 613.5,684.7 615.0,683.5 616.5,682.9 618.0,684.2 619.5,687.3 621.0,691.0 622.5,693.8 624.0,695.0 625.5,695.0 627.0,695.3 628.5,697.2 630.0,700.9 631.5,705.7 633.0,710.0 634.5,712.8 636.0,714.1 637.5,715.3 639.0,717.7 640.5,721.9 642.0,727.2 643.5,732.2 645.0,735.5 646.5,737.1 648.0,738.1 649.5,739.9 651.0,743.2 652.5,747.6 654.0,751.9 655.5,754.6 657.0,755.4 658.5,755.3 660.0,755.6 661.5,757.2 663.0,760.1 664.5,763.1 666.0,764.8 667.5,764.8 669.0,763.6 670.5,762.6 672.0,763.0 673.5,764.8 675.0,767.1 676.5,768.3 678.0,767.9 679.5,766.3 681.0,764.6 682.5,763.8 684.0,764.2 685.5,764.9 687.0,764.8 688.5,763.2 690.0,760.2 691.5,757.1 693.0,754.9 694.5,753.9 696.0,753.4 697.5,752.3 699.0,749.4 700.5,744.6 702.0,738.6 703.5,731.9 705.0,725.4 706.5,719.3 708.0,712.8 709.5,705.7 711.0,697.9 712.5,689.6 714.0,682.3 715.5,677.7 717.0,675.9 718.5,674.8 720.0,673.9 721.5,673.3 723.0,672.8 724.5,673.4 726.0,675.9 727.5,679.9 729.0,687.0 730.5,695.8 732.0,704.2 733.5,711.0 735.0,715.6 736.5,718.0 738.0,720.8 739.5,723.8 741.0,726.1 742.5,727.1 744.0,727.0 745.5,726.7 747.0,727.1 748.5,728.7 750.0,730.8 751.5,732.7 753.0,733.5 754.5,733.2 756.0,732.5 757.5,732.5 759.0,733.5 760.5,735.3 762.0,737.0 763.5,737.9 765.0,737.9 766.5,737.6 768.0,737.7 769.5,739.0 771.0,741.1 772.5,743.4 774.0,745.0 775.5,745.7 777.0,745.9 778.5,746.3 780.0,747.5 781.5,749.4 783.0,751.5 784.5,753.2 786.0,753.9 787.5,754.1 789.0,754.4 790.5,755.3 792.0,757.1 793.5,759.1 795.0,760.9 796.5,762.0 798.0,762.5 799.5,763.0 801.0,764.1 802.5,765.9 804.0,768.2 805.5,770.4 807.0,772.0 808.5,773.0 810.0,773.8 811.5,775.0 813.0,776.7 814.5,778.7 816.0,780.6 817.5,781.9 819.0,782.6 820.5,783.0 822.0,783.6 823.5,784.7 825.0,786.2 826.5,787.7 828.0,788.8 829.5,789.4 831.0,789.8 832.5,790.2 834.0,791.0 835.5,792.2 837.0,793.3 838.5,794.2 840.0,794.6 841.5,794.8 843.0,795.0 844.5,795.5 846.0,796.2 847.5,797.0 849.0,797.6 850.5,797.8 852.0,797.7 853.5,797.6 855.0,797.6 856.5,797.7 858.0,797.9 859.5,797.9 861.0,797.5 862.5,796.8 864.0,796.1 865.5,795.3 867.0,794.6 868.5,793.9 870.0,793.1 871.5,792.3 873.0,791.3 874.5,790.4 876.0,789.6 877.5,788.9 879.0,788.1 880.5,787.3 882.0,786.5 883.5,785.6 885.0,784.8 886.5,783.9 888.0,782.9 889.5,781.9 891.0,780.8 892.5,779.7 894.0,778.5 895.5,777.3 897.0,775.9 898.5,774.3 900.0,772.5 901.5,770.7 903.0,768.8 904.5,766.9 906.0,765.1 907.5,763.2 909.0,761.4 910.5,759.3 912.0,756.9 913.5,753.9 915.0,750.3 916.5,745.2 918.0,738.6 919.5,731.0 921.0,722.4 922.5,712.4 924.0,701.5 925.5,689.9 927.0,677.6 928.5,665.1 930.0,656.2 931.5,650.9 933.0,647.1 934.5,645.4 936.0,645.9 937.5,648.0 939.0,651.1 940.5,654.9 942.0,660.6 943.5,667.7 945.0,675.2 946.5,681.8 948.0,687.8 949.5,693.4 951.0,698.8 952.5,703.9 954.0,708.8 955.5,713.7 957.0,718.3 958.5,722.6 960.0,726.5 961.5,730.0 963.0,733.3 964.5,736.3 966.0,739.2 967.5,741.8 969.0,744.3 970.5,746.5 972.0,748.7 973.5,750.8 975.0,752.7 976.5,754.5 978.0,756.1 979.5,757.5 981.0,758.7 982.5,759.9 984.0,760.8 985.5,761.4 987.0,761.3 988.5,760.9 990.0,760.3 991.5,759.5 993.0,758.5 994.5,757.4 996.0,756.1 997.5,754.6 999.0,752.8 1000.5,750.8 1002.0,748.5 1003.5,745.9 1005.0,743.1 1006.5,739.0 1008.0,733.6 1009.5,729.2 1011.0,727.9 1012.5,728.8 1014.0,730.8 1015.5,733.2 1017.0,735.4 1018.5,737.4 1020.0,739.5 1021.5,741.8 1023.0,743.9 1024.5,745.7 1026.0,747.1 1027.5,748.0 1029.0,748.6 1030.5,749.1 1032.0,749.5 1033.5,749.8 1035.0,749.9 1036.5,750.0 1038.0,750.1 1039.5,750.3 1041.0,750.5 1042.5,750.8 1044.0,751.3 1045.5,752.4 1047.0,754.0 1048.5,756.0 1050.0,758.4 1051.5,760.8 1053.0,763.2 1054.5,765.4 1056.0,767.4 1057.5,769.1 1059.0,770.6 1060.5,772.1 1062.0,773.5 1063.5,774.9 1065.0,776.4 1066.5,778.0 1068.0,779.6 1069.5,781.4 1071.0,783.1 1072.5,784.9 1074.0,786.5 1075.5,787.9 1077.0,789.2 1078.5,790.5 1080.0,791.6 1081.5,792.6 1083.0,793.2 1084.5,793.6 1086.0,793.4 1087.5,792.9 1089.0,792.2 1090.5,791.4 1092.0,790.6 1093.5,789.6 1095.0,788.4 1096.5,787.2 1098.0,785.8 1099.5,784.3 1101.0,782.8 1102.5,781.4 1104.0,780.0 1105.5,778.6 1107.0,777.2 1108.5,775.9 1110.0,774.4 1111.5,772.8 1113.0,771.1 1114.5,769.2 1116.0,767.1 1117.5,764.8 1119.0,762.2 1120.5,759.5 1122.0,756.6 1123.5,753.4 1125.0,749.8 1126.5,745.7 1128.0,741.4 1129.5,737.0 1131.0,732.6 1132.5,728.7 1134.0,725.4 1135.5,721.9 1137.0,720.2 1138.5,721.0 1140.0,723.0 1141.5,725.3 1143.0,728.6 1144.5,732.8 1146.0,737.4 1147.5,742.1 1149.0,746.5 1150.5,751.2 1152.0,756.2 1153.5,761.2 1155.0,765.9 1156.5,770.1 1158.0,773.7 1159.5,776.7 1161.0,779.7 1162.5,782.4 1164.0,784.8 1165.5,786.9 1167.0,788.5 1168.5,789.7 1170.0,790.6 1171.5,791.4 1173.0,792.1 1174.5,792.7 1176.0,793.3 1177.5,793.8 1179.0,794.3 1180.5,794.7 1182.0,795.2 1183.5,795.6 1185.0,796.1 1186.5,796.6 1188.0,797.1 1189.5,797.5 1191.0,798.0 1192.5,798.3 1194.0,798.6 1195.5,798.9 1197.0,799.0 1198.5,799.1 1200.0,799.0 1201.5,798.9 1203.0,798.7 1204.5,798.5 1206.0,798.3 1207.5,798.0 1209.0,797.8 1210.5,797.5 1212.0,797.2 1213.5,796.9 1215.0,796.6 1216.5,796.3 1218.0,796.0 1219.5,795.7 1221.0,795.4 1222.5,795.2 1224.0,794.9 1225.5,794.6 1227.0,794.4 1228.5,794.1 1230.0,793.8 1231.5,793.6 1233.0,793.2 1234.5,792.9 1236.0,792.6 1237.5,792.2 1239.0,791.9 1240.5,791.4 1242.0,791.0 1243.5,790.4 1245.0,789.8 1246.5,789.2 1248.0,788.4 1249.5,787.3 1251.0,785.9 1252.5,784.4 1254.0,782.7 1255.5,780.9 1257.0,779.2 1258.5,777.5 1260.0,775.8 1261.5,774.0 1263.0,772.1 1264.5,770.0 1266.0,767.8 1267.5,765.5 1269.0,762.9 1270.5,760.3 1272.0,757.6 1273.5,754.7 1275.0,751.8 1276.5,747.0 1278.0,740.3 1279.5,733.2 1281.0,725.7 1282.5,717.7 1284.0,709.3 1285.5,700.2 1287.0,694.6 1288.5,689.4 1290.0,684.2 1291.5,678.8 1293.0,673.2 1294.5,667.6 1296.0,661.9 1297.5,656.1 1299.0,649.7 1300.5,643.0 1302.0,636.1 1303.5,629.5 1305.0,623.2 1306.5,616.8 1308.0,610.6 1309.5,604.8 1311.0,599.2 1312.5,593.1 1314.0,587.9 1315.5,583.8 1317.0,580.8 1318.5,580.1 1320.0,580.7 1321.5,582.1 1323.0,584.8 1324.5,589.0 1326.0,595.4 1327.5,602.9 1329.0,610.8 1330.5,619.7 1332.0,629.2 1333.5,638.7 1335.0,648.7 1336.5,658.7 1338.0,668.0 1339.5,676.6 1341.0,684.9 1342.5,692.6 1344.0,699.5 1345.5,705.5 1347.0,711.0 1348.5,715.9 1350.0,720.3 1351.5,723.5 1353.0,726.2 1354.5,728.5 1356.0,730.6 1357.5,732.6 1359.0,734.5 1360.5,736.5 1362.0,738.8 1363.5,740.9 1365.0,742.9 1366.5,745.0 1368.0,747.1 1369.5,749.1 1371.0,751.0 1372.5,753.0 1374.0,755.1 1375.5,757.3 1377.0,759.6 1378.5,762.0 1380.0,764.6 1381.5,767.4 1383.0,770.5 1384.5,773.5 1386.0,776.5 1387.5,779.3 1389.0,781.8 1390.5,783.9 1392.0,785.9 1393.5,787.9 1395.0,789.7 1396.5,791.3 1398.0,792.7 1399.5,793.9 1401.0,794.7 1402.5,795.5 1404.0,796.3 1405.5,796.9 1407.0,797.4 1408.5,797.7 1410.0,798.0 1411.5,798.0 1413.0,797.9 1414.5,797.5 1416.0,796.9 1417.5,796.1 1419.0,795.0 1420.5,793.8 1422.0,792.5 1423.5,791.1 1425.0,789.2 1426.5,786.4 1428.0,783.1 1429.5,779.4 1431.0,775.4 1432.5,771.3 1434.0,767.2 1435.5,763.4 1437.0,759.4 1438.5,755.3 1440.0,751.0 1441.5,747.0 1443.0,743.2 1444.5,739.9 1446.0,737.1 1447.5,734.6 1449.0,732.5 1450.5,730.5 1452.0,728.4 1453.5,723.5 1455.0,718.2 1456.5,712.2 1458.0,704.9 1459.5,695.9 1461.0,685.9 1462.5,676.8 1464.0,668.4 1465.5,657.0 1467.0,642.1 1468.5,624.4 1470.0,603.0 1471.5,577.6 1473.0,548.6 1474.5,521.1 1476.0,493.9 1477.5,469.4 1479.0,450.1 1480.5,433.4 1482.0,419.5 1483.5,408.1 1485.0,398.0 1486.5,390.9 1488.0,387.5 1489.5,385.0 1491.0,383.6 1492.5,383.8 1494.0,385.7 1495.5,389.2 1497.0,396.0 1498.5,405.3 1500.0,419.0 1501.5,437.4 1503.0,456.9 1504.5,474.8 1506.0,492.8 1507.5,510.8 1509.0,528.0 1510.5,543.7 1512.0,557.9 1513.5,571.0 1515.0,583.3 1516.5,595.4 1518.0,607.5 1519.5,620.0 1521.0,633.1 1522.5,646.2 1524.0,659.1 1525.5,672.8 1527.0,687.3 1528.5,698.2 1530.0,706.4 1531.5,713.4 1533.0,719.7 1534.5,725.5 1536.0,728.9 1537.5,731.1 1539.0,733.4 1540.5,735.7 1542.0,737.6 1543.5,739.0 1545.0,740.2 1546.5,741.3 1548.0,742.3 1549.5,743.3 1551.0,744.2 1552.5,745.2 1554.0,746.2 1555.5,747.1 1557.0,748.1 1558.5,749.0 1560.0,749.9 1561.5,750.8 1563.0,751.6 1564.5,752.5 1566.0,753.3 1567.5,754.0 1569.0,754.8 1570.5,755.5 1572.0,756.2 1573.5,756.9 1575.0,757.6 1576.5,758.2 1578.0,758.9 1579.5,759.5 1581.0,760.1 1582.5,760.7 1584.0,761.3 1586.5,762.2"/>
<polyline stroke="#800000" points="187.5,593.8 189.0,575.0 190.5,550.6 192.0,531.4 193.5,528.8 195.0,541.1 196.5,558.1 198.0,567.9 199.5,563.5 201.0,546.8 202.5,528.1 204.0,518.5 205.5,520.5 207.0,529.7 208.5,537.8 210.0,536.6 211.5,525.5 213.0,510.3 214.5,499.1 216.0,496.8 217.5,503.8 219.0,512.3 220.5,513.7 222.0,505.3 223.5,492.4 225.0,483.6 226.5,485.2 228.0,494.7 229.5,496.8 231.0,486.1 232.5,473.5 234.0,470.4 235.5,473.1 237.0,477.0 238.5,477.6 240.0,472.1 241.5,461.8 243.0,451.1 244.5,444.6 246.0,444.0 247.5,447.2 249.0,449.6 250.5,446.9 252.0,438.5 253.5,427.8 255.0,419.6 256.5,417.1 258.0,419.4 259.5,422.9 261.0,423.2 262.5,417.9 264.0,408.0 265.5,397.5 267.0,390.7 268.5,390.7 270.0,395.1 271.5,395.9 273.0,388.3 274.5,374.8 276.0,363.3 277.5,360.2 279.0,364.3 280.5,366.8 282.0,360.3 283.5,346.7 285.0,335.6 286.5,332.9 288.0,335.0 289.5,338.5 291.0,339.2 292.5,334.5 294.0,325.0 295.5,314.2 297.0,306.4 298.5,304.7 300.0,309.3 301.5,314.7 303.0,314.9 304.5,307.9 306.0,297.3 307.5,289.4 309.0,288.4 310.5,293.6 312.0,298.5 313.5,296.9 315.0,288.0 316.5,276.9 318.0,270.3 319.5,270.8 321.0,275.5 322.5,278.8 324.0,276.7 325.5,268.8 327.0,259.0 328.5,252.7 330.0,252.7 331.5,257.2 333.0,261.5 334.5,261.0 336.0,255.4 337.5,248.2 339.0,243.8 340.5,245.3 342.0,252.4 343.5,258.9 345.0,259.3 346.5,253.7 348.0,247.5 349.5,246.6 351.0,252.3 352.5,258.7 354.0,259.5 355.5,253.5 357.0,246.9 358.5,249.2 360.0,259.8 361.5,272.2 363.0,278.7 364.5,277.1 366.0,271.7 367.5,268.0 369.0,269.9 370.5,278.1 372.0,289.1 373.5,298.3 375.0,304.1 376.5,305.5 378.0,304.9 379.5,305.8 381.0,310.8 382.5,320.3 384.0,331.0 385.5,338.3 387.0,341.2 388.5,341.8 390.0,343.8 391.5,349.5 393.0,358.3 394.5,367.3 396.0,373.7 397.5,377.1 399.0,379.6 400.5,385.7 402.0,395.4 403.5,405.6 405.0,415.3 406.5,422.9 408.0,427.2 409.5,429.0 411.0,430.6 412.5,434.6 414.0,442.3 415.5,453.0 417.0,463.5 418.5,469.2 420.0,470.6 421.5,471.3 423.0,474.4 424.5,481.5 426.0,490.9 427.5,499.7 429.0,505.6 430.5,508.7 432.0,510.9 433.5,514.2 435.0,519.5 436.5,526.6 438.0,534.2 439.5,541.0 441.0,545.4 442.5,547.6 444.0,551.0 445.5,557.1 447.0,565.3 448.5,573.4 450.0,579.2 451.5,581.8 453.0,582.8 454.5,584.4 456.0,588.5 457.5,594.9 459.0,601.9 460.5,607.3 462.0,610.1 463.5,611.0 465.0,612.4 466.5,616.1 468.0,622.4 469.5,629.7 471.0,635.7 472.5,639.1 474.0,640.4 475.5,641.2 477.0,643.6 478.5,648.3 480.0,654.5 481.5,659.8 483.0,662.7 484.5,663.0 486.0,662.4 487.5,662.8 489.0,665.5 490.5,669.7 492.0,673.5 493.5,675.2 495.0,674.3 496.5,672.2 498.0,671.0 499.5,672.0 501.0,675.0 502.5,678.3 504.0,680.2 505.5,680.2 507.0,679.7 508.5,679.8 510.0,681.7 511.5,685.6 513.0,690.3 514.5,694.0 516.0,694.5 517.5,692.8 519.0,691.6 520.5,692.3 522.0,694.9 523.5,697.7 525.0,698.6 526.5,696.9 528.0,693.2 529.5,689.9 531.0,689.0 532.5,691.0 534.0,694.5 535.5,697.0 537.0,696.7 538.5,693.7 540.0,689.8 541.5,687.0 543.0,686.5 544.5,688.0 546.0,689.8 547.5,690.1 549.0,688.3 550.5,685.6 552.0,683.6 553.5,683.2 555.0,683.4 556.5,683.8 558.0,684.0 559.5,683.3 561.0,681.8 562.5,680.6 564.0,680.8 565.5,681.7 567.0,682.1 568.5,681.2 570.0,679.1 571.5,676.8 573.0,675.1 574.5,675.4 576.0,677.6 577.5,680.6 579.0,682.8 580.5,682.8 582.0,681.2 583.5,679.3 585.0,678.8 586.5,680.4 588.0,683.2 589.5,685.5 591.0,686.0 592.5,684.6 594.0,682.6 595.5,681.6 597.0,682.5 598.5,684.8 600.0,687.0 601.5,687.5 603.0,686.2 604.5,684.1 606.0,682.8 607.5,683.4 609.0,685.6 610.5,688.1 612.0,689.3 613.5,688.9 615.0,687.7 616.5,687.0 618.0,688.3 619.5,691.3 621.0,695.0 622.5,697.9 624.0,699.2 625.5,699.4 627.0,700.0 628.5,702.1 630.0,706.0 631.5,710.9 633.0,715.3 634.5,718.1 636.0,719.5 637.5,720.7 639.0,723.1 640.5,727.2 642.0,732.4 643.5,737.3 645.0,740.5 646.5,742.0 648.0,742.8 649.5,744.4 651.0,747.5 652.5,751.7 654.0,755.8 655.5,758.3 657.0,759.0 658.5,758.7 660.0,758.8 661.5,760.2 663.0,762.9 664.5,765.8 666.0,767.3 667.5,767.1 669.0,765.8 670.5,764.8 672.0,765.1 673.5,766.8 675.0,769.0 676.5,770.1 678.0,769.6 679.5,767.9 681.0,766.1 682.5,765.3 684.0,765.7 685.5,766.5 687.0,766.6 688.5,765.2 690.0,762.3 691.5,759.3 693.0,757.2 694.5,756.4 696.0,756.1 697.5,755.1 699.0,752.6 700.5,748.3 702.0,743.0 703.5,737.0 705.0,731.3 706.5,725.8 708.0,720.0 709.5,713.5 711.0,705.6 712.5,696.6 714.0,688.5 715.5,683.3 717.0,681.0 718.5,679.4 720.0,677.8 721.5,676.6 723.0,675.7 724.5,675.7 726.0,677.4 727.5,680.8 729.0,687.7 730.5,696.5 732.0,704.9 733.5,711.7 735.0,716.3 736.5,718.8 738.0,721.8 739.5,725.0 741.0,727.4 742.5,728.6 744.0,728.6 745.5,728.4 747.0,728.9 748.5,730.5 750.0,732.7 751.5,734.6 753.0,735.4 754.5,735.2 756.0,734.5 757.5,734.5 759.0,735.5 760.5,737.3 762.0,739.1 763.5,740.1 765.0,740.1 766.5,739.8 768.0,740.0 769.5,741.4 771.0,743.6 772.5,746.0 774.0,747.7 775.5,748.6 777.0,748.9 778.5,749.4 780.0,750.6 781.5,752.7 783.0,754.9 784.5,756.6 786.0,757.5 787.5,757.7 789.0,758.1 790.5,759.1 792.0,760.8 793.5,763.0 795.0,764.8 796.5,765.9 798.0,766.4 799.5,766.9 801.0,768.0 802.5,769.9 804.0,772.2 805.5,774.4 807.0,776.0 808.5,777.0 810.0,777.8 811.5,779.0 813.0,780.7 814.5,782.8 816.0,784.7 817.5,786.0 819.0,786.7 820.5,787.1 822.0,787.7 823.5,788.8 825.0,790.2 826.5,791.7 828.0,792.7 829.5,793.2 831.0,793.5 832.5,793.8 834.0,794.4 835.5,795.4 837.0,796.4 838.5,797.0 840.0,797.3 841.5,797.3 843.0,797.3 844.5,797.6 846.0,798.2 847.5,798.8 849.0,799.3 850.5,799.4 852.0,799.3 853.5,799.1 855.0,799.1 856.5,799.2 858.0,799.3 859.5,799.2 861.0,798.7 862.5,798.0 864.0,797.1 865.5,796.3 867.0,795.5 868.5,794.7 870.0,793.9 871.5,792.9 873.0,792.0 874.5,791.0 876.0,790.1 877.5,789.3 879.0,788.4 880.5,787.5 882.0,786.6 883.5,785.7 885.0,784.7 886.5,783.7 888.0,782.6 889.5,781.4 891.0,780.2 892.5,778.9 894.0,777.5 895.5,776.1 897.0,774.6 898.5,772.9 900.0,771.1 901.5,769.1 903.0,767.2 904.5,765.1 906.0,763.2 907.5,761.3 909.0,759.5 910.5,757.5 912.0,755.1 913.5,752.2 915.0,748.6 916.5,743.4 918.0,736.8 919.5,729.4 921.0,721.3 922.5,711.9 924.0,701.6 925.5,691.1 927.0,679.7 928.5,667.3 930.0,658.6 931.5,653.5 933.0,649.4 934.5,647.2 936.0,647.4 937.5,649.1 939.0,651.8 940.5,654.9 942.0,660.0 943.5,666.7 945.0,673.8 946.5,680.1 948.0,685.9 949.5,691.7 951.0,697.4 952.5,702.8 954.0,708.1 955.5,713.4 957.0,718.4 958.5,723.1 960.0,727.3 961.5,730.9 963.0,734.4 964.5,737.6 966.0,740.5 967.5,743.3 969.0,745.9 970.5,748.3 972.0,750.6 973.5,752.8 975.0,754.9 976.5,756.8 978.0,758.6 979.5,760.1 981.0,761.4 982.5,762.8 984.0,763.9 985.5,764.5 987.0,764.5 988.5,764.0 990.0,763.3 991.5,762.3 993.0,761.2 994.5,760.0 996.0,758.8 997.5,757.2 999.0,755.4 1000.5,753.3 1002.0,751.0 1003.5,748.4 1005.0,745.7 1006.5,741.6 1008.0,736.2 1009.5,731.9 1011.0,730.8 1012.5,731.9 1014.0,734.0 1015.5,736.4 1017.0,738.5 1018.5,740.4 1020.0,742.5 1021.5,744.6 1023.0,746.6 1024.5,748.3 1026.0,749.5 1027.5,750.3 1029.0,750.7 1030.5,751.1 1032.0,751.4 1033.5,751.6 1035.0,751.8 1036.5,752.0 1038.0,752.2 1039.5,752.5 1041.0,752.9 1042.5,753.4 1044.0,754.0 1045.5,755.0 1047.0,756.5 1048.5,758.4 1050.0,760.6 1051.5,762.9 1053.0,765.2 1054.5,767.5 1056.0,769.5 1057.5,771.2 1059.0,772.8 1060.5,774.2 1062.0,775.7 1063.5,777.1 1065.0,778.5 1066.5,779.9 1068.0,781.4 1069.5,783.0 1071.0,784.6 1072.5,786.1 1074.0,787.4 1075.5,788.6 1077.0,789.5 1078.5,790.4 1080.0,791.3 1081.5,791.9 1083.0,792.2 1084.5,792.2 1086.0,791.8 1087.5,791.2 1089.0,790.3 1090.5,789.4 1092.0,788.5 1093.5,787.4 1095.0,786.2 1096.5,784.8 1098.0,783.4 1099.5,781.9 1101.0,780.4 1102.5,779.0 1104.0,777.6 1105.5,776.4 1107.0,775.1 1108.5,773.8 1110.0,772.5 1111.5,771.0 1113.0,769.4 1114.5,767.6 1116.0,765.6 1117.5,763.4 1119.0,761.1 1120.5,758.6 1122.0,755.9 1123.5,753.1 1125.0,749.9 1126.5,746.3 1128.0,742.4 1129.5,738.4 1131.0,734.4 1132.5,730.8 1134.0,727.5 1135.5,724.2 1137.0,722.8 1138.5,723.7 1140.0,725.7 1141.5,727.9 1143.0,730.9 1144.5,734.8 1146.0,739.1 1147.5,743.6 1149.0,747.9 1150.5,752.4 1152.0,757.2 1153.5,762.0 1155.0,766.6 1156.5,770.8 1158.0,774.3 1159.5,777.5 1161.0,780.4 1162.5,783.2 1164.0,785.6 1165.5,787.7 1167.0,789.3 1168.5,790.5 1170.0,791.4 1171.5,792.2 1173.0,792.9 1174.5,793.5 1176.0,794.1 1177.5,794.6 1179.0,795.1 1180.5,795.5 1182.0,796.0 1183.5,796.4 1185.0,796.9 1186.5,797.3 1188.0,797.7 1189.5,798.1 1191.0,798.5 1192.5,798.9 1194.0,799.2 1195.5,799.4 1197.0,799.5 1198.5,799.6 1200.0,799.5 1201.5,799.3 1203.0,799.1 1204.5,798.9 1206.0,798.6 1207.5,798.3 1209.0,798.0 1210.5,797.7 1212.0,797.4 1213.5,797.0 1215.0,796.7 1216.5,796.4 1218.0,796.1 1219.5,795.8 1221.0,795.5 1222.5,795.2 1224.0,794.9 1225.5,794.5 1227.0,794.2 1228.5,793.8 1230.0,793.4 1231.5,793.1 1233.0,792.6 1234.5,792.2 1236.0,791.8 1237.5,791.3 1239.0,790.8 1240.5,790.3 1242.0,789.7 1243.5,789.1 1245.0,788.4 1246.5,787.6 1248.0,786.7 1249.5,785.5 1251.0,784.2 1252.5,782.6 1254.0,780.9 1255.5,779.2 1257.0,777.6 1258.5,776.0 1260.0,774.3 1261.5,772.6 1263.0,770.9 1264.5,769.0 1266.0,767.1 1267.5,765.0 1269.0,762.8 1270.5,760.4 1272.0,758.0 1273.5,755.4 1275.0,752.8 1276.5,748.2 1278.0,741.8 1279.5,735.0 1281.0,727.7 1282.5,720.0 1284.0,711.6 1285.5,702.7 1287.0,697.2 1288.5,692.1 1290.0,686.8 1291.5,681.4 1293.0,675.8 1294.5,670.1 1296.0,664.2 1297.5,658.1 1299.0,651.5 1300.5,644.4 1302.0,637.2 1303.5,630.5 1305.0,624.3 1306.5,618.0 1308.0,612.1 1309.5,606.9 1311.0,602.2 1312.5,597.3 1314.0,593.2 1315.5,590.0 1317.0,588.0 1318.5,588.0 1320.0,589.1 1321.5,590.9 1323.0,593.8 1324.5,598.4 1326.0,604.7 1327.5,612.0 1329.0,619.4 1330.5,627.4 1332.0,635.9 1333.5,644.4 1335.0,653.2 1336.5,662.1 1338.0,670.4 1339.5,678.1 1341.0,685.7 1342.5,692.9 1344.0,699.3 1345.5,705.1 1347.0,710.3 1348.5,715.1 1350.0,719.4 1351.5,722.7 1353.0,725.5 1354.5,727.8 1356.0,730.0 1357.5,732.0 1359.0,734.0 1360.5,736.1 1362.0,738.4 1363.5,740.7 1365.0,742.9 1366.5,745.1 1368.0,747.3 1369.5,749.4 1371.0,751.5 1372.5,753.6 1374.0,755.7 1375.5,757.9 1377.0,760.2 1378.5,762.5 1380.0,765.1 1381.5,767.9 1383.0,770.9 1384.5,773.9 1386.0,776.8 1387.5,779.5 1389.0,781.9 1390.5,783.8 1392.0,785.7 1393.5,787.5 1395.0,789.1 1396.5,790.6 1398.0,791.8 1399.5,792.8 1401.0,793.5 1402.5,794.2 1404.0,794.9 1405.5,795.4 1407.0,795.9 1408.5,796.2 1410.0,796.4 1411.5,796.4 1413.0,796.3 1414.5,796.0 1416.0,795.4 1417.5,794.7 1419.0,793.8 1420.5,792.7 1422.0,791.6 1423.5,790.3 1425.0,788.5 1426.5,785.9 1428.0,782.8 1429.5,779.4 1431.0,775.7 1432.5,771.9 1434.0,768.2 1435.5,764.7 1437.0,761.0 1438.5,757.1 1440.0,753.1 1441.5,749.2 1443.0,745.4 1444.5,741.8 1446.0,738.5 1447.5,735.6 1449.0,733.1 1450.5,730.7 1452.0,728.3 1453.5,723.2 1455.0,717.8 1456.5,711.7 1458.0,704.4 1459.5,695.0 1461.0,684.8 1462.5,675.7 1464.0,667.4 1465.5,655.7 1467.0,640.5 1468.5,622.6 1470.0,600.9 1471.5,575.9 1473.0,547.9 1474.5,521.5 1476.0,495.8 1477.5,472.7 1479.0,454.4 1480.5,438.6 1482.0,425.5 1483.5,414.6 1485.0,404.9 1486.5,398.0 1488.0,394.7 1489.5,392.2 1491.0,390.7 1492.5,390.6 1494.0,392.2 1495.5,395.5 1497.0,401.5 1498.5,409.7 1500.0,423.0 1501.5,441.0 1503.0,460.1 1504.5,477.2 1506.0,494.4 1507.5,511.5 1509.0,528.0 1510.5,543.1 1512.0,556.8 1513.5,569.3 1515.0,581.1 1516.5,592.8 1518.0,604.5 1519.5,616.8 1521.0,630.3 1522.5,644.0 1524.0,657.5 1525.5,671.7 1527.0,686.4 1528.5,697.1 1530.0,704.7 1531.5,711.3 1533.0,717.2 1534.5,722.6 1536.0,725.6 1537.5,727.4 1539.0,729.0 1540.5,730.5 1542.0,731.9 1543.5,733.2 1545.0,734.5 1546.5,735.6 1548.0,736.7 1549.5,737.7 1551.0,738.7 1552.5,739.6 1554.0,740.5 1555.5,741.4 1557.0,742.3 1558.5,743.2 1560.0,744.1 1561.5,745.1 1563.0,746.0 1564.5,746.9 1566.0,747.7 1567.5,748.6 1569.0,749.4 1570.5,750.2 1572.0,751.0 1573.5,751.7 1575.0,752.5 1576.5,753.2 1578.0,753.8 1579.5,754.5 1581.0,755.2 1582.5,755.8 1584.0,756.4 1586.5,757.4"/>
<polyline stroke="#ff00ff" points="187.5,592.4 189.0,573.5 190.5,548.9 192.0,529.5 193.5,526.9 195.0,539.3 196.5,556.4 198.0,566.3 199.5,561.9 201.0,545.1 202.5,526.3 204.0,516.7 205.5,518.7 207.0,527.9 208.5,536.1 210.0,534.9 211.5,523.7 213.0,508.5 214.5,497.2 216.0,494.9 217.5,501.9 219.0,510.5 220.5,511.9 222.0,503.4 223.5,490.5 225.0,481.7 226.5,483.3 228.0,492.9 229.5,495.0 231.0,484.3 232.5,471.6 234.0,468.5 235.5,471.2 237.0,475.2 238.5,475.8 240.0,470.3 241.5,460.0 243.0,449.3 244.5,442.7 246.0,442.1 247.5,445.4 249.0,447.8 250.5,445.1 252.0,436.7 253.5,425.9 255.0,417.7 256.5,415.2 258.0,417.6 259.5,421.1 261.0,421.5 262.5,416.1 264.0,406.2 265.5,395.7 267.0,389.0 268.5,389.0 270.0,393.4 271.5,394.2 273.0,386.6 274.5,373.2 276.0,361.7 277.5,358.5 279.0,362.7 280.5,365.2 282.0,358.6 283.5,345.0 285.0,333.9 286.5,331.2 288.0,333.4 289.5,336.9 291.0,337.6 292.5,332.9 294.0,323.5 295.5,312.7 297.0,305.0 298.5,303.4 300.0,308.2 301.5,313.8 303.0,314.2 304.5,307.4 306.0,297.0 307.5,289.4 309.0,288.6 310.5,294.0 312.0,299.1 313.5,297.8 315.0,289.2 316.5,278.3 318.0,272.0 319.5,272.8 321.0,277.6 322.5,281.1 324.0,279.1 325.5,271.2 327.0,261.5 328.5,255.3 330.0,255.3 331.5,259.9 333.0,264.2 334.5,263.7 336.0,258.0 337.5,250.8 339.0,246.4 340.5,247.9 342.0,255.0 343.5,261.4 345.0,261.9 346.5,256.3 348.0,250.2 349.5,249.5 351.0,255.4 352.5,262.0 354.0,262.8 355.5,257.0 357.0,250.4 358.5,252.8 360.0,263.8 361.5,276.5 363.0,283.0 364.5,281.2 366.0,275.7 367.5,271.9 369.0,273.8 370.5,282.2 372.0,293.6 373.5,302.9 375.0,309.0 376.5,310.5 378.0,309.8 379.5,310.6 381.0,315.3 382.5,324.5 384.0,334.8 385.5,341.8 387.0,344.4 388.5,344.9 390.0,346.7 391.5,352.2 393.0,361.0 394.5,369.8 396.0,376.2 397.5,379.7 399.0,382.2 400.5,388.4 402.0,398.4 403.5,408.8 405.0,418.9 406.5,426.8 408.0,431.1 409.5,432.5 411.0,433.6 412.5,437.2 414.0,444.6 415.5,455.2 417.0,465.9 418.5,471.5 420.0,472.7 421.5,473.2 423.0,476.1 424.5,483.1 426.0,492.5 427.5,501.3 429.0,507.2 430.5,510.3 432.0,512.5 433.5,515.8 435.0,521.0 436.5,528.0 438.0,535.7 439.5,542.9 441.0,547.8 442.5,550.3 444.0,554.0 445.5,560.2 447.0,568.4 448.5,576.4 450.0,582.1 451.5,584.6 453.0,585.4 454.5,586.9 456.0,590.9 457.5,597.2 459.0,604.2 460.5,609.6 462.0,612.3 463.5,613.3 465.0,614.7 466.5,618.5 468.0,624.9 469.5,632.2 471.0,638.2 472.5,641.7 474.0,643.0 475.5,643.8 477.0,646.2 478.5,650.8 480.0,656.9 481.5,662.1 483.0,664.9 484.5,665.1 486.0,664.3 487.5,664.6 489.0,667.1 490.5,671.2 492.0,674.9 493.5,676.5 495.0,675.6 496.5,673.4 498.0,672.1 499.5,673.1 501.0,676.1 502.5,679.4 504.0,681.2 505.5,681.1 507.0,680.2 508.5,679.8 510.0,681.2 511.5,684.6 513.0,688.7 514.5,691.9 516.0,692.0 517.5,690.1 519.0,688.7 520.5,689.1 522.0,691.5 523.5,694.2 525.0,695.1 526.5,693.4 528.0,689.8 529.5,686.4 531.0,685.4 532.5,687.2 534.0,690.4 535.5,692.8 537.0,692.5 538.5,689.7 540.0,685.9 541.5,683.3 543.0,683.0 544.5,684.5 546.0,686.3 547.5,686.6 549.0,684.7 550.5,681.8 552.0,679.7 553.5,679.4 555.0,680.0 556.5,680.9 558.0,681.4 559.5,680.9 561.0,679.3 562.5,678.0 564.0,678.1 565.5,679.0 567.0,679.7 568.5,679.1 570.0,677.2 571.5,674.8 573.0,673.5 574.5,674.2 576.0,676.6 577.5,679.6 579.0,681.7 580.5,681.8 582.0,680.1 583.5,678.1 585.0,677.7 586.5,679.3 588.0,682.1 589.5,684.4 591.0,684.9 592.5,683.6 594.0,681.5 595.5,680.5 597.0,681.3 598.5,683.5 600.0,685.6 601.5,686.1 603.0,684.7 604.5,682.6 606.0,681.4 607.5,682.2 609.0,684.4 610.5,686.7 612.0,687.8 613.5,687.1 615.0,685.6 616.5,684.9 618.0,686.1 619.5,689.1 621.0,692.8 622.5,695.7 624.0,697.1 625.5,697.6 627.0,698.3 628.5,700.6 630.0,704.7 631.5,709.8 633.0,714.3 634.5,717.3 636.0,718.8 637.5,720.1 639.0,722.6 640.5,726.7 642.0,732.0 643.5,736.9 645.0,740.2 646.5,741.7 648.0,742.4 649.5,743.9 651.0,746.8 652.5,751.0 654.0,754.9 655.5,757.2 657.0,757.8 658.5,757.3 660.0,757.3 661.5,758.6 663.0,761.3 664.5,764.0 666.0,765.5 667.5,765.2 669.0,763.9 670.5,762.7 672.0,762.9 673.5,764.5 675.0,766.5 676.5,767.5 678.0,766.8 679.5,765.0 681.0,763.1 682.5,762.2 684.0,762.6 685.5,763.4 687.0,763.5 688.5,762.1 690.0,759.3 691.5,756.2 693.0,754.0 694.5,753.1 696.0,752.7 697.5,751.7 699.0,749.1 700.5,744.6 702.0,739.1 703.5,733.1 705.0,727.6 706.5,722.6 708.0,717.2 709.5,710.9 711.0,703.1 712.5,694.2 714.0,686.3 715.5,681.1 717.0,678.8 718.5,677.2 720.0,675.6 721.5,674.2 723.0,673.2 724.5,673.3 726.0,675.0 727.5,678.4 729.0,685.0 730.5,693.3 732.0,701.1 733.5,707.2 735.0,711.3 736.5,713.9 738.0,717.1 739.5,720.5 741.0,723.2 742.5,724.6 744.0,724.8 745.5,724.8 747.0,725.5 748.5,727.3 750.0,729.6 751.5,731.7 753.0,732.7 754.5,732.5 756.0,732.1 757.5,732.2 759.0,733.4 760.5,735.4 762.0,737.4 763.5,738.5 765.0,738.7 766.5,738.6 768.0,739.0 769.5,740.4 771.0,742.7 772.5,745.2 774.0,747.1 775.5,748.0 777.0,748.4 778.5,749.0 780.0,750.3 781.5,752.5 783.0,754.8 784.5,756.6 786.0,757.5 787.5,757.8 789.0,758.2 790.5,759.2 792.0,761.0 793.5,763.2 795.0,765.0 796.5,766.1 798.0,766.6 799.5,767.1 801.0,768.2 802.5,770.0 804.0,772.3 805.5,774.4 807.0,775.9 808.5,776.8 810.0,777.5 811.5,778.6 813.0,780.2 814.5,782.2 816.0,784.1 817.5,785.4 819.0,786.1 820.5,786.5 822.0,787.1 823.5,788.2 825.0,789.6 826.5,791.0 828.0,792.0 829.5,792.5 831.0,792.7 832.5,793.0 834.0,793.6 835.5,794.5 837.0,795.5 838.5,796.1 840.0,796.3 841.5,796.2 843.0,796.1 844.5,796.3 846.0,796.7 847.5,797.2 849.0,797.5 850.5,797.5 852.0,797.2 853.5,796.9 855.0,796.8 856.5,796.8 858.0,796.7 859.5,796.5 861.0,795.9 862.5,795.1 864.0,794.2 865.5,793.3 867.0,792.4 868.5,791.6 870.0,790.8 871.5,789.8 873.0,788.8 874.5,787.8 876.0,786.8 877.5,785.9 879.0,785.0 880.5,784.0 882.0,783.0 883.5,782.0 885.0,780.9 886.5,779.6 888.0,778.3 889.5,776.9 891.0,775.4 892.5,773.9 894.0,772.3 895.5,770.8 897.0,769.1 898.5,767.4 900.0,765.6 901.5,763.7 903.0,761.7 904.5,759.8 906.0,757.9 907.5,756.2 909.0,754.5 910.5,752.6 912.0,750.3 913.5,747.4 915.0,743.5 916.5,738.3 918.0,731.9 919.5,724.7 921.0,716.7 922.5,707.5 924.0,697.5 925.5,687.4 927.0,676.2 928.5,664.5 930.0,656.5 931.5,651.7 933.0,647.8 934.5,645.7 936.0,645.8 937.5,647.4 939.0,650.0 940.5,653.0 942.0,657.7 943.5,664.0 945.0,670.9 946.5,677.2 948.0,683.2 949.5,689.1 951.0,694.9 952.5,700.6 954.0,706.1 955.5,711.6 957.0,717.0 958.5,721.9 960.0,726.2 961.5,730.0 963.0,733.5 964.5,736.7 966.0,739.7 967.5,742.5 969.0,745.1 970.5,747.5 972.0,749.9 973.5,752.1 975.0,754.2 976.5,756.1 978.0,757.8 979.5,759.3 981.0,760.7 982.5,762.1 984.0,763.3 985.5,763.9 987.0,763.8 988.5,763.4 990.0,762.6 991.5,761.7 993.0,760.6 994.5,759.4 996.0,758.2 997.5,756.7 999.0,754.8 1000.5,752.7 1002.0,750.4 1003.5,747.9 1005.0,745.3 1006.5,741.5 1008.0,736.7 1009.5,732.8 1011.0,731.8 1012.5,732.9 1014.0,734.9 1015.5,737.2 1017.0,739.3 1018.5,741.2 1020.0,743.1 1021.5,745.1 1023.0,747.0 1024.5,748.6 1026.0,749.7 1027.5,750.4 1029.0,750.7 1030.5,750.9 1032.0,751.1 1033.5,751.2 1035.0,751.3 1036.5,751.5 1038.0,751.7 1039.5,752.0 1041.0,752.3 1042.5,752.8 1044.0,753.3 1045.5,754.2 1047.0,755.4 1048.5,757.0 1050.0,758.8 1051.5,760.7 1053.0,762.7 1054.5,764.5 1056.0,766.2 1057.5,767.7 1059.0,769.1 1060.5,770.4 1062.0,771.6 1063.5,772.9 1065.0,774.3 1066.5,775.6 1068.0,777.0 1069.5,778.5 1071.0,779.9 1072.5,781.1 1074.0,782.3 1075.5,783.3 1077.0,784.2 1078.5,785.0 1080.0,785.7 1081.5,786.2 1083.0,786.4 1084.5,786.4 1086.0,786.0 1087.5,785.4 1089.0,784.7 1090.5,784.0 1092.0,783.2 1093.5,782.3 1095.0,781.3 1096.5,780.2 1098.0,779.0 1099.5,777.8 1101.0,776.5 1102.5,775.4 1104.0,774.2 1105.5,773.1 1107.0,772.1 1108.5,771.0 1110.0,769.8 1111.5,768.5 1113.0,766.9 1114.5,765.1 1116.0,763.0 1117.5,760.7 1119.0,758.4 1120.5,755.9 1122.0,753.2 1123.5,750.4 1125.0,747.3 1126.5,743.9 1128.0,740.4 1129.5,736.7 1131.0,733.1 1132.5,729.9 1134.0,727.2 1135.5,724.7 1137.0,723.9 1138.5,725.2 1140.0,727.2 1141.5,729.6 1143.0,732.7 1144.5,736.8 1146.0,741.5 1147.5,746.2 1149.0,750.5 1150.5,755.0 1152.0,759.8 1153.5,764.5 1155.0,768.9 1156.5,772.9 1158.0,776.4 1159.5,779.4 1161.0,782.4 1162.5,785.0 1164.0,787.4 1165.5,789.4 1167.0,791.1 1168.5,792.4 1170.0,793.4 1171.5,794.3 1173.0,795.1 1174.5,795.7 1176.0,796.3 1177.5,796.9 1179.0,797.3 1180.5,797.6 1182.0,797.9 1183.5,798.2 1185.0,798.4 1186.5,798.6 1188.0,798.7 1189.5,798.9 1191.0,799.1 1192.5,799.2 1194.0,799.3 1195.5,799.3 1197.0,799.2 1198.5,799.1 1200.0,798.8 1201.5,798.4 1203.0,797.9 1204.5,797.5 1206.0,797.0 1207.5,796.4 1209.0,795.9 1210.5,795.4 1212.0,794.9 1213.5,794.4 1215.0,794.0 1216.5,793.5 1218.0,793.1 1219.5,792.6 1221.0,792.2 1222.5,791.8 1224.0,791.3 1225.5,790.8 1227.0,790.3 1228.5,789.9 1230.0,789.3 1231.5,788.8 1233.0,788.3 1234.5,787.8 1236.0,787.2 1237.5,786.6 1239.0,786.0 1240.5,785.4 1242.0,784.7 1243.5,784.0 1245.0,783.1 1246.5,782.3 1248.0,781.3 1249.5,780.1 1251.0,778.8 1252.5,777.3 1254.0,775.7 1255.5,774.1 1257.0,772.5 1258.5,770.9 1260.0,769.2 1261.5,767.6 1263.0,765.8 1264.5,764.0 1266.0,762.0 1267.5,760.0 1269.0,757.8 1270.5,755.5 1272.0,753.0 1273.5,750.4 1275.0,747.8 1276.5,743.7 1278.0,738.1 1279.5,732.2 1281.0,725.9 1282.5,719.1 1284.0,711.9 1285.5,704.0 1287.0,698.7 1288.5,693.6 1290.0,688.4 1291.5,683.0 1293.0,677.4 1294.5,671.5 1296.0,665.5 1297.5,659.3 1299.0,652.6 1300.5,645.2 1302.0,637.9 1303.5,631.2 1305.0,625.0 1306.5,618.8 1308.0,613.0 1309.5,608.1 1311.0,604.0 1312.5,599.9 1314.0,596.4 1315.5,593.8 1317.0,592.3 1318.5,592.7 1320.0,594.1 1321.5,596.2 1323.0,599.2 1324.5,604.0 1326.0,610.4 1327.5,617.5 1329.0,624.5 1330.5,632.0 1332.0,639.9 1333.5,647.8 1335.0,656.0 1336.5,664.1 1338.0,671.8 1339.5,679.1 1341.0,686.2 1342.5,693.0 1344.0,699.2 1345.5,704.8 1347.0,709.9 1348.5,714.7 1350.0,719.0 1351.5,722.4 1353.0,725.3 1354.5,727.9 1356.0,730.2 1357.5,732.5 1359.0,734.5 1360.5,736.7 1362.0,738.9 1363.5,741.0 1365.0,743.0 1366.5,745.0 1368.0,746.9 1369.5,748.7 1371.0,750.6 1372.5,752.4 1374.0,754.3 1375.5,756.3 1377.0,758.3 1378.5,760.4 1380.0,762.6 1381.5,765.0 1383.0,767.6 1384.5,770.1 1386.0,772.7 1387.5,775.0 1389.0,777.2 1390.5,779.0 1392.0,780.7 1393.5,782.2 1395.0,783.6 1396.5,784.9 1398.0,786.0 1399.5,786.9 1401.0,787.6 1402.5,788.2 1404.0,788.7 1405.5,789.2 1407.0,789.5 1408.5,789.7 1410.0,789.7 1411.5,789.6 1413.0,789.3 1414.5,788.9 1416.0,788.3 1417.5,787.6 1419.0,786.6 1420.5,785.5 1422.0,784.1 1423.5,782.7 1425.0,780.8 1426.5,778.4 1428.0,775.6 1429.5,772.4 1431.0,769.1 1432.5,765.7 1434.0,762.3 1435.5,759.0 1437.0,755.6 1438.5,752.0 1440.0,748.3 1441.5,744.7 1443.0,741.2 1444.5,737.8 1446.0,734.6 1447.5,731.8 1449.0,729.1 1450.5,726.5 1452.0,723.9 1453.5,719.4 1455.0,714.5 1456.5,709.0 1458.0,702.3 1459.5,693.3 1461.0,683.6 1462.5,675.0 1464.0,666.8 1465.5,655.0 1467.0,639.6 1468.5,621.6 1470.0,599.7 1471.5,574.9 1473.0,547.5 1474.5,521.7 1476.0,496.9 1477.5,474.7 1479.0,457.0 1480.5,441.8 1482.0,429.2 1483.5,418.5 1485.0,409.0 1486.5,402.3 1488.0,399.0 1489.5,396.6 1491.0,395.0 1492.5,394.7 1494.0,396.1 1495.5,399.2 1497.0,404.8 1498.5,412.4 1500.0,425.4 1501.5,443.2 1503.0,461.9 1504.5,478.7 1506.0,495.3 1507.5,512.0 1509.0,528.0 1510.5,542.8 1512.0,556.1 1513.5,568.3 1515.0,579.8 1516.5,591.2 1518.0,602.7 1519.5,615.0 1521.0,628.6 1522.5,642.7 1524.0,656.6 1525.5,670.6 1527.0,684.3 1528.5,694.1 1530.0,700.6 1531.5,706.1 1533.0,711.1 1534.5,715.7 1536.0,718.3 1537.5,720.0 1539.0,721.5 1540.5,722.9 1542.0,724.2 1543.5,725.4 1545.0,726.5 1546.5,727.6 1548.0,728.5 1549.5,729.4 1551.0,730.3 1552.5,731.1 1554.0,731.9 1555.5,732.7 1557.0,733.6 1558.5,734.4 1560.0,735.3 1561.5,736.3 1563.0,737.3 1564.5,738.2 1566.0,739.2 1567.5,740.1 1569.0,741.0 1570.5,741.9 1572.0,742.7 1573.5,743.4 1575.0,744.1 1576.5,744.8 1578.0,745.5 1579.5,746.2 1581.0,746.8 1582.5,747.4 1584.0,748.0 1586.5,748.9"/>
<polyline stroke="#ff80ff" points="187.5,590.5 189.0,571.4 190.5,546.6 192.0,527.0 193.5,524.4 195.0,537.0 196.5,554.2 198.0,564.2 199.5,559.8 201.0,542.9 202.5,524.0 204.0,514.3 205.5,516.3 207.0,525.6 208.5,533.9 210.0,532.7 211.5,521.4 213.0,506.0 214.5,494.7 216.0,492.3 217.5,499.4 219.0,508.0 220.5,509.4 222.0,500.9 223.5,487.9 225.0,479.0 226.5,480.7 228.0,490.4 229.5,492.6 231.0,481.8 232.5,469.1 234.0,466.0 235.5,468.8 237.0,472.8 238.5,473.4 240.0,467.9 241.5,457.6 243.0,446.8 244.5,440.2 246.0,439.6 247.5,442.9 249.0,445.4 250.5,442.7 252.0,434.3 253.5,423.5 255.0,415.3 256.5,412.8 258.0,415.2 259.5,418.8 261.0,419.1 262.5,413.8 264.0,403.9 265.5,393.4 267.0,386.6 268.5,386.7 270.0,391.1 271.5,392.0 273.0,384.4 274.5,370.9 276.0,359.4 277.5,356.2 279.0,360.5 280.5,363.0 282.0,356.4 283.5,342.8 285.0,331.7 286.5,329.1 288.0,331.3 289.5,334.8 291.0,335.5 292.5,330.8 294.0,321.4 295.5,310.7 297.0,303.1 298.5,301.7 300.0,306.7 301.5,312.6 303.0,313.3 304.5,306.8 306.0,296.7 307.5,289.3 309.0,288.9 310.5,294.5 312.0,299.9 313.5,299.0 315.0,290.7 316.5,280.3 318.0,274.3 319.5,275.4 321.0,280.5 322.5,284.2 324.0,282.3 325.5,274.5 327.0,264.9 328.5,258.8 330.0,258.9 331.5,263.5 333.0,267.9 334.5,267.3 336.0,261.6 337.5,254.4 339.0,249.9 340.5,251.4 342.0,258.4 343.5,264.8 345.0,265.3 346.5,259.8 348.0,253.8 349.5,253.4 351.0,259.5 352.5,266.3 354.0,267.3 355.5,261.5 357.0,255.0 358.5,257.6 360.0,269.2 361.5,282.3 363.0,288.7 364.5,286.6 366.0,280.9 367.5,277.0 369.0,278.9 370.5,287.8 372.0,299.5 373.5,309.2 375.0,315.5 376.5,317.1 378.0,316.4 379.5,317.0 381.0,321.4 382.5,330.1 384.0,339.8 385.5,346.5 387.0,348.8 388.5,349.0 390.0,350.5 391.5,355.9 393.0,364.5 394.5,373.2 396.0,379.6 397.5,383.0 399.0,385.6 400.5,392.0 402.0,402.3 403.5,413.2 405.0,423.8 406.5,431.9 408.0,436.2 409.5,437.1 411.0,437.7 412.5,440.7 414.0,447.6 415.5,458.2 417.0,469.0 418.5,474.6 420.0,475.6 421.5,475.7 423.0,478.4 424.5,485.2 426.0,494.6 427.5,503.4 429.0,509.3 430.5,512.4 432.0,514.6 433.5,517.9 435.0,523.0 436.5,529.9 438.0,537.7 439.5,545.5 441.0,551.0 442.5,554.0 444.0,557.9 445.5,564.2 447.0,572.5 448.5,580.5 450.0,586.0 451.5,588.4 453.0,589.0 454.5,590.2 456.0,594.0 457.5,600.3 459.0,607.1 460.5,612.5 462.0,615.3 463.5,616.3 465.0,617.8 466.5,621.8 468.0,628.2 469.5,635.6 471.0,641.7 472.5,645.2 474.0,646.5 475.5,647.3 477.0,649.6 478.5,654.2 480.0,660.1 481.5,665.3 483.0,667.9 484.5,668.0 486.0,666.9 487.5,666.9 489.0,669.3 490.5,673.2 492.0,676.8 493.5,678.3 495.0,677.2 496.5,675.0 498.0,673.6 499.5,674.6 501.0,677.5 502.5,680.8 504.0,682.6 505.5,682.4 507.0,681.0 508.5,679.9 510.0,680.6 511.5,683.3 513.0,686.7 514.5,689.0 516.0,688.6 517.5,686.5 519.0,684.8 520.5,684.9 522.0,687.1 523.5,689.6 525.0,690.5 526.5,688.8 528.0,685.2 529.5,681.8 531.0,680.6 532.5,682.1 534.0,685.0 535.5,687.1 537.0,686.9 538.5,684.3 540.0,680.8 541.5,678.4 543.0,678.3 544.5,679.9 546.0,681.7 547.5,681.8 549.0,679.7 550.5,676.7 552.0,674.5 553.5,674.3 555.0,675.5 556.5,677.0 558.0,677.9 559.5,677.6 561.0,676.1 562.5,674.6 564.0,674.4 565.5,675.4 567.0,676.4 568.5,676.2 570.0,674.5 571.5,672.2 573.0,671.3 574.5,672.6 576.0,675.3 577.5,678.3 579.0,680.4 580.5,680.3 582.0,678.6 583.5,676.6 585.0,676.1 586.5,677.7 588.0,680.6 589.5,683.0 591.0,683.5 592.5,682.2 594.0,680.1 595.5,679.0 597.0,679.8 598.5,681.9 600.0,683.8 601.5,684.2 603.0,682.7 604.5,680.7 606.0,679.6 607.5,680.5 609.0,682.8 610.5,684.9 612.0,685.7 613.5,684.7 615.0,682.9 616.5,682.0 618.0,683.1 619.5,686.2 621.0,689.9 622.5,692.8 624.0,694.4 625.5,695.1 627.0,696.1 628.5,698.7 630.0,703.0 631.5,708.4 633.0,713.1 634.5,716.2 636.0,717.9 637.5,719.3 639.0,721.8 640.5,726.1 642.0,731.5 643.5,736.5 645.0,739.7 646.5,741.2 648.0,741.9 649.5,743.2 651.0,746.0 652.5,749.9 654.0,753.6 655.5,755.8 657.0,756.1 658.5,755.5 660.0,755.3 661.5,756.5 663.0,759.0 664.5,761.7 666.0,763.1 667.5,762.7 669.0,761.2 670.5,760.0 672.0,760.1 673.5,761.4 675.0,763.1 676.5,763.9 678.0,763.1 679.5,761.1 681.0,759.0 682.5,758.0 684.0,758.4 685.5,759.3 687.0,759.4 688.5,758.0 690.0,755.2 691.5,752.0 693.0,749.7 694.5,748.7 696.0,748.2 697.5,747.1 699.0,744.5 700.5,739.7 702.0,733.8 703.5,727.8 705.0,722.7 706.5,718.2 708.0,713.3 709.5,707.4 711.0,699.8 712.5,691.1 714.0,683.3 715.5,678.2 717.0,675.9 718.5,674.3 720.0,672.6 721.5,671.0 723.0,670.0 724.5,670.1 726.0,671.8 727.5,675.1 729.0,681.4 730.5,689.0 732.0,695.9 733.5,701.1 735.0,704.5 736.5,707.3 738.0,710.9 739.5,714.6 741.0,717.6 742.5,719.3 744.0,719.8 745.5,720.0 747.0,721.0 748.5,723.0 750.0,725.6 751.5,727.9 753.0,729.0 754.5,729.1 756.0,728.8 757.5,729.1 759.0,730.5 760.5,732.8 762.0,735.0 763.5,736.4 765.0,736.9 766.5,737.0 768.0,737.5 769.5,739.1 771.0,741.6 772.5,744.2 774.0,746.1 775.5,747.2 777.0,747.7 778.5,748.4 780.0,749.9 781.5,752.2 783.0,754.6 784.5,756.5 786.0,757.5 787.5,757.9 789.0,758.3 790.5,759.4 792.0,761.3 793.5,763.5 795.0,765.3 796.5,766.4 798.0,767.0 799.5,767.4 801.0,768.5 802.5,770.2 804.0,772.4 805.5,774.3 807.0,775.7 808.5,776.5 810.0,777.1 811.5,778.0 813.0,779.5 814.5,781.4 816.0,783.2 817.5,784.5 819.0,785.3 820.5,785.7 822.0,786.3 823.5,787.4 825.0,788.8 826.5,790.1 828.0,791.0 829.5,791.5 831.0,791.6 832.5,791.9 834.0,792.5 835.5,793.4 837.0,794.3 838.5,794.9 840.0,795.0 841.5,794.8 843.0,794.5 844.5,794.5 846.0,794.8 847.5,795.1 849.0,795.2 850.5,794.9 852.0,794.5 853.5,794.0 855.0,793.7 856.5,793.5 858.0,793.3 859.5,792.9 861.0,792.2 862.5,791.3 864.0,790.3 865.5,789.3 867.0,788.4 868.5,787.5 870.0,786.6 871.5,785.6 873.0,784.6 874.5,783.5 876.0,782.5 877.5,781.5 879.0,780.5 880.5,779.4 882.0,778.2 883.5,777.0 885.0,775.7 886.5,774.2 888.0,772.6 889.5,770.9 891.0,769.0 892.5,767.2 894.0,765.4 895.5,763.6 897.0,761.9 898.5,760.1 900.0,758.2 901.5,756.4 903.0,754.5 904.5,752.7 906.0,750.9 907.5,749.3 909.0,747.8 910.5,746.1 912.0,744.0 913.5,740.9 915.0,736.8 916.5,731.5 918.0,725.3 919.5,718.4 921.0,710.5 922.5,701.6 924.0,692.1 925.5,682.5 927.0,671.6 928.5,660.8 930.0,653.7 931.5,649.3 933.0,645.7 934.5,643.7 936.0,643.7 937.5,645.2 939.0,647.6 940.5,650.5 942.0,654.6 943.5,660.4 945.0,667.0 946.5,673.4 948.0,679.5 949.5,685.5 951.0,691.7 952.5,697.7 954.0,703.5 955.5,709.3 957.0,715.0 958.5,720.3 960.0,724.8 961.5,728.7 963.0,732.3 964.5,735.6 966.0,738.6 967.5,741.5 969.0,744.1 970.5,746.5 972.0,748.9 973.5,751.1 975.0,753.2 976.5,755.1 978.0,756.8 979.5,758.3 981.0,759.8 982.5,761.3 984.0,762.4 985.5,763.0 987.0,763.0 988.5,762.5 990.0,761.8 991.5,760.9 993.0,759.8 994.5,758.7 996.0,757.5 997.5,755.9 999.0,754.1 1000.5,751.9 1002.0,749.6 1003.5,747.2 1005.0,744.7 1006.5,741.4 1008.0,737.3 1009.5,734.1 1011.0,733.3 1012.5,734.3 1014.0,736.1 1015.5,738.4 1017.0,740.4 1018.5,742.1 1020.0,743.9 1021.5,745.7 1023.0,747.5 1024.5,748.9 1026.0,750.0 1027.5,750.5 1029.0,750.6 1030.5,750.7 1032.0,750.7 1033.5,750.7 1035.0,750.8 1036.5,750.8 1038.0,751.0 1039.5,751.2 1041.0,751.6 1042.5,752.0 1044.0,752.4 1045.5,753.1 1047.0,754.0 1048.5,755.2 1050.0,756.5 1051.5,757.9 1053.0,759.2 1054.5,760.6 1056.0,761.8 1057.5,763.0 1059.0,764.1 1060.5,765.2 1062.0,766.3 1063.5,767.4 1065.0,768.7 1066.5,769.9 1068.0,771.2 1069.5,772.4 1071.0,773.5 1072.5,774.6 1074.0,775.5 1075.5,776.4 1077.0,777.1 1078.5,777.8 1080.0,778.2 1081.5,778.5 1083.0,778.6 1084.5,778.5 1086.0,778.3 1087.5,777.8 1089.0,777.3 1090.5,776.7 1092.0,776.2 1093.5,775.6 1095.0,774.8 1096.5,774.0 1098.0,773.2 1099.5,772.3 1101.0,771.4 1102.5,770.5 1104.0,769.7 1105.5,768.9 1107.0,768.0 1108.5,767.2 1110.0,766.2 1111.5,765.1 1113.0,763.6 1114.5,761.7 1116.0,759.6 1117.5,757.2 1119.0,754.8 1120.5,752.3 1122.0,749.6 1123.5,746.8 1125.0,743.8 1126.5,740.7 1128.0,737.7 1129.5,734.5 1131.0,731.4 1132.5,728.7 1134.0,726.7 1135.5,725.4 1137.0,725.5 1138.5,727.1 1140.0,729.3 1141.5,731.9 1143.0,735.1 1144.5,739.5 1146.0,744.5 1147.5,749.5 1149.0,754.0 1150.5,758.6 1152.0,763.2 1153.5,767.7 1155.0,772.0 1156.5,775.7 1158.0,779.1 1159.5,782.1 1161.0,784.9 1162.5,787.5 1164.0,789.8 1165.5,791.8 1167.0,793.5 1168.5,794.9 1170.0,796.1 1171.5,797.1 1173.0,797.9 1174.5,798.6 1176.0,799.3 1177.5,799.8 1179.0,800.2 1180.5,800.5 1182.0,800.5 1183.5,800.5 1185.0,800.4 1186.5,800.2 1188.0,800.1 1189.5,799.9 1191.0,799.8 1192.5,799.6 1194.0,799.4 1195.5,799.1 1197.0,798.8 1198.5,798.3 1200.0,797.8 1201.5,797.1 1203.0,796.4 1204.5,795.6 1206.0,794.8 1207.5,793.9 1209.0,793.1 1210.5,792.3 1212.0,791.6 1213.5,790.9 1215.0,790.3 1216.5,789.6 1218.0,789.0 1219.5,788.4 1221.0,787.8 1222.5,787.2 1224.0,786.5 1225.5,785.9 1227.0,785.2 1228.5,784.6 1230.0,783.9 1231.5,783.2 1233.0,782.5 1234.5,781.8 1236.0,781.1 1237.5,780.4 1239.0,779.6 1240.5,778.9 1242.0,778.0 1243.5,777.1 1245.0,776.2 1246.5,775.2 1248.0,774.1 1249.5,773.0 1251.0,771.6 1252.5,770.2 1254.0,768.7 1255.5,767.2 1257.0,765.6 1258.5,764.1 1260.0,762.5 1261.5,760.8 1263.0,759.1 1264.5,757.2 1266.0,755.3 1267.5,753.3 1269.0,751.1 1270.5,748.8 1272.0,746.4 1273.5,743.8 1275.0,741.1 1276.5,737.6 1278.0,733.1 1279.5,728.4 1281.0,723.4 1282.5,718.0 1284.0,712.1 1285.5,705.8 1287.0,700.7 1288.5,695.7 1290.0,690.6 1291.5,685.1 1293.0,679.4 1294.5,673.5 1296.0,667.3 1297.5,661.0 1299.0,654.0 1300.5,646.4 1302.0,638.8 1303.5,632.0 1305.0,625.8 1306.5,619.7 1308.0,614.2 1309.5,609.8 1311.0,606.5 1312.5,603.2 1314.0,600.6 1315.5,598.8 1317.0,598.1 1318.5,599.0 1320.0,600.8 1321.5,603.2 1323.0,606.5 1324.5,611.5 1326.0,617.8 1327.5,624.8 1329.0,631.4 1330.5,638.2 1332.0,645.3 1333.5,652.4 1335.0,659.6 1336.5,666.8 1338.0,673.6 1339.5,680.3 1341.0,686.9 1342.5,693.2 1344.0,699.1 1345.5,704.5 1347.0,709.4 1348.5,714.0 1350.0,718.3 1351.5,722.0 1353.0,725.2 1354.5,727.9 1356.0,730.6 1357.5,733.0 1359.0,735.3 1360.5,737.4 1362.0,739.6 1363.5,741.5 1365.0,743.2 1366.5,744.8 1368.0,746.3 1369.5,747.8 1371.0,749.3 1372.5,750.8 1374.0,752.4 1375.5,754.1 1377.0,755.7 1378.5,757.4 1380.0,759.3 1381.5,761.2 1383.0,763.1 1384.5,765.2 1386.0,767.2 1387.5,769.1 1389.0,770.9 1390.5,772.5 1392.0,773.9 1393.5,775.2 1395.0,776.3 1396.5,777.3 1398.0,778.2 1399.5,779.0 1401.0,779.6 1402.5,780.1 1404.0,780.5 1405.5,780.8 1407.0,780.9 1408.5,780.9 1410.0,780.8 1411.5,780.5 1413.0,780.1 1414.5,779.5 1416.0,778.9 1417.5,778.1 1419.0,777.1 1420.5,775.8 1422.0,774.3 1423.5,772.6 1425.0,770.7 1426.5,768.4 1428.0,765.8 1429.5,763.2 1431.0,760.3 1432.5,757.4 1434.0,754.4 1435.5,751.4 1437.0,748.3 1438.5,745.2 1440.0,742.0 1441.5,738.8 1443.0,735.6 1444.5,732.5 1446.0,729.5 1447.5,726.6 1449.0,723.8 1450.5,721.0 1452.0,718.2 1453.5,714.3 1455.0,710.2 1456.5,705.4 1458.0,699.4 1459.5,691.1 1461.0,682.0 1462.5,674.1 1464.0,666.0 1465.5,654.0 1467.0,638.4 1468.5,620.3 1470.0,598.1 1471.5,573.5 1473.0,546.9 1474.5,522.0 1476.0,498.4 1477.5,477.3 1479.0,460.4 1480.5,445.9 1482.0,434.0 1483.5,423.7 1485.0,414.5 1486.5,408.1 1488.0,404.8 1489.5,402.3 1491.0,400.7 1492.5,400.2 1494.0,401.3 1495.5,404.3 1497.0,409.2 1498.5,415.9 1500.0,428.5 1501.5,446.1 1503.0,464.4 1504.5,480.6 1506.0,496.6 1507.5,512.6 1509.0,528.0 1510.5,542.3 1512.0,555.2 1513.5,566.9 1515.0,578.1 1516.5,589.0 1518.0,600.2 1519.5,612.5 1521.0,626.4 1522.5,641.0 1524.0,655.4 1525.5,669.2 1527.0,681.6 1528.5,690.0 1530.0,695.0 1531.5,699.3 1533.0,703.0 1534.5,706.4 1536.0,708.6 1537.5,710.1 1539.0,711.5 1540.5,712.7 1542.0,713.9 1543.5,715.0 1545.0,715.9 1546.5,716.8 1548.0,717.6 1549.5,718.3 1551.0,719.0 1552.5,719.7 1554.0,720.4 1555.5,721.1 1557.0,721.9 1558.5,722.7 1560.0,723.6 1561.5,724.6 1563.0,725.7 1564.5,726.7 1566.0,727.8 1567.5,728.9 1569.0,729.8 1570.5,730.8 1572.0,731.6 1573.5,732.3 1575.0,733.0 1576.5,733.8 1578.0,734.4 1579.5,735.1 1581.0,735.7 1582.5,736.3 1584.0,736.8 1586.5,737.6"/>
<polyline stroke="#ff0080" points="187.5,588.2 189.0,568.8 190.5,543.7 192.0,523.9 193.5,521.2 195.0,534.0 196.5,551.5 198.0,561.6 199.5,557.2 201.0,540.2 202.5,521.1 204.0,511.3 205.5,513.3 207.0,522.8 208.5,531.1 210.0,529.9 211.5,518.5 213.0,503.0 214.5,491.5 216.0,489.1 217.5,496.2 219.0,504.9 220.5,506.3 222.0,497.7 223.5,484.7 225.0,475.8 226.5,477.5 228.0,487.3 229.5,489.5 231.0,478.7 232.5,465.9 234.0,462.9 235.5,465.7 237.0,469.7 238.5,470.4 240.0,464.9 241.5,454.5 243.0,443.7 244.5,437.1 246.0,436.5 247.5,439.9 249.0,442.3 250.5,439.7 252.0,431.2 253.5,420.4 255.0,412.2 256.5,409.7 258.0,412.2 259.5,415.8 261.0,416.2 262.5,410.9 264.0,401.0 265.5,390.5 267.0,383.8 268.5,383.9 270.0,388.3 271.5,389.3 273.0,381.7 274.5,368.1 276.0,356.6 277.5,353.4 279.0,357.7 280.5,360.2 282.0,353.7 283.5,340.1 285.0,329.0 286.5,326.3 288.0,328.6 289.5,332.2 291.0,332.9 292.5,328.2 294.0,318.9 295.5,308.3 297.0,300.8 298.5,299.6 300.0,304.9 301.5,311.1 303.0,312.1 304.5,306.0 306.0,296.3 307.5,289.3 309.0,289.2 310.5,295.2 312.0,301.0 313.5,300.5 315.0,292.7 316.5,282.7 318.0,277.2 319.5,278.6 321.0,284.0 322.5,288.0 324.0,286.3 325.5,278.6 327.0,269.2 328.5,263.2 330.0,263.4 331.5,268.1 333.0,272.4 334.5,271.8 336.0,266.0 337.5,258.8 339.0,254.3 340.5,255.7 342.0,262.7 343.5,269.0 345.0,269.5 346.5,264.1 348.0,258.3 349.5,258.2 351.0,264.6 352.5,271.6 354.0,272.9 355.5,267.3 357.0,260.7 358.5,263.7 360.0,275.9 361.5,289.5 363.0,295.9 364.5,293.3 366.0,287.5 367.5,283.5 369.0,285.4 370.5,294.7 372.0,307.0 373.5,317.0 375.0,323.7 376.5,325.4 378.0,324.6 379.5,324.9 381.0,329.0 382.5,337.1 384.0,346.2 385.5,352.3 387.0,354.3 388.5,354.1 390.0,355.4 391.5,360.5 393.0,368.9 394.5,377.5 396.0,383.7 397.5,387.2 399.0,389.9 400.5,396.6 402.0,407.2 403.5,418.6 405.0,429.8 406.5,438.4 408.0,442.5 409.5,442.9 411.0,442.7 412.5,445.1 414.0,451.4 415.5,461.8 417.0,472.9 418.5,478.4 420.0,479.1 421.5,478.9 423.0,481.2 424.5,487.9 426.0,497.2 427.5,506.0 429.0,511.9 430.5,515.1 432.0,517.3 433.5,520.5 435.0,525.5 436.5,532.2 438.0,540.2 439.5,548.7 441.0,555.0 442.5,558.5 444.0,562.7 445.5,569.3 447.0,577.6 448.5,585.5 450.0,590.9 451.5,593.0 453.0,593.4 454.5,594.4 456.0,598.0 457.5,604.1 459.0,610.9 460.5,616.2 462.0,619.0 463.5,620.0 465.0,621.7 466.5,625.8 468.0,632.4 469.5,639.9 471.0,646.0 472.5,649.6 474.0,650.9 475.5,651.6 477.0,653.8 478.5,658.3 480.0,664.1 481.5,669.2 483.0,671.7 484.5,671.5 486.0,670.1 487.5,669.9 489.0,672.0 490.5,675.7 492.0,679.2 493.5,680.5 495.0,679.3 496.5,677.0 498.0,675.5 499.5,676.4 501.0,679.3 502.5,682.5 504.0,684.4 505.5,684.0 507.0,681.9 508.5,680.0 510.0,679.9 511.5,681.7 513.0,684.2 514.5,685.4 516.0,684.4 517.5,682.0 519.0,679.9 520.5,679.7 522.0,681.5 523.5,683.9 525.0,684.7 526.5,683.0 528.0,679.4 529.5,676.0 531.0,674.6 532.5,675.7 534.0,678.2 535.5,680.1 537.0,679.9 538.5,677.5 540.0,674.3 541.5,672.3 543.0,672.5 544.5,674.2 546.0,675.9 547.5,675.8 549.0,673.6 550.5,670.4 552.0,668.1 553.5,667.9 555.0,669.8 556.5,672.1 558.0,673.6 559.5,673.5 561.0,672.0 562.5,670.3 564.0,669.8 565.5,670.8 567.0,672.3 568.5,672.7 570.0,671.3 571.5,669.0 573.0,668.6 574.5,670.6 576.0,673.7 577.5,676.7 579.0,678.6 580.5,678.6 582.0,676.7 583.5,674.7 585.0,674.2 586.5,675.8 588.0,678.7 589.5,681.1 591.0,681.8 592.5,680.5 594.0,678.4 595.5,677.2 597.0,677.8 598.5,679.8 600.0,681.5 601.5,681.8 603.0,680.2 604.5,678.2 606.0,677.4 607.5,678.4 609.0,680.7 610.5,682.6 612.0,683.0 613.5,681.6 615.0,679.5 616.5,678.4 618.0,679.5 619.5,682.6 621.0,686.3 622.5,689.2 624.0,690.9 625.5,691.9 627.0,693.4 628.5,696.3 630.0,700.9 631.5,706.5 633.0,711.5 634.5,714.9 636.0,716.7 637.5,718.3 639.0,720.9 640.5,725.4 642.0,730.9 643.5,735.9 645.0,739.2 646.5,740.6 648.0,741.2 649.5,742.4 651.0,744.9 652.5,748.6 654.0,752.1 655.5,754.0 657.0,754.1 658.5,753.2 660.0,752.8 661.5,753.8 663.0,756.2 664.5,758.7 666.0,760.0 667.5,759.6 669.0,758.0 670.5,756.6 672.0,756.4 673.5,757.6 675.0,759.0 676.5,759.5 678.0,758.4 679.5,756.2 681.0,753.9 682.5,752.9 684.0,753.2 685.5,754.1 687.0,754.2 688.5,752.9 690.0,750.0 691.5,746.8 693.0,744.4 694.5,743.2 696.0,742.6 697.5,741.4 699.0,738.6 700.5,733.6 702.0,727.3 703.5,721.2 705.0,716.6 706.5,712.8 708.0,708.6 709.5,703.1 711.0,695.6 712.5,687.1 714.0,679.6 715.5,674.5 717.0,672.3 718.5,670.7 720.0,668.9 721.5,667.1 723.0,666.0 724.5,666.0 726.0,667.7 727.5,671.0 729.0,676.9 730.5,683.6 732.0,689.4 733.5,693.5 735.0,696.1 736.5,699.2 738.0,703.1 739.5,707.2 741.0,710.6 742.5,712.6 744.0,713.5 745.5,714.1 747.0,715.4 748.5,717.7 750.0,720.6 751.5,723.1 753.0,724.4 754.5,724.7 756.0,724.7 757.5,725.3 759.0,727.0 760.5,729.6 762.0,732.1 763.5,733.8 765.0,734.6 766.5,734.9 768.0,735.7 769.5,737.5 771.0,740.1 772.5,742.9 774.0,745.0 775.5,746.2 777.0,746.8 778.5,747.7 780.0,749.4 781.5,751.8 783.0,754.4 784.5,756.4 786.0,757.5 787.5,758.0 789.0,758.5 790.5,759.7 792.0,761.6 793.5,763.8 795.0,765.7 796.5,766.8 798.0,767.4 799.5,767.8 801.0,768.8 802.5,770.4 804.0,772.5 805.5,774.3 807.0,775.5 808.5,776.1 810.0,776.5 811.5,777.3 813.0,778.6 814.5,780.5 816.0,782.2 817.5,783.5 819.0,784.3 820.5,784.7 822.0,785.4 823.5,786.4 825.0,787.8 826.5,789.0 828.0,789.8 829.5,790.2 831.0,790.3 832.5,790.6 834.0,791.1 835.5,792.0 837.0,792.8 838.5,793.3 840.0,793.3 841.5,793.0 843.0,792.5 844.5,792.3 846.0,792.3 847.5,792.4 849.0,792.2 850.5,791.8 852.0,791.1 853.5,790.4 855.0,789.8 856.5,789.4 858.0,789.1 859.5,788.5 861.0,787.6 862.5,786.5 864.0,785.4 865.5,784.3 867.0,783.3 868.5,782.4 870.0,781.4 871.5,780.4 873.0,779.3 874.5,778.2 876.0,777.1 877.5,776.0 879.0,774.8 880.5,773.5 882.0,772.2 883.5,770.8 885.0,769.3 886.5,767.5 888.0,765.5 889.5,763.3 891.0,761.1 892.5,758.9 894.0,756.7 895.5,754.6 897.0,752.7 898.5,750.9 900.0,749.1 901.5,747.3 903.0,745.5 904.5,743.8 906.0,742.2 907.5,740.8 909.0,739.5 910.5,738.0 912.0,736.0 913.5,732.9 915.0,728.4 916.5,723.0 918.0,717.0 919.5,710.6 921.0,702.8 922.5,694.2 924.0,685.3 925.5,676.3 927.0,665.8 928.5,656.1 930.0,650.2 931.5,646.2 933.0,643.1 934.5,641.3 936.0,641.2 937.5,642.4 939.0,644.6 940.5,647.3 942.0,650.7 943.5,655.9 945.0,662.2 946.5,668.7 948.0,674.8 949.5,681.2 951.0,687.6 952.5,694.1 954.0,700.2 955.5,706.4 957.0,712.5 958.5,718.2 960.0,723.0 961.5,727.0 963.0,730.8 964.5,734.2 966.0,737.3 967.5,740.2 969.0,742.8 970.5,745.3 972.0,747.7 973.5,749.9 975.0,751.9 976.5,753.8 978.0,755.6 979.5,757.1 981.0,758.7 982.5,760.2 984.0,761.4 985.5,762.0 987.0,761.9 988.5,761.4 990.0,760.7 991.5,759.8 993.0,758.8 994.5,757.7 996.0,756.5 997.5,755.0 999.0,753.1 1000.5,750.9 1002.0,748.6 1003.5,746.3 1005.0,744.0 1006.5,741.2 1008.0,738.1 1009.5,735.6 1011.0,735.0 1012.5,736.0 1014.0,737.7 1015.5,739.8 1017.0,741.7 1018.5,743.3 1020.0,744.9 1021.5,746.6 1023.0,748.1 1024.5,749.4 1026.0,750.3 1027.5,750.6 1029.0,750.5 1030.5,750.4 1032.0,750.3 1033.5,750.1 1035.0,750.0 1036.5,750.0 1038.0,750.1 1039.5,750.3 1041.0,750.6 1042.5,751.0 1044.0,751.3 1045.5,751.7 1047.0,752.3 1048.5,752.9 1050.0,753.6 1051.5,754.3 1053.0,755.0 1054.5,755.6 1056.0,756.4 1057.5,757.1 1059.0,757.9 1060.5,758.7 1062.0,759.6 1063.5,760.6 1065.0,761.6 1066.5,762.8 1068.0,763.9 1069.5,764.8 1071.0,765.7 1072.5,766.3 1074.0,767.0 1075.5,767.7 1077.0,768.2 1078.5,768.7 1080.0,768.9 1081.5,769.0 1083.0,768.9 1084.5,768.8 1086.0,768.5 1087.5,768.3 1089.0,768.0 1090.5,767.7 1092.0,767.4 1093.5,767.1 1095.0,766.7 1096.5,766.3 1098.0,765.9 1099.5,765.4 1101.0,765.0 1102.5,764.5 1104.0,764.0 1105.5,763.5 1107.0,763.0 1108.5,762.4 1110.0,761.7 1111.5,760.9 1113.0,759.5 1114.5,757.6 1116.0,755.3 1117.5,752.8 1119.0,750.3 1120.5,747.9 1122.0,745.1 1123.5,742.2 1125.0,739.4 1126.5,736.7 1128.0,734.4 1129.5,731.8 1131.0,729.3 1132.5,727.3 1134.0,726.1 1135.5,726.2 1137.0,727.4 1138.5,729.4 1140.0,732.0 1141.5,734.7 1143.0,738.1 1144.5,742.9 1146.0,748.4 1147.5,753.8 1149.0,758.4 1150.5,763.0 1152.0,767.5 1153.5,771.8 1155.0,775.8 1156.5,779.3 1158.0,782.4 1159.5,785.4 1161.0,788.1 1162.5,790.6 1164.0,792.7 1165.5,794.6 1167.0,796.4 1168.5,798.0 1170.0,799.4 1171.5,800.6 1173.0,801.4 1174.5,802.3 1176.0,803.0 1177.5,803.6 1179.0,803.9 1180.5,804.0 1182.0,803.8 1183.5,803.4 1185.0,802.9 1186.5,802.4 1188.0,801.8 1189.5,801.2 1191.0,800.7 1192.5,800.1 1194.0,799.5 1195.5,798.9 1197.0,798.2 1198.5,797.5 1200.0,796.5 1201.5,795.5 1203.0,794.4 1204.5,793.2 1206.0,792.0 1207.5,790.8 1209.0,789.6 1210.5,788.5 1212.0,787.5 1213.5,786.6 1215.0,785.7 1216.5,784.8 1218.0,783.9 1219.5,783.1 1221.0,782.2 1222.5,781.4 1224.0,780.6 1225.5,779.7 1227.0,778.8 1228.5,777.9 1230.0,777.1 1231.5,776.2 1233.0,775.3 1234.5,774.4 1236.0,773.5 1237.5,772.6 1239.0,771.7 1240.5,770.7 1242.0,769.7 1243.5,768.6 1245.0,767.5 1246.5,766.4 1248.0,765.2 1249.5,764.0 1251.0,762.7 1252.5,761.4 1254.0,760.0 1255.5,758.6 1257.0,757.1 1258.5,755.6 1260.0,754.0 1261.5,752.4 1263.0,750.6 1264.5,748.8 1266.0,746.9 1267.5,744.9 1269.0,742.7 1270.5,740.5 1272.0,738.1 1273.5,735.5 1275.0,732.8 1276.5,730.0 1278.0,726.9 1279.5,723.7 1281.0,720.3 1282.5,716.6 1284.0,712.5 1285.5,708.0 1287.0,703.3 1288.5,698.4 1290.0,693.2 1291.5,687.8 1293.0,682.0 1294.5,675.9 1296.0,669.6 1297.5,663.0 1299.0,655.8 1300.5,647.8 1302.0,640.0 1303.5,633.0 1305.0,626.9 1306.5,621.0 1308.0,615.8 1309.5,611.9 1311.0,609.5 1312.5,607.4 1314.0,605.9 1315.5,605.1 1317.0,605.3 1318.5,606.8 1320.0,609.2 1321.5,612.0 1323.0,615.5 1324.5,620.8 1326.0,627.2 1327.5,633.9 1329.0,640.0 1330.5,645.9 1332.0,652.0 1333.5,658.1 1335.0,664.2 1336.5,670.1 1338.0,676.0 1339.5,681.8 1341.0,687.7 1342.5,693.5 1344.0,699.0 1345.5,704.0 1347.0,708.7 1348.5,713.3 1350.0,717.5 1351.5,721.4 1353.0,724.9 1354.5,728.0 1356.0,730.9 1357.5,733.7 1359.0,736.2 1360.5,738.4 1362.0,740.4 1363.5,742.0 1365.0,743.4 1366.5,744.6 1368.0,745.7 1369.5,746.7 1371.0,747.7 1372.5,748.8 1374.0,750.1 1375.5,751.3 1377.0,752.5 1378.5,753.8 1380.0,755.1 1381.5,756.3 1383.0,757.6 1384.5,758.9 1386.0,760.3 1387.5,761.7 1389.0,763.1 1390.5,764.4 1392.0,765.5 1393.5,766.4 1395.0,767.1 1396.5,767.8 1398.0,768.5 1399.5,769.1 1401.0,769.6 1402.5,770.1 1404.0,770.3 1405.5,770.4 1407.0,770.3 1408.5,770.0 1410.0,769.6 1411.5,769.1 1413.0,768.5 1414.5,767.8 1416.0,767.0 1417.5,766.2 1419.0,765.1 1420.5,763.6 1422.0,761.9 1423.5,760.0 1425.0,757.9 1426.5,755.8 1428.0,753.7 1429.5,751.6 1431.0,749.3 1432.5,747.0 1434.0,744.5 1435.5,741.9 1437.0,739.3 1438.5,736.7 1440.0,734.0 1441.5,731.3 1443.0,728.6 1444.5,725.8 1446.0,723.0 1447.5,720.1 1449.0,717.2 1450.5,714.1 1452.0,711.0 1453.5,707.9 1455.0,704.7 1456.5,700.9 1458.0,695.8 1459.5,688.2 1461.0,680.0 1462.5,673.0 1464.0,665.0 1465.5,652.8 1467.0,636.8 1468.5,618.6 1470.0,596.0 1471.5,571.9 1473.0,546.2 1474.5,522.4 1476.0,500.3 1477.5,480.6 1479.0,464.8 1480.5,451.2 1482.0,440.0 1483.5,430.2 1485.0,421.4 1486.5,415.2 1488.0,412.1 1489.5,409.6 1491.0,407.8 1492.5,407.0 1494.0,407.8 1495.5,410.6 1497.0,414.7 1498.5,420.3 1500.0,432.5 1501.5,449.7 1503.0,467.6 1504.5,483.0 1506.0,498.2 1507.5,513.4 1509.0,528.0 1510.5,541.7 1512.0,554.1 1513.5,565.3 1515.0,575.9 1516.5,586.3 1518.0,597.2 1519.5,609.3 1521.0,623.6 1522.5,638.8 1524.0,653.8 1525.5,667.3 1527.0,678.2 1528.5,685.0 1530.0,688.1 1531.5,690.7 1533.0,692.9 1534.5,694.7 1536.0,696.4 1537.5,697.8 1539.0,699.0 1540.5,700.1 1542.0,701.0 1543.5,701.9 1545.0,702.7 1546.5,703.4 1548.0,704.0 1549.5,704.5 1551.0,705.0 1552.5,705.5 1554.0,706.0 1555.5,706.6 1557.0,707.3 1558.5,708.0 1560.0,709.0 1561.5,710.0 1563.0,711.2 1564.5,712.4 1566.0,713.6 1567.5,714.7 1569.0,715.9 1570.5,716.8 1572.0,717.7 1573.5,718.5 1575.0,719.2 1576.5,719.9 1578.0,720.6 1579.5,721.2 1581.0,721.8 1582.5,722.3 1584.0,722.8 1586.5,723.5"/>
</g>
</g>
<g fill="none" stroke="#000" stroke-width="3.5" stroke-linecap="round">
<path d="M217.3,1101.0V1092.0M247.0,1101.0V1083.0M276.8,1101.0V1092.0M306.6,1101.0V1092.0M336.3,1101.0V1092.0M366.1,1101.0V1092.0M395.9,1101.0V1083.0M425.6,1101.0V1092.0M455.4,1101.0V1092.0M485.2,1101.0V1092.0M514.9,1101.0V1092.0M544.7,1101.0V1083.0M574.5,1101.0V1092.0M604.2,1101.0V1092.0M634.0,1101.0V1092.0M663.8,1101.0V1092.0M693.5,1101.0V1083.0M723.3,1101.0V1092.0M753.1,1101.0V1092.0M782.8,1101.0V1092.0M812.6,1101.0V1092.0M842.4,1101.0V1083.0M872.1,1101.0V1092.0M901.9,1101.0V1092.0M931.6,1101.0V1092.0M961.4,1101.0V1092.0M991.2,1101.0V1083.0M1020.9,1101.0V1092.0M1050.7,1101.0V1092.0M1080.5,1101.0V1092.0M1110.2,1101.0V1092.0M1140.0,1101.0V1083.0M1169.8,1101.0V1092.0M1199.5,1101.0V1092.0M1229.3,1101.0V1092.0M1259.1,1101.0V1092.0M1288.8,1101.0V1083.0M1318.6,1101.0V1092.0M1348.4,1101.0V1092.0M1378.1,1101.0V1092.0M1407.9,1101.0V1092.0M1437.7,1101.0V1083.0M1467.4,1101.0V1092.0M1497.2,1101.0V1092.0M1527.0,1101.0V1092.0M1556.7,1101.0V1092.0M247.0,60.5V78.5M321.4,60.5V69.5M395.9,60.5V78.5M470.3,60.5V69.5M544.7,60.5V78.5M619.1,60.5V69.5M693.5,60.5V78.5M767.9,60.5V69.5M842.4,60.5V78.5M916.8,60.5V69.5M991.2,60.5V78.5M1065.6,60.5V69.5M1140.0,60.5V78.5M1214.4,60.5V69.5M1288.8,60.5V78.5M1363.3,60.5V69.5M1437.7,60.5V78.5M1512.1,60.5V69.5M1586.5,164.6H1568.5M1586.5,268.6H1568.5M1586.5,372.6H1568.5M1586.5,476.7H1568.5M1586.5,580.8H1568.5M1586.5,684.8H1568.5M1586.5,788.9H1568.5M1586.5,892.9H1568.5M1586.5,996.9H1568.5M1586.5,112.5H1577.5M1586.5,216.6H1577.5M1586.5,320.6H1577.5M1586.5,424.7H1577.5M1586.5,528.7H1577.5M1586.5,632.8H1577.5M1586.5,736.8H1577.5M1586.5,840.9H1577.5M1586.5,944.9H1577.5M1586.5,1049.0H1577.5"/>
</g>
<rect x="187.5" y="60.5" width="1399.0" height="1040.5" fill="none" stroke="#000" stroke-width="3.6" stroke-linejoin="round"/>
<g stroke="#000" fill="#000">
<line x1="497" y1="265" x2="362" y2="418" stroke-width="1.6"/>
<polygon points="349.2,434.4 360.4,413.1 368.8,421" stroke="none"/>
</g>
<g font-size="50" fill="#000" text-anchor="middle">
<text x="247.0" y="1160.7">50</text>
<text x="395.9" y="1160.7">100</text>
<text x="544.7" y="1160.7">150</text>
<text x="693.5" y="1160.7">200</text>
<text x="842.4" y="1160.7">250</text>
<text x="991.2" y="1160.7">300</text>
<text x="1140.0" y="1160.7">350</text>
<text x="1288.8" y="1160.7">400</text>
<text x="1437.7" y="1160.7">450</text>
<text x="1586.5" y="1160.7">500</text>
</g>
<g font-size="50" fill="#000" text-anchor="end">
<text x="168" y="197.8">1.0</text>
<text x="168" y="503.6">0.5</text>
<text x="168" y="809.4">0.0</text>
<text x="168" y="1115.2">-0.5</text>
</g>
<text x="77.7" y="556" font-size="49.5" text-anchor="middle" transform="rotate(-90 77.7 556)">absorbance</text>
<text x="676.4" y="1211.6" font-size="49.7">wavenumber (cm<tspan x="1055" y="1183.9" font-size="30">-1</tspan><tspan x="1082" y="1211.6" font-size="49.7">)</tspan></text>
<text x="677.9" y="266" font-size="58" font-weight="bold" fill="#960000">N1114-FTFSI</text>
<text x="511.9" y="390.6" font-size="57.8" fill="#008000">T increases from 120 to 340 K</text>
<g stroke-width="1.3">
<line x1="261.4" y1="848.2" x2="362.9" y2="848.2" stroke="#0000ff"/>
<line x1="261.4" y1="903.6" x2="362.9" y2="903.6" stroke="#008000"/>
<line x1="261.4" y1="959.3" x2="362.9" y2="959.3" stroke="#ff0000"/>
</g>
<g font-size="45" fill="#000">
<text x="375.5" y="863.8">anti</text>
<text x="375.5" y="919.2">gauche</text>
<text x="375.5" y="974.8">syn</text>
</g>
</svg>
</body></html>
